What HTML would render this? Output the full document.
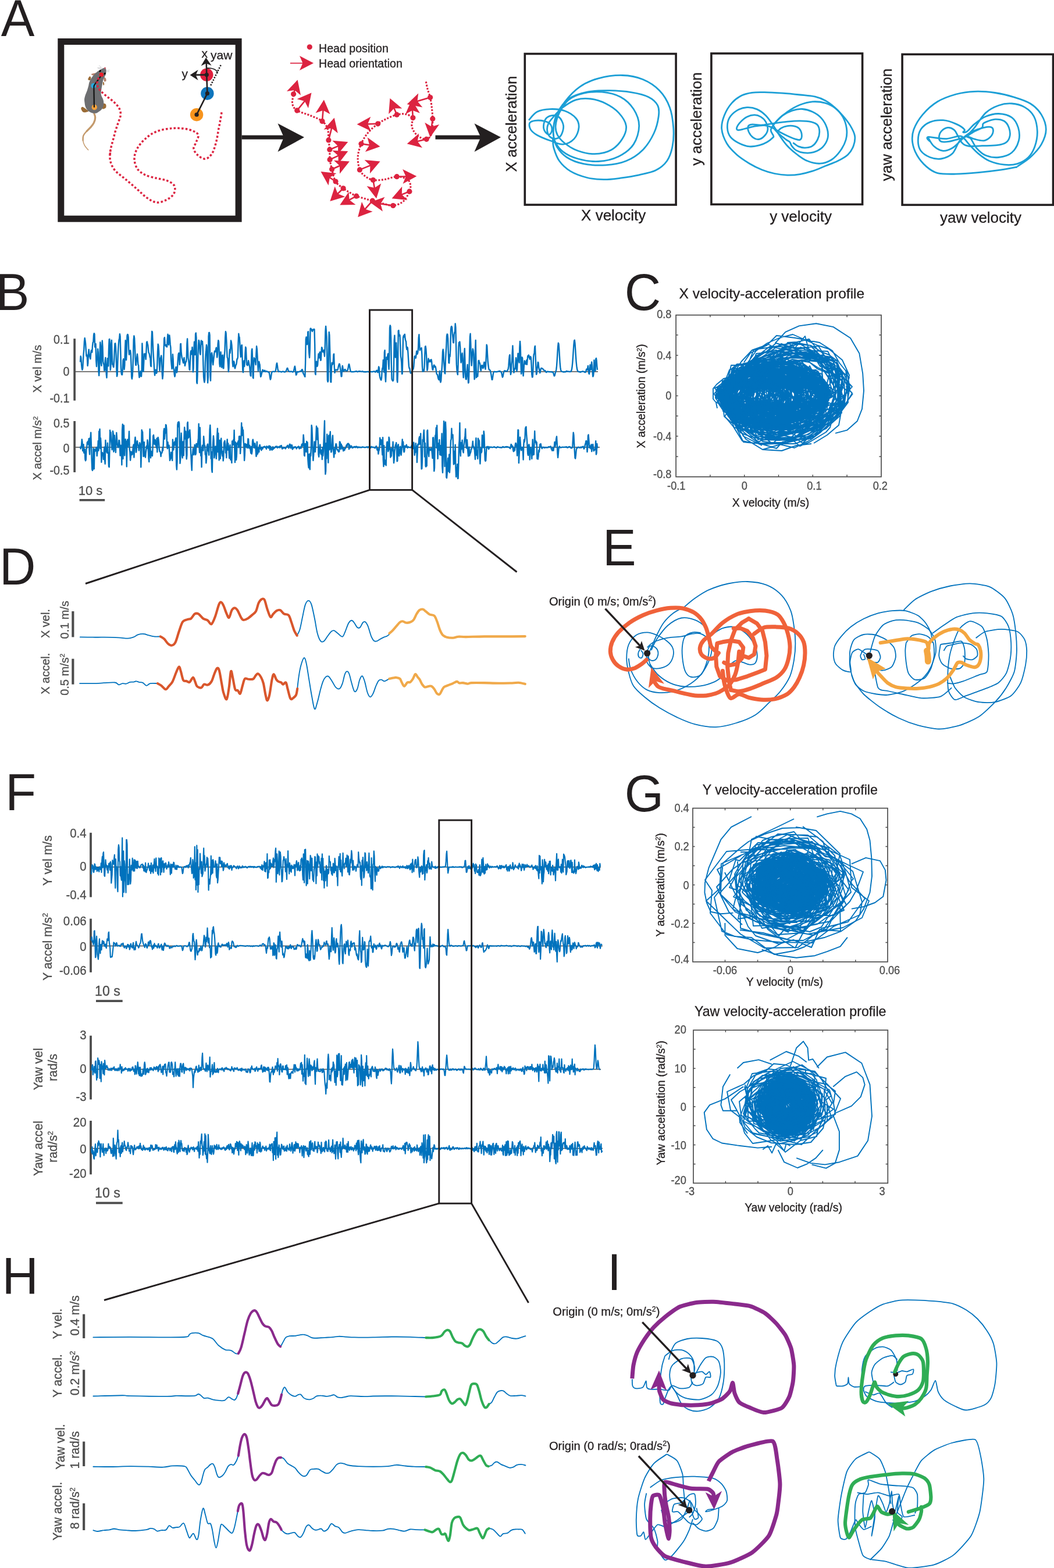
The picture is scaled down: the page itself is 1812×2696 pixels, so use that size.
<!DOCTYPE html>
<html lang="en">
<head>
<meta charset="utf-8">
<title>Head velocity-acceleration profiles</title>
<style>
html,body{margin:0;padding:0;background:#fff;}
body{width:1812px;height:2696px;overflow:hidden;}
svg{display:block;font-family:"Liberation Sans",Arial,Helvetica,sans-serif;}
text{stroke-width:.3px;}
</style>
</head>
<body>
<svg width="1812" height="2696" viewBox="0 0 1812 2696">
<rect width="1812" height="2696" fill="#ffffff"/>
<!-- panel A -->
<g>
<text transform="translate(1.7,61.8) scale(0.965,1)" font-size="89.5" fill="#231f20" stroke="none">A</text>
<rect x="104.8" y="71.5" width="305.3" height="304.7" fill="none" stroke="#231f20" stroke-width="11"/>
<path d="M161.5,194C161.9,195.4 163.7,199.2 163.7,202C163.7,204.8 162.8,208.1 161.5,210.8C160.3,213.5 158.5,215.6 156.4,218.1C154.4,220.5 150.4,224.1 149.2,225.4" fill="none" stroke="#c49a6c" stroke-width="3.2" stroke-linecap="round"/>
<path d="M156.4,218.1C155.2,219.3 151.3,222.8 149.2,225.4C147,227.9 144.4,230.7 143.3,233.4C142.2,236.1 142.7,240.1 142.6,241.4" fill="none" stroke="#c49a6c" stroke-width="2.4" stroke-linecap="round"/>
<path d="M143.3,233.4C143.2,234.7 142.2,238.6 142.6,241.4C143,244.2 144,247.4 145.5,250.1C147,252.9 150.7,256.5 151.7,257.8" fill="none" stroke="#c49a6c" stroke-width="1.5" stroke-linecap="round"/>
<path d="M139.3,186.7C139.2,185.3 140.5,183.7 141.9,183.8C143.3,183.9 146,186.2 147.7,187.5C149.4,188.7 152.1,190.2 152.1,191.1C152.1,192 149.3,192.7 147.7,192.9C146.1,193.2 144,193.6 142.6,192.6C141.2,191.5 139.4,188.2 139.3,186.7Z" fill="#9a6b35"/>
<path d="M177.6,178C178.7,177.3 181.2,178.2 182,179.4C182.7,180.7 182.8,183.9 182,185.3C181.1,186.6 177.9,187.7 176.9,187.5C175.8,187.2 175.3,185.4 175.4,183.8C175.5,182.2 176.5,178.7 177.6,178Z" fill="#9a6b35"/>
<path d="M151.3,136.4C151.2,135.3 153.4,131.8 154.3,131.3C155.1,130.9 156.3,132.4 156.4,133.5C156.6,134.6 155.8,137.4 155,137.9C154.1,138.4 151.5,137.5 151.3,136.4Z" fill="#9a6b35"/>
<path d="M176.9,142.3C177,141.3 177.9,140.3 178.3,140.8C178.7,141.3 179.3,144.2 179.2,145.2C179.1,146.2 178,147.1 177.6,146.6C177.2,146.2 176.7,143.2 176.9,142.3Z" fill="#9a6b35"/>
<path d="M157.2,127.3C158.1,126.7 164,125.2 165.2,125.5C166.4,125.8 165.4,128.5 164.5,129.2C163.5,129.8 160.6,129.8 159.4,129.5C158.1,129.2 156.2,128 157.2,127.3Z" fill="#b5816b"/>
<path d="M178.3,132.8C178.8,132 181.3,133.9 182,135C182.6,136.1 182.8,138.6 182.3,139.4C181.8,140.1 179.7,140.8 179,139.7C178.4,138.6 177.8,133.6 178.3,132.8Z" fill="#b5816b"/>
<path d="M180.9,116.4C181.6,117.1 182.5,119.3 182.7,121.1C182.9,123 182.4,125.9 182,127.7C181.5,129.5 180.5,130.6 179.8,132.1C179,133.5 178.1,134.9 177.6,136.4C177,138 176.9,139.7 176.5,141.5C176.1,143.4 175.8,145.3 175.4,147.4C175,149.4 174.6,151.7 174.3,153.9C174,156.1 173.5,158.6 173.6,160.5C173.6,162.4 174.1,163.9 174.7,165.6C175.3,167.3 176.6,168.9 177.2,170.7C177.8,172.5 178.2,174.6 178.3,176.5C178.4,178.5 178.2,180.4 177.6,182.4C177,184.3 175.9,186.6 174.7,188.2C173.4,189.8 171.7,190.8 170.3,191.8C168.8,192.9 167.5,193.9 165.9,194.4C164.3,194.9 162.5,194.9 160.8,194.8C159.1,194.6 157.4,194.1 155.7,193.3C154,192.4 152.1,191.2 150.6,189.7C149.2,188.1 147.8,186 147,183.8C146.1,181.6 145.8,178.8 145.5,176.5C145.2,174.2 144.9,172.3 145.1,170C145.4,167.7 146.2,165.1 147,162.7C147.8,160.3 149,157.8 149.9,155.4C150.7,153 151.5,150.4 152.1,148.1C152.7,145.8 152.7,143.9 153.5,141.5C154.4,139.2 155.7,136.6 157.2,134.3C158.6,131.9 160.5,129.6 162.3,127.7C164.1,125.8 166.2,124.1 168.1,122.6C170,121.1 172.2,119.9 173.9,119C175.6,118 177.2,117.6 178.3,117.1C179.5,116.7 180.1,115.7 180.9,116.4Z" fill="#6d6e71"/>
<circle cx="180.5" cy="117.1" r="1.6" fill="#c9606e"/>
<ellipse cx="172.1" cy="122.2" rx="1.3" ry="2" fill="#000" transform="rotate(35 172.1 122.2)"/>
<ellipse cx="180.1" cy="126.6" rx="1.3" ry="2" fill="#000" transform="rotate(35 180.1 126.6)"/>
<path d="M167.4,116.4L173.9,116.8 M168.1,118.2L174.3,117.9 M170.3,112.4L174.7,116.4 M184.1,121.9L188.5,120 M184.1,123.3L188.1,123" fill="none" stroke="#9d9fa2" stroke-width="0.5" />
<circle cx="160.8" cy="147.4" r="4.4" fill="#27aae1"/>
<circle cx="162.3" cy="184.5" r="4.7" fill="#f7a13a"/>
<circle cx="174.3" cy="128.4" r="3.7" fill="#ed1c24"/>
<path d="M172.8,131.7C172.2,132.5 167.8,138.5 166.6,140.1C165.5,141.7 162.2,145.6 161.7,147.4C161.2,149.2 161.5,154.7 161.5,158.3C161.6,162 161.9,181.3 161.9,183.8" fill="none" stroke="#111" stroke-width="2.2" stroke-linecap="round"/>
<path d="M174.3,128.4C173.4,129.6 170,133.3 168.8,135.7C167.6,138.1 167.1,140.6 167,143C167,145.4 167.6,147.8 168.5,149.9C169.4,152.1 170.9,153.9 172.5,155.8C174.1,157.6 176.1,159.2 177.9,160.9C179.8,162.5 181.5,164.1 183.4,165.6C185.3,167.1 187.3,168.5 189.2,170C191.2,171.5 193.3,173.1 195.1,174.7C196.9,176.3 198.6,178 200.2,179.8C201.8,181.6 203.4,183.2 204.5,185.3C205.7,187.4 206.7,190.2 207.1,192.6C207.5,194.9 207.5,197.2 207.1,199.5C206.7,201.8 205.7,204.1 204.9,206.4C204.1,208.7 203.2,211.1 202.4,213.3C201.6,215.6 200.9,217.7 200.2,219.9C199.4,222.1 198.7,224.5 198,226.8C197.3,229.1 196.8,231.4 196.2,233.7C195.6,236.1 195,238.4 194.3,240.7C193.7,242.9 193.1,244.9 192.5,247.2C191.9,249.5 191.2,252 190.7,254.5C190.2,257 189.5,259.9 189.2,262.2C188.9,264.5 188.8,269 188.9,268.4C189,267.7 189.9,257.1 190,258.3C190.1,259.5 188.2,269.8 189.4,275.5C190.7,281.2 193.1,287.4 197.4,292.7C201.8,298.1 208.9,302.3 215.2,307.7C221.6,313 229.1,319.5 235.3,324.9C241.5,330.3 246.8,336.2 252.6,340.1C258.3,344 264,347.6 269.8,348.1C275.5,348.6 282.1,345.8 287,343.2C291.9,340.7 296.9,336.9 299,332.9C301.1,328.9 301.6,322.9 299.6,319.1C297.6,315.4 292,312.6 287,310.5C282,308.4 276,308.1 269.8,306.5C263.6,304.9 255.3,303.5 249.7,300.8C244,298 239,294.5 235.9,289.9C232.8,285.2 231,278.4 231,272.6C231,266.9 232.8,261.1 235.9,255.4C239,249.8 244,243.7 249.7,238.8C255.3,233.8 261.6,228.9 269.8,225.9C277.9,222.8 289.4,220.9 298.5,220.4C307.6,219.9 317.3,220.9 324.3,222.7C331.3,224.5 338.2,227.5 340.4,231C342.6,234.6 338.7,239.9 337.5,243.9C336.3,248 332.5,251.6 332.9,255.4C333.3,259.2 336.7,263.9 340.1,266.9C343.4,269.9 348.9,273.7 353,273.2C357.1,272.7 361.4,268.9 364.5,264C367.6,259.2 369.7,251.1 371.7,243.9C373.6,236.8 374.8,227.2 376,221C377.2,214.8 378,211.3 378.8,206.6C379.7,201.9 380.7,195.2 381.1,192.9" fill="none" stroke="#dc2340" stroke-width="3.5" stroke-dasharray="3.5 3.3"/>
<circle cx="355.3" cy="128.6" r="11.2" fill="#e01f3d"/>
<circle cx="356.4" cy="160.7" r="11.2" fill="#0f75bc"/>
<circle cx="338.1" cy="197.2" r="11.2" fill="#f7941d"/>
<path d="M355.3,128.6 356.4,160.7 338.1,197.2" fill="none" stroke="#231f20" stroke-width="2.6" />
<circle cx="355.3" cy="128.6" r="3.6" fill="#231f20"/>
<circle cx="356.4" cy="160.7" r="3.6" fill="#231f20"/>
<circle cx="338.1" cy="197.2" r="3.6" fill="#231f20"/>
<path d="M362.2,146.9 380.3,110.5" fill="none" stroke="#231f20" stroke-width="2.6" stroke-dasharray="2.4 2.2"/>
<path d="M355.3,128.6 354.7,107" fill="none" stroke="#231f20" stroke-width="2.6" />
<path d="M354.1,99 345.6,113.3 354.4,109 363.6,112.7Z" fill="#231f20"/>
<path d="M355.3,128.6 334.6,128.9" fill="none" stroke="#231f20" stroke-width="2.6" />
<path d="M326.6,128.9 340.6,137.9 336.6,128.9 340.6,119.9Z" fill="#231f20"/>
<path d="M355.9,117.1C357.3,117.2 361.8,117 364.5,117.7C367.1,118.3 370,119.8 371.7,121.1C373.3,122.4 374,124.9 374.5,125.7" fill="none" stroke="#231f20" stroke-width="1.6" />
<text x="346.5" y="98.5" font-size="21" fill="#231f20" stroke="#231f20" text-anchor="start" >x</text>
<text x="362" y="102" font-size="21" fill="#231f20" stroke="#231f20" text-anchor="start" >yaw</text>
<text x="312.5" y="134" font-size="21" fill="#231f20" stroke="#231f20" text-anchor="start" >y</text>
<rect x="415.5" y="232.6" width="74.5" height="7" fill="#231f20"/>
<path d="M523,236.1L477.5,212.2L488,236.1L477.5,261Z" fill="#231f20"/>
<rect x="748.5" y="232.6" width="79.5" height="7" fill="#231f20"/>
<path d="M861,236.1L815.5,212.2L826.5,236.1L815.5,261Z" fill="#231f20"/>
<circle cx="532.3" cy="80.8" r="4.6" fill="#dc2340"/>
<text x="548" y="89.6" font-size="19.6" fill="#231f20" stroke="#231f20" text-anchor="start" >Head position</text>
<text x="548" y="116.2" font-size="19.6" fill="#231f20" stroke="#231f20" text-anchor="start" >Head orientation</text>
<path d="M498.9,108.6 531,108.6" fill="none" stroke="#dc2340" stroke-width="1.8" />
<path d="M539,108.6 515,96.1 520.5,108.6 515,121.1Z" fill="#dc2340"/>
<path d="M732.3,140.4C732.8,142.8 734.2,150.3 735.5,154.8C736.7,159.3 738.4,162.2 739.6,167.6C740.8,172.9 741.8,180.6 742.5,186.7C743.2,192.8 743.6,198.4 743.8,204.2C743.9,210.1 743.6,217 743.1,221.8C742.6,226.5 742.2,230 740.6,232.9C738.9,235.8 736.6,238.9 733.2,239.3C729.9,239.7 724.2,237.5 720.5,235.2C716.8,232.8 713,228.5 710.9,224.9C708.8,221.4 707.9,217.5 707.7,213.8C707.6,210.1 711.8,205.6 709.9,202.6C708.1,199.7 701.2,197.2 696.6,196.2C691.9,195.3 687.5,195.9 682.2,197.2C676.9,198.5 670.1,201.6 664.7,204.2C659.2,206.8 655,208.8 649.7,212.8C644.4,216.8 637.6,222.4 632.8,228.1C628,233.9 623.9,240.4 621,247.3C618.1,254.2 615.7,262.2 615.2,269.6C614.8,277 616.3,286.3 618.4,291.9C620.6,297.5 624.2,300.2 628,303.1C631.8,306 635.8,308.5 641.4,309.5C647,310.4 654.7,309.5 661.5,308.5C668.3,307.5 675.8,303.8 682.2,303.7C688.6,303.6 695.9,305.6 699.7,307.9C703.6,310.1 704.8,313.9 705.5,317.4C706.2,321 705.9,324.4 703.9,329.2C701.9,334 698,342.1 693.4,346.1C688.7,350.2 681.7,352.8 675.8,353.5C670,354.1 664.2,351.3 658.3,349.9C652.4,348.6 645.7,346.6 640.4,345.2C635.1,343.7 631,342.7 626.4,341.3C621.8,340 616.9,338.9 612.7,337.2C608.4,335.4 604.7,333 600.9,330.8C597.1,328.6 594,326.9 590.1,323.8C586.1,320.7 580.2,317.5 577,312C573.7,306.5 572.2,297.2 570.6,291C569,284.7 567.7,280 567.1,274.4C566.5,268.7 567.1,262.7 566.8,257.2C566.4,251.6 565.4,246.8 564.9,240.9C564.3,235 565.1,227.2 563.3,221.8C561.5,216.3 558.9,212.2 554,208.4C549.1,204.5 541.2,201.9 533.9,198.8C526.7,195.7 515.9,193.2 510.7,189.9C505.4,186.5 503.7,183.4 502.7,178.7C501.7,174 504.3,164.6 504.6,161.8" fill="none" stroke="#dc2340" stroke-width="3.1" stroke-dasharray="3.0 2.4"/>
<circle cx="504.6" cy="161.8" r="4.6" fill="#dc2340"/>
<path d="M504.6,161.8 509.4,144.9" fill="none" stroke="#dc2340" stroke-width="2.6" />
<path d="M511.6,137.3 493,156.9 506.5,155 517,163.8Z" fill="#dc2340"/>
<circle cx="510.7" cy="189.9" r="4.6" fill="#dc2340"/>
<path d="M510.7,189.9 530.4,165.8" fill="none" stroke="#dc2340" stroke-width="2.6" />
<path d="M535.5,159.6 510.6,170.2 523.8,173.9 530,186.1Z" fill="#dc2340"/>
<circle cx="554" cy="208.4" r="4.6" fill="#dc2340"/>
<path d="M554,208.4 556.3,179.4" fill="none" stroke="#dc2340" stroke-width="2.6" />
<path d="M556.9,171.4 542.6,194.3 555.5,189.8 567.5,196.3Z" fill="#dc2340"/>
<circle cx="564.9" cy="240.9" r="4.6" fill="#dc2340"/>
<path d="M564.9,240.9 572.7,210.4" fill="none" stroke="#dc2340" stroke-width="2.6" />
<path d="M574.7,202.6 556.6,222.7 570.1,220.5 580.8,229Z" fill="#dc2340"/>
<circle cx="566.8" cy="257.2" r="4.6" fill="#dc2340"/>
<path d="M566.8,257.2 591,247.1" fill="none" stroke="#dc2340" stroke-width="2.6" />
<path d="M598.3,244.1 571.4,241.7 581.2,251.2 581,264.8Z" fill="#dc2340"/>
<circle cx="567.1" cy="274.4" r="4.6" fill="#dc2340"/>
<path d="M567.1,274.4 591.1,263.4" fill="none" stroke="#dc2340" stroke-width="2.6" />
<path d="M598.3,260 571.3,258.7 581.5,267.7 581.7,281.4Z" fill="#dc2340"/>
<circle cx="570.6" cy="291" r="4.6" fill="#dc2340"/>
<path d="M570.6,291 593.6,280.8" fill="none" stroke="#dc2340" stroke-width="2.6" />
<path d="M600.9,277.6 573.9,275.8 584,285 584,298.7Z" fill="#dc2340"/>
<circle cx="577" cy="312" r="4.6" fill="#dc2340"/>
<path d="M577,312 558.1,299.5" fill="none" stroke="#dc2340" stroke-width="2.6" />
<path d="M551.5,295.1 564.6,318.8 566.9,305.3 578.4,297.9Z" fill="#dc2340"/>
<circle cx="590.1" cy="323.8" r="4.6" fill="#dc2340"/>
<path d="M590.1,323.8 573.1,340.5" fill="none" stroke="#dc2340" stroke-width="2.6" />
<path d="M567.4,346.1 593.3,338.2 580.6,333.1 575.7,320.4Z" fill="#dc2340"/>
<circle cx="612.7" cy="337.2" r="4.6" fill="#dc2340"/>
<path d="M612.7,337.2 591.4,348.7" fill="none" stroke="#dc2340" stroke-width="2.6" />
<path d="M584.3,352.5 611.4,352.1 600.6,343.7 599.5,330.1Z" fill="#dc2340"/>
<circle cx="640.4" cy="345.2" r="4.6" fill="#dc2340"/>
<path d="M640.4,345.2 620.6,367.3" fill="none" stroke="#dc2340" stroke-width="2.6" />
<path d="M615.2,373.2 640.6,363.7 627.6,359.5 622,347Z" fill="#dc2340"/>
<circle cx="675.8" cy="353.5" r="4.6" fill="#dc2340"/>
<path d="M675.8,353.5 643.9,348.9" fill="none" stroke="#dc2340" stroke-width="2.6" />
<path d="M636,347.7 657.9,363.5 654.3,350.4 661.5,338.8Z" fill="#dc2340"/>
<circle cx="703.9" cy="329.2" r="4.6" fill="#dc2340"/>
<path d="M703.9,329.2 681,338.4" fill="none" stroke="#dc2340" stroke-width="2.6" />
<path d="M673.6,341.3 700.5,344 690.8,334.5 691.2,320.8Z" fill="#dc2340"/>
<circle cx="682.2" cy="303.7" r="4.6" fill="#dc2340"/>
<path d="M682.2,303.7 708.3,303.2" fill="none" stroke="#dc2340" stroke-width="2.6" />
<path d="M716.3,303.1 692.1,291 697.8,303.4 692.6,316Z" fill="#dc2340"/>
<circle cx="641.4" cy="309.5" r="4.6" fill="#dc2340"/>
<path d="M641.4,309.5 645.7,333.5" fill="none" stroke="#dc2340" stroke-width="2.6" />
<path d="M647.1,341.3 655.2,315.5 643.9,323.1 630.6,319.9Z" fill="#dc2340"/>
<circle cx="618.4" cy="291.9" r="4.6" fill="#dc2340"/>
<path d="M618.4,291.9 646.1,280.6" fill="none" stroke="#dc2340" stroke-width="2.6" />
<path d="M653.5,277.6 626.6,275.1 636.4,284.6 636,298.2Z" fill="#dc2340"/>
<circle cx="621" cy="247.3" r="4.6" fill="#dc2340"/>
<path d="M621,247.3 645.6,250.9" fill="none" stroke="#dc2340" stroke-width="2.6" />
<path d="M653.5,252.1 631.6,236.2 635.2,249.4 627.9,260.9Z" fill="#dc2340"/>
<circle cx="649.7" cy="212.8" r="4.6" fill="#dc2340"/>
<path d="M649.7,212.8 621.6,213.6" fill="none" stroke="#dc2340" stroke-width="2.6" />
<path d="M613.6,213.8 638,225.6 632.1,213.3 637.3,200.7Z" fill="#dc2340"/>
<circle cx="682.2" cy="197.2" r="4.6" fill="#dc2340"/>
<path d="M682.2,197.2 673.5,176.5" fill="none" stroke="#dc2340" stroke-width="2.6" />
<path d="M670.4,169.1 668.2,196.1 677.6,186.2 691.2,186.4Z" fill="#dc2340"/>
<circle cx="709.9" cy="202.6" r="4.6" fill="#dc2340"/>
<path d="M709.9,202.6 708.3,179.4" fill="none" stroke="#dc2340" stroke-width="2.6" />
<path d="M707.7,171.4 697,196.2 709,189.8 721.9,194.4Z" fill="#dc2340"/>
<circle cx="739.6" cy="167.6" r="4.6" fill="#dc2340"/>
<path d="M739.6,167.6 707.4,177.1" fill="none" stroke="#dc2340" stroke-width="2.6" />
<path d="M699.7,179.3 726.3,184.5 717.5,174.1 719.2,160.6Z" fill="#dc2340"/>
<circle cx="743.8" cy="204.2" r="4.6" fill="#dc2340"/>
<path d="M743.8,204.2 740.6,228.2" fill="none" stroke="#dc2340" stroke-width="2.6" />
<path d="M739.6,236.1 755.1,213.9 742,217.8 730.3,210.7Z" fill="#dc2340"/>
<circle cx="733.2" cy="239.3" r="4.6" fill="#dc2340"/>
<path d="M733.2,239.3 707.5,245.4" fill="none" stroke="#dc2340" stroke-width="2.6" />
<path d="M699.7,247.3 726,253.9 717.7,243 720.2,229.6Z" fill="#dc2340"/>
<rect x="902.3" y="92.5" width="259.8" height="259.6" fill="none" stroke="#231f20" stroke-width="3.6"/>
<rect x="1222.9" y="91.9" width="259.7" height="259.5" fill="none" stroke="#231f20" stroke-width="3.6"/>
<rect x="1551.1" y="93.4" width="259.4" height="258.9" fill="none" stroke="#231f20" stroke-width="3.6"/>
<text x="887.5" y="213" font-size="26" fill="#231f20" stroke="#231f20" text-anchor="middle" transform="rotate(-90 887.5 213)" >X acceleration</text>
<text x="1206" y="204.5" font-size="26" fill="#231f20" stroke="#231f20" text-anchor="middle" transform="rotate(-90 1206 204.5)" >y acceleration</text>
<text x="1532.8" y="214.5" font-size="26" fill="#231f20" stroke="#231f20" text-anchor="middle" transform="rotate(-90 1532.8 214.5)" >yaw acceleration</text>
<text x="1054.7" y="378.6" font-size="26" fill="#231f20" stroke="#231f20" text-anchor="middle" >X velocity</text>
<text x="1376.6" y="381" font-size="26" fill="#231f20" stroke="#231f20" text-anchor="middle" >y velocity</text>
<text x="1686" y="382.6" font-size="26" fill="#231f20" stroke="#231f20" text-anchor="middle" >yaw velocity</text>
<path d="M909,206.7C911.4,204.3 917.2,195.5 923.3,192.3C929.5,189.1 937.7,187.8 945.7,187.6C953.6,187.3 963.7,188.1 971.2,190.7C978.6,193.4 986.3,198.7 990.3,203.5C994.3,208.3 995.6,213.6 995.1,219.4C994.6,225.3 991.6,233.8 987.1,238.6C982.6,243.4 974.9,247.6 968,248.1C961.1,248.7 953.1,244.4 945.7,241.8C938.2,239.1 928.9,235.4 923.3,232.2C917.8,229 914.3,226.1 912.2,222.6C910.1,219.2 909.3,214 910.6,211.5C911.9,208.9 915.9,207.9 920.2,207.3C924.4,206.8 931.8,207.3 936.1,208.3C940.3,209.2 943.5,210.7 945.7,213.1C947.8,215.5 948.9,219.7 948.9,222.6C948.9,225.6 947.3,229.5 945.7,230.6C944.1,231.7 941.1,230.9 939.3,229C937.4,227.1 934.8,223.4 934.5,219.4C934.2,215.5 935.3,208.5 937.7,205.1C940.1,201.6 944.9,199.2 948.9,198.7C952.8,198.2 958.3,199 961.6,201.9C964.9,204.8 968.1,211.2 968.6,216.2C969.2,221.3 967,228.5 964.8,232.2C962.6,235.9 958.4,238 955.2,238.6C952,239.1 948.1,237.5 945.7,235.4C943.3,233.3 941.4,229.5 940.9,225.8C940.3,222.1 940.6,217.3 942.5,213.1C944.3,208.8 947.8,205.1 952,200.3C956.3,195.5 961.6,189.1 968,184.4C974.4,179.6 982.3,174 990.3,171.6C998.3,169.2 1007.3,168.9 1015.8,170C1024.3,171.1 1033.4,174 1041.3,178C1049.3,182 1057.8,187.6 1063.6,193.9C1069.5,200.3 1075.3,208.8 1076.4,216.2C1077.5,223.7 1074.3,231.7 1070,238.6C1065.8,245.5 1058.9,253.3 1050.9,257.7C1042.9,262.1 1031.8,264.5 1022.2,264.7C1012.6,265 1002,262.3 993.5,259.3C985,256.3 977,251.1 971.2,246.5C965.3,242 961.1,237.2 958.4,232.2C955.8,227.1 954.7,222.6 955.2,216.2C955.8,209.9 957.9,201.4 961.6,193.9C965.3,186.5 970.6,177.2 977.6,171.6C984.5,166 993.5,162.7 1003.1,160.4C1012.6,158.2 1024.3,157.2 1034.9,158.2C1045.6,159.3 1057.8,161.9 1066.8,166.8C1075.9,171.7 1083.8,179.3 1089.2,187.6C1094.5,195.8 1098.7,206.2 1098.7,216.2C1098.7,226.3 1095,239.4 1089.2,248.1C1083.3,256.9 1073.7,264 1063.6,268.9C1053.6,273.8 1040.3,276.8 1028.6,277.5C1016.9,278.2 1003.6,275.8 993.5,273C983.4,270.2 974.6,266.1 968,260.9C961.3,255.7 956.4,248.7 953.6,241.8C950.9,234.9 950.6,227.4 951.4,219.4C952.2,211.5 954.1,202.2 958.4,193.9C962.8,185.7 969,176 977.6,170C986.1,164.1 997.7,160.6 1009.4,158.2C1021.1,155.8 1034.9,155.6 1047.7,155.7C1060.5,155.8 1074.8,157 1086,158.9C1097.1,160.7 1107.2,163.1 1114.7,166.8C1122.1,170.5 1127.7,175.6 1130.6,181.2C1133.5,186.8 1133.3,192.3 1132.2,200.3C1131.1,208.3 1128.8,219.4 1124.2,229C1119.7,238.6 1113.1,249.7 1105.1,257.7C1097.1,265.7 1087,272.5 1076.4,276.8C1065.8,281.2 1053.6,283.1 1041.3,283.9C1029.1,284.6 1014.2,283.9 1003.1,281.6C991.9,279.4 982.1,275.5 974.4,270.5C966.7,265.4 960.7,258.2 956.8,251.3C953,244.4 951.7,237 951.4,229C951.1,221 951.9,212.5 955.2,203.5C958.5,194.5 964.3,183.8 971.2,174.8C978.1,165.8 987.1,155.9 996.7,149.3C1006.2,142.6 1016.3,138.2 1028.6,134.9C1040.8,131.6 1057.3,129.2 1070,129.5C1082.8,129.8 1094.5,132.2 1105.1,136.5C1115.7,140.9 1126.1,147.7 1133.8,155.7C1141.5,163.6 1147.4,173.7 1151.3,184.4C1155.3,195 1156.9,208.3 1157.7,219.4C1158.5,230.6 1158,241.8 1156.1,251.3C1154.3,260.9 1151.3,269.9 1146.6,276.8C1141.8,283.7 1135.4,288.8 1127.4,292.8C1119.5,296.8 1108.8,298.5 1098.7,300.8C1088.6,303 1076.9,304.8 1066.8,306.2C1056.7,307.5 1047.7,308.8 1038.1,308.7C1028.6,308.6 1019,307.9 1009.4,305.5C999.9,303.1 988.7,299.2 980.7,294.4C972.8,289.6 966.4,283.5 961.6,276.8C956.8,270.2 953.9,260.9 952,254.5C950.2,248.1 950.7,241.2 950.4,238.6" fill="none" stroke="#1c9fd6" stroke-width="2.8" stroke-linejoin="round"/>
<path d="M1240.7,221.5C1240,213.6 1242.2,206.2 1245.1,198.8C1247.9,191.4 1253,182.9 1258.1,177.1C1263.1,171.3 1269.6,167 1275.4,164.1C1281.2,161.1 1286.2,160.2 1292.8,159.3C1299.3,158.4 1305.8,158.5 1314.4,158.7C1323.1,158.8 1334.7,159.5 1344.8,160.2C1354.9,160.9 1365.8,162 1375.2,163C1384.5,164 1393.9,164.6 1401.2,166.2C1408.4,167.9 1413.1,169.9 1418.5,172.8C1423.9,175.6 1428.6,179.3 1433.7,183.6C1438.8,187.9 1444.2,193.4 1448.9,198.8C1453.6,204.2 1458.5,210.3 1461.9,216.1C1465.3,221.9 1468.6,227.7 1469.5,233.5C1470.4,239.3 1469.3,245.4 1467.3,250.8C1465.3,256.2 1462.1,261.7 1457.6,266C1453,270.3 1446.7,273.6 1440.2,276.8C1433.7,280.1 1425.7,282.6 1418.5,285.5C1411.3,288.4 1404.1,291.8 1396.8,294.2C1389.6,296.5 1382.4,298.4 1375.2,299.6C1367.9,300.8 1360.7,301.3 1353.5,301.1C1346.2,300.9 1339,300 1331.8,298.5C1324.6,297 1317.3,294.9 1310.1,292C1302.9,289.1 1295.6,285.5 1288.4,281.2C1281.2,276.8 1273.2,271.8 1266.7,266C1260.2,260.2 1253.7,253.9 1249.4,246.5C1245.1,239.1 1241.4,229.5 1240.7,221.5Z" fill="none" stroke="#1c9fd6" stroke-width="2.8" stroke-linejoin="round"/>
<path d="M1250.5,220.5C1250.1,215 1251,208.2 1253.7,203.1C1256.4,198.1 1261.7,193.2 1266.7,190.1C1271.8,187 1278.3,185 1284.1,184.7C1289.9,184.3 1296,185.6 1301.4,187.9C1306.8,190.3 1311.9,194.1 1316.6,198.8C1321.3,203.5 1325.6,210.3 1329.6,216.1C1333.6,221.9 1336.5,227.7 1340.5,233.5C1344.4,239.3 1348.4,245.4 1353.5,250.8C1358.5,256.2 1365,261.7 1370.8,266C1376.6,270.3 1381.7,274.3 1388.2,276.8C1394.7,279.4 1403,281.5 1409.8,281.2C1416.7,280.8 1423.6,278.3 1429.4,274.7C1435.1,271.1 1440.4,265.3 1444.5,259.5C1448.7,253.7 1452.5,246.5 1454.3,240C1456.1,233.5 1456.3,227 1455.4,220.5C1454.5,214 1452.1,206.7 1448.9,200.9C1445.6,195.2 1440.9,189.7 1435.9,185.8C1430.8,181.8 1425,178.9 1418.5,177.1C1412,175.3 1404.1,174.4 1396.8,174.9C1389.6,175.5 1382.4,177.5 1375.2,180.3C1367.9,183.2 1360,187.8 1353.5,192.3C1347,196.8 1340.8,202.4 1336.1,207.4C1331.4,212.5 1326.4,218.3 1325.3,222.6C1324.2,227 1329.1,231.1 1329.6,233.5C1330.2,235.8 1330.3,234.9 1328.5,236.7C1326.7,238.5 1322.6,242.1 1318.8,244.3C1315,246.5 1310.8,248.5 1305.8,249.7C1300.7,251 1294.2,252.4 1288.4,251.9C1282.6,251.4 1276.5,249.2 1271.1,246.5C1265.7,243.8 1259.3,240 1255.9,235.6C1252.5,231.3 1250.8,225.9 1250.5,220.5Z" fill="none" stroke="#1c9fd6" stroke-width="2.8" stroke-linejoin="round"/>
<path d="M1331.8,211.8C1334,209.6 1339.7,202.4 1344.8,198.8C1349.9,195.2 1356.4,192 1362.1,190.1C1367.9,188.2 1373.7,187.1 1379.5,187.5C1385.3,187.9 1391.4,189.7 1396.8,192.3C1402.3,194.9 1407.9,198.4 1412,203.1C1416.2,207.8 1420,214.7 1421.8,220.5C1423.6,226.2 1424.1,232.4 1422.9,237.8C1421.6,243.2 1418.2,249 1414.2,253C1410.2,257 1404.4,260 1399,261.7C1393.6,263.3 1386.7,263.3 1381.7,262.7C1376.6,262.2 1372.1,260.4 1368.6,258.4C1365.2,256.4 1362.9,253.2 1361.1,250.8C1359.3,248.5 1359.4,246.1 1357.8,244.3C1356.2,242.5 1354.2,242.1 1351.3,240C1348.4,237.8 1343.7,234.2 1340.5,231.3C1337.2,228.4 1333.2,224.1 1331.8,222.6" fill="none" stroke="#1c9fd6" stroke-width="2.8" stroke-linejoin="round"/>
<path d="M1363.2,245.4C1364.9,246.5 1369.6,250.5 1373,251.9C1376.4,253.3 1379.9,254.2 1383.8,254.1C1387.8,253.9 1393.2,253.2 1396.8,250.8C1400.5,248.5 1403.5,243.9 1405.5,240C1407.5,236 1408.8,231.1 1408.8,227C1408.8,222.8 1407.9,217.9 1405.5,215C1403.2,212.1 1399.7,210.8 1394.7,209.6C1389.6,208.4 1382,208 1375.2,207.9C1368.3,207.8 1360.7,208.5 1353.5,209.2C1346.2,209.8 1339,210.8 1331.8,211.8C1324.6,212.8 1316.6,214.7 1310.1,215C1303.6,215.4 1296.7,213.6 1292.8,214C1288.8,214.3 1287.2,215 1286.2,217.2C1285.3,219.4 1285.9,223.7 1287.3,227C1288.8,230.2 1292,234.6 1294.9,236.7C1297.8,238.8 1301.4,240.1 1304.7,239.5C1307.9,239 1311.9,236.3 1314.4,233.5C1317,230.7 1319.5,226.6 1319.9,222.6C1320.2,218.7 1318.6,213.2 1316.6,209.6C1314.6,206 1311.2,202.9 1307.9,200.9C1304.7,199 1301.1,197.7 1297.1,197.7C1293.1,197.7 1288.1,199 1284.1,200.9C1280.1,202.9 1276.1,206.5 1273.2,209.6C1270.3,212.7 1267.5,217 1266.7,219.4C1266,221.7 1266.7,223.4 1268.9,223.7C1271.1,224.1 1275,222.6 1279.7,221.5C1284.4,220.5 1291.3,218.2 1297.1,217.2C1302.9,216.2 1309.4,215.3 1314.4,215.7C1319.5,216.1 1323.1,217.5 1327.4,219.4C1331.8,221.3 1336.1,224.6 1340.5,227C1344.8,229.3 1349.1,231.5 1353.5,233.5C1357.8,235.5 1362.9,237.7 1366.5,238.9C1370.1,240 1373.2,241.3 1375.2,240.4C1377.1,239.5 1378.4,236.4 1378.4,233.5C1378.4,230.5 1377.1,225.3 1375.2,222.6C1373.2,219.9 1370.1,218.2 1366.5,217.2C1362.9,216.2 1357.4,216 1353.5,216.6C1349.5,217.1 1345.5,218.7 1342.6,220.5C1339.7,222.2 1337.2,225.9 1336.1,227" fill="none" stroke="#1c9fd6" stroke-width="2.8" stroke-linejoin="round"/>
<path d="M1595.8,237C1597.4,239.4 1601.1,247.6 1605.4,251.3C1609.6,255 1616,258.8 1621.3,259.3C1626.6,259.8 1632.5,257.2 1637.3,254.5C1642,251.9 1646.3,246.8 1650,243.4C1653.7,239.9 1655.9,236.7 1659.6,233.8C1663.3,230.9 1667,228.2 1672.3,225.8C1677.6,223.4 1686.1,220.6 1691.5,219.4C1696.8,218.3 1701.6,217.7 1704.2,218.8C1706.9,219.9 1707.7,223.1 1707.4,225.8C1707.1,228.6 1705.3,232.7 1702.6,235.4C1700,238 1696,241.1 1691.5,241.8C1686.9,242.4 1680.3,240.4 1675.5,239.2C1670.7,238 1667,234.9 1662.8,234.7C1658.5,234.6 1655.3,237.1 1650,238.6C1644.7,240 1636.2,242.6 1630.9,243.4C1625.6,244.2 1620.9,244.4 1618.1,243.4C1615.4,242.3 1614.3,239.9 1614.3,237C1614.3,234.1 1615.6,228.7 1618.1,225.8C1620.6,222.9 1625.6,219.9 1629.3,219.4C1633,219 1637.5,220.9 1640.4,223.3C1643.4,225.7 1644.4,229.9 1646.8,233.8C1649.2,237.7 1651.6,243.6 1654.8,246.5C1658,249.5 1660.4,250.6 1666,251.3C1671.5,252 1680.3,251 1688.3,250.7C1696.2,250.4 1706.9,250.7 1713.8,249.7C1720.7,248.8 1726,247.6 1729.7,244.9C1733.4,242.3 1735.3,238 1736.1,233.8C1736.9,229.5 1736.1,223.7 1734.5,219.4C1732.9,215.2 1730.5,210.7 1726.5,208.3C1722.6,205.9 1715.9,204.8 1710.6,205.1C1705.3,205.4 1698.1,208.5 1694.7,209.9C1691.2,211.2 1690.9,211.5 1689.9,213.1C1688.8,214.7 1690.7,217.3 1688.3,219.4C1685.9,221.6 1679.8,223.4 1675.5,225.8C1671.3,228.2 1667,231.1 1662.8,233.8C1658.5,236.4 1654.3,236.7 1650,241.8C1645.8,246.8 1642.6,258.9 1637.3,264.1C1631.9,269.3 1624.5,271.9 1618.1,273C1611.7,274.1 1604.8,272.7 1599,270.5C1593.1,268.2 1586.5,264.1 1583,259.3C1579.6,254.5 1578.3,247.9 1578.3,241.8C1578.3,235.6 1579.6,227.9 1583,222.6C1586.5,217.3 1592.6,212.5 1599,209.9C1605.4,207.2 1613.9,206.2 1621.3,206.7C1628.8,207.2 1637.5,210.4 1643.6,213.1C1649.7,215.7 1656,220.2 1658,222.6C1660,225 1655,226.9 1655.8,227.4C1656.5,227.9 1659.5,228.2 1662.8,225.8C1666.1,223.4 1670.2,217.3 1675.5,213.1C1680.8,208.8 1687.7,203.2 1694.7,200.3C1701.6,197.4 1709.5,195.3 1717,195.5C1724.4,195.8 1733.7,197.9 1739.3,201.9C1744.9,205.9 1748.4,212.8 1750.5,219.4C1752.5,226.1 1753.3,234.6 1751.4,241.8C1749.6,248.9 1745,257.7 1739.3,262.5C1733.6,267.3 1724.4,269.7 1717,270.5C1709.5,271.3 1701,269.9 1694.7,267.3C1688.3,264.6 1683,259.3 1678.7,254.5C1674.5,249.7 1671.8,242 1669.1,238.6C1666.5,235.1 1661.7,237 1662.8,233.8C1663.8,230.6 1670.2,226.1 1675.5,219.4C1680.8,212.8 1687.7,200.3 1694.7,193.9C1701.6,187.6 1709.5,183.8 1717,181.2C1724.4,178.5 1731.9,177.5 1739.3,178C1746.7,178.5 1755.2,180.6 1761.6,184.4C1768,188.1 1773.9,193.4 1777.6,200.3C1781.2,207.2 1783,217.3 1783.3,225.8C1783.6,234.3 1781.7,243.9 1779.2,251.3C1776.6,258.8 1773,265.4 1768,270.5C1762.9,275.5 1755.8,279.5 1748.9,281.6C1742,283.7 1734.5,284 1726.5,283.2C1718.6,282.4 1708.5,280 1701,276.8C1693.6,273.6 1687.7,268.9 1681.9,264.1C1676.1,259.3 1669.9,252.4 1666,248.1C1662,243.9 1660.6,241 1658,238.6C1655.3,236.2 1655.1,233.8 1650,233.8C1645,233.8 1634.6,238 1627.7,238.6C1620.8,239.1 1613.9,237.5 1608.6,237C1603.2,236.4 1598.2,235.1 1595.8,235.4C1593.4,235.6 1593.7,237.2 1594.2,238.6C1594.7,239.9 1598.2,242.6 1599,243.4" fill="none" stroke="#1c9fd6" stroke-width="2.8" stroke-linejoin="round"/>
<path d="M1748.9,286.4C1752.6,283.7 1764.3,276.8 1771.2,270.5C1778.1,264.1 1785.8,256.1 1790.3,248.1C1794.8,240.2 1798.3,231.1 1798.3,222.6C1798.3,214.1 1794.8,204.6 1790.3,197.1C1785.8,189.7 1779.2,183 1771.2,178C1763.2,172.9 1752.6,169.9 1742.5,166.8C1732.4,163.7 1721.8,161.1 1710.6,159.5C1699.4,157.9 1686.7,156.8 1675.5,157.3C1664.4,157.7 1654.3,159.1 1643.6,162C1633,165 1621.3,168.9 1611.7,174.8C1602.2,180.6 1593,189.1 1586.2,197.1C1579.4,205.1 1573.9,214.7 1570.9,222.6C1568,230.6 1567.7,237.5 1568.7,244.9C1569.7,252.4 1572.7,260.4 1576.7,267.3C1580.7,274.2 1586.8,281.4 1592.6,286.4C1598.5,291.5 1603.2,295.4 1611.7,297.6C1620.2,299.7 1631.9,299.3 1643.6,299.2C1655.3,299 1669.1,297.8 1681.9,296.6C1694.7,295.4 1709,293.7 1720.2,292.1C1731.3,290.5 1744.1,287.9 1748.9,287" fill="none" stroke="#1c9fd6" stroke-width="2.8" stroke-linejoin="round"/>
</g>
<!-- panel B -->
<g>
<text transform="translate(-7.3,532.7) scale(0.965,1)" font-size="89.5" fill="#231f20" stroke="none">B</text>
<rect x="126.3" y="582.3" width="3.7" height="106.4" fill="#4d4d4d"/>
<rect x="126.3" y="724" width="3.7" height="88" fill="#4d4d4d"/>
<rect x="128" y="638.3" width="900" height="1.5" fill="#4d4d4d"/>
<rect x="128" y="768.3" width="903" height="1.5" fill="#4d4d4d"/>
<text transform="translate(119.4,591.2) scale(0.92,1)" font-size="21.4" fill="#4d4d4d" stroke="#4d4d4d" text-anchor="end">0.1</text>
<text transform="translate(119.4,645.6) scale(0.92,1)" font-size="21.4" fill="#4d4d4d" stroke="#4d4d4d" text-anchor="end">0</text>
<text transform="translate(119.4,691.8) scale(0.92,1)" font-size="21.4" fill="#4d4d4d" stroke="#4d4d4d" text-anchor="end">-0.1</text>
<text transform="translate(119.4,734.6) scale(0.92,1)" font-size="21.4" fill="#4d4d4d" stroke="#4d4d4d" text-anchor="end">0.5</text>
<text transform="translate(119.4,777.9) scale(0.92,1)" font-size="21.4" fill="#4d4d4d" stroke="#4d4d4d" text-anchor="end">0</text>
<text transform="translate(119.4,815.8) scale(0.92,1)" font-size="21.4" fill="#4d4d4d" stroke="#4d4d4d" text-anchor="end">-0.5</text>
<text x="70.5" y="634" font-size="20" fill="#4d4d4d" stroke="#4d4d4d" text-anchor="middle" transform="rotate(-90 70.5 634)" >X vel m/s</text>
<text x="71.5" y="770.6" font-size="20" fill="#4d4d4d" stroke="#4d4d4d" text-anchor="middle" transform="rotate(-90 71.5 770.6)" >X accel m/s<tspan font-size="11.7" dy="-6.7">2</tspan></text>
<text x="134.7" y="851.4" font-size="22" fill="#4d4d4d" stroke="#4d4d4d" text-anchor="start" >10 s</text>
<rect x="136.6" y="858" width="43.6" height="3.7" fill="#4d4d4d"/>
<path d="M138 622.5l.7-10.1 .7 2.7 .7 12.1 .7 6.5 .7 2.1 .7-2.3 .7-13 .7-11.7 .7-7.9 .7-14.1 .7-5.5 .7 3.6 .7 5.7 .7 10.8 .7 10.7 .7-2.3 .7 5 .7 14.2 .7-5 .7-16.4 .7-6.7 .7 7.2 .7 4 .7 2.8 .7 2.3 .7-9.8 .7-4.9 .7 2.5 .7 .7 .7-10.7 .7-6.2 .7-.7 .7-12.3 .7-2.7 .7 1.4 .7 22.2 .7-.8 .7-4.8 .7 29.5 .7 9.6 .7-11.4 .7-1.5 .7-17.3 .7 6 .7 32 .7 7.8 .7-10.8 .7-26.5 .7-20 .7 6.8 .7 29.2 .7 4.4 .7-29.1 .7-14.1 .7 11.3 .7 24.4 .7 3.9 .7 1.7 .7 10.1 .7-.7 .7-15.8 .7-5.7 .7 11.6 .7 17.1 .7 5.9 .7-15.9 .7-17.4 .7 9.8 .7 3.4 .7-29.7 .7-16.1 .7-.5 .7 17.7 .7 35.4 .7-6.8 .7-38.4 .7-6 .7 23.5 .7 18.1 .7-.3 .7 4.1 .7 .9 .7-10.1 .7-17.9 .7-12.6 .7-.4 .7 5.8 .7 13.9 .7 24.2 .7 12.9 .7-2.7 .7-22.6 .7-17.5 .7-12 .7-7.8 .7-2.4 .7-7.8 .7 3.9 .7 25.2 .7 29.6 .7 9.3 .7 2.1 .7-.1 .7-8.5 .7-15.9 .7-2.7 .7 8.2 .7 9.9 .7-7.2 .7-26.3 .7-16.5 .7 10.3 .7 23.5 .7-14.9 .7-27.1 .7-2.1 .7 .3 .7 4.3 .7 21.6 .7 8.5 .7-3.6 .7-3.1 .7-.4 .7 5.9 .7 19.2 .7 21 .7 2.8 .7-4.4 .7-11.2 .7-21.4 .7-30.3 .7-6.8 .7 3.5 .7 13.8 .7 19.7 .7 13.2 .7 .2 .7-7.5 .7-6.9 .7-4.6 .7 6.3 .7 11.8 .7 1.2 .7 14.6 .7 6.3 .7-1.9 .7-6.3 .7-2.5 .7 8.4 .7 .6 .7-10.2 .7-46.7 .7 17.1 .7 30 .7 1.2 .7-14.7 .7-15.6 .7 1.6 .7-1.7 .7 2.4 .7 7.2 .7-11.8 .7-17.3 .7-1.4 .7 3.1 .7 2.7 .7 7 .7 6.1 .7 .9 .7 2.6 .7 4.3 .7 1.7 .7 12.9 .7 1.4 .7-43.3 .7-17.2 .7 1.2 .7 16.7 .7 15.6 .7 11.8 .7 10.3 .7 14.1 .7 6.1 .7-5.8 .7-3.8 .7 2.7 .7 3.4 .7-1.2 .7-13.1 .7-23 .7-12.9 .7 2.7 .7 10.2 .7 20.2 .7 12.5 .7-10 .7-11.3 .7-1.9 .7-2.7 .7 6.5 .7 23.8 .7 9.7 .7-5.9 .7-15.6 .7-22.8 .7-24.7 .7-2.2 .7 10.7 .7 3.3 .7-1.4 .7 3 .7 .1 .7 .5 .7-13.5 .7-8.1 .7 4.1 .7 14.1 .7-9.6 .7-7 .7 5.7 .7 10.1 .7 4.9 .7 21.8 .7 8.2 .7 7.1 .7-3.8 .7-21.2 .7 8.2 .7 15.7 .7 2.5 .7 7.9 .7 4.1 .7-2.6 .7-11 .7-3 .7 5.8 .7 3.7 .7-3.8 .7-9.6 .7-10.2 .7-8.1 .7-1.9 .7 7 .7 13.1 .7-9.8 .7-25.8 .7-.5 .7 14.1 .7 7.1 .7 3.6 .7 2.2 .7 3.2 .7 3 .7-2.8 .7-6.4 .7 7.2 .7 6.9 .7-3.1 .7-3.8 .7 0 .7-5.2 .7-25.5 .7-9 .7 16.2 .7 16.5 .7 4.1 .7 6.2 .7 10.1 .7 .4 .7-14.6 .7-15.4 .7-2.8 .7 6.2 .7-4.4 .7-8 .7 9.7 .7 32.9 .7-6.6 .7-29.5 .7-15.7 .7 15.6 .7 6.8 .7-35.9 .7-1.8 .7 8.2 .7 76.6 .7 2.1 .7-15.4 .7-29.2 .7-20.8 .7-9 .7 2.1 .7 9.2 .7 10.7 .7 2.7 .7-12.5 .7-11.6 .7 2.3 .7 4.1 .7-5 .7 10.5 .7 30.2 .7 20.6 .7 6.3 .7 2.9 .7-4.3 .7-29.5 .7-14.6 .7-6.8 .7-9.3 .7 3.6 .7 40.4 .7 21.4 .7-9.7 .7-69.9 .7-6.7 .7-.2 .7 4.5 .7 69 .7 9.3 .7-24.9 .7-21.4 .7-1.7 .7 3.9 .7 11.3 .7 5.6 .7-6.5 .7-6.4 .7-6.6 .7-4.2 .7 1.3 .7-.5 .7-4.3 .7-2.5 .7 8.2 .7 8.6 .7-5.2 .7-18 .7-6.2 .7 2.1 .7 14.5 .7 23.5 .7 5.2 .7-14.2 .7-11 .7 8.6 .7 17.8 .7-1.2 .7-19.4 .7-.4 .7 22.8 .7 0 .7-13.9 .7-7.8 .7-8.1 .7-23.2 .7-10.4 .7 2.9 .7 11.8 .7 17.3 .7 12.6 .7 1.2 .7 11.2 .7 12.2 .7-6.6 .7-19.7 .7-12 .7 6.2 .7-8.5 .7-13.1 .7 2.4 .7 5.2 .7 11.7 .7 18.8 .7 6.7 .7-3.6 .7-5.6 .7 1.6 .7 8.5 .7 2.3 .7-2.5 .7-3.6 .7-.5 .7-3.4 .7-6.3 .7 0 .7-3.2 .7-25.8 .7-14.4 .7 5 .7 1.3 .7 11.1 .7 13.5 .7 9.2 .7-2.5 .7-17.7 .7-.5 .7 23.2 .7 19.7 .7 4.2 .7-13.3 .7-6.7 .7 9.8 .7-6.4 .7-16.4 .7-10.6 .7 2 .7 17.5 .7 11.1 .7 .1 .7 .9 .7-3.6 .7-4.8 .7 3.4 .7 4.3 .7 3.1 .7 8.2 .7 6.8 .7 .8 .7-24.1 .7-19.9 .7-2.7 .7 17 .7 31.9 .7 1.7 .7-24.6 .7-10.5 .7 2.1 .7-.1 .7 4.6 .7 5.3 .7-19.2 .7-12.7 .7 4.8 .7 12.2 .7 14.3 .7 11.2 .7-10 .7-6.2 .7 3.2 .7 2.6 .7 12.1 .7 8.4 .7-1.2 .7-3.1 .7-2.7 .7-2.4 .7-2.7 .7 1 .7 1.6 .7 .4 .7-1.3 .7-.8 .7 1.1 .7 1.3 .7 0 .7-.7 .7-.1 .7 .5 .7 .4 .7 .3 .7 .3 .7 .1 .7 1.1 .7 3.5 .7 5.2 .7 2.9 .7-2 .7-5.1 .7-4.2 .7-1.8 .7-.4 .7-.2 .7-.1 .7 .1 .7 .1 .7-.1 .7 .1 .7-.3 .7-2.1 .7-4.8 .7-5.6 .7-1.9 .7 3.8 .7 5.8 .7 3.9 .7 1.3 .7 0 .7-.3 .7-.1 .7 .2 .7 .2 .7 .3 .7 .2 .7-.2 .7-.4 .7-.3 .7-.1 .7 .2 .7 .5 .7 .2 .7-.1 .7 .1 .7-.4 .7-.8 .7-1.3 .7-1.9 .7-2 .7-.1 .7 2.1 .7 2.2 .7 1 .7 .3 .7 .3 .7 .3 .7-.2 .7-.3 .7 0 .7 .1 .7 .3 .7 .5 .7 0 .7-.4 .7-1 .7-2.6 .7-3.9 .7-2 .7 3.3 .7 7.1 .7 4.6 .7-.6 .7-2.9 .7-1.9 .7-.3 .7 .3 .7 .2 .7-.2 .7-.3 .7-.3 .7-.6 .7 .2 .7 .4 .7-1.4 .7-1.6 .7-.5 .7 1.5 .7 3.8 .7 2 .7 1.1 .7 1.5 .7 1.8 .7 .9 .7-23.9 .7-41 .7-3.4 .7 4.3 .7 8.6 .7-2.3 .7-19.2 .7-.8 .7 27.2 .7 11.1 .7 6.6 .7-14.4 .7-35.2 .7-.8 .7 1.1 .7 .6 .7 2.5 .7 1 .7-3.2 .7 .8 .7-.3 .7-1.3 .7 1 .7 25.6 .7 49.9 .7 1.8 .7-19.4 .7-3.3 .7 5.2 .7 3.4 .7-2.6 .7-10.4 .7-8.5 .7 4.1 .7 2.8 .7-9.7 .7-.5 .7 14.4 .7-.2 .7-13 .7-9.3 .7 1.5 .7 5.3 .7 1.3 .7-1.7 .7-1.6 .7 5.4 .7 5.4 .7-12.9 .7-30 .7-8.9 .7 7.9 .7 10 .7 29.3 .7 45.5 .7 2.9 .7-2 .7-53.7 .7-29.9 .7 5.4 .7 23.3 .7 30.1 .7 27.2 .7 .1 .7-23.7 .7-9.5 .7 3.2 .7-.8 .7-2.1 .7-14.2 .7-1.4 .7 22.7 .7 9.8 .7-4.3 .7-1 .7 .3 .7 .3 .7-.5 .7 .5 .7-.1 .7-2.4 .7-3.6 .7-2.8 .7-1.8 .7 .5 .7 4.4 .7 5.4 .7 3.7 .7 7.8 .7-.1 .7-13.2 .7-5.2 .7 4.1 .7 5.2 .7 0 .7-1 .7-1.5 .7-.6 .7 .8 .7 1.1 .7 .5 .7 .2 .7-.2 .7-.3 .7-1.5 .7-3.7 .7-4.3 .7-1.7 .7 2.1 .7 4.1 .7 3.9 .7 2.2 .7 .7 .7 .3 .7 0 .7-.2 .7 .1 .7 .2 .7 0 .7-.2 .7-.2 .7 0 .7-.1 .7-.4 .7-.1 .7-.1 .7 .1 .7 .6 .7 .3 .7-.3 .7-.5 .7-.1 .7 0 .7-.1 .7 .1 .7 .3 .7 0 .7 .1 .7 .2 .7-.2 .7-.4 .7 .3 .7 .6 .7 0 .7-.1 .7 .1 .7 .2 .7 0 .7-.2 .7 0 .7 .1 .7 0 .7-.2 .7-.3 .7 .1 .7 .3 .7 .2 .7-.3 .7-.4 .7 0 .7 .1 .7 .2 .7 .1 .7 .1 .7 0 .7-.3 .7 0 .7-.1 .7-.4 .7 0 .7 .4 .7 .6 .7 .2 .7-1 .7-1.4 .7-.4 .7 .3 .7 2.6 .7 .7 .7-4.8 .7-5.3 .7 1.9 .7 12.5 .7 4.1 .7 2.2 .7 1.7 .7 .8 .7-3.5 .7-12.2 .7-4.9 .7-1.2 .7-12.8 .7 13.9 .7 7.1 .7-34.4 .7-3.5 .7 43.9 .7 10.4 .7-14.7 .7-27.4 .7 1 .7 2.5 .7-7.7 .7-2 .7 17.2 .7 9.6 .7-25.5 .7-45.9 .7-4.1 .7 1.8 .7 18.8 .7 45.3 .7 26 .7 2.1 .7 1.2 .7 .4 .7-1.5 .7-24.9 .7-43.8 .7-8 .7 22 .7 15.8 .7-12.3 .7-12.9 .7 16.5 .7 47.3 .7 4 .7-18.9 .7-69.4 .7-1 .7 9.7 .7-2.2 .7 .9 .7 16.7 .7 19.7 .7 3.7 .7 7.6 .7 19 .7-.4 .7-33.3 .7-29.2 .7-2.8 .7 2.2 .7-4.3 .7-.4 .7 7.7 .7 3.3 .7 1.3 .7 9.7 .7 4.3 .7-4.2 .7 1.2 .7 9.3 .7 11.9 .7 10.1 .7 3.8 .7-.2 .7 5.1 .7 3.4 .7 0 .7-.3 .7-.1 .7-1.8 .7-2.6 .7-1.8 .7-.6 .7-4.2 .7-9.7 .7-7.7 .7-.5 .7 1.8 .7 1.7 .7-5.6 .7-6.5 .7 4.6 .7 .6 .7-2.9 .7-6.2 .7-19 .7-5.4 .7 14.5 .7 12.5 .7-3.2 .7 .2 .7 .8 .7-2 .7 10.8 .7 21.3 .7 8.7 .7-1.2 .7-1.8 .7 2.2 .7-6 .7-19.9 .7-16 .7-1 .7 4.6 .7 10.2 .7 16.6 .7 10.2 .7-2.3 .7-10.7 .7-7.4 .7 3.7 .7 2.1 .7-2.5 .7-.6 .7 2.9 .7-2.2 .7-1.6 .7 3.3 .7 8.5 .7 5 .7 1.1 .7-4 .7-3.6 .7-.9 .7 2.2 .7 1.6 .7-1.6 .7 2.3 .7 4.9 .7 5.4 .7 1.2 .7 .4 .7 3.1 .7 3.3 .7 1.9 .7 .8 .7-12 .7-3.2 .7 17.2 .7 2.2 .7-2.5 .7-12.3 .7-7.8 .7-12.2 .7-17.8 .7-4.1 .7 5.5 .7 15.8 .7 9.8 .7 9.6 .7 1.2 .7-22.3 .7-12.5 .7-12.1 .7-18.2 .7-3 .7 .7 .7 6.9 .7 24.4 .7 17.5 .7 .4 .7-14.6 .7 3.2 .7-12.9 .7-33.4 .7-4.7 .7-.8 .7 1.8 .7 10.8 .7 6.7 .7 8.7 .7 .2 .7-14.2 .7-3.3 .7-1.5 .7-13.9 .7 6.8 .7 32.4 .7 30.8 .7 10 .7 5.5 .7 2.2 .7-16.1 .7-30.9 .7-8.1 .7 .3 .7-1.8 .7 8 .7 15.9 .7 12.1 .7-3.6 .7-9.2 .7-3.4 .7 9.1 .7 23 .7 9.9 .7-9.6 .7-31.6 .7-8.8 .7 25.6 .7 22.7 .7 4.4 .7 .3 .7-7.6 .7-10.5 .7-7.3 .7 18.7 .7 12.9 .7-1 .7-22.9 .7-30.4 .7-25.4 .7-5 .7 17.8 .7 28.2 .7 8.8 .7-9.1 .7-14.4 .7-5.3 .7 2.5 .7 6.3 .7 24.2 .7 19.4 .7-2.1 .7-47 .7-18.1 .7 37 .7 27.1 .7-1.7 .7-4.5 .7 4.2 .7-10.3 .7-16.6 .7-.5 .7 3.9 .7 .3 .7 3.1 .7 7.8 .7 2.6 .7-4.8 .7-4.5 .7 .1 .7 2 .7 3 .7-.6 .7-6.3 .7-3.7 .7 .6 .7 7.6 .7 4.1 .7-8.6 .7-16.4 .7-17.1 .7 2.2 .7 14.6 .7 11.4 .7 7 .7 5 .7 2.6 .7 .5 .7 .1 .7 1.2 .7 2.5 .7 3.8 .7 5 .7 4.2 .7-.1 .7-4.4 .7-5.1 .7-3 .7-1.1 .7-.2 .7 0 .7 .1 .7 .3 .7 0 .7-.3 .7 .2 .7-.1 .7-.4 .7-.2 .7-.1 .7-.2 .7-.1 .7-.2 .7 .1 .7 .6 .7 .5 .7 .9 .7 2.2 .7 3.7 .7 2.6 .7-1.3 .7-4 .7-3.4 .7-1.8 .7-.7 .7 0 .7 .4 .7 .3 .7 0 .7 .2 .7 .1 .7-1.1 .7-1.6 .7-1.5 .7-5 .7-10.4 .7-7 .7-1.8 .7 22.1 .7 11.9 .7-3.2 .7-13.7 .7-5.4 .7-14.7 .7-12.6 .7 17.7 .7 24.6 .7 4 .7-5.3 .7-1.9 .7 1.1 .7-8.9 .7-10.5 .7 8.1 .7 14.9 .7-3.2 .7-17.2 .7-10.2 .7 .6 .7 11.5 .7 3.9 .7-25.7 .7-11 .7 9.4 .7 25.6 .7 21 .7-8.2 .7-20.4 .7 1.7 .7 23.2 .7 7.1 .7-8.1 .7-11.2 .7-6.7 .7 2.4 .7 3.1 .7 .4 .7-3.6 .7-3.3 .7 7.5 .7-7.9 .7-6.9 .7 1.8 .7-3.3 .7 .9 .7 3.7 .7 2.6 .7-2 .7-2.6 .7 2.1 .7 12.6 .7 16.1 .7 4.6 .7-.4 .7-12 .7-21.9 .7-5.4 .7-.7 .7-10.9 .7-2.3 .7 16.9 .7 17.5 .7 14.5 .7-1.2 .7-8.2 .7-4.6 .7-7.2 .7 1.3 .7 7.7 .7 2.9 .7 3.8 .7 2.9 .7-2.8 .7-3.8 .7-1.6 .7 .2 .7 .1 .7 .4 .7 .5 .7 1.1 .7 1 .7 .4 .7 .2 .7 .2 .7 .5 .7 1.3 .7 1.1 .7 .2 .7-.6 .7-.7 .7-.2 .7 .2 .7 .3 .7 .1 .7 0 .7 0 .7 .1 .7 0 .7 .1 .7 0 .7 0 .7 .1 .7 .2 .7 .5 .7 1.4 .7 2.6 .7 2.1 .7-.5 .7-2.8 .7-2.6 .7-1.9 .7-3.1 .7-6.3 .7-9.8 .7-12 .7-11.3 .7-6.3 .7 1.5 .7 8.6 .7 12.1 .7 11.3 .7 8.1 .7 4.4 .7 2 .7 .7 .7 .3 .7 .4 .7 .2 .7 0 .7 .2 .7 .1 .7-.2 .7-.3 .7 .2 .7 .1 .7-.8 .7-.7 .7 .1 .7 .5 .7 .2 .7-.1 .7 0 .7 .3 .7 .1 .7-.2 .7 .1 .7 .1 .7-.4 .7-1.3 .7-2.4 .7-4.4 .7-7.1 .7-9.5 .7-10.9 .7-10.3 .7-7 .7-1.1 .7 5.7 .7 10.4 .7 11.4 .7 9.8 .7 7.2 .7 4.9 .7 2.8 .7 1.4 .7 .6 .7 .3 .7 .1 .7 0 .7 .4 .7 .3 .7-.3 .7-.5 .7-.1 .7-.1 .7-.3 .7-.2 .7 .1 .7 .4 .7 .2 .7 .3 .7 .5 .7 .2 .7-.3 .7-2.1 .7-2.7 .7-.5 .7 1.6 .7-3.1 .7-4.1 .7 5.5 .7 7.6 .7 1 .7-4.2 .7-11.4 .7 .5 .7 7.7 .7-8.4 .7-4.9 .7 5.7 .7 12.5 .7 6.9 .7-1.6 .7-5.5 .7-21.1 .7 14.3 .7 4.2 .7-.2 .7-20 .7-1.7 .7 3.9 .7 9.8 .7 6.4" fill="none" stroke="#0072bd" stroke-width="2.4" stroke-linejoin="round"/>
<path d="M138 767.6l.7 4 .7-3.2 .7-3.1 .7-9.8 .7 4.7 .7 15 .7-4.1 .7-6.9 .7 14.6 .7-3.5 .7-3.3 .7 17.8 .7 2.4 .7-2.1 .7-18.5 .7-.8 .7-10.3 .7 1.6 .7-3.4 .7 5.4 .7-9.8 .7 17.9 .7 9.2 .7-28.4 .7 .6 .7-9.8 .7 20.8 .7 24.2 .7 18.5 .7 1.6 .7-2.1 .7-35.7 .7 27.4 .7 7.7 .7-34.1 .7 4 .7-.6 .7-1.6 .7-3.8 .7-1.1 .7 15 .7-6.8 .7-4.6 .7-14.6 .7 16.8 .7-33.1 .7-.1 .7-3.9 .7 33.4 .7-17.9 .7 11.9 .7 29.7 .7-14.3 .7-2.4 .7 1.4 .7 1.7 .7 8.8 .7-9.7 .7-11.5 .7 20.8 .7 8.1 .7-40.7 .7 14.4 .7 .3 .7 5.2 .7 1.9 .7-17 .7 15.3 .7 1.7 .7 22.9 .7 1.4 .7-28 .7-35.4 .7 12.1 .7-8.5 .7 15.1 .7 7.5 .7 7.4 .7-7.7 .7-24.3 .7 4.5 .7 30.9 .7-2.3 .7-26 .7 19.8 .7-9.7 .7 19.5 .7-21.4 .7-12.6 .7 10 .7 10.2 .7 3.4 .7 1.8 .7-2.5 .7-10 .7 .7 .7 8.2 .7 17.6 .7-2.9 .7-14.9 .7 8.6 .7 25.2 .7-59.5 .7-10.5 .7 59.5 .7-26.1 .7-31.3 .7 41.3 .7 10.5 .7-20.3 .7-7.8 .7 14.6 .7-11.2 .7 43.6 .7-40.5 .7-6 .7 12.4 .7-9.1 .7-2.3 .7-15.1 .7 30.4 .7 5.6 .7 13.9 .7-6.4 .7-8.7 .7 5.6 .7-.9 .7 .4 .7-7 .7-7.3 .7-2.7 .7 22 .7-12.7 .7-16.3 .7-5.9 .7 6.6 .7 19.5 .7-2.6 .7-12.2 .7-4.7 .7 5.4 .7 1.9 .7 2.5 .7 6.6 .7-7.2 .7-6.3 .7 6.1 .7-3.6 .7 39.7 .7-23.9 .7-40.1 .7 2.6 .7 .9 .7 23.1 .7 19 .7-11.2 .7-13.6 .7 23.8 .7 .5 .7 2 .7-8.4 .7-5.5 .7-5.7 .7 4 .7-14.4 .7 3.8 .7 15 .7 13.2 .7 5.7 .7-29.2 .7-27.2 .7 29.9 .7 19.6 .7-11.4 .7 2.8 .7 4.7 .7 .6 .7-13.4 .7-21.1 .7-1.5 .7 6.6 .7 9.4 .7-1.2 .7-6.4 .7 8.6 .7 .9 .7 3.9 .7-16.1 .7 23.7 .7-19.4 .7-6 .7 3.3 .7 6.9 .7 10 .7 4.2 .7-.3 .7 1.9 .7 7 .7-5.7 .7 0 .7-1.5 .7-8.4 .7 5.4 .7-11.4 .7-22.1 .7-4.2 .7 17.9 .7-9.1 .7-1.1 .7-14.4 .7 .7 .7 7.5 .7 28.5 .7 4.4 .7-11.3 .7 7.8 .7 1.8 .7-4.1 .7 14.3 .7 12 .7-2.2 .7-1.2 .7-10.7 .7 6 .7-.9 .7 9 .7-36.1 .7 7.8 .7 10 .7-6.5 .7-6.1 .7-1.4 .7 5.8 .7-10.1 .7-2.4 .7 47.3 .7 7.3 .7-13.5 .7-63.6 .7-4.2 .7 7.5 .7-8.5 .7 2.4 .7 40.9 .7 28.2 .7-7.2 .7-26.5 .7-18.3 .7 15.6 .7 22.7 .7 4.4 .7-27.9 .7 6.1 .7 17.6 .7-31.1 .7-17.3 .7 9.1 .7 10.8 .7-13 .7 31.4 .7 16.2 .7-6.8 .7-54.8 .7-1.9 .7 27.4 .7-.7 .7-1.9 .7-8.6 .7-2.9 .7 11.5 .7 18.8 .7 13.6 .7 15.9 .7 9.8 .7-25.1 .7-2.7 .7-9.6 .7 1.6 .7 9.1 .7-5.9 .7-11.3 .7 3.2 .7 14 .7-2.3 .7-16.8 .7 .4 .7 2.3 .7 2.2 .7-8.6 .7-5.8 .7-24.6 .7 39.8 .7 9.5 .7-43 .7 29.8 .7 18.9 .7-8.6 .7 27.9 .7-32.5 .7-4.8 .7 1.6 .7 7.4 .7-24.6 .7 8.2 .7 7.7 .7 0 .7 15.6 .7-1.3 .7 15.8 .7-7.3 .7-20.7 .7-3.1 .7-1.5 .7 11.6 .7 1 .7 6.3 .7-21 .7-23.2 .7-7.3 .7 16.8 .7 40.7 .7-11.5 .7 30.4 .7 4.6 .7-35.5 .7-14.7 .7-12.4 .7 7.4 .7 30.4 .7-4.3 .7-12 .7-3.5 .7 .5 .7 20.9 .7-12.3 .7-26.8 .7-12.9 .7 40.3 .7-32.2 .7 29.3 .7 17.2 .7-34.4 .7 29.5 .7 2 .7-28.8 .7-6.1 .7 14.1 .7 12.7 .7 3.7 .7-8.1 .7 16.4 .7-6.7 .7-24.1 .7-2.6 .7-1.2 .7 7.8 .7 13.2 .7-6.4 .7 14.7 .7-24.2 .7-7.5 .7 18.4 .7-11.7 .7 5.3 .7 7.7 .7 12.8 .7-13.9 .7-8.7 .7 25.2 .7-4.6 .7 4 .7 6 .7-37.5 .7 6.5 .7 0 .7-8.7 .7 8.9 .7-25.4 .7 29.5 .7 25.8 .7-34.7 .7 3.6 .7 26.9 .7-6.4 .7-22.8 .7 2.4 .7-2.9 .7-2.9 .7 11.3 .7-19.2 .7-.2 .7 .1 .7 29.7 .7-10.3 .7-14.4 .7-28.1 .7 21.9 .7-14.5 .7 6.9 .7-2 .7 18.4 .7 11.1 .7 23 .7-9.6 .7-19.5 .7 .7 .7 .8 .7 3.7 .7-3.9 .7 6.1 .7-3 .7-12.8 .7 .5 .7 15.6 .7-1.9 .7-2.8 .7 4.3 .7 3.5 .7 5.7 .7-11.4 .7 12.6 .7-3.9 .7-18.1 .7-2.9 .7 4.1 .7 6.1 .7 4.3 .7-5.8 .7-2 .7 4.6 .7 7 .7 10.8 .7-1.4 .7-23.6 .7 21.2 .7-1.2 .7-6.9 .7-2.6 .7 7 .7-10.9 .7-1.5 .7 3.8 .7 3.3 .7 .6 .7 1.8 .7-5.3 .7 1.4 .7 1.3 .7-2.3 .7-1.1 .7 .1 .7-.3 .7-.5 .7 1.7 .7-.5 .7 .4 .7 2.8 .7-4.8 .7 1.9 .7-.7 .7 .3 .7 1.7 .7-3.3 .7-.6 .7 3.2 .7 4.3 .7-6.5 .7 1.6 .7 2.9 .7 .8 .7 1 .7-2.6 .7-3 .7 4.2 .7-2.6 .7 1 .7-.5 .7-.5 .7-1.5 .7-.7 .7 .9 .7-.8 .7-.2 .7 2.6 .7-1.5 .7 .6 .7-.1 .7-1.2 .7 1.4 .7 .4 .7-2.9 .7-.1 .7 .4 .7-1 .7 3.8 .7 1.9 .7-1.3 .7 .5 .7-1.9 .7 1 .7 0 .7-.6 .7 .9 .7 1.1 .7-1.3 .7-1.8 .7-.1 .7-1.1 .7-1.4 .7 .9 .7 2.3 .7 1.6 .7-3.5 .7-3.2 .7-.2 .7 1.7 .7 5.1 .7-3.5 .7-1.9 .7 .3 .7 7.2 .7-.7 .7-2.9 .7 0 .7 1 .7-1.5 .7 .4 .7-.9 .7 1.2 .7 .4 .7 2 .7-2 .7-.1 .7-1 .7 .1 .7-1.2 .7 2.6 .7 1.6 .7-2.6 .7-.7 .7 1.9 .7 .5 .7-3.1 .7-3.6 .7-.7 .7 3.4 .7-2.4 .7-16.6 .7 7.4 .7 27.7 .7 1.1 .7-20.8 .7-.1 .7 11.8 .7 2.4 .7-18.3 .7 8 .7-6.1 .7 28.2 .7 9.8 .7 5.6 .7-23.4 .7 7.1 .7 19.1 .7-27.8 .7 4.5 .7-15 .7-37.6 .7 4.2 .7 18.9 .7 24.2 .7 13.3 .7-8.8 .7-11.4 .7-12.3 .7 17 .7 .5 .7-9.3 .7-15.9 .7-18.9 .7 2.8 .7 20.2 .7-19.7 .7 17.6 .7 27.9 .7 3.9 .7-8.5 .7-6.5 .7-6 .7 12.4 .7 3.7 .7 .9 .7-7.8 .7 16.3 .7-20.8 .7 14.5 .7-7.9 .7-17.6 .7-16 .7-18.8 .7 66 .7 25.9 .7-5.3 .7-48.1 .7 26.7 .7-41.8 .7 15.8 .7-2.4 .7 35.4 .7-46.6 .7-.5 .7 24.8 .7-23.9 .7-7.2 .7 23.4 .7 11.9 .7-1 .7-5.9 .7-14.9 .7-6.9 .7 20.4 .7 7.9 .7 9.2 .7-8.7 .7-6.9 .7 9.3 .7-14 .7-3 .7 1.6 .7 6.4 .7 2.3 .7-.3 .7 2.1 .7 1.5 .7 .4 .7-.7 .7-16.9 .7 .6 .7 3.7 .7 8.6 .7-8.7 .7 4.6 .7-1.5 .7 5.1 .7-2.6 .7 6.1 .7-3.6 .7-.2 .7 2.9 .7-3.7 .7 .4 .7-1.1 .7-3.1 .7-1.8 .7 2.4 .7-4.1 .7-.7 .7 .2 .7-.1 .7 9.6 .7-7.6 .7 2.1 .7 3 .7-.9 .7-2.2 .7 0 .7 1.4 .7 2 .7-.1 .7-1 .7-.6 .7 .8 .7-1.3 .7-.1 .7 .5 .7 1 .7-1.6 .7 0 .7 0 .7 .8 .7 1.3 .7-1.1 .7-.4 .7 .7 .7 .4 .7-.7 .7 0 .7 .5 .7 0 .7 .2 .7-.5 .7-.3 .7-.3 .7 .7 .7-.5 .7 .3 .7 .1 .7 .3 .7-.2 .7 .1 .7-.1 .7-.3 .7-.3 .7-.2 .7 .7 .7 .6 .7-1.3 .7 .5 .7 .4 .7-1.2 .7 .3 .7 .4 .7 1.4 .7-.7 .7-1.6 .7 .5 .7 .5 .7 .4 .7-.2 .7-.1 .7 .1 .7 .4 .7 .8 .7 .1 .7-.5 .7-2.1 .7-.6 .7 2.2 .7 4.2 .7 .8 .7-3.1 .7 9.4 .7-5 .7-1.7 .7-5.6 .7-15.6 .7 11.8 .7-4.7 .7-3.9 .7 4.4 .7 11.1 .7 10.7 .7-29.8 .7 38.7 .7 11.1 .7-36 .7 30.1 .7 2.1 .7-6.9 .7 5.9 .7 3 .7-27.5 .7-11.7 .7-1.5 .7 9.5 .7 7.3 .7-2.1 .7-22.6 .7 2.5 .7 18.6 .7-.9 .7 14.6 .7-15.2 .7 13 .7-9.9 .7-3.5 .7 3.9 .7-15.1 .7 18.3 .7 18 .7-6 .7-14.1 .7-4.6 .7-6.4 .7 .2 .7-4 .7 8.8 .7 23.3 .7-.8 .7-24.8 .7-3.5 .7 8.6 .7 11.3 .7-4.4 .7-4.4 .7-7.4 .7 9.6 .7 5.2 .7-6.2 .7-10.6 .7-10.3 .7 12.6 .7-8.3 .7 13.3 .7 4.3 .7-1.5 .7-9.2 .7 2.8 .7-2.2 .7 1.1 .7-3.8 .7 3 .7 1.8 .7 .8 .7-2.2 .7 .6 .7 .3 .7 .2 .7 .2 .7 .1 .7-.4 .7 .7 .7-1 .7-3.3 .7 2.8 .7 1.1 .7-2.6 .7 4.5 .7-10.4 .7 7.7 .7 14.1 .7-5.3 .7 .5 .7-15.6 .7 8.9 .7-4.2 .7 28.1 .7-16.4 .7-14.8 .7 .2 .7 .6 .7-10.5 .7-3.2 .7 12.7 .7-5 .7-13.2 .7 30.1 .7 30.8 .7-.7 .7-15 .7-34.6 .7 3.3 .7-12.4 .7-7.4 .7 14.8 .7 31.1 .7-23.5 .7 39.5 .7 1.1 .7-4.2 .7 2.7 .7-59.9 .7-1.5 .7 25.7 .7 14.4 .7 5.2 .7-14.4 .7 2.4 .7 1.2 .7 .1 .7-2.9 .7-.4 .7 1 .7 7.4 .7 8.6 .7-35.1 .7-.5 .7 36 .7 21.8 .7-5.5 .7-49.1 .7-7 .7 .7 .7-13.8 .7 34.6 .7-38.5 .7 31 .7 26.2 .7-26.4 .7 3.6 .7 7.9 .7-17.7 .7 25.6 .7-10.4 .7-5.1 .7 16.7 .7-15.8 .7-21.7 .7 56.5 .7 10.8 .7-22.8 .7-43.8 .7-21.9 .7 24.2 .7 53.5 .7-70.4 .7-5.8 .7 14.2 .7 80.8 .7 1.1 .7-7.8 .7-16.9 .7-9.5 .7 22.9 .7-6.1 .7-23 .7 31.1 .7-10.5 .7-28.4 .7-16.5 .7-1.5 .7-18.9 .7 15.9 .7-3.8 .7-1.4 .7 26.2 .7 24.9 .7-22.5 .7 3.3 .7 17.9 .7-32.4 .7 38.5 .7 16.6 .7-15.3 .7 9.2 .7-15.5 .7 24.5 .7-.2 .7-24.7 .7-31 .7-10.5 .7-29.3 .7 48.9 .7 8.1 .7-22.9 .7 11.3 .7-7.6 .7-8.1 .7 13.4 .7 5.7 .7 2.4 .7-11.2 .7-5.5 .7-7.7 .7-4.5 .7-12 .7 22 .7 10.6 .7 .4 .7-14.1 .7 10.7 .7 10.3 .7 7 .7-11.9 .7-3.7 .7 14.9 .7-3 .7-1.6 .7-1.9 .7-5.5 .7 .2 .7-2.8 .7-3.5 .7-6.8 .7 9.6 .7-.9 .7 4.3 .7-1.5 .7 10.4 .7 9.2 .7-26.2 .7-10.5 .7 29.5 .7-7.6 .7 3.6 .7 10.3 .7-35.3 .7 2.6 .7 .3 .7 2.2 .7 27.1 .7 11.7 .7-15.3 .7-11.4 .7 7.5 .7-1.8 .7-28.3 .7 1 .7 20.3 .7-.1 .7-28 .7 6.1 .7 23 .7 20.4 .7 1.9 .7-.8 .7-14.2 .7-9.5 .7 1.8 .7-.8 .7-1.5 .7 .3 .7 4.2 .7-1.4 .7-2.4 .7 .1 .7 .3 .7 .4 .7-.8 .7 .4 .7 .3 .7 .2 .7-.4 .7-.1 .7 0 .7-.6 .7 0 .7 .7 .7 .3 .7 0 .7-.1 .7 .9 .7-.9 .7-.3 .7-.7 .7 .5 .7 .3 .7 0 .7 .2 .7 0 .7 0 .7 .4 .7-.3 .7 .4 .7-.1 .7-.2 .7-.9 .7-.5 .7 .1 .7 1 .7 .1 .7-.2 .7-.2 .7-.5 .7 .2 .7 .2 .7-.7 .7 .2 .7 0 .7 .6 .7-.1 .7 .1 .7 .2 .7 .9 .7-.4 .7 1.8 .7-3.4 .7-3.9 .7 .5 .7 2.8 .7 1.6 .7-1.7 .7 6.3 .7 2.8 .7-.4 .7-5.8 .7 4.3 .7-8.4 .7-4 .7 .1 .7 4.9 .7 .3 .7 16.2 .7-21.2 .7-23 .7 .1 .7 56.7 .7-14.8 .7-10.1 .7-19.5 .7 10 .7 8.9 .7 3.7 .7-5.1 .7 .8 .7-1.1 .7 7.6 .7 14 .7-26.2 .7-8.4 .7 3.9 .7-5 .7-18 .7-2.1 .7-1 .7 14.5 .7 7.7 .7 12.8 .7 11.8 .7 2.3 .7-17.1 .7-1.4 .7 4.4 .7 21.8 .7-14.9 .7-6.2 .7 3.1 .7 3.9 .7 12.5 .7-16.1 .7-17.1 .7 26.5 .7-13.6 .7 13 .7-18.5 .7-21.8 .7 19.3 .7-.1 .7-2 .7 5.3 .7-3.3 .7 28.3 .7-6.4 .7 7.1 .7-4.6 .7-10.6 .7 2.7 .7-6 .7-7 .7 0 .7-.9 .7 4.5 .7 2.3 .7 1.3 .7-1.5 .7-.4 .7-.5 .7 .2 .7 .8 .7 .2 .7-1 .7 .3 .7 .2 .7-.3 .7 .4 .7-.1 .7 .1 .7-.3 .7 0 .7-1.2 .7 .1 .7 .4 .7 0 .7-.6 .7-.6 .7 1.4 .7 3.4 .7-.8 .7 3.5 .7-1.9 .7-3.5 .7 5.3 .7-5.4 .7-1 .7-8.4 .7 7.8 .7-2 .7-4.9 .7-7 .7-3.5 .7 11.4 .7 17.2 .7 7.8 .7-6.8 .7-8.5 .7-2.4 .7-1.5 .7 1.4 .7 .6 .7-.1 .7-.1 .7-.2 .7-.2 .7-.2 .7-.2 .7 .2 .7 .2 .7-.1 .7 0 .7-.2 .7-.1 .7 .3 .7-.4 .7-.3 .7 .5 .7 1 .7-.2 .7 0 .7-1.2 .7 .3 .7-.1 .7-.5 .7 .5 .7 .5 .7 1.4 .7 0 .7 .1 .7-.7 .7-2.1 .7-13.1 .7-10.9 .7 4.5 .7 14.4 .7 12.9 .7 11.8 .7 1.1 .7-6 .7-7.5 .7-4 .7-1.4 .7 .7 .7-.4 .7-1.1 .7 .3 .7 .1 .7 .4 .7 .6 .7-.6 .7-.9 .7 .1 .7 1 .7-.7 .7-.9 .7 .1 .7-.6 .7 1.5 .7 2.7 .7-1.5 .7-2.7 .7-3.4 .7-2.4 .7-3.5 .7-.1 .7 7.7 .7 11.2 .7-7.5 .7-20.3 .7-1.9 .7 8.6 .7 9.6 .7 4.4 .7-3.4 .7 2.4 .7 2.5 .7-7.2 .7 12 .7-6.7 .7-3.6 .7-2 .7 6.6 .7 4.8 .7-3.2 .7 1.7 .7-1.4 .7-2.1 .7-12.2 .7 23.2 .7-2.4 .7-16.1 .7 7.7" fill="none" stroke="#0072bd" stroke-width="2.4" stroke-linejoin="round"/>
<rect x="635.5" y="533" width="73.1" height="309.4" fill="none" stroke="#231f20" stroke-width="2.9"/>
<path d="M635.5,842.4L147,1003.5" fill="none" stroke="#231f20" stroke-width="2.9" />
<path d="M708.6,842.4L888.5,983.5" fill="none" stroke="#231f20" stroke-width="2.9" />
</g>
<!-- panel C -->
<g>
<text transform="translate(1073.7,533.2) scale(0.965,1)" font-size="89.5" fill="#231f20" stroke="none">C</text>
<text x="1167.5" y="513" font-size="24.5" fill="#231f20" stroke="#231f20" text-anchor="start" >X velocity-acceleration profile</text>
<g stroke-linejoin="round">
<path d="M1359 643l24 4 12 12 21 12-2 15-2 9-15 7-17 11-38 5-20-2-15-4-28-9-8-10-4-13-2-13 19-9 20-14 26-2 23 6 M1403 681l-1 12-8 12-6 5-17 5-8 4-14-6-9-5-12-11-9-7 3-16 4-7 7-9 7-10 10 0 14-2 17 0 5 7 11 8 6 9 0 13 M1384 634l11 6 14 8 8 8 1 13 4 11 1 14-8 13-6 11-13 9-20 8-9 7-7-4-28-5-10-2-4-9-16-12-10-6-3-11-5-12 7-12 12-12 0-20 10-4 20-1 17-12 3 5 19 8 13-1 M1284 676l10-3 9-4 7-6 13 2 7 0 11 0 14 2 8 2 5 4 0 4 3 8-3 3-1 3-15 3-12 1-2 0-16 3-10-3-8-5-9-1-5-4-5-4 8-6 M1299 712l-3-14-5-15 3-20 2-15 11-14 12-6 18-3 15-1 23 10 3 8 11 21 0 19-5 11-6 21-1 8-19 13-18 1-5-3-19-1-16-18 M1354 669l-1 6 5 4-2 4-1 6-3 6-5 2-4 5-7 0-3 0-4-1-10-3-3-2-2-7 0-2-5-10 4-3-1-5 5-4 6-3 4-2 6-2 4-1 9 5 4 1 5 3 M1299 686l3-7 2-10 2-2 11-7 19-4 8 3 10 0 10 4 6 7 5 4 0 6-2 5-1 8-7 5-10 3-11 1-12 0-10-2-10-5-4-3-4-8 M1418 662l2 17-1 19 1 13-24 11-35 17-29-1-31-9-19-12-5-18-11-17-3-16 27-21 13-11 31-6 25-3 23 10 31 8 3 16 M1352 625l12 3 13 7 6 16 8 13 4 14-7 14-1 18-9 16-13 3-7 6-10-6-15-8-5-14-4-17-4-11 6-20 5-16 13-6 6-5 M1348 668l7-1 16-1 8 1 11 1 11 2 9 4 4 1-5 4-1 4 5 2-8 5-3 2-12 1-12 2-16-1-9 1-11-1-7-3-4 0-11-3-8-4 8-3-8-3 3-3 4-2 8-3 6-2 16 0 M1363 660l-4 18 0 17-13 27-11 4-18 5-14-6-15-5-16-3-12-22 0-18 2-10 13-15 10-17 19-8 20-1 18 14 12 14 4 16 M1327 697l-7 0-13-3-12-3-4-2-7-5-1-1 8-9 1-4 9-2 9-3 10-1 13-1 9 3 12 0 11 3 3 5 10 5-7 1 0 7-6 2-6 3-7 2-17 3-7 0 M1381 633l7 15 21 15 18 8-6 12-3 14-1 6-24 21-14 3-25 4-18 9-25-6-27-2-20-1-12-15-5-8-8-16-5-16 0-6 26-21-2-7 8-13 38-8 25 4 7-1 18 8 35 10 M1261 676l1-8 29-2 21-5 38 0 34 3 11 4 13 7 6 9-8 3-21 6-20 7-35-1-31 2-22-5-19-7-11-5-4-7 M1232 679l7-3 7-4 11-6 10-2 10-1 8-1 19 0 10 3 14 0 10 6 2 3 7 2-1 4 3 8-8 3-11 3-10 2-8 2-16 2-17-2-10 0-3-4-16-1-8-4-4-5 1-6 M1253 674l9-8 5-13 14-9 12-3 10-6 29-10 17 13 27 0 15 5 16 10 2 17 12 10-5 12-15 14-6 4-14 10-25 8-10 1-19 5-32-13-15-3-12-11-15-9-1-13 3-8 M1318 712l-6-8-5-8-4-7 0-9 0-10-3-10 8-4 6-2 11-4 4-4 11 1 8 3 7-3 7 9 7 6 10 13-6 6-1 4-4 14-6 6-6 4-6 6-10 5-9-3-7-5-5-2 M1354 708l-1-14-2-9 0-12-5-6 8-19 4 2 2-16 11-7 6 5 10 6 5-9 4 8 8 8 3 8 7 15 1 12-1 10-3 7-3 12-6 12-5-2-4 13-11-1-7 2-5-3-7-3-4-3-10-16 M1380 674l8 4 0 4-7 3-10 2-1 5-12 1-4 1-21 0-12 1-13 0-11-2-16-2-6-4-2-3-7-4 6-3 0-2 12-2 9-4 5-2 17 0 15-1 16 0 11 2 18 1-1 3 9 3 M1357 712l-13-2-16 0-21-3-16-1-9-9-6-1-16-8-5-8 10-7 3-8 20-3 1-7 14-2 25-1 13 1 21-1 19 3 10 3 8 4 13 6 5 10-9 5-1 9-6 4-7 8-15 1-16 6 M1367 720l-8-6-2-1-4-10-2-12-3-14 5-7 2-13 4-8 5-4 5-1 5 0 5 7 4 7 4 15 0 13-1 8-4 9-3 5-5 9-7 4 M1397 669l16 1 7 5 4 3 10 3-8 4-9 4-10 0-9 6-14 3-25-1-9 1-20-1-23-2-4-1-11-5-10-1-1-4-15-4 5-5 8-2 7-3 22-4 10-2 19-1 18 0 16 1 9 2 15 2 M1285 711l-18-9-20-7-5-12 2-8-1-7 14-10 29-5 19-2 25 0 18 1 34 2 18 8 3 10 7 7-9 7-5 9-17 12-25 4-7 1-35-3-27-3 M1341 637l12 11 12 8 4 14 1 16-7 18-8 9-10 9-14 7-20 1-15-9-13-12-4-11-4-20 5-10 2-17 11-10 17-11 18 4 13 2 M1421 696l-10 5-32 3-14 4-21 4-26-1-25-1-13-3-24-4-9-12-6-7 0-5-1-9 24-7 16-9 23-2 27-1 26-4 28 6 5-1 20 10 15 9 0 4 4 8-14 11 M1305 713l-17-8-23-3-7-6-7-6-7-10 5-9-7-5 30-11 20-4 7-3 30 1 19 8 15-1 18 7 4 9 7 10-8 9-4 7-20 4-19 4-16 4-18 1 M1315 640l5-4 4 6 12 1 7 5 7 6 1 13 2 9 1 11-2 9-5 11-7 6-7 7-8 3-5-1-9-4-11 0-5-14-5-3-6-11 2-12-1-16 2-6 5-7 12-7 7-4 M1369 683l8 8-14 18-7 10-19 5-4 13-12 0-16-7-11-3-16 4-4-14-14-1-1-20 5-17-13-2 6-16 9-17 12-5 11-8 4-6 19 3 16 5 16-4 7 11 12 2 4 19 3 6 2 14 M1329 659l22 1 13 4 16 3 21 3-5 8-3 4-9 5 6 5-23 5-4 1-24 7-23-1-16-5-17-1-23-4-11-6 7-3-15-3 3-8 20-4 15-4 14-3 20-5 14-1 M1249 692l5-9-1-12 14-15 23-12 21-3 27-8 19 11 36 3 8 6 23 14-10 12 10 15-22 8-17 15-22 5-25 0-31-4-20-5-20-7-9-12 M1421 669l-1 13 0 12-14 11-24 5-34 1-29 2-36-5-27-3-12-14-2-13 1-9 19-12 32-6 11-2 35-1 42 4 21 6 17 13 M1263 637l11-1 40-10 16 4 21 0 13 6 20 11 14 22-3 4 0 21-4 17-15 10-21 8-12 7-29-1-13 1-30-14-7-12-14-6-2-12-3-23 16-14 0-13 M1324 684l-1 6-4 6-5 7-8 5-3 2-6 0-7 2-7-7-6-7 0-6-4-9 4-8-1-9 4-7 7-5 6-2 4-3 11 4 1 1 6 3 5 11 3 6 3 8 M1382 706l-11 6-14 3-5 0-15-2-3-8-12-3-5-4-4-8-5-9 5-7 1-10 3-7 14-4 10-4 15-1 11-1 4 7 7 2 11 6 8 7 1 6-3 8 4 7-10 10-12 7 M1283 680l6-5 6-4 1-3 16-1 4-4 17 0 9 0 13 2 8 3 11 3 0 5 2 4-1 8-10 2-4 4-9 2-17 1-7-1-12-1-17 1-1-5-8-5-8-2 0-4 M1278 687l-4 4-6 4-5 1-4 0-10-3-5-2-3-2-4-9 2-4 3-4 6-3 6-2 6-2 7 1 6 3 4 4 3 4-2 7-1 2 M1386 693l-7 13-7 12-19 5-18 1-25 5-10-10-16-1-23-12-5-8-11-13 12-13 1-14 4 0 13-16 29-8 9 4 27 2 17 1 12 8 15 10 9 6 0 18 5 16 M1304 679l5-8 5-10 3-8 8 1 2-9 8-4 8 4 4 2 9 8 4 4 1 12 6 7-4 12-5 12 2 4-9 6-10 4-2 4-9-4-8-2-5-8-1-6-7-10-3-10 M1268 704l-4-9-10-6 1-14 2-9 10-7 15-7 4 0 24-9 17 0 8 3 32 5 11 1 12 6 6 10 7 11-9 9-2 6-14 9-14 8-13 10-21-1-10 1-23 1-20-8-2-9 M1350 674l-8 21 2 6-13 19-13 2-11 5-15-2-12-16-7-4 0-14-9-18 8-12 6-7 12-10 12-5 10-9 12 10 12 8 8 11 2 19 M1319 723l-15-6-7-4-14-18-2-12 6-14 11-11 4-19 12-6 17-7 14 2 4-4 25-2 17 12 6 6 5 11 2 13 3 29-1 4-8 17-9 6-17 9-17 12-5-5-21 2-10-8 M1342 658l28 4 35 3-1 4 13 6 5 12 3 1-26 6-17 6-22 3-26-1-34 0-28 2-12-8-18-1-9-11-6-7 10-7 21-6 23-2 15-6 30 0 21 1 M1368 706l-14 2-4 1-14 6-10 4-8-1-6-10-3-2-14-6-4-9-2-8 0-9 6-5 5-12 4-3 7-8 11-1 6 3 8-7 16 1 3 4 8 8 6 10 7 1-1 10 3 7-1 9-10 13-8 0 M1304 693l-6-7 2-3 1-8 4-7 5-2 8-3 10-2 13 0 3 5 11 1 3 5 3 10-2 5-3 5-10 6-7-1-10 3-6-2-10-1-9-5 M1358 678l9 9-10 14-7 4-13 4-5 5-22 3-16 0-15-7-4-2-15-11-2-11-4-9 15-6-4-7 7-16 13-3 12 0 22-3 11 4 13 4 20 9-3 7 5 6 M1314 643l6-12 6 6 8-1 4 7 8 11 2 12 2 16-3 10-4 15-2 9-2 9-10 3-7-1-4-5-6-5-6-8-5-19 0-8 2-17 2-10 3-14 6-8 M1316 625l28-4 20 12 30 4 6 2 21 20-4 17-4 12-11 14-6 20-16 9-21 4-25 4-23 1-26-10-11-9-18-13-10-7-5-16 4-10 1-17 18-14 4-10 26-7 25-7 M1273 648l8-12 17 2 15-2 9 16 15 1 3 11 3 11-1 19-14 8-4 10-8 8-15 11-14-12-19 0-6-12-9-15 4-10-3-12 13-16 5-3 M1409 673l21 8-18 6-23 6-5 3-30 6-29-2-23 1-24-4-16-5-16-4-3-6-1-9 7-5 23-4 31-8 25 4 32-2 20 4 27 4 12 6 M1265 705l-9-6-11-12 3-14 11-13 5-6 18-8 10-8 20-3 25-1 33 2 14 8 8 9 9 11 16 13-10 10-7 11-5 12-23 9-16 3-25 5-9 4-25-8-21-6-13-13 M1289 677l2-16 7-5 13-7 15-6 13 5 22 1 10 8 15 11 0 9-5 15-8 11-3 12-21-1-7 7-31-6-8-4-6-14-12-7 3-14 M1372 697l-7 2-19 0-12-1-9-2-10-3-7-4-5-5 2-4 2-8 6-2 7-3 10-3 9-4 19 3 12-1 11 1 13 2 9 4 11 2-4 7 12 3-14 6-3 3-7 5-9 2-8 1 M1315 660l16-1 11 1 10-3 11 3 4 4 13 5-3 3 4 4 4 5-6 8-1 2-15 2 2 5-10 2-16 3-9-2-11 0-9 0-8-3-8-4-4-3-5-6 1-8 3-3 4-3 7-5 7-2 8-2 M1326 724l-14-11-11-12-6-14-2-19 12-13 9-11 24-6 25-3 23 6 22 2 16 19 1 16-5 11-3 16-13 11-24 4-26 6-30-1 M1375 652l12 8 19 4-1 12 7 7-8 4-4 14-13 8-20 3-18-1-18 2-21-3-12-4-12-6-13-11 5-9 8-14 8-4 16-9 7-2 19-2 26-1 12-1 M1411 685l-10 4-5 1-14 5-10 1-7 3-24-1-9-4-14 0-9-3-6-2-8-6 0-3 1-5 10-3 2-5 12 0 14-4 15 1 18-1 5 2 21 2 7 3 5 3 8 6 0 3-8 2 M1257 676l11-18 5-9 31-14 34-11 13 3 27 7 21 11 23 17 7 14-10 25-5 11-24 9-20 9-37 4-28-6-21-7-23-16-4-18-5-15 M1389 689l-7 6-1 14-11 9-1 9-14 7-5-2-9-2-13-9-8-3-9-8 2-9-2-20-6-10 7-9 5-15 6-5 9-7 10-2 14 0 5 7 12 5 2 5 9 6 2 22 1 3 M1236 675l7-13 18-17 19-4 21-7 33 0 22 7 32 7 11 13 1 8 3 19-13 7-13 14-21 9-16 9-27 1-34-5-16-8-20-8-3-23 3-12 M1252 687l-3-4 4-7 5-5 21-5 9-3 16 0 28-2 19 3 8 3 18 1 13 9-1 5-5 5-4 7-27 3-21 3-12 0-27-3-17 0-8-6-17-4 M1284 674l20-5 24-5 12-3 29 3 14 2 27 2 4 8 3 6 2 4-12 7-27 4-26 0-20 1-22-2-14-5-7-4-13-8 9-7 M1252 654l4-2 2-12 9-2 10-4 6-6 7 12 5-3 8 14 1 6 6 13 1 6 0 3-5 16 2 10-7 6-5 10-10 5-7-1-8 3-4-6-3-2-7-9-3-8-5-7 1-18-3-6 1-5 2-18 M1261 676l5-7 5-6 6-3 3-7 11 2 7 0 0 0 11 5 1 8 0 6 5 4-1 9-5 9-5 6-5 7-8-1-6-1-8-2-6-3-5-7-2-5-2-7 3-5 M1302 710l-8-15-3-10-2-20 20-15 11-11 24-5 33 1 18 10 22 8 9 19-5 21-11 16-17 6-24 0-27 12-22-6-24-9 M1338 641l6 14 17 6 0 3 11 7 6 11-2 10-7 9-14 7-11 3-11 8-10-3-15 0-12 0-11-7-14-4-5-8-6-2-7-10 8-15-4-1 9-13 10-1 12-8 12-2 16-6 9 6 20 3 M1276 641l36-4 8-2 27 5 16-3 20 8 9 8 28 20-8 0-8 18 4 12-23 11-21-2-24 15-19-1-20-2-19-7-15-10-14-8 2-16-6-10-1-10 13-13 21-5 M1393 702l-1 12-14 7-14 2-14-3-18 1-11-19-2-9-5-16 1-12 9-15 6-8 14-5 23 1 13-2 8 6 7 21 9 10-4 14-1 19 M1376 690l-10 7-5 10-15 10-12-4-20 2-10 1-16-10-7-7-3-7 2-12-1-12 9-8 6-8 17-4 13-1 14-2 10 0 7 7 16 11 6 6 2 11-8 10 M1337 661l10 8 9 7 8 6-8 7 0 4-17 7-16 4-13 0-16 3-17-4-11-2-16-3-4-8-16-6 9-9 6-5 1-6 22-4 8-4 22-1 12-1 22 2 10 6 M1336 711l-5 16-15 4-6 3-19-5-6-13-4-13-10-11 2-18 5-17 2-18 11-14 12 1 16 1 12 0 6 21 8 9 2 18-4 18-6 19 M1295 659l12 1 16 5 8 5 8 4-2 9-6 7-9 6-10 5-16 3-13-2-12-6-11-4 0-9-6-6 6-5 8-7 12-2 15-4 M1320 641l13-7 15 3 12 13 8 11 2 11-1 16-5 20-9 14-9 3-18 2-11-3-16-6-1-12-13-14-1-12 1-13 10-18 11-9 9-1 M1407 656l2 9 2 12-2 14-3 13-3 5-4 11-8 4-4 2-5-17-6 3-4-13-4-9 3-15 2-8 1-12 6-5 5-5 7-7 4 8 6 4 5 3 M1331 624l22 8 30 7 13 13 7 12-1 17-8 19-2 14-20 8-16 5-37-2-21 3-27-1-10-15-17-15 4-19 10-11 7-19 22-18 16 1 27-1 M1335 668l2 0 4 0 2 5 3 2 2 4 0 2-2 5-2 2-3 4-2 2-3-1-3 3-7 0-3-1-6-3-3-1-3-5 0-2-1-3 0-2 2-6 3-1 2-4 8-1 1-3 3 1 7-1 M1286 646l24-5 23-2 25-1 23 10 11 2 23 10 23 13-18 10 1 16-15 4-15 10-28 5-30 8-8-4-21-5-28-4-9-11-17-14 8-13-1-9 10-11 20-9 M1347 638l14 0 17 3 10 6 15 5 12 6 6 14-3 5-2 12 15 6-23 6-12 9-6 5-27 6-11 3-17-5-13 0-17-7-8-5-11-13-1-9-1-5 4-8 1-8 7-9 21-11 15 0 18-3 M1309 692l-6-4-2-10 0-4 10-7 1-6 11-1 8-5 6 0 6 2 16-3 5 6 4 6 5 5 4 4 3 9-4 6-7 6-2 7-9 2-11 5-12 0-7-3-8-1-6-6-11-7 M1312 703l-20-1-17-3-21-4-14-6-1-6 2-4 0-5 21-4-1-4 20-5 19-3 20 1 17-2 16 3 18 3 24 6 1 4-1 4 5 5-8 8-10 8-15 0-13 4-29 3-15-1 M1382 709l-10 10-18 13-22-1-14-1-18-13-17-4-2-15-7-20 6-14 5-19 20-7 15-3 21-10 15 10 21 10 9 9 0 16 8 24-9 5 M1383 699l-11 1-18-2-9-6 0-3-5-8 3-7 0-3 13-6 13-7 9 2 16 3 9 5 4 3 8 5 1 8-1 5-16 6-7 5-8-1 M1354 717l-13 1-27 3-12 6-21-10-18-5-14-13 3-12 0-12 3-14 18-9 11-3 8-14 24 5 18-1 22 3 10 11 12 9 4 15-7 10-4 12-4 9-22 8 M1293 672l13-4 1-2 17-2 20-2 7-1 28 1-6 2 29 4 9 3-1 2 15 4-1 4-4 7-8 2-10 3-9 4-8 1-13 0-24 2-19-2-15 0-9-3-8-4-3-3-12-6-3-4 7-3 6-7 M1400 693l-6 8-6 9-7 2-18 6-8-9-7-3-12-5 0-11-3-13 3-8 6-12 3-9 11-3 10 1 17-1 5 9 11 8 8 11-6 10-3 12 M1311 637l13 0 16 0 6 14 14 12 6 11 0 13-13 16-3 11-17 8-24 4-11-2-13-7-13-3-6-10-16-14 1-11-1-16 16-7 14-10 11-9 8-2 M1243 666l7-14 15-13 16-3 12-5 8-3 28 12 9 8 13 14 8 9-1 15-4 6-16 13-3 15-14 6-20 3-17-4-9-8-19-5-9-14-8-9-5-13 7-15 M1412 703l-5 15-10 4-11 9-7 6-10-9-15-3-7-7-6-12-1-19 3-1-3-15 3-16 12-12 9-6 7-2 8-14 7 16 17-1 5 12 8 5 6 18-5 16 1 5-6 15 M1321 632l21 3 23 3 17 5 27 10-3 12 8 17-11 9 14 7-33 14-18 7-20 2-26 8-11-2-31-7-11-9-19-10-16-9 12-12-4-15 2-10 32-9 20-12 28-3 M1312 656l35 5 30 0 18 7 12 9-4 7-5 8-8 6-37 3-26 3-21-1-16-7-24-1-18-8 2-9 4-7 22-6 14-8 26 0 M1344 721l-7 9-21-1-7 0-13-7-16-13-4-21-14-13 10-16 3-14 20-4 14-5 8-11 18 10 13 10 10 17 1 17 1 11-2 25-15 3 M1296 682l-2-3 4-7-1-2 10-3 8-2 10-1 10-1 11-1 13 3 3 4 8 3 5 4 1 3-4 5 0 5-6 4-12 4 1 1-15 1-11-1-11-3-10 0-4-3-11-3-1-5 M1337 720l-6 4-6-1-8-2-10 2-8-11-3-10-3-6-4-12 2-10 0-6 4-10 7-10 10-3 4-9 9 6 9 4 5-2 7 9 4 8 7 15-4 5-2 8-4 14-8 10-2 5 M1377 701l-19 5-13 3-34-4-13 1-12-5-14-5-17-7-2-10 3-2 3-10 18-3 25-3 6-6 13-1 25 1 25 0 8 8 23 6 12 3-1 5 2 11-10 4-24 7-6 2 M1270 655l21-8 11-8 12-16 21 9 15-7 27 8 16 12 18 1 0 22 10 6-12 20 0 10-17 16-8 4-18 10-25 1-19-7-20 0-13-15-22-3-6-13-3-21 9-11 3-12 M1362 678l-9 15-4 11-11 13-8 4-14 2-11-4-5-6-8-7-6-17-4-16 8-12 4-12 15-11 7 0 16-1 2 10 16 7 3 12-2 16 M1239 694l-5-17 10-9 12-6 9-8 3-10 38-2 17-3 20 1 20 7 18 0 14 8 4 13 6 9 1 12 4 6-24 11-13 2-13 14-22-4-9 2-29-2-15-7-26 1-21-16-2-3 M1247 685l1-21 8-12 2-18 9-8 11 0 11-2 9 0 12 11 6 6 8 17 4 16-1 11-4 11-6 17-10 10 1 6-13 14-18-4-3-6-9-2-7-11-7-12-2-15-6-12 M1373 632l9 1 6 1 5 6 3 11 5 5 5 15 0 4 3 9-6 13 0 6-4 10-8 10-4 6-7-4-8 3-3-3-2-8-8-12-4-4-6-17 3 0 0-16 2-8 7-8 3-8 6-2 8-10 M1358 728l-15 2-24 1-9-9-26-3-21-11-9-9 8-15-9-12 1-10 15-13 20-5 11-10 34-3 22-1 14 10 14 3 9 6 19 16-7 9 6 17-10 7-5 11-11 6-25 11 M1276 696l-1-15 5-5 1-17 3-9 9-7 12-5 11 0 7 4 12 4 8 9 4 7 9 13-2 6-4 12-3 16-6 7-11 1-12 9-11-6-12 6-8-12-2-12-11-6 M1288 703l-10-3-10-7-3-7 1-8 2-10 9-1 11-7 5-4 15 3 10 0 14 6 9 3 1 6 4 9-3 6-3 9-10 5-18 0-9 0-16-1 M1245 675l10-18 14-10 20-4 31-4 24-3 32 4 20 9 11 7 14 14-1 14 2 11-11 5-34 17-16 5-32 5-21-2-19-10-36-8-9-11-2-11-2-16 M1293 682l0-21 5-5 10-21 11-8 4-2 14 1 14 5 7 5 2 17 7 25 0 9-2 25-9 9-8 8-7 9-16-1-9-7-9-3-7-12-4-17 0-14 M1280 696l-8 0-6-9-9-5 4-7 1-1 10-8 7-2 16-2 9-1 19-2 12 1 8 0 11 3 15 5-1 5 10 5-4 5-3 6-6 4-6 4-17 2-11 4-12 0-14-2-11-2-13-2 M1249 678l4-8 10-14 15-5 20-6 15-2 26 4 23 0 21 10 5 4 14 10 7 10-11 14-7 8-20 12-25 3-6 1-38-4-21-1-14-9-20-6-9-9 11-12 M1356 697l-15 2-11 5-12 1-14-2-11-3-5-6-8-8-8-9 13-9 4-7 14-6 16-1 10 2 14 6 7 4 7 10-6 9 2 10 M1365 709l-19-2-5-4-7-5-1-10-5-9 4-11 3-3 10-8 8-5 9-2 10-1 18 1 6 3 10 5 8 4 8 11 3 5-3 7-6 10-6 5-2 7-11 2-14 2-11 5-10-2 M1348 733l-15-9-12-11 6-9-12-15 13-21-3-9 6-12 8-11 15-13 10 2 19 5 6 3 6 2 13 9 4 19 4 19-2 11 1 10-7 13-10 4-16 10-4 3-20 3-14-2 M1422 665l-4 17-4 13-14 9 1 10-17 4-25 10-26-1-21-3-18-5-19-1-16-13-10-11 2-12 12-17-1-7 10-11 28-11 10-3 23-3 25 2 18 2 16 18 20 3 10 13 M1253 707l-14-18 2-16 3-7 28-24 4-8 48-4 20 0 22 2 30 12 3 18 12 17-4 10-7 20-12 8-38 8-23 4-24-1-31-3-11-20 M1322 719l-15 5-31-6-10-5-10-11 1-19 0-10-3-12 16-12 21-6 16-4 18-2 19 1 14 10 15 4 14 15 7 9-5 15-10 7-1 13-16 11-19 8-18-1 M1377 732l-24 1-8 1-33-8-6-9-12-10-2-15 4-21 6-18 9-11 15-18 16-1 16-1 24 4 22 16-4 2 9 22 7 19-4 11-4 16-17 10-14 19 M1342 677l3-8 3-16 2-2 6-5 3-1 6-2 5 3 6 8 1 3 4 11 1 14-2 8-1 9-5 15-3 0-4 2-4-2-5 3-4-8-6-6-3-6-2-8 2-16 M1286 729l-15-15-27-13-6-10 3-13-9-12 15-11 13-4 27-14 25-6 10-5 22 6 28 2 18 7 7 10 18 8 1 17 2 15-2 7-5 10-26 12-24 6-12 2-20 1-26 0-18-10 M1258 659l11-7 10-6 11-4 13 5 8 4 14 8 1 9 5 13 1 15-3 5-12 6-10 6-10 5-16 1-11-8-6-5-10-11-7-6 1-15 5-6-1-9 M1383 724l-7-12-4-10-4-19 1-15 5-9 2-7 9-12 6-5 10 5 4 0 7 11 3 20-3 11 1 18-4 11-4 13-9 4-6 1-7-5 M1270 669l4-1 18-2 14-3 22 2 17-1 18 6 13 1 1 6-1 6 2 5-20 5-5 4-20 2-22-2-13 1-21-3-11-4-3-6-9-3 5-7 2-5 M1423 666l2 11-8 21-3 17-4 5-12 8-15 6-11-7-16-9-11-1-4-17-2-13 3-23 6-10 9-12 8-4 16-9 12 7 13 2 5 9 9 17 M1356 645l5 7 4 13 1 4 1 21-4 16-3 6-8 7-4 3-6-1-7-8-6-6-4-11-1-16 4-14 4-14 3-9 7-4 7-1 5 6 M1275 704l4-14-7-21 2-9 8-15 12-12 21 6 13-12 22-5 14 3 13 2 13 19 7 12 10 13 2 20-8 5-12 19-7 4-14 15-23-1-12 5-27-7-14-8-11-6-8-13 M1265 643l6-11 7 2 11-8 8-5 1 8 12 9 2 4 6 15 5 15 0 7-3 15-2 11 1 5-13 24-6 0-2 1-16-3-3-1-7-7-7-7-6-15-5-10-1-9 5-16 0-11 9-15 M1257 705l-18-9 3-7-1-15 14-14 7-1 3-5 34-4 18-10 32 0 22 5 24 8 4 10 30 3-3 8-7 10-8 11-5 8-27 7-17 7-25 3-6-5-30-3-32-5-19-3 M1355 712l-13-5-21-1-30 0-21-8 2-9-7-6 2-12 7-6 22-12 21-1 22 0 25-2 14 2 9 8 26 6 21 8-8 8-13 12-13 10-22 6-20 2 M1409 695l-34 3-21 5-20 3-23-1-29-5-18-5-22-8 10-4-5-10 8-8 22-1 26-9 30-1 33 5 16 4 24 5 12 5 6 10-9 4-23 8 M1394 701l-18 15-25 14-13 7-17 0-37-5-21-10-14-17-5-15-4-17 12-22 9-17 37-3 19-10 30 8 21 3 11 14 18 22 4 12-16 25 M1332 674l14-8 11-4 15-3 15 0 21 3 7 3 9 6-4 11 2 7-15 8-14 3-6 6-17-2-18-5-10-4-11-7-5-11 6-6 M1334 681l2-18 2-9 5-4 2-13 8-1 9-1 2 4 8 6 5 17 2 10-2 15 1 12-6 16-8 8-4 2-8 2-4-1-7-10-4-9-1-9-2-17 M1322 723l-27 1-33-10-18-8-3-14 2-12-15-13 38-12 14-5 22-13 19-2 34 1 28 10 7 6 24 8 14 12-7 17 4 8-26 13-14 8-28 2-49 4 M1364 701l-14 10-22-4-8 3-29 0-17-5-5-2-18-6-7-3-9-9 6-7 3-7 9-5 8-5 17-5 5-1 21-7 23 5 16 2 25 1 4 5-5 8 19 7 0 6-7 4-11 10-3 7 M1334 718l-6 10-2-10-8-5-7-6-2-7 1-9-4-12 0-5 3-11 4-9 5-8 5-2 3-1 8-5 6-1 4 5 7 13 2 4 2 10 1 12 0 10-5 7-2 7-3 13-7-1-4 0 M1298 684l4-7 3-6 7-6 11-3 13-4 10-1 15 1 8 4 10 6 8 7 2 4-1 8-7 5-14 7-8 1-12 3-17-1-7-1-8-6-4-5-6-5 M1295 663l5-10 10-2 11-3 16-1 8 4 11 5 5 8 10 7 1 4 1 10 2 11-14 4-8 8-10 2-12 3-12 4-14-8-10-8-9 1-4-14-2-7-1-3 6-12 6-7 M1363 718l-16 8-22 10-26 4-9-9-20 2-18-21-8-5-2-23-5-17 10-12 7-10 22-16 17-10 19 2 24 6 10 9 14 5 6 13 15 21-3 14-7 19-13 10 M1296 713l-8 10-4 3-5 14-9-3-8-2-4-11-3-12-7-13-2-10 5-16-1-14 3-14 4-17 6 0 10 0 1 0 11 5 7 9 7 9 1 12 2 14-3 11 4 17-7 7 M1398 706l-3 0-9 2-2 2-10-5-5-3-4-9-1-5-2-5-3-9 5-6 6-3 3-5 4-5 7 0 7-2 6 2 7 7 5 0 0 8 6 7-3 8-2 8-5 7-6 2 M1265 656l16-9 15-3 41-3 30 1 28 10 4 10 18 7-2 14-4 10-11 12-14 6-32 7-34 4-24 0-13-10-24-8-8-16 2-12 2-5 12-11 M1379 650l5 4 7 7 0 10 3 9-2 10-1 6-3 11-8 3-5 1-7-2-4-3-5-10 0-12 1-12-1-7 3-7 7-3 4-6 6 1 M1357 708l-6 9-9 4-16 6-7-2-14-11-6-15-4-9-1-15 3-13 10-13 14-8 5-8 17 6 7 10 9 6 2 19-1 14 0 17 M1300 685l4-8 4-4 3-5 6-5 8-5 10-1 6 3 7 2 12 3 1 4 4 5 4 7-2 6-8 5-2 5-11 4-5 2-9-2-12-1-4-3-7-3-3-6-5-7 M1332 665l22-3 11 5 18 5 16 4-8 8-13 5-4 5-22 4-27 2-16-2-27 0-17-3-20-7-9-5 7-6-3-6 22-3 14-4 23-2 36 0 M1326 662l9 4 8 9 2 8-4 9-7 6-15 4-16 1-15-3-11-5-13-4-2-8 3-10 11-7 9-6 13-4 16 1 15 2 M1397 647l4 14 7 2 1 12 6 11-8 10-8 12-5 4-14 7-13 4-5 4-20-3-13-8-2-4-10-11-9-10 6-6 0-10 3-10 3-10 7-6 11-7 11-2 16 0 14 7 11-2 1 5 M1247 654l27-10 20-10 34-1 23 4 28 4 31 17 9 7 11 16-17 10-12 17-22 15-25 4-34-3-25 4-30-17-11-10-10-13 4-14 4-16 M1317 652l32 5 19-1 11 4 5 7 19 6 6 9-12 5-15 7-18 7 4 2-26 8-25-5-16 5-13-8-24-5-2-7-16-6 3-6 3-13 12-3 18-7 16-3 15-1 M1309 624l2 13 15 12 6 13-3 8 3 13 6 14-11 13-7 14-5 8-13-1-14 9-10-2-8-7-12-4-13-11-1-9-8-12-1-8 11-19-6-8 9-11 5-13 8-3 9-7 18 1 7 4 17-2 M1394 717l-6 3-4 13-5-1-13-1-8 5-12-3-4-11-6-8-8-9-5-10 7-18-6-8 8-10 10-10 0-15 9 3 8-6 10-11 6 11 7-4 9 17 5 3 5 4-2 17 5 10 5 16-11 13-1 6 M1383 712l-17 5-22 11-10-2-31 1-26-6-21-4-9-8-1-18-15-13 0-8 23-13 8-8 16-10 19-7 32 5 22-6 19 6 21 15 15 5-6 17 16 11-15 13-15 19 M1380 641l4 6 16-2 8 11 14 6-1 8 0 10 1 10 0 14-7 2-9 11-16-3-17 4-6 1-14-4-11-12-3-2-4-12-2-11 6-14 3-11 14-6-1 1 15-6 M1237 679l24-4-4-7-1-3 25-4 20-1 10-1 34 1-1-2 21 4 28 5 9 5 2 1 0 6 2 3-9 5-2 4-13 5-12 3-12 1-24 1-5 1-34-3-3 1-20-2-12-7-10-3-1-6-1-3 M1371 717l-10-7-6-12 1-10-2-12 3-15 7-13 8-7 10 3 8 1 10 7 5 11 0 8 1 18-1 9-11 14-6 4-8 1-10-4" fill="none" stroke="#0072bd" stroke-width="1.9" />
<path d="M1292 656l16-4 16 3 8 3 5 9 7 10-1 9-4 8-2 8-17 4-14 4-9 2-15-5-10-3-11-8-5-8 3-12-1-7 8-12 16-1 11-7 M1332 692l-8 6-11 3-16 2-13-2-11-6-9-7-2-5-3-9 10-5 11-6 9-3 16-1 15 2 11 6 10 6 1 4 4 9-9 8 M1308 659l7 1 8 8 6 2 9 4-7 9 7 6-16 5-9 9-6-1-11 4-17 0-13-4-14 1-12-4-5-8-4-5-1-4 4-8-1-7 11-2 12-6 10-1 18-2 10 2 16-2 M1293 699l-11-3-6-3-6-4-5-3 0-5 3-8 1-2 4-4 12-4 13-2 4 1 12 1 11-1 7 2 10 7 5 3 3 5 0 4-4 6-7 3-5 5-10-1-8 4-18 0-6 0 M1316 668l19 2 10 5 8 2-10 4 1 7-13 3-13 3-18 0-13 1-15 0-18-3-10-3-6-3-9-7 7-3 15-3 4-3 17-2 14 0 16-2 22 1 M1240 670l9-3 11-3 12-5 13 2 11 0 7 3 19 0 6 3 9 7 1 2-1 7-3 5-5 3-14 6-10 2-6 3-17-1-11-1-3-2-16-4-13-2-2-6 0-4 2-6 6-4 M1330 661l9 3-1 15 4 10-7 14-8 4-14 7-15 3-7-6-9-5-8-10-7-9-4-9 6-14 13-8 5-3 11-4 11-2 14 6 7 4 M1318 687l-8 9-1 6-8 5-7 1-14-2-6 1-9-5-9-10-3-7 2-6 1-5 2-11 8-4 11-5 13-2 5 5 7 2 8 3 7 8 1 8 3 7 M1336 668l11 8 4 5-9 6 2 3-8 5-7 3-18 6-4-1-18 2-3-4-13-2-4-3-7-6-8-7 2-3 2-9 7-4 7-2 8-5 11-2 13-2 9 3 11 1 7 6 11 1 M1323 670l10 3-6 4 9 3-5 4 3 3-9 2-7 3-7 1-10 1-6 2-8-1-7-1-13-5 0-1-8-3-2-3 0-3 2-4 9-3-1-2 6-1 8-3 9-2 14 2 8 2 5 0 6 3 M1287 654l11-1 12 0 9 5 12 6 5 8 1 11-3 8-3 8-15 4-7 6-14 0-13-2-8-4-8-11-4-9-2-9 6-9 8-7 12-2 M1233 702l-2-10-5-6 0-18 6-7 12-10 20-4 23 1 13 2 12 10 8 13 8 10-4 8-8 11-14 3-15 8-20 0-16-5-9-8 M1321 698l-3 2-16-1-12-3-7-5 1-8-1-6 0-5 8-5 10-3 7-4 12 1 12 3 8 6 6 3 0 6 1 7-10 6-5 3-12 5 M1341 688l-8 6-8 2-10 4-19 0-16-2-11-2-6-2-10-4 1-7-2-3-1-4 0-8 14-4 10-1 10-2 15-3 18 5 8 2 15 3 5 6 4 5-4 5 1 7" fill="none" stroke="#0072bd" stroke-width="1.9" />
<path d="M1415 622l12 18 15 13-6 14 0 18-6 9-4 16-14 10-14 5-12 18-31-1-15 2-31 0-23-1-10-16-10-3-9-19 7-7-14-13 4-21 16-14 6-7 19-7 26-13 11-8 32-7 14 6 20 3 19 6 M1321 609l41-11 27 0 15 16 27 1 7 28 3 20 2 22 0 16-22 24-11 12-29 13-27 5-35-5-16 6-11-28-18-19-10-9 4-19 16-25 4-19 25-19 18 0 M1454 636l3 34 1 22-21 28-17 17-34 17-27 2-30-2-13-1-21-12-16-30-22-15 23-32 9-25 11-31 39-4 26-13 29 3 17 10 24 29 7 15 M1277 735l-4-15-4-13-6-18 7-22 18-21 15-24 4-5 19-3 19-16 16 4 25-4 10 16 14 7 7 12 23 13 3 23 0 15-10 26-12 13-11 11-31 6-1 10-31 3-22 0-6-6-24 2-14-19 M1428 631l18 5 2 11 9 17-6 24-7 14-7 15-13 6-19 12-23 8-25 2-14 3-21-3-15-22-13-5-5-13-11-11 11-17 2-27 12-13 11-8 18-3 33-13 20 3 20-4 19 5-3 11 M1289 662l8-9 19-23 11-6 22-7 16-5 9 1 20 6 23 3 24 16-5 16 0 21-5 14 0 17-18 14-12 9-14-1-21 9-29 1-10 7-23-16-4-16-17 0-9-18-1-9 26-23 M1348 599l16 3 19 8 17 5 12 8 2 26 0 9 8 19-7 20-5 21-12 10-21 18-12 7-12 4-22-1-12-2-22 8-19-2-15-31 7-20-9-3-6-32 18-16 0-13 14-20 22-15 8-5 17-15 21 6 M1279 623l11-16 28-13 17-17 32 4 42 8 22 14 12 21 13 16 5 26-5 28-19 23-27 27-16 12-28 14-34-8-27 0-18-12-20-17-8-21-13-12 8-41 10-27 M1444 664l9 33-31 26-6 10-26 22-37 2-23-3-21 3-29-23-12-20-8-23-8-19 28-31 16-40 30-4 31-6 19 14 34 6 20 3 19 28-4 26 M1273 719l-4-22-7-23 10-12 12-25 14-16 21-13 24-17 23 8 18-21 9 33 20 4 20 11 11 20-2 25 1 19-7 18-13 19-21 22-35 14-13 0-23 0-23 1-14-13-25-20-9-6 M1413 716l-20 24-39 6-23 5-32 0-27-18-16-11-9-29 13-31 9-20 25-22 30-10 38-12 26 11 22 16 4 9 21 32 3 31-22 18 M1294 618l43 2 16-13 40 1 14 11 22 13 9 25 2 11 1 24-21 14-23 15-16 20-25 5-27 2-23-2-29-9-10-14-17-16-2-19 10-14 4-21 21-24 25-8 M1247 665l18-29 10-15 18-19 28-10 9 5 28-7 15 0 20 4 19 19 2 22 16 20-12 19 1 21-8 16 6 13-24 20-20 11-28 5-10 11-27-8-18-2-14-3-15-24-15-18 10-17-12-25 17-16 M1415 724l-48 20-31 8-36-15-32-5-16-18 0-21-2-22 19-26 10-18 52-11 25-12 38 12 25 4 13 30 12 18 0 27-25 20-19 10 M1296 680l4-29 8-23 11 0 22-21 13-18 16-1 21-5 16 20 18 7 14 10 1 12 2 29 6 3-13 31-2 18-6 22-7 8-28 17-17 7-12-10-10 4-27 0-15-2-4-19-4-23-5-32-9 1 M1391 732l-32 3-36 12-14-14-28-3-11-23-11-25-1-24 21-18 18-12 23-14 38-6 41 1 20 23 26 3 5 28-5 15 2 20-27 27-23 9 M1395 763l-26 3-25 9-33-2-29-18-9-14-6-25-4-30 5-28 10-24 22-31 19-13 21-9 23-6 43 19 19 6 23 19 12 26-6 34-7 24-5 28-20 17-23 14 M1305 721l-12-15-13-26 9-19 14-30 29-10 19-6 30-1 30 3 16 21 20 15-1 28-9 16-15 16-20 19-18 8-33 5-18-10-29-10 M1277 646l18-12 17-16 28-15 21 5 30 3 15 3 23 11-1 16 21 15-6 29-12 12-13 26-8 9-20 15-40 8-6 1-27-9-27-8 0-24-23-1 2-35-7-10 17-12 M1453 684l-14 23-26 20-14 12-24 6-17 14-42-10-23-14-16-10-20-21 1-8 11-28 15-18 16-30 24-3 27-9 45-4 8 8 36 12 9 24 7 14-2 19 M1314 634l20-12 36 0 28-6 9 4 10 11 25 7 0 22 7 6 6 5-3 22-15 7-10 14-13 12-19-4-32 8-19-1-18 10-8-9-26-4-13-8-20-13-3-8-4-12 4-16 1-13 29-10 12-12 25-7 M1259 658l12-22 7-11 48-7 25-10 29-2 33 8 14 16 6 23 7 16 0 18-18 23-21 16-25 11-22 21-25-9-31-6-25-7-12-13-11-25-2-18 11-17 M1433 653l0 15-11 25-5 17-23 8-6 16-35 4-22 8-16-14-19-6-16-10-11-21 6-7 3-20 5-22 20-10 9-13 26-12 22 10 18-2 31 3 17 19-4 18 M1338 738l-25-5-34-9 5-15-15-23 10-22 2-18 20-9 42-11 19-8 30 5 14 9 26 11 9 24-6 10-3 18-6 18-35 19-30 3-21 1 M1421 704l-12 13-19 16-21 3-28 3-18-6-25-4-12-12-13-24-5-9 12-32 17-13 15-8 33-14 21-2 19 2 20 17 20 8 2 18 7 21-7 20 M1466 677l-14 19-15 18-14 16-16 0-34 21-21-9-10 0-26-16-3-21-10-15-4-22 16-14 9-19 29-22 16-8 29 9 17-4 22 14 13 17 9 19 0 13 M1416 738l-20 16-25 1-21 0-32-5-13-12-13-21-8-18 6-38 20-13 20-24 21-17 26-10 17 9 26 15 21 10 4 12 16 28-21 17 3 28-25 22 M1272 728l1-16-12-8-12-23 5-12 17-9 12-20 13-12 27 1 13-21 21 3 25 4 20 2 8 13 36 8 14 11-5 16 10 11-10 17-28 18 3 9-34 6-17 6-20 13-18 0-23-5-20-6-6-10 M1258 698l8-34 14-25 30-33 24-4 26 10 42-7 17 12 16 19 8 30 0 29-25 26-18 30-22 0-45 2-21 0-19-19-19-6-9-43 M1310 766l-32-16-5-10-10-19-6-24-11-15 18-30 22-23 16-17 21-16 18 0 30 3 36-4 17 27 11 10 7 14 1 25-3 24-30 25 8 11-28 19-16 6-32 8-31 9 M1453 680l-11 22-14 15-19 16-7 8-22 21-13-9-23-5-16 15-23-18-10-4-15-21-8 1 2-38 3-10 8-21 0-24 8-8 28-10 18-8 22-7 13-4 22 12 27 1 12 23-7 22 10 6 5 27 M1245 698l1-17 5-23 26-17 8-15 27-4 34-16 19-3 31 13 43 4 0 19 12 10 1 23 0 17-10 19-26 16-10 12-26 2-46 10-10-7-32-7-24-7-14-11-5-21 M1254 694l4-23 2-25 26-19 13-15 21-8 9-7 30 6 31-1 21 10 8 16 6 12 5 15 8 20-12 26-6 21-26 18-9 4-27 10-17 3-26-1-24-5-18-7-16-25-4-7-9-28 M1248 694l-1-19 7-22 11-11 40-15 37-12 38 1 18-1 28 8 7 20 18 7 14 15-20 23 2 22-18 12-32 8-25 5-29 12-24-9-29-12-23-7-2-14-7-16" fill="none" stroke="#0072bd" stroke-width="1.9" />
<path d="M1332.6,590 1350.3,570.8 1373.8,560.4 1403.2,556.2 1432.6,562.1 1462,581.3 1477.3,607.4 1483.2,642.2 1485,671.8 1482,703.1 1473.8,724 1456.1,739.7 1436.1,744.9" fill="none" stroke="#0072bd" stroke-width="1.9" />
</g>
<rect x="1162.1" y="541.7" width="352.9" height="278.1" fill="none" stroke="#4d4d4d" stroke-width="1.7"/>
<path d="M1220.9,819.8v-3.6 M1220.9,541.7v3.6 M1279.7,819.8v-3.6 M1279.7,541.7v3.6 M1338.5,819.8v-3.6 M1338.5,541.7v3.6 M1397.3,819.8v-3.6 M1397.3,541.7v3.6 M1456.1,819.8v-3.6 M1456.1,541.7v3.6 M1162.1,576h3.6 M1515,576h-3.6 M1162.1,610.9h3.6 M1515,610.9h-3.6 M1162.1,645.7h3.6 M1515,645.7h-3.6 M1162.1,680.5h3.6 M1515,680.5h-3.6 M1162.1,715.3h3.6 M1515,715.3h-3.6 M1162.1,750.1h3.6 M1515,750.1h-3.6 M1162.1,785h3.6 M1515,785h-3.6 " fill="none" stroke="#4d4d4d" stroke-width="1.5" />
<text transform="translate(1162.8,841.8) scale(0.92,1)" font-size="19.8" fill="#4d4d4d" stroke="#4d4d4d" text-anchor="middle">-0.1</text>
<text transform="translate(1279.8,841.8) scale(0.92,1)" font-size="19.8" fill="#4d4d4d" stroke="#4d4d4d" text-anchor="middle">0</text>
<text transform="translate(1399.9,841.8) scale(0.92,1)" font-size="19.8" fill="#4d4d4d" stroke="#4d4d4d" text-anchor="middle">0.1</text>
<text transform="translate(1513.3,841.8) scale(0.92,1)" font-size="19.8" fill="#4d4d4d" stroke="#4d4d4d" text-anchor="middle">0.2</text>
<text transform="translate(1154.5,547) scale(0.92,1)" font-size="19.8" fill="#4d4d4d" stroke="#4d4d4d" text-anchor="end">0.8</text>
<text transform="translate(1154.5,618.3) scale(0.92,1)" font-size="19.8" fill="#4d4d4d" stroke="#4d4d4d" text-anchor="end">0.4</text>
<text transform="translate(1154.5,687.2) scale(0.92,1)" font-size="19.8" fill="#4d4d4d" stroke="#4d4d4d" text-anchor="end">0</text>
<text transform="translate(1154.5,756.6) scale(0.92,1)" font-size="19.8" fill="#4d4d4d" stroke="#4d4d4d" text-anchor="end">-0.4</text>
<text transform="translate(1154.5,821.6) scale(0.92,1)" font-size="19.8" fill="#4d4d4d" stroke="#4d4d4d" text-anchor="end">-0.8</text>
<text x="1325" y="871.2" font-size="19.4" fill="#231f20" stroke="#231f20" text-anchor="middle" >X velocity (m/s)</text>
<text x="1109" y="681" font-size="19.4" fill="#231f20" stroke="#231f20" text-anchor="middle" transform="rotate(-90 1109 681)" >X acceleration (m/s<tspan font-size="11.5" dy="-6.5">2</tspan><tspan dy="6.5">)</tspan></text>
</g>
<!-- panel D -->
<g>
<text transform="translate(-1,1004.6) scale(0.965,1)" font-size="89.5" fill="#231f20" stroke="none">D</text>
<text x="84.6" y="1072.1" font-size="20" fill="#4d4d4d" stroke="#4d4d4d" text-anchor="middle" transform="rotate(-90 84.6 1072.1)" >X vel.</text>
<text x="117.7" y="1065.7" font-size="20" fill="#4d4d4d" stroke="#4d4d4d" text-anchor="middle" transform="rotate(-90 117.7 1065.7)" >0.1 m/s</text>
<rect x="123.3" y="1051" width="4.1" height="44.4" fill="#4d4d4d"/>
<text x="84.6" y="1158.2" font-size="20" fill="#4d4d4d" stroke="#4d4d4d" text-anchor="middle" transform="rotate(-90 84.6 1158.2)" >X accel.</text>
<text x="117.7" y="1159.8" font-size="20" fill="#4d4d4d" stroke="#4d4d4d" text-anchor="middle" transform="rotate(-90 117.7 1159.8)" >0.5 m/s<tspan font-size="11.7" dy="-6.7">2</tspan></text>
<rect x="123.3" y="1132.7" width="4.1" height="44" fill="#4d4d4d"/>
<path d="M137.8,1095.4C141.4,1095.4 152.6,1095.6 159.4,1095.7C166.2,1095.8 171.1,1095.6 178.6,1095.7C186,1095.8 197.2,1096 204.1,1096.3C211,1096.7 215.8,1097.8 220,1097.6C224.3,1097.5 226.7,1096.4 229.6,1095.4C232.5,1094.3 234.6,1092.1 237.6,1091.2C240.5,1090.3 244.2,1089.8 247.1,1090C250.1,1090.1 252.2,1091.4 255.1,1092.2C258,1092.9 261.2,1094.1 264.7,1094.4C268.1,1094.8 274,1094.4 275.8,1094.4" fill="none" stroke="#0072bd" stroke-width="1.85" stroke-linecap="round"/>
<path d="M510.6,1092.8C511.4,1091.1 513.8,1088 515.4,1082.6C517,1077.2 518.6,1067.5 520.2,1060.3C521.7,1053.1 523.2,1044.2 524.9,1039.6C526.6,1035 528.6,1032.6 530.4,1032.6C532.1,1032.6 533.7,1034.4 535.5,1039.6C537.2,1044.7 539.2,1055.3 540.9,1063.5C542.6,1071.7 543.9,1082.5 545.7,1089C547.4,1095.5 549.5,1100.2 551.4,1102.4C553.3,1104.6 554.9,1103.8 556.8,1102.4C558.8,1101 561.1,1096.6 563.2,1093.8C565.3,1091 567.7,1087.4 569.6,1085.8C571.4,1084.2 572.5,1083.7 574.4,1084.2C576.2,1084.8 578.3,1087.3 580.7,1089C583.1,1090.8 586.6,1095.3 588.7,1094.7C590.8,1094.2 591.7,1089.7 593.5,1085.8C595.2,1081.9 597.4,1074.7 599.2,1071.5C601.1,1068.3 603,1066.7 604.7,1066.7C606.4,1066.7 607.8,1069.4 609.4,1071.5C611,1073.5 612.6,1077.6 614.2,1078.8C615.8,1080 617.4,1080.2 619,1078.8C620.6,1077.4 622.3,1072.1 623.8,1070.5C625.3,1068.9 626.5,1068.3 627.9,1069.2C629.4,1070.2 630.7,1072.2 632.4,1076.2C634.1,1080.3 636.4,1089.5 638.1,1093.8C639.9,1098 641.3,1100.3 642.9,1101.8C644.5,1103.2 645.8,1102.9 647.7,1102.4C649.6,1101.9 652,1099.7 654.1,1098.6C656.2,1097.4 658.6,1096.2 660.5,1095.4C662.3,1094.6 663.8,1094.6 665.2,1093.8C666.7,1093 668.7,1091.1 669.4,1090.6" fill="none" stroke="#0072bd" stroke-width="1.85" stroke-linecap="round"/>
<path d="M137.1,1175.1C141.9,1175.1 158.9,1175.3 165.8,1175.1C172.7,1174.9 173.3,1174.4 178.6,1174.1C183.9,1173.9 193.5,1173 197.7,1173.5C202,1174 202,1177.1 204.1,1177.3C206.2,1177.6 208.3,1175.4 210.5,1175.1C212.6,1174.8 214.7,1176.1 216.8,1175.7C219,1175.4 221.1,1173.4 223.2,1172.9C225.3,1172.3 227.7,1172.8 229.6,1172.6C231.5,1172.3 232.8,1171.2 234.4,1171.3C236,1171.3 237.3,1172.4 239.2,1172.9C241,1173.3 243.4,1172.8 245.5,1173.8C247.7,1174.8 249.8,1178.7 251.9,1178.9C254,1179.1 255.1,1175.7 258.3,1175.1C261.5,1174.5 268.9,1175.1 271,1175.1" fill="none" stroke="#0072bd" stroke-width="1.85" stroke-linecap="round"/>
<path d="M511.2,1184C511.6,1180.4 512.7,1169.1 513.8,1162.3C514.8,1155.5 516.1,1148.4 517.6,1143.2C519.1,1138 521.2,1131.6 522.7,1131.1C524.2,1130.6 525.1,1133.8 526.5,1140C528,1146.3 529.7,1159.2 531.3,1168.7C532.9,1178.3 534.5,1189 536.1,1197.4C537.7,1205.8 539.3,1217.5 540.9,1219.1C542.5,1220.7 544.1,1212.2 545.7,1207C547.3,1201.8 548.9,1193.7 550.4,1187.9C552,1182 553.6,1175.9 555.2,1171.9C556.8,1167.9 558.4,1165.4 560,1163.9C561.6,1162.5 562.9,1161.7 564.8,1163C566.7,1164.3 569,1168.7 571.2,1171.9C573.3,1175.1 575.4,1180.1 577.6,1182.1C579.7,1184.1 582.1,1185.2 583.9,1184C585.8,1182.9 587.2,1179.2 588.7,1175.1C590.2,1171 591.5,1162.6 592.9,1159.2C594.2,1155.7 595.4,1154.4 596.7,1154.4C598,1154.4 599.2,1155.7 600.5,1159.2C601.8,1162.6 603.2,1170.2 604.7,1175.1C606.1,1180 607.8,1187.2 609.4,1188.8C611,1190.4 612.7,1188 614.2,1184.7C615.7,1181.3 616.9,1172.4 618.4,1168.7C619.8,1165 621.4,1161.8 622.8,1162.3C624.3,1162.9 625.5,1167.1 627,1171.9C628.5,1176.7 630.2,1186.6 631.8,1191C633.4,1195.5 634.9,1198.1 636.5,1198.4C638.1,1198.6 639.7,1195.7 641.3,1192.6C642.9,1189.6 644.5,1183.6 646.1,1179.9C647.7,1176.2 649.3,1172.2 650.9,1170.3C652.5,1168.5 654.1,1168.6 655.7,1168.7C657.3,1168.9 658.9,1171.2 660.5,1171.3C662.1,1171.4 663.8,1170.2 665.2,1169.4C666.7,1168.6 668.7,1167 669.4,1166.5" fill="none" stroke="#0072bd" stroke-width="1.85" stroke-linecap="round"/>
<path d="M275.8,1094.4C276.9,1095.1 280.1,1096.6 282.2,1098.6C284.3,1100.6 286.5,1104.7 288.6,1106.5C290.7,1108.4 292.8,1110 295,1109.7C297.1,1109.5 299.2,1108.9 301.3,1104.9C303.5,1101 305.6,1091.8 307.7,1085.8C309.8,1079.9 311.7,1072.7 314.1,1069.2C316.5,1065.8 319.7,1066 322.1,1065.1C324.5,1064.1 326.3,1065.1 328.4,1063.5C330.6,1061.9 332.7,1056.9 334.8,1055.5C336.9,1054.2 338.8,1054.2 341.2,1055.5C343.6,1056.9 346.5,1061.6 349.2,1063.5C351.8,1065.4 354.8,1065.1 357.1,1066.7C359.5,1068.3 361.4,1074.1 363.5,1073.1C365.6,1072 367.8,1065.9 369.9,1060.3C372,1054.7 374.6,1043.7 376.3,1039.6C378,1035.4 378.8,1035.2 380.1,1035.4C381.4,1035.7 382.7,1037.8 384.2,1041.2C385.8,1044.5 388.1,1052.1 389.7,1055.5C391.3,1059 392.3,1063 393.8,1061.9C395.3,1060.8 397,1051.9 398.6,1049.1C400.2,1046.4 401.8,1045.3 403.4,1045.3C405,1045.3 406.3,1046.4 408.2,1049.1C410,1051.9 412.8,1059.1 414.5,1061.9C416.2,1064.7 416.5,1065.8 418.4,1066C420.2,1066.3 423.2,1065 425.7,1063.5C428.3,1062 431.3,1059.2 433.7,1057.1C436.1,1055 438.2,1054.2 440.1,1050.7C441.9,1047.3 443.1,1039.8 444.8,1036.4C446.5,1032.9 448.6,1030.8 450.3,1030C451.9,1029.2 453.2,1028.7 454.8,1031.6C456.3,1034.5 457.9,1042.7 459.6,1047.6C461.3,1052.4 463.3,1059.6 465,1060.9C466.7,1062.3 468,1057.3 469.8,1055.5C471.5,1053.7 473.5,1051.2 475.5,1050.1C477.5,1049 479.8,1048.2 481.9,1049.1C484,1050 485.9,1054.1 488.3,1055.5C490.7,1057 494.1,1055.4 496.2,1057.8C498.4,1060.1 499.4,1065.5 501,1069.9C502.6,1074.3 504.2,1080.4 505.8,1084.2C507.4,1088 509.8,1091.4 510.6,1092.8" fill="none" stroke="#d9562c" stroke-width="4.1" stroke-linecap="round" stroke-linejoin="round"/>
<path d="M271,1175.1C272.1,1175.7 275.1,1177.2 277.4,1178.9C279.7,1180.6 282.6,1185.1 284.8,1185.3C286.9,1185.5 288.2,1182.1 290.2,1179.9C292.1,1177.7 294.4,1175.9 296.6,1171.9C298.7,1167.9 301.1,1160.2 302.9,1156C304.8,1151.7 306.4,1146.7 307.7,1146.4C309,1146.1 309.7,1150.5 310.9,1154.4C312.1,1158.2 313.5,1166.6 315.1,1169.4C316.6,1172.1 318.7,1170.4 320.5,1171C322.3,1171.5 324,1173.9 325.9,1172.9C327.8,1171.9 330.1,1165.3 331.6,1164.9C333.1,1164.5 333.7,1167.8 334.8,1170.3C336,1172.8 336.8,1177.9 338.6,1179.9C340.5,1181.9 344,1183 346,1182.4C348,1181.9 348.9,1177.5 350.8,1176.7C352.6,1175.9 355,1178.5 357.1,1177.7C359.3,1176.9 361.7,1175 363.5,1171.9C365.4,1168.8 366.7,1163 368.3,1159.2C369.9,1155.3 371.7,1150 373.1,1149C374.5,1147.9 375.6,1148.4 376.9,1152.8C378.2,1157.1 379.8,1168.7 381.1,1175.1C382.3,1181.5 382.8,1186.5 384.2,1191C385.7,1195.6 388.1,1203.8 389.7,1202.2C391.3,1200.6 392.6,1189.5 393.8,1181.5C395,1173.5 395.9,1157 397,1154.4C398.1,1151.7 399,1160.4 400.2,1165.5C401.4,1170.7 402.9,1181.7 404.3,1185.3C405.8,1188.9 407.4,1186 408.8,1187.2C410.2,1188.4 411.6,1194.1 412.9,1192.6C414.3,1191.2 415.8,1182.5 417.1,1178.3C418.4,1174 419.2,1168.9 420.9,1167.1C422.6,1165.4 424.9,1167.7 427.3,1167.8C429.7,1167.8 433.1,1168.6 435.3,1167.4C437.4,1166.3 438.6,1162.2 440.1,1160.8C441.5,1159.3 442.4,1157.8 443.9,1158.5C445.4,1159.2 447.5,1162.1 449,1164.9C450.5,1167.7 451.6,1170.2 452.9,1175.1C454.1,1180 455.3,1189.3 456.4,1194.2C457.5,1199.1 458.4,1204.4 459.6,1204.4C460.7,1204.4 462.1,1200.2 463.4,1194.2C464.7,1188.3 466.3,1174.6 467.5,1168.7C468.8,1162.9 469.5,1159.3 470.7,1159.2C471.9,1159.1 473.5,1166 474.9,1168.1C476.2,1170.2 477.3,1171 478.7,1171.9C480.1,1172.8 482.2,1172.7 483.5,1173.5C484.8,1174.3 485.3,1176.7 486.7,1176.7C488,1176.7 490.1,1172.2 491.5,1173.5C492.8,1174.8 493.3,1180 494.6,1184.7C496,1189.3 497.8,1198.7 499.4,1201.2C501,1203.8 502.6,1201 504.2,1200C505.8,1198.9 507.8,1197.5 509,1194.9C510.2,1192.2 510.9,1185.8 511.2,1184" fill="none" stroke="#d9562c" stroke-width="4.1" stroke-linecap="round" stroke-linejoin="round"/>
<path d="M669.4,1089C670.3,1088.2 672.8,1086.2 674.8,1084.2C676.8,1082.2 679.1,1079.3 681.2,1076.9C683.3,1074.5 685.7,1071.3 687.6,1069.9C689.4,1068.4 690.5,1068.1 692.3,1068.3C694.2,1068.4 696.3,1070.7 698.7,1070.8C701.1,1071 704.6,1070.2 706.7,1069.2C708.8,1068.3 709.9,1067.4 711.5,1065.1C713.1,1062.8 714.7,1058.2 716.3,1055.5C717.9,1052.9 719.3,1050.5 721,1049.1C722.8,1047.8 724.9,1047.2 726.8,1047.6C728.6,1047.9 730.2,1049.9 732.2,1051.4C734.2,1052.9 736.2,1055.3 738.6,1056.5C741,1057.7 744.4,1056.7 746.6,1058.7C748.7,1060.7 749.7,1064.3 751.3,1068.3C752.9,1072.3 754.5,1078.7 756.1,1082.6C757.7,1086.5 759,1089.4 760.9,1091.6C762.8,1093.7 764.4,1094.5 767.3,1095.4C770.2,1096.2 775,1096.8 778.4,1096.7C781.9,1096.6 784.3,1095 788,1094.7C791.7,1094.5 793.3,1095.1 800.8,1095.1C808.2,1095 822,1094.5 832.7,1094.4C843.3,1094.3 852.8,1094.5 864.5,1094.4C876.2,1094.4 896.4,1094.2 902.8,1094.1" fill="none" stroke="#f0a94a" stroke-width="4.1" stroke-linecap="round" stroke-linejoin="round"/>
<path d="M669.4,1167.1C670.6,1166.9 674.4,1165.9 676.4,1165.5C678.4,1165.2 679.3,1164.6 681.2,1164.9C683,1165.2 686,1165.7 687.6,1167.1C689.2,1168.6 689.5,1171.4 690.8,1173.5C692,1175.6 693.3,1179.9 694.9,1179.9C696.5,1179.9 698.6,1174.7 700.3,1173.5C702,1172.3 703.5,1173.9 705.1,1172.9C706.7,1171.8 708.4,1169.4 709.9,1167.1C711.4,1164.8 712.7,1159.7 714,1159.2C715.4,1158.6 716.6,1162.3 717.9,1163.9C719.1,1165.5 720.4,1166.6 721.7,1168.7C723,1170.9 724.3,1174.6 725.8,1176.7C727.3,1178.8 728.8,1180.9 730.6,1181.5C732.5,1182 735.1,1180.2 737,1179.9C738.8,1179.6 740.2,1179.1 741.8,1179.9C743.4,1180.7 745,1182.5 746.6,1184.7C748.2,1186.8 749.7,1191.2 751.3,1192.6C752.9,1194.1 754.5,1194.6 756.1,1193.3C757.7,1191.9 759.6,1186.7 760.9,1184.7C762.2,1182.6 762.2,1182 764.1,1180.8C766,1179.7 769.7,1178.6 772.1,1177.7C774.5,1176.7 776.2,1176.1 778.4,1175.1C780.7,1174.1 783.6,1172 785.5,1171.9C787.3,1171.8 787.9,1174.1 789.6,1174.5C791.4,1174.8 793.6,1173.9 796,1174.1C798.4,1174.4 801.6,1175.7 804,1175.7C806.3,1175.7 805.5,1174.4 810.3,1174.1C815.1,1173.9 824.7,1174 832.7,1174.1C840.6,1174.3 850.2,1174.7 858.2,1174.8C866.1,1174.8 874.9,1174.6 880.5,1174.5C886.1,1174.3 887.9,1173.6 891.6,1173.8C895.4,1174.1 900.9,1175.7 902.8,1176.1" fill="none" stroke="#f0a94a" stroke-width="4.1" stroke-linecap="round" stroke-linejoin="round"/>
</g>
<!-- panel E -->
<g>
<text transform="translate(1036,972.2) scale(0.965,1)" font-size="89.5" fill="#231f20" stroke="none">E</text>
<path d="M1176.3,1043.7C1179.4,1041.1 1188.1,1033.2 1195.2,1028.3C1202.3,1023.4 1209.3,1018.3 1218.8,1014.2C1228.2,1010 1240.8,1005.9 1251.8,1003.5C1262.8,1001.2 1273.8,999.6 1284.8,1000C1295.9,1000.4 1308.1,1002 1317.9,1005.9C1327.7,1009.8 1337,1016.3 1343.8,1023.6C1350.7,1030.9 1355.6,1040.5 1359.2,1049.6C1362.7,1058.6 1363.7,1068.4 1365.1,1077.9C1366.5,1087.3 1367.4,1096.7 1367.4,1106.2C1367.4,1115.6 1366.6,1125.1 1365.1,1134.5C1363.5,1143.9 1361.9,1153.8 1358,1162.8C1354.1,1171.9 1347.4,1181.3 1341.5,1188.8C1335.6,1196.2 1329.7,1201 1322.6,1207.7C1315.5,1214.3 1308.4,1223 1299,1228.9C1289.6,1234.8 1277.4,1239.5 1266,1243C1254.6,1246.6 1242.4,1249.7 1230.6,1250.1C1218.8,1250.5 1206.2,1248.2 1195.2,1245.4C1184.2,1242.7 1174.7,1238.3 1164.5,1233.6C1154.3,1228.9 1143.3,1223 1133.8,1217.1C1124.4,1211.2 1115.3,1204.5 1107.9,1198.2C1100.4,1191.9 1093.5,1186.4 1089,1179.3C1084.5,1172.3 1082.7,1163.6 1080.7,1155.7C1078.8,1147.9 1077.2,1140 1077.2,1132.1C1077.2,1124.3 1078,1115.2 1080.7,1108.5C1083.5,1101.9 1088.4,1095.6 1093.7,1092C1099,1088.5 1106.7,1087.3 1112.6,1087.3C1118.5,1087.3 1123.6,1089.7 1129.1,1092C1134.6,1094.4 1141.1,1097.9 1145.6,1101.5C1150.1,1105 1154.3,1108.9 1156.2,1113.3C1158.2,1117.6 1158.4,1122.7 1157.4,1127.4C1156.4,1132.1 1153.9,1138 1150.3,1141.6C1146.8,1145.1 1140.9,1147.5 1136.2,1148.7C1131.5,1149.8 1126,1150.2 1122,1148.7C1118.1,1147.1 1114.4,1142.8 1112.6,1139.2C1110.8,1135.7 1111.6,1129.4 1111.4,1127.4" fill="none" stroke="#0072bd" stroke-width="1.8" stroke-linejoin="round"/>
<path d="M1119.7,1118C1121.2,1114.8 1124.4,1106.2 1129.1,1099.1C1133.8,1092 1140.9,1081.6 1148,1075.5C1155.1,1069.4 1163.7,1064.1 1171.6,1062.5C1179.4,1061 1188.5,1063.5 1195.2,1066.1C1201.9,1068.6 1207.8,1073.2 1211.7,1077.9C1215.6,1082.6 1216.8,1087.7 1218.8,1094.4C1220.7,1101.1 1223.9,1110.1 1223.5,1118C1223.1,1125.9 1220,1134.1 1216.4,1141.6C1212.9,1149.1 1208.2,1156.5 1202.3,1162.8C1196.4,1169.1 1188.5,1175 1181,1179.3C1173.5,1183.7 1165.3,1186.8 1157.4,1188.8C1149.6,1190.7 1141.3,1191.5 1133.8,1191.1C1126.4,1190.7 1118.9,1189.6 1112.6,1186.4C1106.3,1183.3 1100.8,1178.2 1096.1,1172.3C1091.4,1166.4 1086.8,1157.7 1084.3,1151C1081.7,1144.3 1081.3,1135.3 1080.7,1132.1" fill="none" stroke="#0072bd" stroke-width="1.8" stroke-linejoin="round"/>
<path d="M1112.6,1113.3C1114.6,1111.7 1118.5,1106.6 1124.4,1103.8C1130.3,1101.1 1140.1,1098.3 1148,1096.7C1155.9,1095.2 1164.5,1095.6 1171.6,1094.4C1178.7,1093.2 1185,1090.5 1190.5,1089.7C1196,1088.9 1200.3,1088.1 1204.6,1089.7C1208.9,1091.2 1214.1,1094.4 1216.4,1099.1C1218.8,1103.8 1219.2,1110.9 1218.8,1118C1218.4,1125.1 1216.4,1134.5 1214.1,1141.6C1211.7,1148.7 1208.9,1156.7 1204.6,1160.5C1200.3,1164.2 1192.4,1164.8 1188.1,1164C1183.8,1163.2 1181,1160.3 1178.7,1155.7C1176.3,1151.2 1174.9,1143.9 1173.9,1136.9C1173,1129.8 1172.2,1120.3 1172.8,1113.3C1173.4,1106.2 1174.5,1098.7 1177.5,1094.4C1180.4,1090.1 1185.9,1088.4 1190.5,1087.3C1195,1086.2 1202.3,1087.7 1204.6,1087.8" fill="none" stroke="#0072bd" stroke-width="1.8" stroke-linejoin="round"/>
<path d="M1111.4,1122.7C1112.4,1120.7 1114.8,1112.5 1117.3,1110.9C1119.9,1109.3 1124.4,1111.3 1126.7,1113.3C1129.1,1115.2 1131.3,1119.4 1131.5,1122.7C1131.7,1126 1129.9,1131.2 1127.9,1133.3C1126,1135.5 1122.2,1136.3 1119.7,1135.7C1117.1,1135.1 1113.8,1130.8 1112.6,1129.8" fill="none" stroke="#0072bd" stroke-width="1.8" stroke-linejoin="round"/>
<path d="M1100.8,1115.6C1100.2,1116.8 1097.6,1120.3 1097.3,1122.7C1096.9,1125.1 1097.4,1128.4 1098.4,1129.8C1099.4,1131.2 1102,1131.9 1103.2,1131C1104.3,1130 1105.7,1126 1105.5,1123.9C1105.3,1121.7 1102.6,1119 1102,1118" fill="none" stroke="#0072bd" stroke-width="1.8" stroke-linejoin="round"/>
<path d="M1117.3,1141.6C1119.7,1144.7 1125.6,1155 1131.5,1160.5C1137.4,1166 1145.2,1171.3 1152.7,1174.6C1160.2,1178 1167.6,1179.7 1176.3,1180.5C1185,1181.3 1196,1180.7 1204.6,1179.3C1213.3,1178 1221.9,1175 1228.2,1172.3C1234.5,1169.5 1240,1164.4 1242.4,1162.8" fill="none" stroke="#0072bd" stroke-width="1.8" stroke-linejoin="round"/>
<path d="M1176.3,1043.7C1173.2,1045.4 1163.3,1049.8 1157.4,1054.3C1151.5,1058.8 1145.6,1064.5 1140.9,1070.8C1136.2,1077.1 1132.5,1085.3 1129.1,1092C1125.8,1098.7 1123.2,1105 1120.8,1110.9C1118.5,1116.8 1115.1,1121.1 1114.9,1127.4C1114.8,1133.7 1117.3,1142.4 1119.7,1148.7C1122,1155 1127.5,1162.4 1129.1,1165.2" fill="none" stroke="#0072bd" stroke-width="1.8" stroke-linejoin="round"/>
<path d="M1225.9,1089.7C1228.6,1088.1 1236.5,1082.2 1242.4,1080.2C1248.3,1078.3 1255,1076.7 1261.2,1077.9C1267.5,1079 1274.6,1083 1280.1,1087.3C1285.6,1091.6 1290.7,1097.9 1294.3,1103.8C1297.8,1109.7 1300.6,1116.8 1301.4,1122.7C1302.2,1128.6 1301,1135.9 1299,1139.2C1297,1142.6 1293.1,1142.8 1289.6,1142.8C1286,1142.8 1281.7,1140.4 1277.8,1139.2C1273.8,1138 1269.5,1135.3 1266,1135.7C1262.4,1136.1 1258.1,1140.6 1256.5,1141.6" fill="none" stroke="#0072bd" stroke-width="1.8" stroke-linejoin="round"/>
<path d="M1111.4,1134.5C1110.2,1135.6 1106.2,1139.5 1103.2,1141.6C1100.1,1143.7 1095.2,1147.2 1091.4,1148.7C1087.5,1150.1 1081.4,1151.6 1077.2,1151C1072.9,1150.5 1066.6,1147.6 1063,1145.1C1059.5,1142.6 1055.6,1138.2 1053.6,1134.5C1051.5,1130.8 1049.5,1124.9 1049.3,1120.3C1049.2,1115.7 1050.4,1108.8 1052.4,1103.8C1054.5,1098.9 1058.6,1092.3 1063,1087.3C1067.5,1082.4 1075.5,1075.2 1081.9,1070.8C1088.3,1066.4 1098.4,1061 1105.5,1057.8C1112.6,1054.6 1122,1051.4 1129.1,1049.6C1136.2,1047.7 1146,1045.8 1152.7,1045.3C1159.4,1044.8 1167.9,1044.8 1173.9,1046C1180,1047.2 1188,1050.3 1192.8,1053.1C1197.6,1055.9 1202.6,1060.8 1205.8,1064.9C1209,1069 1212.1,1075.5 1214.1,1080.2C1216,1085 1217.5,1092.1 1218.8,1096.7C1220,1101.3 1220.9,1107.7 1222.3,1110.9C1223.7,1114.1 1227.3,1116.9 1228.2,1118" fill="none" stroke="#f0623a" stroke-width="7" stroke-linejoin="round" stroke-linecap="round"/>
<path d="M1235.3,1122.7C1234.2,1123.9 1231,1129.5 1228.2,1131C1225.4,1132.4 1219.8,1133 1216.4,1132.1C1213.1,1131.3 1207.7,1127.9 1205.8,1125.1C1203.9,1122.2 1202.9,1116.8 1203.4,1113.3C1204,1109.7 1206.3,1105 1209.3,1101.5C1212.3,1097.9 1218.5,1094.3 1223.5,1089.7C1228.5,1085.1 1236,1075.7 1242.4,1070.8C1248.7,1065.8 1258.9,1059.6 1266,1056.6C1273,1053.6 1282.1,1051.7 1289.6,1050.7C1297,1049.7 1308.4,1049.1 1315.5,1050C1322.6,1050.9 1332,1053.5 1336.8,1056.6C1341.5,1059.7 1344.7,1065.8 1347.4,1070.8C1350,1075.7 1352.9,1083.7 1354.5,1089.7C1356.1,1095.7 1357.8,1104.5 1358,1110.9C1358.2,1117.3 1357.1,1126.1 1355.6,1132.1C1354.2,1138.2 1351.7,1146.1 1348.6,1151C1345.4,1156 1339.7,1161.6 1334.4,1165.2C1329.1,1168.7 1319.9,1171.8 1313.2,1174.6C1306.4,1177.4 1295.9,1181.9 1289.6,1184.1C1283.2,1186.2 1275.6,1188.4 1270.7,1188.8C1265.7,1189.1 1258.7,1186.8 1256.5,1186.4" fill="none" stroke="#f0623a" stroke-width="7" stroke-linejoin="round" stroke-linecap="round"/>
<path d="M1296.6,1089.7C1299.1,1088.1 1307.5,1080.8 1313.2,1079C1318.8,1077.3 1328,1077.7 1334.4,1077.9C1340.8,1078 1350,1078.5 1355.6,1080.2C1361.3,1082 1368.3,1086.1 1372.2,1089.7C1376,1093.2 1379.8,1098.9 1381.6,1103.8C1383.4,1108.8 1384,1116.7 1384,1122.7C1384,1128.7 1383,1137.6 1381.6,1143.9C1380.2,1150.3 1377,1159.5 1374.5,1165.2C1372,1170.8 1368.3,1177.4 1365.1,1181.7C1361.9,1185.9 1358.2,1190.5 1353.3,1193.5C1348.3,1196.5 1338.8,1200.3 1332,1201.8C1325.3,1203.2 1315.2,1203.3 1308.4,1202.9C1301.7,1202.6 1292.9,1200.8 1287.2,1199.4C1281.5,1198 1275.3,1193.3 1270.7,1193.5C1266.1,1193.7 1259.7,1201.3 1256.5,1200.6C1253.3,1199.9 1251.2,1193 1249.5,1188.8C1247.7,1184.5 1245.8,1177.6 1244.7,1172.3C1243.7,1166.9 1242.7,1156.2 1242.4,1153.4" fill="none" stroke="#f0623a" stroke-width="7" stroke-linejoin="round" stroke-linecap="round"/>
<path d="M1287.2,1063.7 1301.4,1072 1310.8,1084.9 1315.5,1103.8 1317.9,1127.4 1315.5,1151 1303.7,1155.7 1284.8,1162.8 1266,1168.7 1249.5,1169.9 1237.7,1162.8 1231.8,1146.3 1230.6,1127.4 1232.9,1106.2 1242.4,1103.8 1256.5,1101.5 1270.7,1103.8 1277.8,1113.3 1275.4,1132.1 1266,1141.6 1254.2,1143.9 1244.7,1139.2" fill="none" stroke="#f0623a" stroke-width="7" stroke-linejoin="round" stroke-linecap="round"/>
<path d="M1287.2,1063.7 1275.4,1070.8 1263.6,1082.6 1256.5,1101.5 1251.8,1122.7 1250.6,1146.3 1253,1169.9 1256.5,1186.4" fill="none" stroke="#f0623a" stroke-width="7" stroke-linejoin="round" stroke-linecap="round"/>
<path d="M1261.2,1080.2 1273,1080.2 1284.8,1084.9 1294.3,1096.7 1299,1110.9 1296.6,1125.1 1287.2,1131 1280.1,1128.6" fill="none" stroke="#f0623a" stroke-width="7" stroke-linejoin="round" stroke-linecap="round"/>
<path d="M1270.7,1120.3C1270.3,1123.5 1269.4,1135.6 1268.3,1141.6C1267.3,1147.6 1265.7,1155.1 1263.6,1160.5C1261.5,1165.8 1257.4,1173.1 1254.2,1177C1251,1180.9 1245.9,1184.1 1242.4,1186.4C1238.8,1188.7 1234.8,1190.9 1230.6,1192.3C1226.3,1193.7 1219.4,1195.3 1214.1,1195.9C1208.7,1196.4 1200.8,1196.4 1195.2,1195.9C1189.5,1195.3 1182,1193.6 1176.3,1192.3C1170.6,1191.1 1162.7,1188.8 1157.4,1187.6C1152.1,1186.4 1144.8,1185.1 1140.9,1184.1C1137,1183 1133.8,1182.1 1131.5,1180.5C1129.2,1178.9 1126.5,1174.5 1125.6,1173.4" fill="none" stroke="#f0623a" stroke-width="7" stroke-linejoin="round" stroke-linecap="round"/>
<path d="M1119.7,1147.5 1114.9,1182.9 1126.7,1171.1 1142.1,1175.8Z" fill="#f0623a"/>
<text x="943.9" y="1040.5" font-size="20.2" fill="#231f20" stroke="#231f20" text-anchor="start" >Origin (0 m/s; 0m/s<tspan font-size="12.4" dy="-7.4">2</tspan><tspan dy="7.4">)</tspan></text>
<path d="M1040.5,1046.7 1102.3,1112.3" fill="none" stroke="#231f20" stroke-width="3.4" />
<path d="M1108.5,1118.8 1103,1102 1100.2,1110.1 1092,1112.4Z" fill="#231f20"/>
<circle cx="1112.6" cy="1123.2" r="5.6" fill="#231f20"/>
</g>
<!-- panel E -->
<g>
<path d="M1553.6,1048.8C1555.8,1046.7 1567.4,1034.6 1572.9,1030.9C1578.3,1027.2 1593.3,1019.9 1600.4,1017.1C1607.5,1014.4 1625.6,1009.1 1633.5,1007.5C1641.3,1005.9 1660,1003.2 1667.9,1003.4C1675.8,1003.5 1694.1,1006 1701,1008.9C1707.9,1011.8 1722.5,1022.7 1727.1,1028.2C1731.8,1033.6 1738.7,1048.6 1740.9,1055.7C1743.2,1062.8 1745.6,1081.1 1746.4,1088.8C1747.2,1096.5 1748.1,1114.1 1747.8,1121.8C1747.5,1129.6 1745.8,1147.8 1743.7,1154.9C1741.6,1162 1733.8,1176.3 1729.9,1182.4C1726,1188.6 1716.1,1201.5 1710.6,1207.2C1705.1,1213 1690.1,1227.4 1683.1,1232C1676,1236.7 1658,1244.7 1650,1247.2C1642,1249.7 1622.5,1253.5 1614.2,1253.5C1605.8,1253.5 1586.4,1249.4 1578.4,1247.2C1570.3,1245 1553,1238.5 1545.3,1234.8C1537.6,1231.1 1519.3,1220.3 1512.2,1215.5C1505.2,1210.7 1489.8,1198.6 1484.7,1193.5C1479.6,1188.3 1470.9,1176.9 1468.2,1171.4C1465.4,1166 1462.1,1152.7 1461.3,1146.6C1460.5,1140.5 1460.5,1124.5 1461.3,1119.1C1462.1,1113.6 1465.4,1103.1 1468.2,1099.8C1470.9,1096.5 1480.5,1091.9 1484.7,1091C1488.9,1090 1499.5,1090.5 1504,1091.5C1508.5,1092.6 1519.4,1097.2 1523.3,1099.8C1527.1,1102.4 1535.1,1110 1537,1113.6C1539,1117.1 1540.3,1126.2 1539.8,1130.1C1539.3,1134 1535.5,1144 1532.9,1146.6C1530.3,1149.3 1521.1,1152.4 1517.8,1152.7C1514.4,1153 1506.6,1151.1 1504,1149.4C1501.4,1147.7 1497,1140.6 1495.7,1138.4C1494.4,1136.1 1493.3,1131.1 1493,1130.1" fill="none" stroke="#0072bd" stroke-width="1.8" stroke-linejoin="round"/>
<path d="M1493,1127.3C1491,1126.1 1479.6,1117 1476.4,1116.3C1473.2,1115.7 1467.2,1119.3 1465.4,1121.8C1463.6,1124.4 1461.6,1134.5 1461.3,1138.4C1461,1142.2 1464.1,1153.3 1462.7,1154.9C1461.2,1156.5 1451.9,1153.8 1448.9,1152.1C1445.8,1150.5 1438.3,1144 1436.5,1141.1C1434.6,1138.2 1433.1,1130.9 1432.9,1127.3C1432.7,1123.8 1433.6,1114.7 1435.1,1110.8C1436.6,1107 1442.9,1098.1 1446.1,1094.3C1449.3,1090.4 1458.2,1081.3 1462.7,1077.8C1467.2,1074.2 1479.2,1066.7 1484.7,1064C1490.2,1061.2 1503.7,1055.9 1509.5,1054.3C1515.3,1052.7 1528.8,1050.7 1534.3,1050.2C1539.8,1049.7 1551.2,1049.2 1556.3,1050.2C1561.5,1051.2 1574.2,1055.9 1578.4,1058.5C1582.5,1061 1589.6,1068.7 1592.1,1072.2C1594.7,1075.8 1599.1,1084.9 1600.4,1088.8C1601.7,1092.6 1602.8,1103.4 1603.2,1105.3" fill="none" stroke="#0072bd" stroke-width="1.8" stroke-linejoin="round"/>
<path d="M1495.7,1121.8C1496.7,1118.6 1501.4,1099.8 1504,1094.3C1506.6,1088.8 1514.2,1078.2 1517.8,1075C1521.3,1071.8 1530.1,1068.3 1534.3,1067.3C1538.5,1066.3 1548.4,1065.8 1553.6,1066.2C1558.7,1066.6 1573.2,1068.9 1578.4,1070.9C1583.5,1072.9 1594.3,1079.9 1597.7,1083.3C1601,1086.6 1606,1095.3 1607.3,1099.8C1608.6,1104.3 1609.5,1116.4 1608.7,1121.8C1607.9,1127.3 1602.7,1141.8 1600.4,1146.6C1598.2,1151.5 1592.6,1159.6 1589.4,1163.2C1586.2,1166.7 1577.4,1173.9 1572.9,1176.9C1568.4,1180 1556.3,1187.2 1550.8,1189.3C1545.4,1191.4 1531.2,1194.4 1526,1194.8C1520.9,1195.3 1511.6,1194.3 1506.7,1193.5C1501.9,1192.7 1488.9,1189.9 1484.7,1188C1480.5,1186 1473.3,1180.2 1470.9,1176.9C1468.5,1173.7 1464.8,1162.3 1464,1160.4" fill="none" stroke="#0072bd" stroke-width="1.8" stroke-linejoin="round"/>
<path d="M1603.2,1088.8C1605.4,1087.2 1617.6,1078.2 1622.4,1075C1627.3,1071.8 1638.7,1063.6 1644.5,1061.2C1650.3,1058.8 1665.9,1055.1 1672,1054.3C1678.1,1053.5 1691.1,1053.7 1696.8,1054.3C1702.6,1055 1717.3,1057.1 1721.6,1059.8C1726,1062.6 1732.1,1072.5 1734,1077.8C1736,1083.1 1737.8,1098.9 1738.2,1105.3C1738.5,1111.7 1737.8,1126.8 1736.8,1132.9C1735.8,1139 1732.3,1152.8 1729.9,1157.7C1727.5,1162.5 1720.6,1171 1716.1,1174.2C1711.6,1177.4 1697.8,1182.6 1691.3,1185.2C1684.9,1187.8 1666.8,1194.1 1661,1196.2C1655.2,1198.3 1645.3,1204.1 1641.7,1203.1C1638.2,1202.1 1632.2,1192.9 1630.7,1188C1629.3,1183 1629.2,1167.2 1629.3,1160.4C1629.5,1153.7 1631,1136.5 1632.1,1130.1C1633.2,1123.7 1636.9,1111.1 1639,1105.3C1641.1,1099.5 1646.6,1084.8 1650,1080.5C1653.4,1076.2 1663.4,1068.4 1667.9,1068.1C1672.4,1067.8 1685.2,1074.1 1688.6,1077.8C1691.9,1081.5 1695.6,1094 1696.8,1099.8C1698.1,1105.6 1699.6,1120.9 1699.6,1127.3C1699.6,1133.8 1698.8,1151 1696.8,1154.9C1694.9,1158.8 1687.9,1158.5 1683.1,1160.4C1678.2,1162.3 1660.7,1169.7 1655.5,1171.4C1650.4,1173.2 1642.2,1175.2 1639,1175.6C1635.8,1175.9 1629.2,1174.3 1628,1174.2" fill="none" stroke="#0072bd" stroke-width="1.8" stroke-linejoin="round"/>
<path d="M1677.6,1097C1679.5,1095.8 1688.9,1087.8 1694.1,1086C1699.2,1084.3 1715.2,1081.9 1721.6,1081.9C1728.1,1081.9 1744.5,1083.9 1749.2,1086C1753.8,1088.1 1759.7,1095.9 1761.6,1099.8C1763.4,1103.7 1765,1113.9 1765.2,1119.1C1765.3,1124.2 1764.2,1137.4 1763,1143.9C1761.7,1150.3 1757.6,1168.1 1754.7,1174.2C1751.8,1180.3 1743.3,1192.4 1738.2,1196.2C1733,1200.1 1717,1206 1710.6,1207.2C1704.2,1208.5 1689.2,1208.2 1683.1,1207.2C1677,1206.3 1663.1,1201.9 1658.3,1199C1653.4,1196.1 1644.8,1186.9 1641.7,1182.4C1638.7,1177.9 1633.2,1163 1632.1,1160.4" fill="none" stroke="#0072bd" stroke-width="1.8" stroke-linejoin="round"/>
<path d="M1557.7,1105.3C1558.8,1103.9 1564.6,1094.7 1567.3,1092.9C1570.1,1091.1 1577.9,1090 1581.1,1090.2C1584.3,1090.3 1592.2,1092.5 1594.9,1094.3C1597.6,1096.1 1603.3,1101.4 1604.5,1105.3C1605.8,1109.2 1606.4,1122.2 1605.9,1127.3C1605.4,1132.5 1602.3,1144.9 1600.4,1149.4C1598.5,1153.9 1592.6,1163.7 1589.4,1165.9C1586.2,1168.2 1576.1,1169.6 1572.9,1168.7C1569.6,1167.7 1563.6,1161.2 1561.8,1157.7C1560.1,1154.1 1558.3,1142.9 1557.7,1138.4C1557.1,1133.9 1556.3,1122.9 1556.3,1119.1C1556.3,1115.2 1557.5,1106.9 1557.7,1105.3" fill="none" stroke="#0072bd" stroke-width="1.8" stroke-linejoin="round"/>
<path d="M1501.2,1138.4C1502.2,1143.5 1506.6,1176.7 1509.5,1182.4C1512.4,1188.2 1521.2,1186.7 1526,1188C1530.8,1189.2 1544.1,1192 1550.8,1193.5C1557.6,1194.9 1576.2,1199.9 1583.9,1200.4C1591.6,1200.8 1610.8,1199.7 1616.9,1197.6C1623,1195.5 1634,1184.2 1636.2,1182.4" fill="none" stroke="#0072bd" stroke-width="1.8" stroke-linejoin="round"/>
<path d="M1616.9,1108.1C1619.2,1107.7 1632,1105.9 1636.2,1105.3C1640.4,1104.7 1650.2,1101.3 1652.8,1102.6C1655.3,1103.8 1657.6,1112.1 1658.3,1116.3C1658.9,1120.5 1659.2,1134.5 1658.3,1138.4C1657.3,1142.2 1652.9,1148.1 1650,1149.4C1647.1,1150.7 1637,1150.4 1633.5,1149.4C1629.9,1148.4 1621.9,1143.7 1619.7,1141.1C1617.4,1138.6 1614.5,1131.2 1614.2,1127.3C1613.9,1123.5 1616.6,1110.3 1616.9,1108.1" fill="none" stroke="#0072bd" stroke-width="1.8" stroke-linejoin="round"/>
<path d="M1622.4,1119.1C1623.1,1118.1 1626,1112.1 1628,1110.8C1629.9,1109.5 1636.1,1108.7 1639,1108.1C1641.9,1107.4 1649.2,1105.3 1652.8,1105.3C1656.3,1105.3 1666.2,1106.8 1669.3,1108.1C1672.3,1109.3 1677.6,1114.1 1678.9,1116.3C1680.2,1118.6 1681.1,1125.3 1680.3,1127.3C1679.5,1129.4 1674.3,1133.6 1672,1134.2C1669.8,1134.9 1662.9,1133.7 1661,1132.9C1659.1,1132.1 1656.2,1128 1655.5,1127.3" fill="none" stroke="#0072bd" stroke-width="1.8" stroke-linejoin="round"/>
<path d="M1480.6,1121.8C1481.4,1121.2 1485.4,1117 1487.4,1116.3C1489.5,1115.7 1495.9,1116 1498.5,1116.3C1501,1116.6 1507.7,1117.5 1509.5,1119.1C1511.3,1120.7 1513.6,1127.9 1513.6,1130.1C1513.6,1132.4 1510.9,1137.4 1509.5,1138.4C1508,1139.3 1503.5,1139 1501.2,1138.4C1499,1137.7 1491.5,1133.5 1490.2,1132.9" fill="none" stroke="#0072bd" stroke-width="1.8" stroke-linejoin="round"/>
<path d="M1483.3,1119.1C1482.8,1120 1479.3,1125.6 1479.2,1127.3C1479,1129.1 1481,1133.6 1481.9,1134.2C1482.9,1134.9 1487.1,1134 1487.4,1132.9C1487.8,1131.7 1485,1125.6 1484.7,1124.6" fill="none" stroke="#0072bd" stroke-width="1.8" stroke-linejoin="round"/>
<path d="M1513.6,1105.3C1516.4,1104.9 1528.6,1102.9 1534.3,1102C1540,1101.1 1551.2,1098.8 1556.3,1098.4C1561.5,1098.1 1568.1,1098.5 1572.9,1099.2C1577.6,1100 1589,1101.7 1592.1,1103.9C1595.3,1106.2 1595.5,1116.1 1596.3,1116.3C1597,1116.5 1596,1108.2 1597.7,1105.3C1599.3,1102.4 1605.4,1096.9 1608.7,1094.3C1612,1091.7 1618.8,1087.7 1622.4,1086C1626.1,1084.4 1632.7,1082.3 1636.2,1081.9C1639.7,1081.4 1645.7,1081.8 1648.6,1082.7C1651.6,1083.6 1655.9,1086.5 1658.3,1088.8C1660.7,1091.1 1664.1,1097.4 1666.5,1099.8C1668.9,1102.2 1674.2,1105.5 1676.2,1106.7C1678.2,1107.9 1680.4,1107 1681.7,1108.6C1683,1110.3 1685.3,1115.8 1685.8,1119.1C1686.4,1122.3 1686.4,1129.6 1685.8,1132.9C1685.3,1136.2 1683.2,1142 1681.7,1143.9C1680.2,1145.8 1677.6,1147.3 1674.8,1147.2C1672,1147.1 1664,1144.4 1661,1143.3C1658.1,1142.2 1654.8,1139.4 1652.8,1138.9C1650.7,1138.4 1647.7,1138 1645.9,1139.7C1644,1141.5 1641.4,1148.7 1639,1152.1C1636.6,1155.6 1631.3,1162.8 1628,1165.9C1624.7,1169 1618.2,1173.5 1614.2,1175.6C1610.1,1177.6 1602.4,1180 1597.7,1181.1C1592.9,1182.2 1583.5,1183.5 1578.4,1183.8C1573.2,1184.2 1564.2,1183.9 1559.1,1183.6C1553.9,1183.2 1544.2,1182.3 1539.8,1181.1C1535.4,1179.8 1529.3,1176.6 1526,1174.2C1522.7,1171.8 1517.8,1166.1 1515,1163.2C1512.2,1160.2 1506.6,1153.6 1505.4,1152.1" fill="none" stroke="#f4a640" stroke-width="6" stroke-linejoin="round" stroke-linecap="round"/>
<path d="M1593.5,1119.1C1593.8,1120.5 1594.6,1124.4 1594.9,1127.3C1595.2,1130.3 1595.4,1135.4 1595.4,1137" fill="none" stroke="#f4a640" stroke-width="11" stroke-linecap="round"/>
<path d="M1490.2,1130.1 1522.7,1149.4 1507.3,1154.9 1500.7,1168.1Z" fill="#f4a640"/>
<circle cx="1494.3" cy="1127.3" r="5.6" fill="#231f20"/>
</g>
<!-- panel F -->
<g>
<text transform="translate(9.3,1392.7) scale(0.965,1)" font-size="89.5" fill="#231f20" stroke="none">F</text>
<rect x="154.1" y="1431.8" width="3.8" height="110.7" fill="#4d4d4d"/>
<rect x="154.1" y="1579.6" width="3.8" height="92.2" fill="#4d4d4d"/>
<rect x="154.1" y="1780.7" width="3.8" height="109.7" fill="#4d4d4d"/>
<rect x="154.1" y="1927" width="3.8" height="92.3" fill="#4d4d4d"/>
<rect x="156" y="1490" width="877" height="1.5" fill="#4d4d4d"/>
<rect x="156" y="1625.7" width="880" height="1.5" fill="#4d4d4d"/>
<rect x="156" y="1837.8" width="877" height="1.5" fill="#4d4d4d"/>
<rect x="156" y="1973.8" width="880" height="1.5" fill="#4d4d4d"/>
<text transform="translate(148.6,1439.6) scale(0.92,1)" font-size="22.2" fill="#4d4d4d" stroke="#4d4d4d" text-anchor="end">0.4</text>
<text transform="translate(148.6,1496.8) scale(0.92,1)" font-size="22.2" fill="#4d4d4d" stroke="#4d4d4d" text-anchor="end">0</text>
<text transform="translate(148.6,1546) scale(0.92,1)" font-size="22.2" fill="#4d4d4d" stroke="#4d4d4d" text-anchor="end">-0.4</text>
<text transform="translate(148.6,1591.4) scale(0.92,1)" font-size="22.2" fill="#4d4d4d" stroke="#4d4d4d" text-anchor="end">0.06</text>
<text transform="translate(148.6,1635) scale(0.92,1)" font-size="22.2" fill="#4d4d4d" stroke="#4d4d4d" text-anchor="end">0</text>
<text transform="translate(148.6,1676) scale(0.92,1)" font-size="22.2" fill="#4d4d4d" stroke="#4d4d4d" text-anchor="end">-0.06</text>
<text transform="translate(148.6,1787.1) scale(0.92,1)" font-size="22.2" fill="#4d4d4d" stroke="#4d4d4d" text-anchor="end">3</text>
<text transform="translate(148.6,1845) scale(0.92,1)" font-size="22.2" fill="#4d4d4d" stroke="#4d4d4d" text-anchor="end">0</text>
<text transform="translate(148.6,1893.2) scale(0.92,1)" font-size="22.2" fill="#4d4d4d" stroke="#4d4d4d" text-anchor="end">-3</text>
<text transform="translate(148.6,1936.8) scale(0.92,1)" font-size="22.2" fill="#4d4d4d" stroke="#4d4d4d" text-anchor="end">20</text>
<text transform="translate(148.6,1983.2) scale(0.92,1)" font-size="22.2" fill="#4d4d4d" stroke="#4d4d4d" text-anchor="end">0</text>
<text transform="translate(148.6,2025.4) scale(0.92,1)" font-size="22.2" fill="#4d4d4d" stroke="#4d4d4d" text-anchor="end">-20</text>
<text x="89.3" y="1479.6" font-size="21.2" fill="#4d4d4d" stroke="#4d4d4d" text-anchor="middle" transform="rotate(-90 89.3 1479.6)" >Y vel m/s</text>
<text x="89.3" y="1627.9" font-size="21.2" fill="#4d4d4d" stroke="#4d4d4d" text-anchor="middle" transform="rotate(-90 89.3 1627.9)" >Y accel m/s<tspan font-size="12.4" dy="-7">2</tspan></text>
<text x="73.2" y="1838.2" font-size="21.2" fill="#4d4d4d" stroke="#4d4d4d" text-anchor="middle" transform="rotate(-90 73.2 1838.2)" >Yaw vel</text>
<text x="98.2" y="1835.4" font-size="21.2" fill="#4d4d4d" stroke="#4d4d4d" text-anchor="middle" transform="rotate(-90 98.2 1835.4)" >rad/s</text>
<text x="73.2" y="1974.6" font-size="21.2" fill="#4d4d4d" stroke="#4d4d4d" text-anchor="middle" transform="rotate(-90 73.2 1974.6)" >Yaw accel</text>
<text x="98.2" y="1971.8" font-size="21.2" fill="#4d4d4d" stroke="#4d4d4d" text-anchor="middle" transform="rotate(-90 98.2 1971.8)" >rad/s<tspan font-size="12.4" dy="-7">2</tspan></text>
<text x="163" y="1712" font-size="23.2" fill="#4d4d4d" stroke="#4d4d4d" text-anchor="start" >10 s</text>
<rect x="165" y="1719.2" width="45.7" height="3.8" fill="#4d4d4d"/>
<text x="163" y="2059.3" font-size="23.2" fill="#4d4d4d" stroke="#4d4d4d" text-anchor="start" >10 s</text>
<rect x="165" y="2066.5" width="45.7" height="3.8" fill="#4d4d4d"/>
<path d="M157 1503.5l.7-11 .7-5.6 .7 6 .7-4.3 .7 10.2 .7 1 .7-4.3 .7-10.2 .7 1 .7 8.5 .7-4.7 .7 4.6 .7-3.4 .7 6.9 .7-6.3 .7 4.4 .7-4.5 .7 5.1 .7 1.9 .7-8.5 .7 4 .7-3.3 .7 4.2 .7-11.2 .7 16 .7-19.8 .7-7.3 .7 18.7 .7-24 .7-2.6 .7 20.2 .7 20.3 .7 1.1 .7-14.6 .7-13.6 .7 8.2 .7 .9 .7 4.5 .7 3.7 .7-7 .7 12.3 .7-7.8 .7-8.3 .7 4.5 .7-5.5 .7 12.2 .7-14.5 .7 3.7 .7 33.1 .7-7.1 .7-7.2 .7-25 .7 4.6 .7 .8 .7 1.4 .7-10.3 .7-5.9 .7 34.8 .7 22.4 .7-49.9 .7 17.9 .7-4.8 .7 7.5 .7 27.9 .7 7.6 .7-71.9 .7-8.7 .7 4.3 .7 23.6 .7 .9 .7 24.5 .7-15.6 .7 17.9 .7 5.3 .7-34.4 .7-38.3 .7 101.1 .7-73.6 .7-4.8 .7 70.9 .7-54.1 .7 6.5 .7 25.1 .7 4.9 .7 18.1 .7-90.9 .7-.1 .7 8.2 .7 69.1 .7-.7 .7-16.9 .7 17.1 .7-21.3 .7-22 .7 26.1 .7 16.4 .7-5.1 .7-26.8 .7 8.5 .7-2.3 .7-18.6 .7 13.8 .7 8.3 .7-7.1 .7-12.2 .7 19.4 .7-19.2 .7 1 .7 11.9 .7 1.2 .7-11.5 .7 7.6 .7 4.5 .7-12.5 .7 8.3 .7 0 .7 1.5 .7 1.4 .7-1.5 .7 1.4 .7-2.9 .7-1.8 .7-.1 .7-.5 .7-.9 .7 2.4 .7 4.5 .7-5 .7 10 .7-3.2 .7-4.2 .7 8.6 .7-15.1 .7 13 .7 3.5 .7-3.8 .7-.5 .7-4.5 .7 0 .7-7 .7 7 .7-1.2 .7 6.5 .7-8.3 .7 7.7 .7 5.8 .7-17.9 .7 13.3 .7 1.2 .7-1.8 .7-9.3 .7 13.8 .7-6.9 .7-8.9 .7-8.5 .7 15.4 .7-1.3 .7 7.3 .7-22.9 .7 15.6 .7 .6 .7-1.9 .7 12.5 .7-9.3 .7 11.9 .7-29.3 .7 16.2 .7 .6 .7-15.4 .7 27.5 .7-29 .7-.3 .7 24.4 .7-17.3 .7 8.5 .7-10.4 .7 10 .7 9.6 .7-14.6 .7 7 .7-3.3 .7-5.1 .7 0 .7 4.5 .7 5.9 .7-4.3 .7 1.2 .7-4.2 .7 4 .7-8.9 .7 4.3 .7 4 .7-1.3 .7 14.8 .7-18.1 .7 4.1 .7 11.7 .7-15 .7-.2 .7 .1 .7 4.8 .7-8.5 .7 .4 .7 6.3 .7 2 .7 3 .7 .1 .7-6.8 .7 5.9 .7 1.3 .7-5 .7-1.8 .7 2.9 .7-1.7 .7 .8 .7 1.4 .7-1 .7 .2 .7-.1 .7 .6 .7-.4 .7 1.4 .7 5.1 .7 4.7 .7-1.4 .7-6.1 .7-3.5 .7-1 .7 .5 .7-.4 .7 .2 .7 1.1 .7-2.9 .7 .7 .7 1 .7-2 .7 .9 .7 3 .7-5.1 .7 2.8 .7-3 .7-3.1 .7-1.9 .7-7 .7 12.2 .7 6 .7 8.8 .7-1 .7-23 .7 3.6 .7 28.3 .7-2.6 .7-7.3 .7-44 .7 56.9 .7-29 .7 46.2 .7-32.9 .7-43.3 .7 68 .7-60.6 .7 72.9 .7-40.4 .7 27.3 .7-28.3 .7 2.2 .7-27.2 .7 13.2 .7 5 .7 15.9 .7-20.2 .7 25.6 .7-2.7 .7-3 .7-22.4 .7-20.7 .7 29.3 .7-16.2 .7 26.4 .7-3.7 .7-5.7 .7-2.2 .7-3.3 .7-8.8 .7 16.4 .7-14.8 .7 12.4 .7 42.5 .7-19.1 .7 .8 .7 7.6 .7-9.2 .7-8.1 .7-31.1 .7 31.9 .7-13 .7-11.2 .7 22.1 .7-23.2 .7 4 .7 8.9 .7-.5 .7 .3 .7-1 .7-9.7 .7 5.2 .7 20.7 .7 3.2 .7-23.6 .7 32.4 .7-5.4 .7-12.3 .7-10.6 .7-15.6 .7 9.7 .7-9.5 .7 10.6 .7-3 .7-1.3 .7 9.5 .7-9.4 .7 2.6 .7 4.6 .7 8.9 .7-2.4 .7-11 .7 6.6 .7-2.9 .7 .1 .7 1.3 .7 1.6 .7-2.9 .7-1 .7-1.4 .7 3.8 .7 3.8 .7 .1 .7-3.2 .7 5 .7-2.4 .7-3.5 .7 2.9 .7 .6 .7-3.5 .7 7.7 .7-4.9 .7 .4 .7-.1 .7-2.4 .7-.8 .7 .8 .7 .8 .7 .3 .7 .8 .7-.2 .7 2.7 .7-1.8 .7-2.1 .7 1.1 .7-1.5 .7 4.4 .7-1.6 .7 .4 .7-3.4 .7 2 .7 .2 .7 1.2 .7-.9 .7 .4 .7-.7 .7-2.4 .7 2.8 .7-.6 .7 .3 .7-1.4 .7 1.4 .7 0 .7-.9 .7-.8 .7 .8 .7 .8 .7 .9 .7 0 .7-1.2 .7-.3 .7-.8 .7 .5 .7 .5 .7-1.1 .7-.2 .7 1.5 .7-1 .7-.2 .7 1.3 .7-.8 .7 .3 .7-.7 .7 .1 .7 1.8 .7-.9 .7-1 .7 .5 .7 .9 .7-.3 .7 .3 .7-.7 .7 .7 .7-1.2 .7 .1 .7-.4 .7 .2 .7-.1 .7-.1 .7 .4 .7 2.6 .7-2.7 .7 2.2 .7 2.8 .7-8.1 .7 3.6 .7 5.7 .7-6.8 .7-1.5 .7 .5 .7-7.4 .7 16.8 .7-14.3 .7 15.3 .7-13.3 .7-2.5 .7 10.4 .7-25.4 .7 41.8 .7-.7 .7-11.5 .7 2.4 .7-21.2 .7 15.8 .7-16.3 .7 14.6 .7-8.7 .7 .8 .7 4.3 .7-1.6 .7 1.1 .7-8.8 .7-4.7 .7 16.2 .7-6.2 .7-7.9 .7 3.6 .7-17.5 .7-5.2 .7 58.3 .7-17.1 .7-31.4 .7 11.8 .7 22.2 .7-7.3 .7-9.1 .7-22.5 .7 41.1 .7-18.8 .7-20.5 .7 6.7 .7 19.5 .7 4.8 .7 20.1 .7-1.1 .7-12.5 .7-23.1 .7-1.3 .7-5.2 .7 4.6 .7 2.6 .7 8 .7 10.5 .7-22.2 .7 18.8 .7 16.6 .7-25.8 .7 .7 .7-23.7 .7 28.2 .7-4 .7 15.2 .7-18.8 .7 4.2 .7 9.8 .7-8.1 .7 10 .7-12 .7 5.1 .7-3.2 .7 3.9 .7-.3 .7-1.8 .7-4.7 .7 3.9 .7 15 .7-18.5 .7 3.8 .7-6 .7-4.7 .7 3.1 .7 13.6 .7-2.8 .7-8 .7-3.1 .7 13.5 .7-.4 .7 1.4 .7-9.4 .7 8.3 .7-18.6 .7 .3 .7-2.6 .7 3.7 .7 25.4 .7 8.4 .7-44.7 .7 15.3 .7 34.2 .7-56.6 .7 5.1 .7-5.9 .7 36.5 .7 25.9 .7-15 .7-28 .7 39.8 .7-21.8 .7-17.2 .7 4.4 .7 5.8 .7 20.5 .7-16.6 .7-23.7 .7 2.8 .7 23.4 .7-15.9 .7-5.5 .7 25.8 .7 11.6 .7 .4 .7 2.3 .7-21.4 .7-3.8 .7-17.8 .7 .8 .7 23.1 .7 22.6 .7-37.1 .7 23.5 .7-37.3 .7 22.7 .7-19.8 .7 7.4 .7-5.6 .7 11.9 .7-3.1 .7 16.2 .7 2.7 .7-.9 .7-24 .7 37 .7-44.6 .7 25.8 .7-18 .7 37.9 .7-20.7 .7 33.4 .7-17.1 .7-11.7 .7 16.4 .7-17.4 .7-8.6 .7 2.1 .7 33.2 .7-25.8 .7-3 .7 7.6 .7-1.7 .7-29 .7 9.8 .7 .1 .7 .2 .7 15 .7-3.2 .7 9.1 .7-11.6 .7 13.8 .7-8 .7-12.4 .7 1.4 .7 14.8 .7-.6 .7-24.2 .7 8.6 .7 12.4 .7-7.9 .7 .8 .7 17.7 .7-4.8 .7 20.1 .7-33.8 .7-1 .7-15.2 .7 .9 .7 21.4 .7-27.3 .7 31.2 .7-20.3 .7 18.7 .7 2.6 .7 6.1 .7-15.4 .7-24 .7 20.5 .7-1.1 .7 7.3 .7-7.8 .7-1.7 .7 .6 .7-8.8 .7 13.9 .7-5.1 .7-14.1 .7 11.1 .7 18 .7-27.5 .7 8.3 .7 23.1 .7 .8 .7-7.4 .7-19.1 .7 6 .7-9.8 .7-11.3 .7 6.3 .7 19.6 .7 7.6 .7-16.5 .7 15.8 .7 .1 .7-4.2 .7-1.8 .7 2 .7-1.1 .7 7.4 .7-5.9 .7-1.5 .7-3.7 .7 1.2 .7 3 .7-25.9 .7 10.3 .7 4.7 .7 4 .7-1.5 .7 24.6 .7 5.1 .7-23.3 .7 33.4 .7-43 .7 18.1 .7-23.4 .7 13.7 .7 21.7 .7-2.5 .7-9.2 .7-31.4 .7 1.2 .7 24.2 .7-2 .7 7.1 .7-15 .7 7.7 .7 4.9 .7 6.5 .7-16.2 .7-18 .7 21.4 .7 18.2 .7 1.8 .7-2.3 .7 22.3 .7-53.1 .7 29.4 .7 22.6 .7 3.2 .7-43.1 .7-3.2 .7-20.6 .7 8.2 .7 26.9 .7 17 .7-25.5 .7 7.5 .7-6.1 .7 13.3 .7-10.8 .7-1.1 .7 4.7 .7 .6 .7-.8 .7-6.5 .7-1.8 .7 1.9 .7 2.6 .7-2.3 .7 1.3 .7-1.9 .7-1.2 .7 1.2 .7 1.6 .7-1.8 .7 .2 .7-.3 .7 .3 .7 0 .7 .7 .7-.9 .7 .8 .7 .3 .7-.9 .7-.2 .7-.3 .7 .1 .7 .4 .7 0 .7-.3 .7 .2 .7 .1 .7 1.3 .7-.9 .7 0 .7-.4 .7 .6 .7-.9 .7 .2 .7 .7 .7-.4 .7-.2 .7 .7 .7 .4 .7-.8 .7-.2 .7 .1 .7-.5 .7 .2 .7-1 .7 1.6 .7-2 .7 1.9 .7-.6 .7 2.8 .7-1.4 .7-2.3 .7 1.1 .7 .3 .7 .9 .7-1.7 .7 1.7 .7-2.8 .7 .9 .7 1.7 .7 .4 .7-.4 .7-1.3 .7 .3 .7 2.6 .7-2.7 .7 1.8 .7-4.1 .7 5.4 .7-4.2 .7 3.7 .7-3.1 .7-1.9 .7 1.6 .7 4.4 .7 1.5 .7-9.8 .7 7.9 .7-7 .7-2.5 .7 16 .7-22.5 .7 13.2 .7 2.1 .7 5.8 .7-9.6 .7-3.2 .7-6.3 .7-1.5 .7-.2 .7 13.4 .7 .6 .7-3 .7-2 .7-13.6 .7 5.1 .7 14.1 .7 9.1 .7 6.8 .7-15.1 .7-1.9 .7 7.7 .7-6 .7-4 .7 .5 .7 13.4 .7-4.6 .7 3.5 .7-31.5 .7-7.3 .7-1.1 .7 50.9 .7-13.5 .7-3.8 .7-5 .7-3.7 .7 14 .7-2.6 .7-18.3 .7 1.2 .7-6.4 .7 10.4 .7 8.7 .7-9.5 .7 9.2 .7-2.2 .7 .4 .7 2.7 .7-12.9 .7 6 .7 2.5 .7-.1 .7 1.5 .7-.5 .7-.4 .7-.1 .7 2.3 .7-3.2 .7 3.3 .7-.9 .7 .1 .7-1.3 .7 1.2 .7-2 .7 .2 .7-.1 .7 .1 .7 .6 .7-.2 .7 .6 .7-.3 .7-.3 .7 .6 .7-.3 .7 0 .7-.5 .7 .1 .7 .3 .7-.3 .7-.2 .7 .2 .7-.1 .7-2.1 .7-7.4 .7-12.5 .7-4.8 .7 12.1 .7 18 .7 7.4 .7-4 .7-4.6 .7-1.5 .7-.2 .7 .2 .7-.1 .7 .4 .7-.5 .7-.2 .7 .3 .7 .3 .7-1.3 .7 1 .7-.3 .7 .8 .7-.4 .7-.3 .7 0 .7 0 .7 0 .7 .1 .7 .1 .7-.1 .7 .1 .7 0 .7-.3 .7 0 .7 .3 .7-.7 .7 .5 .7 .1 .7-.5 .7 .3 .7 1 .7-1 .7 1.1 .7-.7 .7-.5 .7-.3 .7 .2 .7-4 .7-6.7 .7-.2 .7 10 .7 10.3 .7-.1 .7-3.7 .7-4 .7-2.4 .7-.1 .7 3.9 .7-4.8 .7 4.1 .7-1.2 .7 2.5 .7-2.1 .7-3.9 .7 6.8 .7-1.6 .7-2.3 .7-2.5 .7-3.9 .7 5.2 .7-2.8 .7 10.7 .7-2.9 .7 7.3 .7-16.5 .7 8.3 .7-6.2 .7 11.1 .7 1.5 .7-.2 .7-2.2 .7-2.6 .7 9.5 .7-13.6 .7-4.1 .7 18.6 .7-.6 .7-2.5 .7-3.5 .7-21.5 .7 7.1 .7 15 .7-24.7 .7 9.4 .7 16.4 .7 2 .7-12.7 .7 11.3 .7-10.9 .7-4.2 .7 9.5 .7-.2 .7-.6 .7-9.6 .7 2.6 .7 .9 .7-.6 .7 2.7 .7 1.4 .7-2.1 .7-.9 .7 1.6 .7 .2 .7 .4 .7-1.8 .7 .4 .7 .5 .7 0 .7-.1 .7 .1 .7-.4 .7 .4 .7-.3 .7 .4 .7 .3 .7-1.3 .7-.4 .7-.5 .7 2.5 .7 .8 .7 1.9 .7-3 .7 1.4 .7-4.3 .7 5.2 .7-4.6 .7 4.9 .7-2.6 .7-3 .7 3.4 .7-1.4 .7-.1 .7 1.8 .7-2.4 .7 2.8 .7-.8 .7-1 .7-.8 .7-1.9 .7-.6 .7 8.1 .7-2.9 .7 5.5 .7-7.4 .7 3.2 .7-3.7 .7 7.9 .7-1.5 .7-7.8 .7-1.2 .7 5 .7 .9 .7 .4 .7 0 .7-.9 .7-9.4 .7 4.8 .7 7.5 .7-3.1 .7 .8 .7-3 .7-3 .7 1.9 .7 1.4 .7-.1 .7 .5 .7 1.5 .7-.6 .7-3.2 .7 5.6 .7-7 .7-2.8 .7 5.4 .7-2.7 .7 2.8 .7 2.1 .7 5 .7-3.8 .7-7.3 .7 4.2 .7 1.2 .7-5.3 .7 5 .7 5.1 .7-3.9 .7-5.5 .7 .9 .7 3.5 .7-2.2 .7 1.6 .7-4.1 .7 2.6 .7-.3 .7 .9 .7-1.1 .7 .6 .7 1.2 .7 1.2 .7-.2 .7-.6 .7-1.9 .7 0 .7-1.3 .7 3.1 .7-.2 .7 4.6 .7-2.2 .7-.1 .7-2.2 .7-.6 .7 2.9 .7-4.7 .7 5.5 .7-2.6 .7 5.3 .7-7.5 .7 8.7 .7-3.1 .7 9.2 .7 7.1 .7-39.8 .7 30.1 .7-28.9 .7 23.4 .7-4.2 .7-1.2 .7 18.9 .7 10.6 .7-41.3 .7 9.6 .7 28.4 .7-12.7 .7-4.6 .7-21.3 .7 6.8 .7 5.4 .7-7.7 .7 5.9 .7 6.3 .7 .9 .7-7.3 .7 10 .7-12.7 .7 16.8 .7-6.3 .7-14.7 .7 .9 .7-1.3 .7 23.6 .7-9.4 .7-2.9 .7 3.9 .7 1.9 .7-10 .7 3.6 .7 12.8 .7-4.2 .7-4.5 .7-3.4 .7 4.6 .7 17.6 .7-23.6 .7-9.2 .7-13.7 .7 28.2 .7-16.6 .7 16.6 .7-18.7 .7 13.8 .7-1 .7 1.6 .7-1.5 .7 0 .7 9.2 .7-13.2 .7 15 .7-8.3 .7-15.2 .7 15.8 .7 5.9 .7-30.8 .7 1.5 .7 1.3 .7 3.2 .7 7.1 .7 6.5 .7 15.8 .7-2.8 .7-2.7 .7-17 .7-1.6 .7 2 .7 9 .7-11.1 .7 10.4 .7 2.7 .7-2.4 .7-10.7 .7-.7 .7 7.9 .7 13.1 .7-17.4 .7 16 .7 1.7 .7-2.5 .7 3.4 .7-3.8 .7-18.9 .7 20.4 .7-6 .7 9.1 .7-3.3 .7-4.6 .7-4.2 .7-.1 .7 1.6 .7 3.3 .7-12.4 .7 3.9 .7 7.1 .7-1.2 .7 .5 .7-1.6 .7 1.7 .7-4.5 .7-.4 .7 2.9 .7-.8 .7 1.6 .7-2.9 .7 2.4 .7-1 .7 .3 .7 1.1 .7 .4 .7-.8 .7 0 .7-.2 .7-.2 .7 0 .7 .1 .7-.4 .7 .6 .7-.6 .7 0 .7 .6 .7-1.6 .7 .1 .7 .7 .7-.2 .7 .5 .7-.9 .7 1.9 .7-3.7 .7-.1 .7 4.2 .7 3.5 .7-8.7 .7 3.1 .7 4.2 .7-9.3 .7 5 .7 7.3 .7-9.9 .7 8.9 .7 2.3 .7-4.1 .7-2.1 .7 4 .7-11.2 .7 4.7" fill="none" stroke="#0072bd" stroke-width="2.15" stroke-linejoin="round"/>
<path d="M157 1617.4l.7-6.4 .7 5.7 .7 3.4 .7-2.3 .7 6.6 .7-3.9 .7-19.5 .7-.7 .7 17 .7 29 .7-.8 .7-28.6 .7-7.2 .7 12.9 .7 18.4 .7 3.9 .7 4.5 .7-7.7 .7-19.7 .7-7.6 .7 19.5 .7 5.4 .7-15.2 .7 .1 .7 8.9 .7-10.2 .7-5.5 .7 6 .7-.8 .7-4.2 .7 1.4 .7 5.5 .7 1.8 .7-3 .7-.8 .7 5.3 .7 1.6 .7-8.8 .7-7.1 .7 1.2 .7 1.6 .7-12.8 .7-1.7 .7 17.3 .7 4.6 .7 5.7 .7 15.4 .7 .5 .7-1.1 .7-.3 .7 .4 .7-5.3 .7-6.6 .7-6.3 .7-6.5 .7 1.6 .7-.4 .7 1.3 .7 3.6 .7-.8 .7-3.7 .7-1 .7 2.2 .7 3.3 .7 0 .7-.2 .7-.4 .7-.6 .7 .5 .7 1.2 .7 .2 .7-1.6 .7-1.5 .7-1.3 .7 .3 .7 1 .7-1.4 .7-1.1 .7 3.4 .7 3 .7 1.7 .7-1.4 .7-1.6 .7-.1 .7 1.4 .7 3 .7-1.1 .7-2.8 .7-3 .7-.2 .7 4.3 .7-3.2 .7 1.3 .7 6.4 .7-1.8 .7-6.1 .7-2.3 .7 4.1 .7 1.8 .7 .4 .7 1 .7-5.6 .7-3.4 .7 7.6 .7 4.8 .7-4 .7 1.5 .7 2.1 .7-9.7 .7-4.2 .7 3.4 .7 2.4 .7 1 .7 .5 .7 1.3 .7 2.3 .7-1.2 .7-2.3 .7-3 .7-1.3 .7-1.7 .7-6.3 .7-7.9 .7-.6 .7 6.1 .7 6.7 .7 2.5 .7 2.8 .7 1 .7 1.7 .7 2.7 .7-3 .7-3.3 .7 .7 .7 1 .7 4.2 .7 1.4 .7-2.4 .7-2.1 .7-5.8 .7-.1 .7 5.4 .7-2.7 .7-4.6 .7-.6 .7 1.3 .7 6.7 .7 3.1 .7-.2 .7 4.4 .7-4.6 .7-2.8 .7 5.4 .7-2.8 .7-5.5 .7 4.4 .7 .8 .7-1.8 .7 .4 .7 1.5 .7 .6 .7 2 .7-2.3 .7-4 .7-1.1 .7 5.1 .7 2.1 .7-.2 .7-1.8 .7-1.3 .7-1.5 .7-1.5 .7 7.3 .7 2.7 .7-6.6 .7 0 .7 7.1 .7-5 .7-5.2 .7-2.3 .7 .8 .7 2.5 .7-.3 .7 1 .7 1.3 .7 .5 .7-.3 .7-1.6 .7 1.2 .7 .4 .7 .2 .7 3 .7 .4 .7-1.2 .7-1.5 .7 .5 .7 1.1 .7 0 .7-1.3 .7-1.4 .7 0 .7 .8 .7-.5 .7-.7 .7 .5 .7 .6 .7-.2 .7-.7 .7-.7 .7-.2 .7 .6 .7 .7 .7-.1 .7-.2 .7 0 .7-.1 .7 0 .7-.2 .7 0 .7-.1 .7 .2 .7 1.1 .7 3.1 .7 3.5 .7-1.2 .7-3.8 .7-2.3 .7-.6 .7-.1 .7 0 .7 .1 .7 .2 .7 0 .7 .7 .7 .6 .7-.8 .7-.8 .7 .3 .7-2.6 .7-3.3 .7-.3 .7 4.8 .7 7.4 .7 2.7 .7 .5 .7-2.3 .7-1.8 .7-6.6 .7-16.7 .7-3.3 .7 7.9 .7 6.1 .7 0 .7 15.7 .7 15.5 .7-9.6 .7-16.4 .7-8.3 .7 6.5 .7 15.9 .7 3.7 .7-5.2 .7-1.5 .7 1.3 .7-5.9 .7 .8 .7 2.8 .7-3.2 .7-4.4 .7 3.8 .7 4.1 .7-.7 .7-5.6 .7-2.8 .7-.5 .7-9 .7-7.7 .7 1.9 .7 8.1 .7 10 .7-3.6 .7-13.2 .7 7.6 .7-7.8 .7-15.7 .7 12.5 .7 13 .7-3.5 .7-4.4 .7 16.1 .7-3.1 .7 .2 .7 20.5 .7-4.3 .7 2.9 .7-25.5 .7-20.5 .7 6 .7-10.8 .7-1.2 .7 8.4 .7 2.6 .7 8.4 .7 12.4 .7 14.9 .7 2.3 .7-12.2 .7-2.9 .7 11.6 .7-2.8 .7-12.4 .7-2.4 .7 4.3 .7 1.9 .7-1.7 .7 1 .7 1.3 .7 .3 .7-1.8 .7-1 .7-2.1 .7-.1 .7 1.4 .7-.3 .7 1.2 .7 .1 .7-1.1 .7-.4 .7 .1 .7 1.5 .7 .3 .7-3.3 .7-1 .7 1 .7 5.4 .7-5 .7-3.4 .7 3 .7 9.8 .7-2.5 .7-.8 .7-.3 .7 1.4 .7 .1 .7-10.6 .7-1.9 .7 .5 .7 .9 .7 2.2 .7 3.8 .7 2.2 .7-.3 .7-.1 .7 1.3 .7 .4 .7-.4 .7-1.2 .7-1.6 .7-.2 .7 1.1 .7 .3 .7-.4 .7-.5 .7-.3 .7 .1 .7-.1 .7-.1 .7 .1 .7 .1 .7 0 .7 .2 .7-.2 .7 .2 .7 .2 .7 .1 .7 .1 .7 .1 .7 .2 .7 0 .7-.1 .7-.4 .7-.2 .7 0 .7-.2 .7 .5 .7 .2 .7-.2 .7-.3 .7 0 .7 .6 .7 .4 .7-.3 .7-.4 .7 .1 .7 .5 .7 .3 .7-.7 .7-.5 .7 .6 .7 0 .7-.2 .7-.1 .7-.3 .7 0 .7 .1 .7-.1 .7 0 .7 .2 .7 .4 .7-.1 .7 .2 .7-.2 .7-.9 .7-.6 .7-.1 .7 .7 .7 .8 .7-.2 .7-1.5 .7-1.7 .7-.5 .7-.2 .7 .4 .7 1.7 .7 1.3 .7-1.6 .7 1.5 .7 2 .7 6.2 .7 4.8 .7-6.2 .7-4.4 .7 2.2 .7-9.9 .7-7.2 .7 .6 .7-2.7 .7 3.3 .7 11.6 .7 5.7 .7-1.9 .7-1 .7 2.7 .7-4.7 .7 .8 .7 15.1 .7-2 .7-19.6 .7 1 .7 20.4 .7-3.2 .7-14.9 .7 5.9 .7 17.3 .7 1 .7-15.6 .7-2.6 .7-8.1 .7-12.8 .7 9.3 .7 17.7 .7-26.5 .7-7.5 .7 11.1 .7 4.9 .7 9.9 .7-4.7 .7-5.5 .7 9.2 .7 14.3 .7-2.6 .7 2.4 .7 4.8 .7-1.5 .7-6.6 .7-3.6 .7-6.9 .7-1.1 .7 .6 .7 2.2 .7 1.5 .7-2.6 .7 2.9 .7 .2 .7-3.7 .7 .6 .7 1.6 .7-4.2 .7-1.4 .7 3 .7 3.5 .7-1.4 .7-2.7 .7 .1 .7 1.4 .7-.5 .7 1 .7 3.5 .7-.2 .7-.4 .7-.8 .7-1.8 .7 3.1 .7-1.7 .7-4.5 .7-2 .7 .2 .7 1.2 .7 1 .7-.1 .7-.9 .7 .2 .7 1.2 .7 1.1 .7 .1 .7-2.1 .7-4.5 .7-4.3 .7-3.2 .7 3.1 .7 2.8 .7-2.3 .7 7.8 .7-6.8 .7 10.2 .7 17.3 .7 .8 .7-6.4 .7 2.2 .7 5.1 .7-23.5 .7 5.6 .7 18.9 .7 1.8 .7 1.3 .7-17.2 .7 10 .7 6.4 .7-12 .7-12.5 .7-19.6 .7-6.9 .7 10 .7 15.1 .7 21.1 .7 2.9 .7-5.5 .7 5.5 .7-4.3 .7-14 .7-10.8 .7-4.4 .7 9.5 .7 10.5 .7-.7 .7-11.7 .7-7.8 .7 2.3 .7 6.8 .7-.6 .7 1.3 .7 3.8 .7 3.8 .7-1.2 .7-1.9 .7-1 .7 .1 .7-2.2 .7-.7 .7 1.3 .7-3.3 .7-3.7 .7 2.8 .7 .1 .7 1.6 .7-1.1 .7-4.7 .7-1.1 .7 5.7 .7 .5 .7-1.1 .7 5.7 .7 11.8 .7 8.7 .7-5.4 .7-16.4 .7 1.2 .7 7.6 .7 .2 .7-26.3 .7-15 .7 13.7 .7 18.7 .7 6.4 .7-10.9 .7-10.4 .7 6.6 .7 16.1 .7 3.2 .7-2.6 .7-16.7 .7-5.1 .7 13.6 .7 0 .7-5.8 .7 4.6 .7 4.7 .7 20.1 .7 6.7 .7-15.5 .7-20 .7-19.2 .7-11 .7-2.5 .7 7.5 .7 37.8 .7 20.4 .7 1.4 .7-18.4 .7-8.7 .7-5.9 .7-.8 .7 13.3 .7 3.7 .7-10.2 .7-11.3 .7 2.1 .7 7.4 .7-3.6 .7-7.8 .7 8 .7 15.9 .7 2.3 .7-10.2 .7-.3 .7 2.2 .7-13.7 .7-2.5 .7 5.5 .7 4.4 .7-3.6 .7-2.8 .7 .8 .7-.2 .7-1.6 .7 1.2 .7 11.3 .7-4.4 .7 1.4 .7 5.3 .7 5.9 .7 2 .7-3.1 .7 6.9 .7 1.9 .7 1.2 .7-9.6 .7-30.1 .7-10.3 .7 22.2 .7 11.5 .7 4 .7 16.5 .7-1.6 .7-24.7 .7-16.4 .7 12.7 .7 8.7 .7-.6 .7-3.6 .7-10 .7 1.2 .7 30.3 .7 9.2 .7 2.8 .7 .6 .7-8 .7-23.2 .7 18.2 .7 10.7 .7-13.8 .7-27.7 .7-1.7 .7 .7 .7-3.7 .7-5.1 .7 8.3 .7 11.9 .7-1.7 .7-.6 .7 9.9 .7-.3 .7-8.9 .7-5.3 .7 4.1 .7 1.5 .7-2.6 .7-.7 .7 5.1 .7 1.8 .7-2 .7-4.3 .7-.9 .7 1.1 .7 .7 .7 1.1 .7-4.8 .7-1.4 .7 5.4 .7 .3 .7-2.3 .7 5.1 .7 1.3 .7-2.9 .7-3 .7 .2 .7 1 .7-.1 .7-.7 .7-.4 .7-.2 .7 0 .7 .3 .7 .4 .7 .1 .7 .9 .7 .3 .7 .2 .7 .1 .7-.1 .7-1.2 .7-1.3 .7-2.5 .7-3.4 .7 2.7 .7 11.2 .7 9.9 .7-3.3 .7-7.8 .7-3.8 .7-.7 .7-.5 .7-.4 .7 1.9 .7 0 .7-.9 .7 .7 .7-1.4 .7-4 .7-.8 .7 1.4 .7 2.8 .7 5.9 .7-2 .7-1 .7 6.7 .7 1.1 .7-7.1 .7-6.2 .7-1.7 .7-2 .7-.5 .7 3.3 .7 7.3 .7 7.2 .7-1 .7-6.5 .7 0 .7 10.3 .7 7.4 .7 0 .7-3.7 .7-4.9 .7-4.9 .7-5.8 .7 8.4 .7 8.7 .7-8.5 .7-10.6 .7-3.8 .7-4.3 .7-1.5 .7 4.5 .7 4.4 .7-2.1 .7 3.1 .7 .7 .7-.1 .7-7.9 .7-7.5 .7 .1 .7 2.7 .7 15.7 .7 4.7 .7-12.5 .7 3 .7-10.2 .7-14.8 .7-2.6 .7 2.2 .7 20.9 .7-13.9 .7-10.1 .7-.4 .7 27.1 .7 40.2 .7 1.6 .7-19.5 .7-32.7 .7-17.4 .7-8 .7 3.8 .7 23.8 .7-3.4 .7 10.7 .7 7.6 .7-31.2 .7-2.1 .7 45.1 .7 20.2 .7 1.8 .7-2.2 .7-5 .7-10.8 .7-15.3 .7 18 .7 8.7 .7-1.7 .7-2.3 .7-3.1 .7-25.7 .7-13.7 .7 10.6 .7 6.6 .7-3 .7 1.5 .7 1.1 .7 .1 .7-4.5 .7 1.2 .7 2.7 .7-3 .7 .5 .7 1.3 .7 .2 .7-.1 .7 .1 .7-.2 .7 .3 .7 .4 .7 0 .7 .2 .7 .2 .7 .5 .7 .1 .7 0 .7-.1 .7-.3 .7-.7 .7-.1 .7-.1 .7-.9 .7 .3 .7 .6 .7 1.2 .7 .1 .7 0 .7-.5 .7 .6 .7 1 .7 3.6 .7 8.7 .7 1.3 .7-14.9 .7-21.1 .7-8.3 .7 9.1 .7 12 .7 5.7 .7 1.2 .7 .9 .7-.4 .7-1.2 .7 0 .7 .5 .7 .2 .7 .2 .7 .8 .7 .1 .7-.4 .7-.1 .7 .1 .7-.2 .7-.3 .7 0 .7 .1 .7 .1 .7 .3 .7 .4 .7-.4 .7-.6 .7-.1 .7 .4 .7-.1 .7-.1 .7 .2 .7 .3 .7 0 .7-.2 .7-.3 .7-.1 .7 .1 .7-.4 .7-2.3 .7-4.4 .7-1.4 .7 3.9 .7 3.5 .7 1.8 .7 3.3 .7 4.3 .7-.3 .7-4.3 .7-2.9 .7-.8 .7 0 .7 .1 .7 .1 .7-.1 .7-.1 .7-.1 .7-.2 .7 0 .7 .2 .7 .2 .7 .3 .7-.4 .7-.5 .7 .5 .7 .4 .7 .4 .7 .7 .7 .2 .7 1.2 .7-.8 .7-.9 .7 .5 .7-2 .7 1.2 .7 2.8 .7-1.1 .7-1.6 .7-1.7 .7-.5 .7 .9 .7 1.7 .7 1.3 .7-.1 .7-2.5 .7-4.7 .7-.5 .7 6 .7 6.5 .7 3.5 .7-2.3 .7 .4 .7-.2 .7-.9 .7-1.4 .7-1.3 .7-1.7 .7-3.9 .7-1.2 .7 1.9 .7 2.1 .7 2.4 .7-1.7 .7-3.2 .7 .1 .7 .5 .7-.5 .7-.1 .7 .7 .7 .2 .7-.5 .7-.2 .7 .2 .7 .1 .7 .1 .7-.2 .7 0 .7 0 .7 0 .7 .1 .7 .3 .7-.3 .7-.2 .7 0 .7-.4 .7 .1 .7 .2 .7 .2 .7 .3 .7 .1 .7-.4 .7-.8 .7 0 .7 .4 .7 0 .7 0 .7 .1 .7 .1 .7 .1 .7 0 .7 0 .7-.2 .7 .1 .7-.2 .7-.5 .7 .2 .7 .3 .7 .2 .7 0 .7 .3 .7 .2 .7 .1 .7-.3 .7-.5 .7 .1 .7 .6 .7 .5 .7-.2 .7-.4 .7-.2 .7 0 .7 0 .7-.6 .7-.3 .7 .6 .7 .1 .7-.2 .7 .1 .7 .1 .7 .1 .7 .5 .7 .2 .7-.5 .7-.4 .7 .4 .7-.1 .7 0 .7 .6 .7 .1 .7-.1 .7-.2 .7-.5 .7-.2 .7 .2 .7 .1 .7 .1 .7 .2 .7-.1 .7 0 .7 0 .7 .3 .7 .4 .7 0 .7-.5 .7-.2 .7 .1 .7 1.5 .7 .6 .7-.8 .7-.5 .7 2.5 .7 1.8 .7-1.7 .7-2.8 .7-6.3 .7-6.7 .7-2.1 .7 3.3 .7 11 .7-2.8 .7-4.1 .7 .4 .7 10.1 .7 6.7 .7-1.8 .7-11.2 .7-1.4 .7 17.1 .7 .2 .7-13.8 .7-25.1 .7-7.4 .7-.5 .7 31.1 .7 13.1 .7-10.8 .7-7 .7 .8 .7 28.9 .7-14.8 .7-32.9 .7 1 .7 11.7 .7 6.2 .7 6.7 .7-21.2 .7-7.7 .7 4.5 .7 12.1 .7 8.2 .7-1.4 .7 6.5 .7 1.2 .7-5.6 .7-5 .7 6.9 .7 0 .7-15.3 .7-6.9 .7 5.9 .7 22.4 .7 6.7 .7-15.2 .7-4.9 .7 11.8 .7 2.7 .7-24.7 .7-8.8 .7 12.1 .7 17.1 .7-4.2 .7 9 .7-16.4 .7-12.1 .7 13.3 .7 15.8 .7 2.1 .7-17 .7 22.3 .7 12.7 .7-23.3 .7-14.5 .7 3.7 .7 8.2 .7 6 .7 2.3 .7-2.1 .7-10.3 .7-6.6 .7 1.2 .7-5.7 .7-4.3 .7-2.9 .7 11.6 .7 6.2 .7 2.6 .7 18.4 .7-3.4 .7-28.5 .7-3.7 .7 17.8 .7 2.1 .7 10.8 .7-2.3 .7-18.3 .7-9.9 .7 6.9 .7 7.2 .7-3.8 .7-7.5 .7 3.6 .7 14.8 .7 6.9 .7-7.1 .7-4.5 .7 7.7 .7-.7 .7-6.8 .7-4.3 .7 2.2 .7 7.4 .7-5.7 .7-5.1 .7 2.6 .7 3 .7 .6 .7 4.9 .7-2.2 .7-1.4 .7 .1 .7-1 .7-6 .7 .7 .7 3.2 .7 .7 .7 1.2 .7 1.8 .7 0 .7-1.4 .7 0 .7 1.5 .7-.1 .7-.7 .7-1.3 .7-.5 .7 .3 .7 .2 .7-.4 .7-.4 .7 .2 .7 .8 .7 .2 .7-.8 .7-.1 .7-.4 .7 .4 .7 .9 .7-.7 .7-.4 .7 .2 .7 .7 .7 .4 .7-.3 .7-.4 .7-.5 .7-.1 .7 .5 .7-.1 .7-.2 .7-.6 .7-.7 .7 1.2 .7 3.7 .7-1.1 .7-2.8 .7-3.8 .7-1.3 .7 7.4 .7 1.9 .7-9.4 .7 .1 .7 4 .7-.5 .7-2.7 .7 6.3 .7 3.2 .7-3.5 .7-3.8 .7 .2 .7 1.4" fill="none" stroke="#0072bd" stroke-width="2.15" stroke-linejoin="round"/>
<path d="M157 1840.5l.7-2.5 .7-5.9 .7-1.3 .7 17.1 .7-4.7 .7-2.5 .7-7 .7 8.2 .7 3.1 .7-19.6 .7-1 .7 13.9 .7 18.7 .7-10.7 .7 6.6 .7-33.7 .7 7.3 .7 3.5 .7-6.7 .7 4.5 .7 26.4 .7-23.8 .7 6.8 .7 22.6 .7-34.4 .7 4.7 .7 7.9 .7-4.8 .7 12.7 .7-17.3 .7 14.1 .7 5.4 .7-25 .7 7.3 .7 6.7 .7-.6 .7-1.6 .7-2.8 .7 2.8 .7 0 .7 4.9 .7 .2 .7-1.8 .7-.7 .7 1.3 .7 1.7 .7-1.3 .7-2.5 .7 .4 .7 3.4 .7-3.6 .7 .1 .7 .1 .7-1.2 .7 1 .7-2.5 .7 5 .7 1.1 .7-2.4 .7-.3 .7 2.7 .7-2.8 .7 .4 .7 2.8 .7-1.8 .7-2.7 .7 .1 .7 4.2 .7-4.1 .7 .3 .7-6.7 .7 7.5 .7-1 .7 8.2 .7-10.8 .7 4.2 .7 3 .7-.3 .7-1.4 .7 .5 .7-2.7 .7 2 .7-.9 .7-2.6 .7 2.4 .7-.3 .7 0 .7 .6 .7 .1 .7 3 .7-4.7 .7 .6 .7 .9 .7 2.8 .7-4.2 .7 4.4 .7-2.2 .7 .6 .7 .1 .7-3.8 .7-1.4 .7-.2 .7 3.8 .7 3.5 .7-3.5 .7 2 .7 6.9 .7-15 .7 .5 .7 10.3 .7 3.5 .7-6.5 .7-5.5 .7-8.4 .7 7.3 .7 13 .7-11.3 .7 14.2 .7-.4 .7-14 .7 7.4 .7 8.3 .7-2.2 .7-2 .7 3.3 .7-4.3 .7-7.2 .7 4.4 .7 4.3 .7-16.8 .7-3.9 .7 3.8 .7 17.5 .7-1.5 .7-7.6 .7-.3 .7 5.3 .7-6.7 .7 2.1 .7 4.8 .7 .4 .7-4.8 .7 .1 .7-3.4 .7 3.6 .7-.6 .7-3.3 .7 3.6 .7-1.8 .7 .7 .7 1.1 .7 1.4 .7-2.6 .7-3.6 .7 1.1 .7 2.2 .7-2 .7 3.5 .7-1.9 .7-3.6 .7 3.3 .7-2.3 .7 3.3 .7 4.3 .7-8.8 .7 6.6 .7-8.4 .7-.4 .7-1.2 .7 3.2 .7 6.1 .7 4.7 .7-1.4 .7-1.5 .7-7.7 .7 13.8 .7-14.1 .7 5.7 .7-4.8 .7-4.2 .7 .9 .7-1.5 .7 14.8 .7 1.2 .7 4.7 .7-7.3 .7-3.3 .7-6.2 .7-3.6 .7-3.2 .7 .1 .7 16.8 .7-1.2 .7 1.6 .7-3.1 .7-13.8 .7-.8 .7 2.1 .7 4.1 .7 15.1 .7-2 .7-1.7 .7 7.6 .7-13.6 .7-.7 .7-10.7 .7 13.2 .7 11 .7-10.9 .7-.3 .7-1.9 .7 10.6 .7-6.2 .7 8.5 .7-12.9 .7 4.9 .7 8.3 .7-17 .7-5 .7 0 .7 3.8 .7 10.5 .7 .7 .7-8.8 .7-4.7 .7-1.6 .7 7.6 .7 9.6 .7-5.4 .7-4.9 .7 .3 .7 0 .7 4.8 .7-1 .7-2.3 .7 .4 .7 .4 .7 1.5 .7-.2 .7-1.8 .7-.6 .7 4.4 .7-3.1 .7-1.8 .7 .6 .7 .1 .7 2.3 .7 5.4 .7 5.2 .7 20 .7-15.4 .7-6.3 .7-5.3 .7-2.5 .7 3.2 .7-5.3 .7-4.3 .7-.8 .7 6.4 .7-1.8 .7 3.1 .7 2.6 .7-3.1 .7-8.9 .7 10.4 .7-.3 .7-1.9 .7-4.8 .7 3 .7 2.4 .7-4.4 .7-17.3 .7-7.8 .7 18.1 .7 7.2 .7 1.7 .7-.1 .7 1.5 .7-1.4 .7 3.9 .7-4.6 .7-9.3 .7 7.8 .7 6.8 .7-7.3 .7-3.9 .7 1.5 .7 7.4 .7-2.5 .7-5.4 .7-14.8 .7 34.3 .7-7.2 .7-2.7 .7-.1 .7-4.9 .7-6.5 .7 17.2 .7-5.2 .7 3 .7-11.9 .7-6.5 .7 16.3 .7-2.8 .7 1 .7 2.4 .7-2.6 .7-1.5 .7 3.3 .7-6 .7 4.8 .7 2.3 .7-5.2 .7-.2 .7-1 .7 .7 .7-.2 .7 0 .7 1.4 .7-3.2 .7-.1 .7-.2 .7 3.7 .7-1.3 .7-.1 .7 3.7 .7-5 .7-.5 .7 .1 .7 .5 .7-2 .7 1.5 .7 .5 .7-.5 .7 2.1 .7 .2 .7-1.5 .7 .9 .7 0 .7 1.6 .7-1.3 .7 2.5 .7-1.2 .7-1.6 .7-4.4 .7 4.1 .7-1 .7 2.5 .7 .3 .7 2.2 .7-5.8 .7 .2 .7-.2 .7 1.1 .7 1 .7-1.2 .7 .9 .7-2.6 .7 1.7 .7 2 .7 1 .7-1.1 .7 .4 .7-1.3 .7 .6 .7 1.8 .7-3.4 .7 2.5 .7 1.9 .7-5 .7 2.3 .7 .7 .7-.2 .7-.9 .7 .2 .7 1.2 .7-1.2 .7-.3 .7-.3 .7 4.7 .7-1.9 .7 2.8 .7-1.5 .7 1.2 .7-5.7 .7 1.3 .7 .2 .7-.8 .7 4.4 .7 1.7 .7-1.5 .7-7.2 .7 2.3 .7-5.3 .7 3.6 .7 1.7 .7-.4 .7 1.4 .7-.7 .7-.1 .7-1.2 .7 4.7 .7-.7 .7-3.8 .7-1.6 .7-1.3 .7 3.7 .7 .5 .7 3.1 .7-4.3 .7-.6 .7 2 .7-1.3 .7 0 .7-.7 .7 .5 .7-4.8 .7-1.3 .7 6.9 .7 1.6 .7 3.7 .7-4.8 .7-4.4 .7 7.6 .7-.9 .7-6.5 .7 7.9 .7-6.2 .7 .5 .7 1.8 .7 1.6 .7-2.6 .7-2.1 .7 5.2 .7-5.5 .7 2.3 .7 9.1 .7 13.3 .7 .7 .7-10.5 .7-5.7 .7-1.3 .7 .1 .7-4.9 .7-3.5 .7 8.6 .7 4.4 .7-7.5 .7 3.9 .7-2.3 .7-4.8 .7-4.1 .7 2.2 .7-.5 .7 2.5 .7-9.9 .7 14.4 .7-21.4 .7 12.7 .7-1.2 .7 4.1 .7 12.1 .7-10.5 .7-7.8 .7-.2 .7 4.2 .7 6.4 .7 3.1 .7 0 .7-10.3 .7 .3 .7 5.8 .7-.9 .7 .9 .7-.1 .7 .2 .7-6.7 .7 4.3 .7 3.2 .7-8.8 .7 16.5 .7-12.1 .7 1.3 .7 12.3 .7 5.6 .7-.5 .7-7.7 .7 2.6 .7 5.3 .7-9.3 .7 .2 .7-2.5 .7 .2 .7 .7 .7 1.7 .7-7.4 .7 1.5 .7-8.8 .7 7.3 .7 5.4 .7-12.6 .7 4.7 .7-.2 .7 3.7 .7 2.5 .7-3.8 .7 .4 .7 3.3 .7-1.3 .7-1.8 .7 1.2 .7 .2 .7-4.1 .7-7.1 .7 5.7 .7-7.3 .7 20 .7-16.2 .7 10.2 .7 17.9 .7-13.1 .7 5.3 .7-5.8 .7-31.2 .7 48.8 .7-15.5 .7 17.5 .7-27.5 .7 1.2 .7-18.7 .7 8.9 .7 8.8 .7 13.4 .7-7.8 .7-22.3 .7 6.8 .7 21.9 .7-8.7 .7-9.4 .7 1.6 .7 .1 .7 7.6 .7-5.4 .7 4.1 .7-5.4 .7 2.8 .7-9.2 .7-3.9 .7 25.5 .7 15.1 .7-28.6 .7 2.5 .7 4.1 .7-13.1 .7-8.5 .7 13.8 .7 7.5 .7-1.6 .7-.1 .7 1.8 .7 .5 .7-.1 .7-.6 .7-3.7 .7 1.6 .7-.8 .7 5.2 .7-2.1 .7-4.5 .7 5.7 .7-3.3 .7 2.9 .7 12.5 .7 9 .7 4.4 .7 12.3 .7-12 .7-6.8 .7 8.8 .7-30.3 .7-20 .7-8.2 .7 8.1 .7 35.8 .7-7.2 .7 0 .7 4.4 .7 4.8 .7-18.7 .7-2.4 .7 5.9 .7-7.8 .7 5.2 .7-14.6 .7 2.8 .7 2.2 .7 14.8 .7 15.5 .7-15 .7-5.2 .7 24.9 .7-18.5 .7-33.2 .7 36.9 .7-4.2 .7-29.9 .7-5.1 .7 28.2 .7-28.6 .7 23.1 .7 7.5 .7 15.7 .7-20.6 .7-22.3 .7 50 .7-8.7 .7 9.3 .7-11.3 .7-15.7 .7-2.3 .7 10.9 .7-13.4 .7 6.5 .7-10.6 .7 28 .7-3.3 .7-27.3 .7 21.9 .7 7.6 .7-7.5 .7-9.7 .7-4.4 .7-8.3 .7-.7 .7 11.2 .7-7.1 .7 5.2 .7-.1 .7-9 .7-3.3 .7 13.6 .7-15.2 .7 6 .7 7.7 .7 9.7 .7-16.8 .7-9.5 .7 7.7 .7 9.4 .7-16.1 .7 9.9 .7 21.7 .7-27.8 .7 43.5 .7-1.6 .7-.1 .7-34.1 .7 1.3 .7 1.9 .7 7.6 .7 23.8 .7-10.1 .7-41.6 .7 10 .7 32 .7 12.1 .7-34.5 .7 23.4 .7 1.3 .7-12.1 .7-7.3 .7 28.3 .7-30 .7-9.7 .7 21.3 .7-33.6 .7 30 .7 5.7 .7-17.6 .7 14.4 .7 7.3 .7-6.5 .7 1.4 .7-3.2 .7-6.6 .7-1.5 .7 13 .7-15.1 .7-.9 .7-1.9 .7 2.5 .7 5.2 .7 .8 .7-.9 .7-.6 .7 2 .7-7.9 .7 3.5 .7 0 .7 13.7 .7 2.4 .7-14.6 .7 0 .7 9.3 .7-4.9 .7-1.7 .7-3.4 .7 .2 .7-.9 .7 3.5 .7-1.7 .7-.4 .7-1.5 .7-.2 .7 1.5 .7 1.7 .7-1.6 .7 1 .7-.7 .7-.6 .7-.4 .7-2.1 .7 .1 .7 0 .7 .8 .7 2.1 .7-1.8 .7 1.2 .7-.2 .7 1.4 .7-1.1 .7-1.5 .7 2.7 .7-1.4 .7 4.8 .7 11.9 .7 7.7 .7-14.3 .7-29.8 .7-15.6 .7 8.5 .7 15.5 .7 8.8 .7 .6 .7 .5 .7 2.8 .7-.4 .7-1.2 .7-.7 .7-1.7 .7 5.4 .7 1.4 .7-3.9 .7 .3 .7-4.8 .7-3 .7 10.6 .7 2.6 .7-.6 .7-12 .7 1.5 .7 4.9 .7-.9 .7 5.3 .7-6.2 .7 2.3 .7 .4 .7-1.1 .7-.6 .7 1.5 .7 7.7 .7-10.3 .7 7.1 .7-1.3 .7-4.2 .7 4.5 .7 1.6 .7-6.3 .7-3.3 .7 10.5 .7-2.4 .7 6.2 .7-10.6 .7-11.8 .7 4.4 .7 10.4 .7-2.6 .7-1 .7 0 .7-1.9 .7-2.1 .7 2.5 .7 1.8 .7-.8 .7 2.1 .7 .8 .7 .4 .7-3.1 .7-2.2 .7-9.2 .7-18.5 .7-16.7 .7 8.9 .7 21.5 .7 11.2 .7 4.9 .7-.5 .7 2.5 .7-2.7 .7 5.7 .7-.7 .7-3.6 .7-4 .7 4 .7 4.8 .7-4.6 .7 11.3 .7-9.7 .7-2 .7 .7 .7-2.5 .7 .1 .7 2.2 .7 4.4 .7-1.5 .7-3.9 .7 10.3 .7-.6 .7-7.2 .7-.6 .7-6.1 .7-.9 .7 7.3 .7 2.6 .7-7.4 .7 11.1 .7-12.1 .7-3 .7 8.1 .7-3.6 .7 1.3 .7 3.5 .7-.4 .7-2.9 .7 1.6 .7 1.1 .7 .4 .7-1.4 .7-.2 .7-.1 .7 .2 .7 .7 .7 .2 .7-.3 .7-.6 .7 .4 .7-.7 .7-.4 .7 .2 .7-.3 .7 .3 .7 .6 .7 .1 .7-.9 .7 .5 .7 .8 .7 3.6 .7 6 .7 .3 .7-7.8 .7-9.6 .7-11.3 .7-6.3 .7 7.1 .7 11.8 .7 4.6 .7 .5 .7 1.5 .7 .4 .7-1.6 .7 .4 .7 1 .7-1.9 .7 1.5 .7 .4 .7-1.2 .7-.3 .7-1.1 .7 .9 .7 1.3 .7 0 .7-.3 .7-.8 .7 .5 .7-.7 .7 .9 .7 1.1 .7 .2 .7-.5 .7-.6 .7-.3 .7-1.1 .7 .2 .7 1.4 .7-.8 .7 1.3 .7-2 .7 .8 .7 .8 .7-1.5 .7 .4 .7 .9 .7 4.1 .7 1.7 .7-6.3 .7-5.4 .7 .9 .7 3.3 .7-.4 .7 1.1 .7 0 .7-.3 .7 .4 .7 0 .7 0 .7-.3 .7 .2 .7 0 .7 .1 .7 .3 .7-.5 .7 1.1 .7 .6 .7-1.7 .7-1.4 .7 0 .7 1.3 .7 1.5 .7-.9 .7-.9 .7-1.3 .7 1.2 .7-1.3 .7 1.1 .7 .3 .7 .8 .7 .1 .7 .5 .7-.6 .7-.2 .7-1.1 .7 2.3 .7-1 .7 .1 .7 .8 .7-2.8 .7 .3 .7 .9 .7 1.4 .7 .2 .7 .2 .7 .4 .7-3.5 .7 .4 .7 .1 .7 2.7 .7-.1 .7-6.8 .7-6.7 .7-9.9 .7 12.2 .7 8.2 .7 3.1 .7 .7 .7 3.9 .7-7.3 .7 3.2 .7 8.1 .7-1 .7-7.5 .7 2.5 .7 .2 .7 2.2 .7-6.7 .7-.4 .7 1.1 .7 .4 .7-.4 .7-1.7 .7 0 .7-.1 .7 1.6 .7 0 .7 .5 .7-3.6 .7 .7 .7 9.6 .7-10.4 .7-5.4 .7 4.9 .7 3 .7-.5 .7 .9 .7-4.6 .7 .3 .7 6.6 .7-.5 .7-6 .7 8.6 .7-3.5 .7-3.2 .7 3.2 .7-1.7 .7-4 .7 2.7 .7-1.4 .7 4.6 .7-.3 .7 6.9 .7-8.4 .7 2.9 .7-1.4 .7-3.7 .7 11 .7-8 .7-4.7 .7 1.2 .7 11 .7-9.3 .7-3.1 .7 7.7 .7-4.1 .7-.2 .7 2.1 .7-.4 .7-2.6 .7 1.6 .7 1.2 .7 .6 .7-2 .7-1 .7 .8 .7 3.4 .7-.8 .7-1.4 .7 0 .7 .4 .7 1.1 .7-.7 .7-.9 .7 1.2 .7 .9 .7-1.2 .7-1.2 .7-.3 .7 3.3 .7 1 .7-2.7 .7-2.2 .7-1.9 .7 6.8 .7 .1 .7 4.9 .7-1.4 .7-12.8 .7 3.8 .7-1.5 .7 2.8 .7 2.8 .7-6.2 .7-.6 .7 2.2 .7-2.1 .7 3.3 .7 1.3 .7-.6 .7-4.1 .7 4.9 .7-4.9 .7 .2 .7 3.7 .7-7.9 .7 8.1 .7 2.6 .7-4.9 .7 2.8 .7-1.6 .7 2.2 .7 3.7 .7-6 .7 3.2 .7-4.4 .7 4.1 .7 3.4 .7-5.2 .7-8.1 .7 2.8 .7 10.8 .7 15.9 .7-25.7 .7 1.6 .7-5.4 .7 11.1 .7-.8 .7 1.1 .7-4.5 .7 2.6 .7 .3 .7-9.4 .7 9.6 .7-3.2 .7 .1 .7 7.9 .7-20.2 .7 14.4 .7 5.9 .7-14.1 .7 5.6 .7 8 .7 1.3 .7 6.6 .7 10.4 .7-47.2 .7 .5 .7 27.9 .7 14.7 .7-29.1 .7-13.6 .7 .8 .7 8.1 .7 14.3 .7-5.3 .7-1.1 .7 2.8 .7-8.6 .7-3.4 .7-4.3 .7 3.9 .7 15.6 .7-.1 .7 4.3 .7-6.7 .7 6.8 .7-14.9 .7 16.9 .7-8.3 .7-1.8 .7-2.9 .7-11.2 .7 17.9 .7 2.5 .7-4.8 .7 7.3 .7-9.4 .7-13.5 .7 14.6 .7 1.1 .7-.8 .7 3.6 .7 4.9 .7 .7 .7-14 .7 7.5 .7-.4 .7 4 .7-1.4 .7-2.9 .7 1.4 .7-3.1 .7 0 .7 4.9 .7-8.5 .7 5.2 .7-3.4 .7 13.1 .7-7.3 .7-8.5 .7 6.4 .7 1.3 .7-2.5 .7-15.7 .7 17.2 .7-4.3 .7 9.4 .7-1.3 .7-9.1 .7-3.1 .7 18.3 .7-11.5 .7 .6 .7 1.3 .7 .8 .7 2.1 .7-4.5 .7 2.9 .7-.1 .7 .6 .7 1.7 .7-1.4 .7 2 .7-1.3 .7-3.1 .7 1.1 .7-.1 .7 .1 .7-1.2 .7-.1 .7 .5 .7-.2 .7 1.8 .7-1.6 .7 .1 .7 .4 .7-1 .7 .2 .7 .6 .7 0 .7-.2 .7 .2 .7 .2 .7 .2 .7-.6 .7 .3 .7-.1 .7-.2 .7 .1 .7-.2 .7 .2 .7 .3 .7-.4 .7 0 .7 0 .7-.6 .7-3 .7-10.1 .7-16.8 .7-11.3 .7 6.8 .7 17.3 .7 12.1 .7 4.9 .7-1.4 .7-6.2 .7-6.8 .7 2.8 .7 7.6 .7 4.2 .7 .2 .7 .8 .7-.2" fill="none" stroke="#0072bd" stroke-width="2.15" stroke-linejoin="round"/>
<path d="M157 1975.6l.7 6.3 .7-9.9 .7 12.1 .7-5.9 .7 3.1 .7 10 .7 1.5 .7-10.3 .7-7.9 .7-7.5 .7 20.1 .7-6.2 .7-5.7 .7 2.8 .7 3.2 .7-15.9 .7 4.2 .7-7.9 .7 3.3 .7 .5 .7 6.3 .7 17.3 .7-20 .7-2.5 .7 6.8 .7 2.2 .7 5.5 .7-.9 .7-13.5 .7 13.1 .7 6.8 .7-10.3 .7 1.4 .7-.1 .7-3.6 .7 9.2 .7-8.7 .7 2.3 .7 2 .7-.4 .7-3 .7-8.9 .7 7.3 .7 .4 .7-2.9 .7 1.9 .7-.1 .7 8 .7 2.2 .7-6.8 .7 4.2 .7-2.3 .7 9.9 .7-31.3 .7 13.1 .7 17.4 .7-6.9 .7-11.8 .7 5.5 .7 11.5 .7 6.8 .7-22.9 .7-5.2 .7-2.3 .7-18.9 .7 20 .7-3.7 .7 22 .7-7.5 .7 4.8 .7 9.8 .7-16.9 .7-1.9 .7 13.1 .7-13.6 .7-4.9 .7 15.8 .7-6.1 .7-3.2 .7-.4 .7-8.5 .7 7.3 .7-.2 .7 4.8 .7 3 .7 1 .7-5.4 .7 .8 .7-3.4 .7-5.6 .7 4.8 .7 1.5 .7 8.6 .7-1.1 .7-.6 .7 5.8 .7-13.5 .7 4.3 .7-3.8 .7 3.4 .7-2.1 .7 9.2 .7 4.2 .7-5.9 .7-3.2 .7-6.9 .7 6.2 .7 1.4 .7 0 .7-2.2 .7-.5 .7-2.1 .7 2.1 .7-.3 .7-2.4 .7 3.5 .7 .4 .7-5.4 .7 3 .7-6.9 .7 6.9 .7-2.3 .7 6.2 .7-1.5 .7 .4 .7 2.3 .7-4.1 .7-4.4 .7 6.4 .7 .2 .7-3.5 .7 5 .7-1 .7-1.5 .7 .7 .7-1.3 .7-.2 .7 2.8 .7-2.2 .7 1.4 .7-.2 .7-3 .7 6.4 .7 .1 .7-2.6 .7-8.1 .7 4.6 .7-2.3 .7-1.9 .7 2.4 .7 5.9 .7-1.6 .7 1.5 .7-1.6 .7-.4 .7 1 .7-1 .7-7.3 .7 5.4 .7 1.4 .7-6.1 .7 4.9 .7-.9 .7 2.5 .7 3.7 .7-6.4 .7 2.8 .7 .4 .7-1.3 .7-.1 .7 2 .7-1.5 .7 .8 .7-2.6 .7 1.8 .7-2.2 .7 2.6 .7 2.3 .7-2.9 .7-1.6 .7 3 .7 .5 .7-3.4 .7-1.3 .7 5.1 .7-.2 .7 1.6 .7 .1 .7-4.3 .7-.4 .7 1.6 .7-1 .7 4 .7-3 .7 .2 .7-1.9 .7 6.3 .7-5.5 .7-2.7 .7 .1 .7-.5 .7 8.4 .7 1.4 .7-10.3 .7-3 .7 8.2 .7-12.7 .7 8.2 .7 1.7 .7 7 .7 3.6 .7-3.3 .7-15.8 .7 16.3 .7-20.4 .7 3.7 .7 13.6 .7 2.1 .7-11.1 .7-8 .7 5.4 .7-.3 .7 9.7 .7 2.5 .7 .4 .7-2.7 .7 .1 .7 3.5 .7-6.5 .7 2.3 .7 .8 .7-2.3 .7 7.2 .7-5.1 .7 9.1 .7-1.4 .7-9.8 .7-4.5 .7 6.2 .7 3 .7 2.3 .7-3.8 .7-.5 .7-2.2 .7-1.9 .7 2.1 .7-.3 .7-1.1 .7 3.8 .7-1.6 .7-3.3 .7 2.5 .7 5.2 .7-5.5 .7 .5 .7 .3 .7-1.7 .7 1.2 .7 1.7 .7-5 .7 2.9 .7 5.3 .7-16.2 .7 11 .7 16.6 .7-11.4 .7 5.2 .7-22.6 .7 3.6 .7-8.1 .7-7.8 .7 18.9 .7 3 .7 14.4 .7-3.8 .7-9.9 .7-9.5 .7 16.1 .7-29.4 .7 35.1 .7-32.2 .7 29.8 .7 9.8 .7-7.3 .7 14 .7-17.2 .7-30.9 .7 12.9 .7 13.8 .7 2.1 .7 3.9 .7-9 .7-4.6 .7 13.3 .7 1.9 .7-6.4 .7-8.6 .7 7.2 .7 3.4 .7 3.9 .7-3.8 .7-11.6 .7 5.4 .7-.6 .7-3.3 .7 3 .7 2.8 .7-8.6 .7 4.3 .7 2.5 .7 1.8 .7-1.4 .7-6.5 .7 5.9 .7-1.4 .7 2.4 .7-1 .7 .4 .7 1.7 .7-.6 .7-2.6 .7 2.1 .7-1.7 .7-.3 .7-1.3 .7 2.3 .7-.8 .7 3.5 .7 .7 .7-2.2 .7-2.4 .7 3 .7-5.6 .7-.6 .7 2.3 .7 2 .7-6.5 .7 7.2 .7 2 .7-3 .7-7 .7 .1 .7 2.2 .7 6.1 .7-3.2 .7 9.9 .7-.8 .7-8.1 .7 4.8 .7 6.3 .7-5.2 .7-5.5 .7 2.1 .7-9.6 .7 2.3 .7 3.7 .7-9.3 .7 4.3 .7 10.8 .7-13.8 .7 10.1 .7 11.7 .7-19.6 .7-4.1 .7 3.6 .7 6.9 .7 5.7 .7-11.7 .7 6.6 .7-2.3 .7-2.4 .7 4.5 .7-2.8 .7 2.7 .7 1 .7 2.5 .7-5.5 .7 2.2 .7 11.9 .7-5.2 .7-11.9 .7 6.6 .7 8 .7-9.1 .7-10.9 .7 6.7 .7 11.9 .7 4.6 .7-9 .7 6.1 .7-8.7 .7 9.2 .7 3.5 .7-9.8 .7-12 .7 21.5 .7 .7 .7-.9 .7-16.3 .7-2.2 .7 9.5 .7-14.1 .7 1 .7 7.4 .7 1.1 .7-2.8 .7 12.5 .7-17.4 .7 9.2 .7 1 .7-7.8 .7 12.2 .7-.6 .7-15.3 .7 2.7 .7 14.2 .7-3.7 .7 2.3 .7-5 .7-2 .7-1.7 .7 3.2 .7-.8 .7 2 .7-1.8 .7 4.6 .7-3.8 .7-.5 .7-2.8 .7 8.2 .7-2.1 .7-2.5 .7 1.1 .7 .1 .7 .2 .7-2.9 .7 2.9 .7-8.2 .7 9.6 .7 1.2 .7-9.3 .7-1.1 .7-1 .7-.4 .7 15.3 .7-8.5 .7 21.9 .7-32.3 .7 17.5 .7 4.7 .7-28.8 .7 .8 .7 35.8 .7-37.1 .7 1.9 .7-11.2 .7 39.6 .7-13.9 .7 18 .7-6.5 .7-15 .7 6.1 .7 .6 .7 10.5 .7-.4 .7-7.4 .7-10.6 .7 1.5 .7 4.3 .7 1.7 .7 1.2 .7-5.2 .7-.4 .7 8.5 .7-3.4 .7-.6 .7 3.4 .7-6.5 .7 2.1 .7 5.2 .7-10 .7 5.1 .7 .2 .7 1.8 .7-1.9 .7 3.3 .7-10.6 .7 5 .7 1 .7 6 .7-2.2 .7-9.5 .7-3 .7 6.4 .7 11.7 .7-7.5 .7 3.3 .7-9.4 .7-1.2 .7 11.3 .7-4.1 .7-11.6 .7 9.5 .7 1 .7-8.1 .7 7.4 .7-2.7 .7-4 .7 5.5 .7 1.6 .7 .8 .7 7.2 .7-8.9 .7 .9 .7 1 .7-4.5 .7 6.9 .7 10.5 .7-14.6 .7 2.4 .7-5.5 .7 20.3 .7-12.4 .7-6.3 .7-.5 .7 .2 .7 7.8 .7-2.6 .7-1.3 .7-1.6 .7 11.6 .7-7.5 .7 9.8 .7 1.2 .7-15.8 .7-9.7 .7 21.6 .7-12.3 .7-11 .7 15.7 .7-9.5 .7 4 .7-6.5 .7 12.7 .7 .8 .7-3.5 .7 4.5 .7-12.7 .7-3.9 .7 12.6 .7-4.6 .7 .7 .7 2.8 .7-2.9 .7 10.3 .7-4.1 .7-14 .7 5.2 .7-.7 .7 3.6 .7-1.9 .7 7.5 .7-1.2 .7 7 .7-19.2 .7 14.1 .7 2.2 .7-4.3 .7-2.1 .7-1 .7 5.9 .7-3.9 .7 5.6 .7-16.3 .7 10.5 .7-12.6 .7 1.2 .7 11.9 .7 3.6 .7-3.1 .7 4.1 .7-5.6 .7-14.1 .7 15.5 .7-2.6 .7 4 .7 3 .7-2.6 .7-4.5 .7-2.1 .7 11.2 .7-9.5 .7-12.8 .7 20.3 .7-2.2 .7 5.5 .7-2.2 .7-12.6 .7 10.3 .7 14 .7-21 .7-8.4 .7 5.5 .7-5.8 .7 20.2 .7 9.2 .7-19.8 .7-.2 .7-4.8 .7 5.4 .7 8.4 .7-18 .7 19.9 .7 6.6 .7-13 .7-5.8 .7 4.3 .7-18.5 .7 10.6 .7 5.5 .7-1.6 .7 3.7 .7-6.4 .7 3.6 .7 3.7 .7-4.5 .7 9.3 .7-14.3 .7 9.9 .7 4.4 .7-18 .7 12.9 .7-2.9 .7 4.9 .7-5.4 .7 2.1 .7 1.1 .7-4 .7 5.6 .7-.9 .7-2.4 .7-.9 .7 2.8 .7 3 .7-3.2 .7 .4 .7-6.7 .7 .9 .7 0 .7 8.3 .7-12.8 .7 9.9 .7-10.6 .7-3.9 .7 18.3 .7 5.9 .7-24.8 .7 5.9 .7 9.8 .7 8.9 .7 9.9 .7 4.3 .7-37.5 .7 14.5 .7 5.7 .7-11.2 .7-7.1 .7-4.3 .7 18.1 .7-2.1 .7-3.4 .7 12.5 .7-.6 .7-5.4 .7-11.3 .7 1.6 .7 13 .7 2.6 .7-12.6 .7 8.1 .7-6.7 .7 .3 .7 5.9 .7-4.9 .7-3.5 .7-2.4 .7 4.3 .7 2.9 .7-4 .7 3 .7 4.7 .7-5.5 .7 1.7 .7-1.9 .7-2.7 .7 2.7 .7-2.4 .7 6.3 .7-2.2 .7-4.8 .7 .4 .7 7 .7-1.3 .7 1 .7-6.1 .7 1.1 .7 4.8 .7-7.5 .7 4.9 .7 4.6 .7-.1 .7-3.9 .7-1.1 .7-1.4 .7 1.4 .7-6.1 .7 10.9 .7 .3 .7 .2 .7 .7 .7-5.4 .7-.1 .7-1.1 .7 1.2 .7 3.6 .7 1.1 .7-2.1 .7-3.5 .7 1.7 .7-1.1 .7 .1 .7 3.2 .7 2.6 .7-1.2 .7-.7 .7-4 .7-3.8 .7 3.8 .7 .2 .7-2.9 .7-1.9 .7 5.1 .7 0 .7-1 .7-1.7 .7-1.5 .7-.4 .7 6.1 .7-2.6 .7-1.4 .7 0 .7 2.6 .7-.3 .7-.5 .7 1.6 .7-2 .7 1.3 .7-1.2 .7 .2 .7-.3 .7 .7 .7 1.3 .7-.7 .7-2.8 .7 .7 .7-3.9 .7 6.7 .7 2 .7-3.9 .7-8.4 .7 17.7 .7-11.4 .7-7.9 .7-.1 .7-.2 .7 3.8 .7 1.7 .7 8.5 .7-2.4 .7-4 .7-5 .7 4.3 .7-1.9 .7 6.6 .7 6.6 .7-8.8 .7 2.8 .7 4.2 .7-2.8 .7-2.5 .7-1.5 .7 2.4 .7 3.2 .7-7.4 .7 5.9 .7-2.2 .7 1.8 .7-.6 .7 2.3 .7-10.3 .7 5.1 .7 2.7 .7 3.3 .7-3.2 .7-.8 .7-2.3 .7 12.6 .7-9.3 .7-5.7 .7 4.9 .7 10.6 .7-21.5 .7 7.2 .7-.3 .7 19.1 .7-39.5 .7 47.7 .7-8.1 .7-3.5 .7-36.5 .7 28 .7 1.4 .7 18.8 .7-2.1 .7-37.2 .7 33.4 .7-36.1 .7-6.2 .7 34.5 .7-30.3 .7-1.7 .7 41.4 .7-18.9 .7 10.7 .7 1.8 .7 3.6 .7-6 .7-6.2 .7-7.1 .7 7 .7-7.7 .7-3.9 .7 1.6 .7 5.7 .7-.5 .7 .2 .7-.8 .7 1.2 .7-.6 .7 .4 .7-.7 .7-.4 .7 0 .7 .1 .7 0 .7-.2 .7 1.9 .7-1 .7-.7 .7-1.3 .7 1.4 .7-.7 .7-.2 .7-.1 .7 1.1 .7-1.8 .7 1.5 .7 1.2 .7-1.1 .7-1.4 .7 .9 .7-.4 .7-1.1 .7 2.8 .7 .9 .7-.7 .7-.9 .7-2.9 .7-2 .7 6.4 .7 1.5 .7-3.5 .7 2.5 .7-.6 .7 .2 .7-.2 .7-3.8 .7 1 .7-1.5 .7 1.9 .7 2.6 .7-.6 .7-1 .7-.8 .7-.1 .7-.3 .7 1.9 .7-1.3 .7-.9 .7 .5 .7 1.2 .7 .9 .7 .4 .7-2.5 .7 1.3 .7 .1 .7-.7 .7 1 .7-.2 .7-.6 .7-.4 .7 1 .7 0 .7-.2 .7-.5 .7-.4 .7 .5 .7-.2 .7-.4 .7 1.2 .7-.9 .7-1.1 .7 .8 .7 1.1 .7-.7 .7 0 .7-.5 .7 .9 .7-.3 .7 .2 .7 .6 .7-.5 .7-.3 .7 .5 .7-2.3 .7 2.3 .7 2.6 .7-2.5 .7 .4 .7 4.7 .7-1.8 .7-6.5 .7 4.1 .7 2.2 .7-7 .7 5.7 .7-11 .7 13.4 .7-.5 .7 1.9 .7-.5 .7-9.3 .7-.8 .7-1.4 .7-6.2 .7 11.1 .7-2.6 .7 12.3 .7-14.7 .7 2.9 .7-4.9 .7-4.1 .7 12.5 .7 10.7 .7-15 .7 6.4 .7-5.5 .7-.4 .7 8.4 .7-5.9 .7 .3 .7 8.2 .7-6 .7 2.2 .7-10.1 .7 6.8 .7 9.7 .7-16.7 .7 10.3 .7-7.9 .7 15.1 .7-15.8 .7 16 .7-6.2 .7-5.1 .7-7.5 .7-1.2 .7 7.9 .7 11.3 .7-11 .7 7.3 .7-11.9 .7 13.5 .7-16.3 .7-.6 .7 5.9 .7 7 .7-5.8 .7-3.2 .7 3.9 .7 2.3 .7 2.4 .7-3 .7 .6 .7-1.8 .7 3.2 .7 1.1 .7 .3 .7-2.6 .7-7.3 .7 14.9 .7 2.2 .7-14.7 .7 3.2 .7 3 .7-9.2 .7 18.6 .7-13.1 .7-10.7 .7 23.4 .7-1.6 .7-23.2 .7 20.4 .7-20.2 .7 13.7 .7 10.7 .7-1 .7-.2 .7-8.8 .7 7.4 .7-3.2 .7 2.3 .7-10.1 .7-9.8 .7 1.6 .7 9.5 .7 1.8 .7 6.3 .7-2.9 .7-9.6 .7 16.4 .7-7.2 .7-4 .7-.2 .7-2.3 .7 14.6 .7-17.2 .7 13 .7-17.9 .7 7.5 .7-7.3 .7-2.1 .7-1 .7 6 .7 19 .7-9.8 .7-6.8 .7-3 .7 11.7 .7-6.4 .7 12.7 .7-14.3 .7 8.9 .7-.4 .7-5.8 .7-1.3 .7-2.2 .7 5.3 .7 1.2 .7-3.2 .7 .8 .7-2.3 .7 2.4 .7-2.3 .7 2.7 .7-1 .7 .5 .7 1.8 .7-1.2 .7 1.2 .7 0 .7 .9 .7 3.5 .7-4.8 .7-2.4 .7-.7 .7-3 .7 2.5 .7-7.6 .7 8.5 .7 8.4 .7-5 .7-3.2 .7 4.9 .7-1.5 .7-7.6 .7 3.3 .7 1.3 .7-2.8 .7 2.6 .7-2.2 .7-7.5 .7 6 .7-14.8 .7 23.9 .7-5.6 .7 14 .7-10.7 .7 .4 .7 5.8 .7-12.5 .7-.5 .7 6.4 .7-4.3 .7-.2 .7 2.2 .7-10.4 .7 12.5 .7-8.1 .7-6.4 .7 9.4 .7 7.6 .7-10.9 .7 9.5 .7-4.7 .7 24.8 .7-10.2 .7-1.7 .7-19.9 .7-.7 .7 10.1 .7-7.8 .7-16.1 .7 5.6 .7 8.6 .7-11.4 .7 38.6 .7 .3 .7-27.1 .7 31.8 .7 3.6 .7-50 .7-5.3 .7 31.3 .7 21.3 .7-36 .7 14.7 .7-30.8 .7 .2 .7 24.2 .7-9 .7 22.8 .7-33.5 .7-4.1 .7 31.6 .7-2.6 .7 .7 .7-10 .7-1.5 .7 1.3 .7-2.2 .7 1.5 .7 7.1 .7-14.4 .7 16.8 .7-5.7 .7 3.5 .7-2.4 .7 5.9 .7-1.4 .7-1 .7 2 .7-.4 .7 .8 .7-6.5 .7 11.9 .7-6.6 .7-3.8 .7-3.3 .7 7.6 .7-7 .7-2.5 .7 20 .7-4.1 .7 4.6 .7-11 .7-3.7 .7-8 .7 9.3 .7 13.1 .7-7 .7 2.5 .7 4.4 .7-22.7 .7-.1 .7 7.6 .7-3.7 .7 .5 .7 1.5 .7 12.1 .7-5.6 .7 3.4 .7-2 .7-2.4 .7 6.8 .7-7.9 .7 2.8 .7-4.9 .7 3.7 .7-2.2 .7-2.9 .7 3.1 .7 .3 .7 1.2 .7 1.6 .7 .3 .7 1.5 .7-6.8 .7 1.8 .7 2.2 .7-1.2 .7 1.9 .7-2.4 .7 1.3 .7-.6 .7 2.5 .7-1.1 .7-2.6 .7 4.2 .7-2.8 .7 2.3 .7-.7 .7 1.5 .7-7.2 .7-5.6 .7 6.9 .7-1.8 .7-.2 .7 10.1 .7 6.4 .7-.3 .7-12.2 .7-8.2 .7-3.5 .7 6.4 .7 13.8 .7-18.6 .7 6.8 .7 5.2 .7 .5 .7-1.3 .7-8.1 .7 14.3 .7-1.1 .7-1.7" fill="none" stroke="#0072bd" stroke-width="2.15" stroke-linejoin="round"/>
<rect x="754.8" y="1410.2" width="55.8" height="659" fill="none" stroke="#231f20" stroke-width="2.9"/>
<path d="M754.8,2069.2L179,2235.5" fill="none" stroke="#231f20" stroke-width="2.9" />
<path d="M810.6,2069.2L908.6,2240" fill="none" stroke="#231f20" stroke-width="2.9" />
</g>
<!-- panel G -->
<g>
<text transform="translate(1073.8,1395) scale(0.965,1)" font-size="89.5" fill="#231f20" stroke="none">G</text>
<text x="1358.3" y="1366" font-size="23.2" fill="#231f20" stroke="#231f20" text-anchor="middle" >Y velocity-acceleration profile</text>
<g stroke-linejoin="round">
<path d="M1410 1541l10-9-4-13 8-9-15-18-1-2-16-14-15-3-10 5-24-13-21 14-5 4 1 14-3 16-3 15 1 9-2 15 5 7 19 15 15 7 21-6 15-4 8-8 4-2 7-12 M1364 1516l-1-2-6-2-5 1-4 0-6-1-6 3 1 4 1 1 3 4 1 2 5 0 3 0 5 1 7-3 1-1 3-4-4-2 M1312 1491l-3 13 4 7-1 9 11 12 4 4 20 7 6-4 14-1 21-3 0-1 13-9-6-14-1-10-2-10-13-2-6-5-23-2-12 4-11-2-11 11 M1310 1495l-4 17-9 11-6 6 20 15 12 10 12 4 21-3 14 4 10-13 14-11-1-15-8-11-16-16-12 1-21-5-13 11 M1392 1523l-4 0-1-7-7-2-3-2-7-1-8-3-4 1-5-1-9 4-6 0-3 5-7 3 0 6 6 4 2 2 4 3 7 3 7 1 2 2 10-3 4-2 12-1 5-4 4-3 0-2 M1345 1501l-12 8-13 2-2 12-1 8 6 11 8 6 15 2 6 6 14 2 11-8 2-6 5-10 1-15-3-7-8-6-13-7-9 3-13-3 M1370 1549l-3-5 11 3 14-9 8-4-1-12 0-4-3-12-5-11-12-2-2-2-13-8-16 4-13 5 0 3-11 4-1 13 1 5-2 6 1 14 4 0 13 5 14 5 6 2 M1371 1561l10-5 9 3 4-9 16-18 3-2-4-11-4-10-8-11-5-9-4-2-16-1-12-3-13 5-5 4-14 6-3 9-2 13 2-2-8 18 11 7 8 8 5 7 6 6 17-5 10 6 M1308 1519l-6 4 16 11 10 10 1 12 24 2 4-2 14 1 14-11 15-9 0-8 6-14 2-3 3-15-19-12 7-3-24-9-10 4-12-1-15-1-11-3-16 16-12 7 3 15-4 8 M1343 1516l-5 5-4 4 3 7-2 2 6 6 9 2 3 0 5 0 6-4 2-5 2-6-5-6 1-4-7-3-10-1-4 3 M1411 1503l-16-25-12-6-16-11-15 4-23 3-18 18-10 20 1 11 2 26 13 16 11 10 20 8 27 2 7-9 14-7 7-24 7-15 2-25 M1344 1512l-5 1-3 1-3 3-3 1-1 3 1 2-1 0 4 3 2 3 3-1 3 2 3 2 5-2 4 0 3-3 0-2 1-2 0-2 0-2-3-2-3-3-1-3-3 2-3 0 M1383 1517l-4-7-3-5-11-7-9-4-6 3-14 1-7 4-1 9-8 2-2 8 0 8 5 4 8 8 6 3 10 4 6-1 10 0 4-8 9-1 8-10-7-10 M1339 1486l-14 5-24 6-5 1-11 13 12 14 1 11 8 12 27 14 6 1 24-7 7-4 22-4 8-17 6-13 2-5-20-21-14-1-11-2-22-1 M1367 1504l-7-11-17 1-17 12-11 6-4 8 3 13 5 6 7 11 9 4 14 5 20-6 4-5 11-9 5-8 3-11-14-10-8-10 M1340 1556l12 0 22-2-9 2 15-10 4-5 19-7-6-9 8-11-11-8-14-1-6-14-4 2-15 1-14-5-14 8-3-2-14 4-7 14 1 8 0 5 8 15 8 4 8 4 9 5 M1378 1512l-6-5-9 0-8-4-15 8-7 4-2 8-2 7 6 10 10 7 8 7 8-5 15-9 4-2 3-6 1-12-10-6 M1356 1559l13-6 11-3 2-2 11-10-2-9 3-9-5-8-9-4-12-5-5-6-23 8-5 5-12 9-2 4 4 7 8 14-6 4 13 7 18 4 M1436 1517l5-14-15-15-16-12-21-3-14-6-22 9-22-1-8 9-16 2-16 20 2 2-8 21 24 16 13 12 14 3 7 3 9 8 27-11 27 5 17-11 5-9 4-16 5-16 M1297 1520l9 14 7 9 8 4 24 1 16-1 13 1 10-9 19-7-10-17 1-7-16-7-12-14-21 0-11 10-23 6-6 10-7 4 M1307 1560l10 7 25 5 13 11 19-17 20-3 14-13 7-13-7-12-3-18-7-14-20-10-8-6-27 1-12-3-16 13-6 10-8 20-5 8 12 23 8 7 M1374 1546l11-8 13-6 3-10-3-6 6-7-12-8-7-5-26-2-6-2-20 5-3 1-14 5-5 13-4 5 14 10 4 5 12 9 6-4 19-1 16 4 M1351 1522l-4 3 1 2 1 3 0 2 5 2 5 1 4-1 6-1 3-2 2-2-1-3-4-3-5-1-4-1-3 1-5 1 M1317 1535l3 12 10 8 18 5 20 4 12 0 21-4 22-10 5-7 0-5 0-14 13-11 3-13-15-11-2-10-33-8-11 8-20-11-8 8-11-1-25 12-12 10-15 10 1 9 17 11-6 9 M1422 1527l-7-16-3-9-18-3-7-6-17 0-12 2-16 0-8 9-5 3-7 14 12 10-10 7 13 9 5 2 27 4 16 3 16-8 8-10 8-2 7-10 M1341 1523l0 7 8 7 6-1 6 3 10-1 3-4 10-5 3-4-4-8 1-6-4-3-1-4-10-5-11 2-5 1-10 3-1 8-3 1 5 8 M1343 1520l-2 5 1 3 0 3 3 3 5 2 3 3 8-3 3-2 2-3 1-5-1-3-5-5-2-1-5-2-7 4-2 1 M1303 1522l-6 14 9 14 17 2 23 12 15-3 26-1 8-9 16-14-4-10 9-11-10-12-16-12-10-5-30 3-10-1-19 14-11 5-4 11 M1388 1516l2-8-3-5-1-2-9-6-9-3-5-5-6-5-12 8-4 4-2 9-10 4 4 9 0 3 6 10 2 2 12 7 9-1 8-3 6-4 3-5 6-7 M1416 1530l2-11-2-16-16-13-9-6-18-1-25 4-20 1-6 11-6 11 1 26 20 8 10 4 22 5 16-6 16-8 11-13 M1334 1549l17 4 21-1 5-3 22-13 4-14-9-15-11-14 4-17-22 6-23-6-4 4-20 17-2 7-9 26 8 6 21 9 M1369 1522l-2-2 0 0-4-1-5-2-4 0-3 2-4 2-1 2-3 3 2 3 1 3-1 2 5 6 0-1 4 2 5 1 2 0 5-3 2-2 3-2 1-1 0-3-2-4 1-3 M1320 1498l-2 7-6 9 4 3-4 9 5 5 17 5 15 4-1 2 18-1 8-4 17-4-2 2 8-9 1-10 2-6-7-6-3-2-11-7-9-5-24 0-5 3-10 4-7 3 M1296 1544l15 13 16 6 15 2 16 3 19-11 10-7 17-6 15-10-4-14-2-16-5-10-13-9-20-4-12-5-16-3-22 6-12 9-15 19-11 13 0 9 20 11 M1364 1499l-10-2-7 3-12 2 3 3-9 6-4 6-1 9 2 4 4 7 6 5-1 3 11 3 8-1 10 3 4-1 13-4 5-4 1-9 4 0-2-13-1-7-4-2-7-7-9-4-11 2 M1354 1513l-3-6-3-2-9 0-9 1-5 1-4 5-4 3 1 6 2 4 1 5 0 3 7 2 2-1 9 3 7 0 7-6 5-1 5-3-3-7 0-4-4-3 M1353 1563l20 4 9-7 12-9 7-14 2-11-1-17-6-14-9-10-11-2-22 1-13 3-18 8-13 14-3 20 15 11 4 3 10 18 14 4 M1381 1479l-13-11-28 16-11 11-14 11 1 12 0 20 6 28 19-3 14 17 19-8 15-1 19-17 2-6-4-32-1-18-8-13-17-15 M1325 1510l-1 8-2 2 6 7 5 2 6 5 7 0 6 3 7-5 10-3 4-6 0-3 1-6 1-6-1-3-7-3-9-4-6-4-5 3-5 1-11 2-3 5-6 6 M1395 1556l11-20 0-4 14-22-10-12-19-7-18-17-28 3-18 5-24 12-11 7-3 23 6 16 17 19 19-1 16 7 24-1 29-7 M1387 1488l-11-1-11-11-14 8-13 3-17 11-7 7 4 18 1 12 8 6 6 20 12 5 12 3 12 7 18-15 7-5 9-6 16-18-9-9-1-13-3-15-17-5 M1338 1504l-8 5-4-1-6 11 3 3 0 3 8 4 6 6 10-1 6 2 13-2 4-3 5-3 4-6 3-7-5-1 0-7-13-3-4-5-9 1-13 1-8 2 M1398 1489l2-5-22-8-10-15-15 1-15 17-16 0-12 5-1-3-4 30-6 4 6 3 4 23 3 12 19-2 16 14 7 4 10-10 21-3 11 5 12-20 7-2 4-20 1-19-6-9-8-3 M1308 1525l0 15 8 1 5 10 17 8 18 3 16-3 11-8 7-9 9-15-6-7 6-12-15-8-8-7-12-4-16-8-11 10-13 4-18 11 2 3 0 15 M1339 1516l-2 9 5 2 1 5 1 4 6 4 4 5 3-2 9 2 7 1 7-3 5-6 5-1 2-7 2-4-1-5-2-4-5-4-5-3-4-4-8 1-5-4-10 4-4 2-1 4-7 7 M1365 1485l-17 2-12 3-6 12-13 12 0 8 3 6 5 13 3 16 19 1 4 10 22 0 3 2 15-11 8-10 12-6 5-10-1-17-4-5-9-11-12-8-6-5-20 2 M1378 1529l1-4-1-6-7-6-9-3-7-2-8 1-4 1-8 5-4 2 2 8-8 8 9 6 7 6 7 1 9 0 3 0 9-5 7-1 2-11 M1395 1522l1-12-12-13-7-15-20-3-10 0-17 10-13 4-9 15-1 3 3 26 1 7 17 13 11 1 22 3 13-7 12-9 13-16 0-15 M1405 1542l1-12 7-11-13-26-12-4-14-7-22 0-21 2-2 8-26 14 2 15 0 15-1 14 21 8 21 3 17 10 17-8 14-13 9-11 M1363 1549l15-3 10-10 7-13-8-15-3-12-19-8-10 0-13 0-19 6-6 4 3 22-4 14 3 12 12 8 15 0 19-4 M1358 1521l-3 1-2 1-3 4 1 3 2 4 1 1 4 1 4 1 4 0 3-1 3-2 1-2 1-4 0-2-3-2-3-3-2-1-4 0-5 1 M1369 1531l4-4 2-6 1-3-1-5-4-7-7-2-1-4-9 0-14 2-3 1-8 6-2 2-1 5 0 6 5 6 8 0 4 5 7 3 8-4 9-2 M1371 1584l10-4 30-9 6-14 9-7 11-22-14-19-21-8-11-5-20-20-15 0-22 8-24 7-6 10-11 19 6 12-8 16 9 22 19 12 27 3 25 1 M1301 1512l0 9 9 19 15 10 16 4 21 4 25-11 11-6 8-18-5-14-1-11-10-18-17-5-25-8-12 7-15 7-13 16-1 14 M1351 1516l4 4 0 3 4 2 5 4 4 1 3-2 6-1 3-2 5-5-2-6-1-1-2-3-8-1 0-3-8 0-4 3-5 3-1 3 M1348 1525l0 1 1 4 1 1 1 2 3 3 4 1 1-1 1 0 4 0 2-4 3-1 1-1-1-2 1-4 0-2-2-2-2 0-3-3-1 1-4-1-4-1-1 2-2 3-4 2-1 3 M1345 1497l-9-1-10 1-13 3-11 4 1 3-5 5 6 10 3 3 0 4 1 5 14 2 13 2 2 3 14-3 5-1 11-6 8-2 3-9-1-3-5-5-3-3 1-7-14-1-12-3 M1388 1519l-7-3-10-6-12-1-5-1-6 3-4 2-7 5-3 4-4 5-1 6 9 5-1 6 5 5 1 3 11 3 7-2 2-1 9 0 7-6 7-2 6-7 0-4-1-6-5-3-5-2 M1372 1503l-4-1-4 2-4-1-6 4-2 1-2 7 1 4 0 4 3 4 0 5 6 4 1-3 4 1 4 0 5-1 1-1 5-2 1-7 0-3 1-4-2-4-3-3-4-4-1-1 M1381 1516l-6-4-6-6-4-2-5-1-7-2-8 4-6 3-7 2 0 4-4 4 4 4 5 7 2 5 11 0 4 0 8 0 6-1 4-3 6-7 4-1-6-8 M1331 1496l-4 0-17 10 6 6-12 10 7 11 9 7 10 4 8 4 18 8 6-1 15-3 8-6 17-1 0-8 14-8-2-9-1-10-5-8-14-9-2-3-10-6-12-1-12-1-21 7-5 1 M1359 1488l-2 5-11 0-3-1-12 5-1 10-3 8 3 8 0 5 4 10 9 2 13 4-1 2 12-5 10-1 5-6 5 1 3-12 5-11-1-8-7 1-4-13-10-5-9 1 M1405 1537l11-8-10-8-1-12 2-9-12-7-16-13-22 6-4 3-28 1-21 6 1 11 4-4-14 20 5 9 9 11 15 7 12 0 2 12 22-8 22 2 5-13 14-7 M1306 1485l-26 22 5 17 24 32 19 7 15 18 20-9 46-3 14-9 2-21 13-18-16-38-24-10-19-1-33 5-16-8-31 27 M1361 1547l10 1 16-1 16 3 9-11 11-8 1-17-14-10-5-12-18 2-18-3-17 7-12 3-6 10-7 12-2 10 16 12 15 1 M1320 1512l-11 15 4 13 4 5 8 18 4 4 24 1 6 1 17-8 8-3 8-8-1-15 7-13-10-7-13-11-5-5-14-2-17 2-7 13-16-4 M1344 1569l22 0 15-1 8-17 19 1 3-15-1-27-7-16-16-12-17-15-12 11-18 3-23 1 1 10-18 15-4 16 15 16 6 21 7 9 17 1 M1338 1485l-9 13-17 3 14 18-7 11 6 10 3 5 17 3 8 5 22-3 3-3 12-5 3-9 9-12-7-9-8-12-4-13-8-1-12-2-18-2-8 4 M1341 1535l3 1 10 1 9 2 12 0 3-6 11 0 4-4 0-9-2-7-2-3-10-4-4-1-15-2 1-3-11 8-8-1-11 5 4 2-1 8 6 7 5 3 M1363 1536l5 0 1-1 3-2 3-3 5-3-2 0-1-5-2 0-2-4-3-1-5 0-3-2-2 2-7 1-3 1-1 2 2 5-1 1 1 2-2 4 3 0 5 2 0 1 7 0 M1377 1497l-16-5-11 2-17 2-13 4-2 7-13 7-9 10 10 12 4 7 15 10 18 10 7 3 21-2 11-4 20 1 10-13 3-11-6-6 9-14-8-9-17-7-7-8 M1332 1515l1 1-2 7 3 4 0 3 6 4 3 4 2 1 6-1 3-2 7 0 4-5 0-2 1-6-2-3 2-3-1-4-5-4 0-1-6-3-6-1-1 2-5 1-4-1-6 5-2 3 M1363 1526l3-1 5-2 2-2-1-6 3-2-3-5-2-1-9-3-1 0-4 1-2 3-5 2 0 3-2 4 1 4 5 3 1 2 4 1 4 0 M1374 1488l-17-1-15 5-20 0-7 6-10 13 7 5-5 16 8 7 8 8 16 7 14 7 5 2 24-3 16-9 5-5 8-11-1-11-3-14-14-6 0-11-20-2 M1426 1526l-15-12 7-13-23-13-14-8-20-6-6 4-25 6-6 10-23 14-3 17 1 7 11 10 23 10 20 9 13-5 10-1 27-9 9-6 6-20 M1376 1558l11-9 8-5 15-16 15-3-4-18-23-9-9-12-14-7-21-4-23 9-10-6-26 9 0 6-16 11-9 10 8 10 13 22 6 7 24 5 11 2 23 2 20-11 M1377 1506l-7-5-4-2-6 0-10 3-2-1-9 3-2 5-7 9 4 10 3 4 1 7 7 4 7 2 12-1 5-1 4-3 9-6 1-7-1-7-1-5-5-9 M1332 1563l10 4 21-1 22-4 10-10 5-19 6-10-14-12-15-12-16-6-18-1-21 7-9 7-7 14 6 15-4 12 18 12 M1363 1538l6-2 3-3 2-9 2-2-6-5-2-6-3-3-6-1-6 1-5 2-4 3-3 6-2 5-2 5 5 5 5 1 5 7 6-3 9 0 M1300 1539l14 3 20 11 11 2 29-10 7 1 13-6 16-11-1-10 2-7-11-14-18 2-21-10-14 0-20 1-14 5-12 10-4 9 0 9 4 12 M1333 1488l-13 9-1 15-1 11-5 7 3 15 17 6 9 9 17 4 14 2 13-9 18-6 4-4 10-16 1-11 1-17-13-7-11-4-13-12-17-3-12 11-13 0 M1387 1511l1-5-5-3 0-9-9-8-6-1-11-9-13 10-19 8-4-3-13 10 4 11-1 4-5 10 4 9 5 3 12 11 1 3 17-5 11 13 5-4 16-8 4-2 4-9 8-14-2-11 M1348 1475l-25 12 1 6-16 12 5 11-4 12 6 12 9 12 13 3 9 0 13 13 23-4 11-4 14-4 5-19 5-9-1-5 12-17-10-7-5-12-20-6-5-2-24-9-17 0-4 4 M1360 1528l-1 3 2 1 2 1 3 2 4 1 4 0 1-1 4-1 1-3 1-2 0-1 1-2-1-2-5-2 0-1-6 0-2 1-3 0-4 2 0 1-1 3 M1322 1508l-1 18 1 12 14 19 8 11 11 3 22 0 7-2 19-8 7-14-2-22 0-19-12-3-9-9-23-2-14 1-23-2 4 21 M1373 1512l-3-2-3-3-4 1-1-2-3-1-2 3-3 3-2 1 2 5-2 5 1 1 2 4 4-1 2 2 3 1 3-2 2 1 2-3 1-5 2-2 0-3-2-4 M1333 1531l6 1 6 1 7 0 4-2 8-3 6-1 1-5-2-5 3-4-5-2 2-4-10-6-3 2-5-2-10 3-4 1-4 1-5 4-1 3-2 5 3 5 4 6 4 1 M1313 1514l-7 21 4 4 16 12 11 8 22 2 24 2 8-13 18-10 2-23-1-8-9-12-22-12-13-6-21 3-12 6-18 10-11 16 M1356 1542l7-2 0 1 7-2 6-8-1-1 2-4-5-7-2-3-4-4-6 0-5 0-8-1-4 2-3 4-6 5 2 5 1 1 1 5 4 5 8 2 5 1 M1374 1510l-5-3-1 1-12-2-3 0-5 3-6-1-2 6-7 4 2 2 0 5 5 5 4 1 3 3 5 4 6 0 9 1 2-3 8-1 2-2 2-7 1-3-2-3 2-2-7-7 M1343 1560l15 4 31 4 3-5 15-2 5-28 12-8 7-7-1-14 1-19-16-6-23-13-10 3-21-7-10 4-19 5-16 6-10 18 7 18-15 9 11 9 1 14 13 9 12 7 M1381 1543l16-2 8-6 2-11 7-5-7-8-4-7-4-5-10-6-14-4-10-2-25 1-7 2-8 6-10 4-9 12-5 8 7 4 3 7 17 8 20-2 4 3 17 6 14-2 M1435 1542l-4-8-5-14-1-21-16-2-24 1-7-16-25 3-14-6-19 9-6 16-15 8 4 14-9 12 10 9 0 12 17 14 7 7 21-1 8 9 20-14 13-1 23-8 8-8-2-11 M1343 1512l0 4-1 1-3 4 2 2 0 4 5 1 0 2 4 1 4 2 5-2 2-4 3 1 2-3-1-2 3-2-3-4 2-4-5 0-1-2-4-3-2 1-5-1-2 2-4 2 M1363 1493l-18 2-16 5-7 9-9 6-4 12-4 8 9 14 2 4 12 4 16 5 12-5 18 6 12-3 4-20 8-9-2-5 1-12-10-10-13-4-25-1 M1306 1507l-8 9-4 10 6 8 0 11 9 7 16 2 19 3 11 1 22-6 10 1 9-10 3-10 2-8 2-11 0-6-24-2-9-2-16-2-20-4-20 4-8 8 M1331 1542l10 4 11 3 11-3 13-5 10-6 3-10-4-12-8-2-13-9-6 2-15-3-10 2-6 10-11 5-3 10 4 10 11 5 M1366 1506l-4-4-4-1-3 1-4-1-3 4-5 2-2 2 0 6 0 2 3 3 1 4 2 3 8 0 5 0 2-2 6 0 1-5 4-4-3-3 1-4-6-3 M1308 1504l-3 6 5 15 6 3 4 7 6 5 14 5 6-2 15 0 7-8 13-4 0-7 10-5-4-8-4-11-6-2-5-11-14 4 1-9-22 3-10 2-10 1-4 12-9 4 M1374 1550l10-2 7-2 8-5 1-4 5-5-6-6-7-6-4-5-12-2-8-1-10-1-7 7-11 5-3 3 0 7 4 4 7 2 6 9 2 1 10 1 11 3 M1335 1523l2 4 10 5 6 5 12-3 9-1 2-5 8-3 0-6-1-6-6-2-13-3-7 2-11-1-8 3-2 4 0 7 M1352 1481l-24 3-13 5-21 18 6 4-5 21 16 16 16 8 12 4 40-4 21-10 5-16-2-10 11-12-21-20-18-8-12-4 M1372 1512l-9-5-9-6-7 1-11 4-8 6-4 9 1 8 4 10 6 4 9 1 14 1 4-2 13-8 1-7 2-12-7-8 M1408 1542l0-19 2-17-2-10-15-6-15-20-20 2-23-3-11 9-17 11-12 11 3 25 7 5 10 20 7 5 21 3 16 4 26-4 14-4 9-14 M1323 1535l20 16 15-2 14 2 11-8 5 2 17-11 6-9-2-5-7-15-4-8-3 2-4-15-15 0-20-5-11 5-5 5-14 5-2 8-10 12 4 2-4 11 8 9 11 6 M1389 1524l1-3-4-5-3-1-6-8-6 1-7 1-7-1-2 0-11 10-2 2 2 2-5 4 5 5 0 5 9 2 1 7 5 2 5-1 5-1 8 3 4-5 6-2 2-7 5-3 1-4 M1333 1483l-8 8-7 0-25 7 4 8-4 8 1 14 9 7 5 6 0 9 36 6 10-1 12 2 14-2 13-6 13-7 12-5 5-11 10-6-18-19-1-6-13-1-9-3-17-16-18 6-22 0 M1361 1513l-5 2-4 0-1 3 0 1-1 6 1 2 4 3 3 1 4 0 2-1 2-1 3-6-1-4-3-2-2-2-2-1 M1348 1501l-6 2-6 0-13 11-3 3 1 12 2 10-1 7 7 1 4 11 6 3 12-1 11 3 4-9 6 0 0-8 9-8 0-3-3-8 0-9-5-9-9-4-7-3-9-4 M1346 1486l-8 2-17-4-1 11-13 0 4 13-13 9 6 8 0 9 2 12 4 9 13 3 19 5 2 3 10-7 9-1 10 0 2-11 4-11 8-11-6-5-1-17-5-7-6 0-13-4-11-7 M1388 1496l-4-8-9 3-9-5-13 3-10 2-6 6-7 5-9 0-1 20-2 7 9 9-2 7 13 0 14 6-1 1 18 3 5-3 9-1 7-8 4-6 9-10 2-2-6-12-3-4 2-16 M1326 1498l-5-2-11 24 8 13-3 14 13 7 4 16 20 2 13-7 15 5 5-9 10-13 10-2 6-18-4-12-6-21-11-7-12-4-21-10-2 6-18 1-11 9 M1397 1483l1-8-33 4-6-8-21 7-11 3-18 17-3 20 8 8-1 18-1 12 16 3 26 10 15 8 8 0 19-13 24-13-2-4 9-19-4-15 0-8-6-12-18-13 M1319 1509l-8 7-1 14 2 4-1 10 3 1 16 8 6 0 12 3 12-1 12 0 10-4 0-3 8-10 7-3-1-9-7-10 0-7-5-4-18-4-5-3-5 0-23-3-6 6-9 6-7 5 M1309 1528l11 13 6 6 14 8 18 8 19-11 11 2 13-16 3-10 9-18-11-16-10-3 1-14-27-9-11 7-15 4-13 6-26 19 5 10 4 13 M1292 1511l9 14 2 20 20 4 10 13 7-2 21 3 10-11 19 0 9-16 5-12-5-23-8-10-15-6-5-10-17-5-23 7 0-1-18 11-10 10 0 21 M1326 1501l-2 13 4 11-5 3 8 12 7 6 14 4 5 5 9-5 21-4 3-10 9-10 3-1-5-8-5-12-2-7-12-13-10 1-12 3-4 0-18 10-6 3 M1324 1518l7 7 3 3 14 1 8-1 12-1 3-1 5-10 4-3-6-7-4-5-8-4-8-3-11 1-8 0-7 8-6 3-6 8 7 4 M1321 1502l-7-1-8 12-4 11 2 11 15 9 11 12 12 4 14 6 12-13 16 2 2-4 15-13 4-4 7-14-11-12-3-7-20-7-12-5-13 3-15-3-24 13 M1346 1513l-6 0-3 0-6 4 0 0-2 3-2 5 0 4 3 2 2 4 4 1 2 1 7 3 2-1 5-2 3-1 4-3 1-1 4-6 1-1-6-7 3 0-5-3-3-2-4-3-4 0 M1291 1531l3 5 3 12 6 10 16 6 11 7 23-2 16-2 22-3 16-2 15-10-2-10 1-11 5-10-13-11 7-5-20-12-23-7-18 1-13-8-11 7-17 7-15-2-2 10-18 16 6 9 M1364 1513l-5-2-3-1-4 0-5 2-3 3-3 3-2 3-1 2 3 5 0 3 6 2 4 3 4 1 4 1 2-4 5-1 1-3 4-7 3 0-5-3-2-4-2-3 M1304 1528l14 10 4 10 13 4 7-3 26-3 13 2 7-11 7-7 1-16 3-6-15-14-1-7-12-2-24-3-13 1-17 4 1 9-11 12-5 12-8 1 M1369 1532l5-4 0-5 1-2-1-5-8-2-5 0-6-1-6 1-10 0 2 4-3 4-2 4 1 4 3 4 4 1 9 3 5-1 3-1 8-2 4-3 M1359 1493l-11-9-16 7 0 3-12 4-11 1-3 8 2 5-6 5 5 9-3 5 7 10 16 5 9 4 8 2 11-8 5 6 13-9 10-5-2 0 10-12 1-10-12-4-2-3-12-12-4-6 M1348 1506l1 7-3 2 5 5 3 2 3 7 7-3 2 1 7 1 6-2 6-5 1 0 3-3-1-11 0-3 1-3-9-4-1-3-8-3-1 0-6 3-7 0-6 3-1 4-1 3 M1318 1523l-3 3 6 14 3 6 4 6 17 6 10-2 11-3 15-2 1-7 10-3 5-5-6-11 1-5-12-11-4 1-9-9-11-3-10 5-8 3-15 5-2 7-11 11 M1344 1507l-2 3-6 3-1 3-2 3 0 3 0 2 5 5 1 4 3 2 5-2 1 4 5-1 6-1 2-2 4-6 1-1 2-5 1-3-4-1 0-3-4-5-3-2-3 0-6 1-5 1 M1342 1544l13 0 4-1 5-5 2-4-1-7-1-4-5-8-5-2-9-2-7 2-6 2-5 6-1 7 3 7 4 4 6 2 7 4 M1360 1549l10-1 11-7-2-4 6-8 4-5-8-12-3-2-15-3-7-4-9 6-4 2-10 6 2 10-4 8 6 8 4 2 11 6 10 0" fill="none" stroke="#0072bd" stroke-width="1.9" />
<path d="M1345 1502l-3-4-9-3-4 2-6 3 0 6-1 6 3 3 9 5 5-1 5-4 4-5 0-4-3-4 M1380 1525l-1-4-3-1-6-4-5 2-5 3 0 2 1 4 2 4 4 0 7-1 3-1 4-4 M1401 1485l-17 2-10 11-7 16 8 7 15 7 18 2 17-7 9-8 6-9-9-13-16-4-12-3 M1356 1517l1 5-2 6 9 6 10 4 7-1 12-1 4-6 4-3-5-7-3-6-8-4-12 0-10 3-5 4 M1379 1504l-8 2-7 4-6 10 4 4 4 7 4 2 9 4 9-3 4-5 3-8 1-5-5-6-8-4-8 0 M1327 1522l-8 13 10 8 13 5 19-1 11-6 5-9 1-9-17-10-12 2-14 0-9 12 M1379 1537l-7 1-6 2-3 9 2 4 4 6 7 1 12 1 6-5-1-5 0-7-1-6-12-3 M1384 1523l-6-5-7-2-8 2-5 5-2 6 6 4 7 4 7 0 8-5 0-4-1-6 M1366 1519l-3 12 1 10 8 9 11 6 7-4 11-6 3-12 3-7-5-15-6-2-10-5-13 1-7 11 M1383 1533l9-10 11-5-1-11-3-12-12-4-9-7-14-3-9 5-17 4 1 10-6 13 6 5 7 11 7 5 17 4 5 0 17-7 M1338 1523l-5-1-5-1-6 1-1 2-4 1 1 4 0 1 4 3 5 1 5 0 2-1 4-4 2-1-1-2-3-2 M1354 1497l2 4-1 7 6 3 4 2 6-1 7-5 0-2 0-6-1-4-5-2-6 0-4 2-6 4 M1364 1514l-1-2-1-3-1-1-2-2-3 0-1 2-3 0 0 2-1 2 0 3 2 1 1 2 4 1 2-1 1 0 2-2 0-2 M1343 1520l-5 0-3 3-4 1-2 5-1 4 5 5 2 2 5 2 5-2 3-1 3-6 1-5 0-4-6-1-3-2 M1344 1501l-5 0-3-1-5 3-2 3-2 3 0 3 4 5 5 0 2 3 6-2 4-2 2-3 0-2-2-5-1-3-3-2 M1344 1528l3 3 8 4 6 0 3-5 7-3 1-8-4-7-4-3-7-4-5 0-5 1-5 5-4 8-2 4 7 5 M1322 1503l-14 5-18 7-7 16 6 4 8 17 23 1 21 1 14-12 10-14-12-17-12-7-16-2 M1321 1508l-1 2 3 1 5 1 4 1 3-2 3-2 1-3-1-2 1-4-4-1-4-2-2-1-3 0-3 2-2 1-3 3 0 4 2 1 M1372 1510l-6 2-3-1-10 1-3 5-1 3 2 3 4 4 5 2 6 0 7-1 5-2 5-1 1-7-1-3-3-1-7-3 M1386 1512l-10-6-8-1-11 4-7 2-4 6-6 7 4 6 11 9 4 5 10 1 6 2 8-6 5-9 3-5 1-9-9-9 M1345 1518l0 4 1 2 2 2 2 2 5 1 3-2 4-1-1-3 2-4-2-2-3-3-4 0-4 0-2 2-4 1 M1362 1536l2-3 1-4 1-3-5-3-3 0-4 0-3-1-3 3-2 3 1 3 1 4 3 2 4 1 4-2 4-1 M1356 1529l-6-2-6-3-9 1-6 4-3 5 5 4 4 4 5 5 9-1 6-4 2-5-1-6 M1328 1526l1 8 6 10 12 3 10 3 12-6 6-7-1-13-3-6-11-5-16 0-9 5-3 7 M1370 1533l1 3 2 3 5 1 5 1 5-2 4-2-1-3 2-4-4-3-5-1-4-1-4 1-5 3-1 3 M1339 1498l-7 4-5 5-2 6 2 6 5 7 7 3 11 0 6-1 10-4 4-6 0-7-3-7 0-5-11-3-9 0-11 0 M1339 1541l14 14 16-11 12 0 3-15 5-13-5-8-17-11-16-2-13 5-7 10-10 15 5 13 12 6 M1330 1529l8 2 5-4 1-1 5-4-1-3-2-5-5-6-3-1-6-1-4 3-6 4-1 3 4 5 1 5 3 4 M1351 1558l-2-2-1-10-1-8-13-3-5 3-12 2-8 3-2 10 5 7 3 4 4 7 12 2 9-2 6-4 4-4 M1366 1554l8 0 14-4 4-7 6-7-2-9-13-10-8-2-14 0-10 3-7 7-8 5 2 10 3 6 10 9 9 1" fill="none" stroke="#0072bd" stroke-width="1.9" />
<path d="M1290 1523l-5 1 9 32 14 8 0 2 20 6 13 7 17 0 21-8-1-13 18-1 10-19-6-16 4-8-8-16-16 3-15-21-22 4-7 3-14 0-3 6-16 13-1 7 M1389 1606l60-11 33-17 12-29-30-23-3-48-40-18-57-2-33 3-46 0-36 3-37 49 12 18-3 39 28 37 46 9 46 4 57 1 M1274 1471l-41 24 7 14-1 29 25 30 34 16 26 10 31 7 47-12 26-5 33-34 11-19 12-32-13-6-37-17-23-21-22-19-52-2-39 31-25 0 M1331 1500l-5 19-1 20 5 10 20 17 13 6 31 4 17-17 17-14-8-10 0-17-5-17-16 1-24-13-25 2-12 18 M1352 1559l6 3 23 5 13-11 1-15 11-6-10-14-2-12-5-7-20-4-12-4-12 1-12 13-16 8-6 8 4 11 8 11 0 14 14 3 8 0 M1355 1595l21-4 14-9 15-13 18-34-7-31-2-21-11-12-24-13-16-11-17-1-23 6-15 22-20 23 5 16 2 36 4 18 22 19 19 2 16-1 M1443 1483l-50-25-45-4-52 7-56 24-3 43-23 21 33 32 26 25 41 24 58-1 41-33 45-11 29-40-27-30-15-28 M1376 1423l-31 1-30 10-28 13-13 10-31 27-5 46-10 13 13 58 22 9 29 2 39 29 33-6 19-7 26-17 24-18 45-20 4-22-16-53-46-33-5-18-35-26 M1356 1488l-14 5-9 8-2 15-5 10 5 10 9 16 9-1 11 14 14-5 8-4 13-4 10-8 8-6-6-10 2-21 5-4-8-12-16-1-11-7-16 0-12 5 M1268 1522l15 13 23 40 36 8 27 1 34-1 31-22-12-33 20-34-18-29-32-14-36-9-37 21-27 14-4 31 M1382 1448l-42 1-25 1-32 21-7 17-13 19-26 29 36 34 31 8 16 10 30 5 37 3 15-11 45-35 7-9-8-27-14-32-15-21-44-9 M1419 1473l-20-18-31-5-42 3-14 5-27 28-19 21 1 34 8 9 17 26 43 10 10 4 35-13 31-11 15-5 8-30-12-37-7-12 M1367 1446l-19 2-34 19 3 12-23 13-11 23 10 21-1 19 25 18 6 14 34 6 21 1 27-5 15-11 31-13-9-20 7-19 1-28-15-24-16-1-23-26-39 4 M1394 1574l-1-18 15-13-4-12 1-21-6-10-14-15-11 0-19-9-19 6-11 8-9 6-2 32 3 7-1 11 24 17 1 11 20 1 12-2 17-11 M1362 1488l-22-2-8 6-11-7-20 7-12 17-7 1 4 15 6 9 4 18 16 11 16 6 9 6 12-7 23-3 14-4 19-9-2-13 13-14-1-7-14-13-10-8-9-9-21-1 M1351 1600l35-18 6-21 25-13 6-19-8-37-15-22-32-2-17-8-24 0-26 21-9 21 3 23 4 28 14 22 16 17 27 11 M1303 1475l-24 17-2 30 14 31 4 39 29-1 13 16 41-3 21 4 24-12 12-26 10-17 18-19-9-33-10-30-25-19-14-13-38-4-16 8-52 10-3 18 M1369 1579l17-2 16-8 19-4-6-35 2-26 2-19-27-4-18-15-28 4-20-7-14 17-23 14-9 22 6 16 11 15 3 10 13 17 29 11 20 1 M1330 1588l20 8 25-8 11-11 12 1 12-25 6-10 5-37-14-20-16 5-8-11-24-11-12 9-14 8-16 5-8 12-7 23 0 22 9 11 8 14 14 11 M1272 1599l40 5 41 11 30-16 29-24 26-30-4-11-16-37-36-7-20-24-50 5-38 13-15 11-27 30 21 43 23 22 M1305 1456l-15 5-19 28-8 14 4 40 5 17 14 33 13 16 23 8 17 6 25-7 31 13 14-31 36 3-1-45 15-26-14-19-10-40-10-10-14-7-32-9-25-10-19 10-36-7 M1268 1481l1 18-15 27 12 4 14 19 24 18 29 2 6 7 26-2 19-9 25-19-13-15 25-13 5-22-10-17-32-2 8-22-27-11-26 6-23 5-26 6-8 14-6 8 M1342 1580l26-1 25-4 13-19 13-19-5-9-2-21-28-15-19-7-31 7-23 15-25 5-10 22 17 17 14 14 18 6 27 16 M1271 1531l1 20 4 5 19 14 15 26 35-6 30 13 2-14 36-13 19-19 9-15-8-21 17-14-38-30-8-18-23-4-26 2-33 8-29 7-11 10-3 16-13 28 M1391 1472l-26-11-38 16-29 3-11 7-15 17-6 35-6 24 39 21 15 6 43 5 35 7 20-8 25-38 3-7 3-26 6-23-24-18-22-15 M1400 1502l-13-12 1-3-29 0-19 4-5 12-14 6-8 16 11 12 0 19 7 3 21 11 7 7 15-2 24-3 8-9 3-17 9-9 4-10-4-15-20-13 M1365 1408l-33 16-40 19-11 58-9 33 1 62 31 9 57 12 20 0 35-19 34-47-15-38 9-45-41-40-35-6 M1458 1487l-34-17 1-12-49-15-11-13-39 9-15 6-14 20-19 15-3 28-2 19-12 15 29 15 16 26 11 10 40 6 20 5 27-30 30 0 21-18-12-23 9-28-6-13 M1246 1500l18 37 11 10-6 33 24-4 46 33 14-16 30 9 20-24 17-5 11-9 19-13 14-37 3-3-28-34-28-12-12 6-10-30-35 1-24 6-27 1-32 31-6-2-12 37 M1424 1500l-13-29-25-25-16 4-24-7-25 1-28 26-5 4-12 44-5 14 12 33 28 18 9 15 24 18 23 14 16-31 24-35 21-7 15-33-22-22" fill="none" stroke="#0072bd" stroke-width="1.9" />
<path d="M1404.3,1404.7 1421.8,1399.4 1444.6,1394.9 1463.9,1399.4 1478.6,1407.5 1490.2,1425.8 1495.5,1445 1498.3,1474.9 1499,1506.4 1495.5,1534.5 1484.9,1562.6 1470.9,1583.6 1446.4,1601.1 1418.3,1611.7 1386.7,1618.7" fill="none" stroke="#0072bd" stroke-width="1.9" />
<path d="M1463.9,1485.4 1488.5,1474.9 1513,1480.1 1521.8,1495.9 1523.5,1513.4 1518.3,1541.5 1504.2,1552 1484.9,1559 1463.9,1562.6" fill="none" stroke="#0072bd" stroke-width="1.9" />
<path d="M1292,1404 1257,1422.2 1239.4,1443.3 1228.9,1467.8 1218.4,1492.4 1212.1,1517 1211.4,1534.5 1214.9,1552 1221.9,1567.8 1239.4,1571.3 1260.5,1569.6" fill="none" stroke="#0072bd" stroke-width="1.9" />
<path d="M1246.4,1587.1 1246.4,1608.2 1267.5,1631 1302.6,1638 1330.6,1629.2 1348.2,1618.7" fill="none" stroke="#0072bd" stroke-width="1.9" />
<path d="M1309.6,1632.7 1337.6,1642.5 1369.2,1646.7 1400.8,1643.2 1421.8,1636.2 1444.6,1627.4 1456.9,1611.7" fill="none" stroke="#0072bd" stroke-width="1.9" />
</g>
<rect x="1191" y="1389.6" width="335" height="264.2" fill="none" stroke="#4d4d4d" stroke-width="1.7"/>
<path d="M1246.5,1653.8v-3.6 M1246.5,1389.6v3.6 M1302.6,1653.8v-3.6 M1302.6,1389.6v3.6 M1358.7,1653.8v-3.6 M1358.7,1389.6v3.6 M1414.8,1653.8v-3.6 M1414.8,1389.6v3.6 M1470.9,1653.8v-3.6 M1470.9,1389.6v3.6 M1191,1422.4h3.6 M1526,1422.4h-3.6 M1191,1455.5h3.6 M1526,1455.5h-3.6 M1191,1488.5h3.6 M1526,1488.5h-3.6 M1191,1521.5h3.6 M1526,1521.5h-3.6 M1191,1554.5h3.6 M1526,1554.5h-3.6 M1191,1587.5h3.6 M1526,1587.5h-3.6 M1191,1620.6h3.6 M1526,1620.6h-3.6 " fill="none" stroke="#4d4d4d" stroke-width="1.5" />
<text transform="translate(1246.4,1674.8) scale(0.92,1)" font-size="19.8" fill="#4d4d4d" stroke="#4d4d4d" text-anchor="middle">-0.06</text>
<text transform="translate(1358.7,1674.8) scale(0.92,1)" font-size="19.8" fill="#4d4d4d" stroke="#4d4d4d" text-anchor="middle">0</text>
<text transform="translate(1529.5,1674.8) scale(0.92,1)" font-size="19.8" fill="#4d4d4d" stroke="#4d4d4d" text-anchor="middle">0.06</text>
<text transform="translate(1184.7,1395.6) scale(0.92,1)" font-size="19.8" fill="#4d4d4d" stroke="#4d4d4d" text-anchor="end">0.4</text>
<text transform="translate(1184.7,1462.2) scale(0.92,1)" font-size="19.8" fill="#4d4d4d" stroke="#4d4d4d" text-anchor="end">0.2</text>
<text transform="translate(1184.7,1528.5) scale(0.92,1)" font-size="19.8" fill="#4d4d4d" stroke="#4d4d4d" text-anchor="end">0</text>
<text transform="translate(1184.7,1594.5) scale(0.92,1)" font-size="19.8" fill="#4d4d4d" stroke="#4d4d4d" text-anchor="end">-0.2</text>
<text transform="translate(1184.7,1655.5) scale(0.92,1)" font-size="19.8" fill="#4d4d4d" stroke="#4d4d4d" text-anchor="end">-0.4</text>
<text x="1348.9" y="1695" font-size="19.4" fill="#231f20" stroke="#231f20" text-anchor="middle" >Y velocity (m/s)</text>
<text x="1141.5" y="1521.5" font-size="19.4" fill="#231f20" stroke="#231f20" text-anchor="middle" transform="rotate(-90 1141.5 1521.5)" >Y acceleration (m/s<tspan font-size="11.5" dy="-6.5">2</tspan><tspan dy="6.5">)</tspan></text>
<text x="1358.7" y="1747.4" font-size="23.2" fill="#231f20" stroke="#231f20" text-anchor="middle" >Yaw velocity-acceleration profile</text>
<g stroke-linejoin="round">
<path d="M1310 1901l4 18 9 19 14 4 21 4 11 1 13-17 15-9-3-23 6-30-14 4-12-10-13-17-23 3-14 3-10 10-2 23-6 12 M1327 1922l16 15 7 4 11-4 16-7 3-7 6-14 3-12-7-10-4-9-11-10-9 1-13 1-11 8-10 3-3 14-1 2 3 21 6 11 M1329 1877l-2 12-5 10-1 6 5 5 6 8 8 9 7 2 18-6 2-1 12-8 5-7-3-9-2-9 0-6-6-13-14 2-9 0-9 4-11 1 M1340 1903l0 5 2 2 5 2 3 2 3-3 3 0 1-5 2-3-3-5-1-3-3-2-3 0-4 3-2 1-2 4-1 3 M1377 1903l-1-8-4-7-5-11-9-5-7 2-6 3-7 1-6 8-2 15-2 4 2 9 10 4 10 4 5 4 12-6 6-1 3-8 2-9 M1368 1892l-2-9-6-3-8 5-6-1-3 4-3 6-3 10 2 6 5 3 0 5 7 4 6 1 8 0 5-6 2-8 1-8 0-3-8-7 M1333 1849l-5 6-14 8-10 17 2 14 7 27 4 8 2 14 18 13 13 2 5-8 22 9 9-16 14-8-1-18 11-4 3-18-9-16-10-21-11-8-12-7-16 9-2-3-12-6 M1354 1926l7-4 8-2 1-6 4-8 3-8-5-7-5-4-8-5-4 0-8 1-4-4-7 6-6 5-1 8-1 6 6 7 0 5 4 6 14 6 4-1 M1345 1874l-3 8-7 1-5 9 3 13 0 6 3 16 4 2 11 2 3-3 9-8 1-2 7-11-3-10-3-7-3-10-7 0-7-5 M1327 1867l-2 14-8 14 2 9 4 9 5 7 12 11 1 2 14 0 18-3 2-8 7-10 6-4 3-16-5-3-7-10-15-4-6-4-14 2-9 5 M1341 1898l2 6 0 4 3 3 8 3 3 2 9-5 1-3 4-4 1-5-1-6-4-1-6-5 0-2-10 1-6 3-3 4-4 7 M1344 1865l-4 9-5 5-12 13-5 11 9 3 2 17 2 11 6-4 9 5 12 7 11 0 4-9 9-4 4-15 3-3 4-12-9-9-9-16 0-6-8-2-15 0 1 2 M1372 1914l2-3 3-5-3-7-1-4-1-5-6-7-5 0-3 0-9 1-4 4-5 7 2 4-2 6 2 6 5 8 1-2 6 7 7-2 6-4 4-4 M1322 1908l4 9 4 10 10 1 8 6 8 6 11-4 7-3 14-13-2-7 12-5-5-13-4-15-5-1-2-17-7-2-14-5-2-1-3-2-18 5-4 5-4 2-5 14 0 8-4 18 1 6 M1360 1873l-7-2-7 6-9 1-3 5-1 2-4 2 2 9 1 11 2 6 6 5 1 2 5 1 11 1 2 3 6-7 4-2 8-5-2-8 0-3-2-7 1-8-6-6-9-5-1-1 M1356 1885l-6 0-4 1-2-1-5 4 0 9-4 3 2 7 0 5 3 8 2 1 3 3 5 1 6 1 3 1 5 3 2-10 8-4 0-2 2-6 0-6-3-7-5-5-3-1-4-7-2 1 M1370 1851l-17 1-2 5-16 3-8 15-8 8-2 11-1 8 4 17 13 12 9 10 3 5 15-1 11 2 9-10 14-7-2-9 0-22 1-14 2-6-12-13-6-7-6-7 M1329 1895l3 2 2 8-2 10 9 8 1-1 9 5 4 0 10-3 6-9 2-3-1-9 1-5-3-13-7-1-2-7-8-2-5 1-5 2-9 10-3 3 M1342 1895l2 7-2 4 1 2 7 11 5 0 5-1 4-3 4-5 2-5-1-7-2-8-2-2-8-4-6 2-2 3-6 5 M1347 1899l1 3 1 4 3 0 0 3 3-1 1-1 2-2 1-4-1-2 1-3 0-2-3-2-1-2-1 0-3-1-2 3-1 3 0 4 M1371 1943l12-7 4-12 11-9-6-14 7-7-3-15-7-5-14-18-15 2-16-1-10 4-17 2-1 1-9 18-6 17 3 12 17 10-2 15 19 5 15-3 15 5 M1342 1923l8 4 10 5 8-6 7-3 4-13 6-9-4-10 1-7-7-5-4-9-11 1-7-1-10 8-7 5-3 5-1 10 0 11 4 9 6 9 M1387 1911l0-17 3-7-2-11-12-9-9-6-10-1-13 1-9 8-3 3-5 14-4 5 3 13 0 9 4 13 12 10 5 2 13-2 7 1 8-13 12-13-1 0 M1340 1851l-12 14-1 15-8 12 0 9 3 15 6 16 7 4 8 3 13 7 8 0 14-19 1 3 6-17 2-16-2-15-7-15-3-8-13-6-4 4-11-9-7 16 M1354 1946l12-10 5-4 9-7 1-14 0-20 5-12-12-4-1-16-14-6-11 3-15 5-7 5 2 14-7 20 1 7 2 20 9 15 10 3 6-4 M1398 1922l3-28 0-8-10-14-7-13-19-3-17 2-24 1-8 7-12 18-3 15 10 11 6 22 11 10 14-3 11 7 14-10 16-8 15-11 M1345 1863l-3 10-15 6-10 5-4 16 4 16 9 14 11 7 16 0 8 1 9-3 11-7 11-22-4-7 3-11-9-14-5-6-16-13-20 11 M1354 1870l-11 1-2 4-6 8 1 7-4 5-1 10 4 6 5 9 7 2 12 4 7 1 7-6 3-8 13-5-1-6-1-10 0-6-7-13-5-1-12 3-8-3 M1386 1864l-8-8-22-9-16 9-9 6-12 12-1 19-1 16 7 17 6 17 17-4 16-1 9-3 26-10-1-17 9-10-7-25-6-9 M1367 1892l-6-1-7 0-3 2-4 4-2 6 0 5 4 5 2 3 6 2 4-1 5 0 3-4 1-8 2-3-1-5-7-5 M1380 1878l-4-9-5-8-7-2-12-4-4 2-9 3-4 6-7 14-3 3 4 18-1 16 3 6 12 11 6 3 4 5 13-11 5 1 9-9 2-15 5-6-3-15 0-7 M1361 1877l-9-3-4 2-4 5-7 6-1 4-2 6 0 6-1 0 9 11 1 3 1 3 11 5 6-7 6-2 3-3 2-7 0-5 4-5-5-8-3-10-4-3-5 2 M1329 1874l-9 10-1 10-2 9 3 8 3 8 7 3 3 9 6 5 8-4 14-2 5 0 9-9 8-1 4-10-2-8 0-9-3-7-4-8-8-5-12-4 0 0-11-2-3 2-17-1-3 11 M1378 1934l13-14 9-10-8-12 7-7-6-9-6-7-21-10-9 7-17 1-8 10-8 13 0 7-2 15 6 10 15 4 13 5 10 0 15-4 M1338 1891l0 9-1 12 5 3 4 7 6 3 7-1 7-6 6-5 3-7-2-11 0-3-5-9-7-5-10-3-4 7-4 3-7 7 M1340 1898l-1 7 4 7 5 3 5 6 6 4 3-2 4-5 5-7 4-7-2-4-1-5 0-6-4-3-6-5-4 1-7 0-1 1-9 6-2 6 0 5 M1321 1916l9 5 2 15 16 0 6 1 8 0 15-7 6-1 3-12 4-11 2-11-3-6-10-9-8-8-5-3-16 0-9 4-8 2-13 10-2 10-2 11 7 13 M1351 1882l-7 3-1 5-3 5 0 2 3 6 2 5 5 1 5 2 5-2 4 0 5-5 2-4 0-3-1-6-1-4-6-4-4-2-3 0-6 2 M1337 1885l-7 7-5 7 5 5 3 6 4 6 4 5 11 2 5-2 8 0 5-4 9-8-4-9-3-2-2-6-4-7-8-5-7 1-10 4-5-1 M1341 1922l4 4 6 5 7 2 6-4 7 1 7-5 5-11 3-4-1-11 0-9-9-3 0-8-8-6-4-2-11 3-6 0-6 7-5 8-1 7-2 12 4 5 1 11 M1347 1901l1 4 0 2 2 2 3 3 4 0 0-1 3-2 1-2 3 0-1-5 2-3-2-4 0-1-3-3-2-4-2-1-2 3-2 0-2 0-2 3 0 4-1 3-1 1 M1326 1931l13 17 7 7 11-9 21 5 5-2 10-32 0-9 3-14-12-19-13-20 0 5-16-4-12 5-12 7-12 11-3 18 4 24 6 5 M1325 1879l-1 6 1 15-4 10 3 9 14 4 5 7 13 0 17-4-1-1 13-6 5-12 3-11-7-5 2-16-4-2-10-8-3-5-13-2-9 1-14 5 0 1-13 14 M1373 1899l-3-8-6-6-6-4-5 1-5-1-9 8-2 3-1 11-2 5 7 3 3 7 7 4 6 1 6 0 4-8 6-1 0-7 1-10 M1326 1922l4 7 4 11 14 5 8 3 5 1 17-13-1 6 8-14 5-10 3-13 1-9-6-5-1-12-9-3-13-16 1 0-7 0-14 4-11 0-5 9-6 9 2 15-3 13-7 3 9 17 M1376 1873l-16-3-13-6-9 3-10 9-17 5-1 12-1 17 7 9 6 12 6 9 15-1 8 2 26-7 3-3 7-16 7-13 6-5-14-12-16-13 M1397 1897l-1-3-2-11-7-5-5-6-8-1-7-2-7 4-7 4-6-4-10 6-4 8-4 6 4 7 4 6 0 8 8 1 5 7 9 2 7-1 6 0 3-2 9-5 4-7 4-5 5-3 M1332 1907l3-1 1 7 5 4 5 0 3 0 8 1 3-4 4-3 1-5 1-8 2-3-3-10-7-2-1-4-8 2-4-3-5 3-2 6-6 3 1 6-2 10 M1343 1879l-11 6-3 2-7 13 2-1-1 9 4 5 3 9 7 1 8 4 5 2 13-5 4 1 4-9 1-6 4-6-2-8-6-6-8-4-3-6-7 1-5 2 M1316 1886l-5 9 5 19 7 7 8 1 11 11 12 1 7 5 12-5 14-3 2-11 7-16 2-9 1-11-14-12-3-15-24-9-9 7-8 0-6 12-11 8-9 10 M1324 1909l0 14 8 9 10 2 11 6 10-4 7-2 13-6 1-10 5-10-4-13-3-7-7-18-11-8-11 1-12 0-4 3-12 7-4 19-1 10 1 8 M1325 1919l3 10 17 1 13 9 4-6 18-2-1-14 13-7-5-15-12-15-2-3-14-10-4 3-15 2-7 1-14 11 2 15-1 12 3 11 M1348 1870l-13 2-10 12 3 18 2 7 5 15 12 4 5 7 15-5 3-7 12-9 5-12-3-13-7-12-10-2-12-7-10 9 M1376 1890l-4-8-3-7-7 1-5-4-8 0-7 1-9 4-3 6-1 10-2 11 1 5 7 7 2 7 5 5 6 3 10-4 5-2 7-6 4-9 2-7 5-5-6-5 M1368 1905l2-11-4-4-4-4-8-9-7 2-13 3-4 6-5 7 0 10 5 4 1 10 9 7 6-1 7-1 9-4 3-8 5-8 M1346 1886l-1 4-6 4 0 4 0 2 2 6 1 2 6 5 0-4 6 1 7 0 2-1 3-4 2-2-1-3-2-6 1-2-3-5-7 3-3-4-4 0-3 0 M1395 1880l-8-11-15-11-12 1-16 0-11 6-12 8-6 14-2 14 2 21 6 6 8 9 18 2 21 1 16-9 8-10 5-7 0-15 5-17 M1364 1898l-1-1-2-4-3-2-3-4-3 1-3 1-2 4-1 6 0 3 0 2 2 6 2 2 3 0 3 4 3-3 2-1 2-4 1-7 1-1 M1328 1914l3 5 12 4 5 1 9 0 8-7 1-4 8-7-3-8-1-3-5-7-7-4-12 3-5-1-5 4-8 5-1 8-2 8 6 4 M1306 1892l-2 25 9 19 13 3 15 10 16-1 16-7 13-10 0-27-4-12-3-28-13-5-10-10-22 2-10 11-9 11-14 27 M1354 1938l14-2 9-7 5-9 11-5-8-16 3-17-6-13-7-2-9-6-10-2-11 2-11 8-5 10-3 7-10 9 3 11 0 13 12 5 7 14 13-4 3 9 M1330 1864l-12 5-6 23 0 16 4 17 8 10 16 7 15 6 16-1 8-12 8-20 8-11-8-18-13-23-16-6-13 9-13-2 M1382 1924l7-14-3-17-2-15-4-11-12-4-12-3-15 3-13 3-7 16-13 10 6 16 5 10 18 13 10 5 13-3 11 3 12-12 M1355 1887l-4 2-2 2-4 3-1 6-1 5 2 2 4 5 6 4 4-2 4-4 4-3 0-5-2-5 0-5-4-3-5-1 M1338 1860l-12 10-11 16-5 13 0 13 4 14 10 5 10 16 12-2 11 3 19-7 15-5 2-14 7-7-4-32-11 2-2-17-19-1-8-7-19 2 M1370 1874l-7 3-9-10-12 4-10 5-6 14-1 10 0 17 10 9 8 5 9 3 9-5 11-6 7-10-1-14-3-13-8-11 M1390 1892l-9-11-5-6-9-11-12 3-8-3-19 8-10 6-9 8-5 14 8 13 2 12 6 12 8 9 13-1 14-4 9 6 17-10 4-13 12-7 5-9-6-11 M1356 1944l13-7 12-3-1-18 8-9-1-22-11-16-11-9-8-13-13-1-10 10-5 13-15 23 3 13 6 16 8 15 10 6 20 7 M1359 1945l12 2 0-10 8-6 4-10 5-11 2-14-4-18-6-6-7-15-6-6-6 1-13-6-10 13-2 10-10 5-3 20-1 1 1 14 1 17 8 7 3 10 12-5 10 10 M1389 1888l-4-6-9-11-6-7-6-11-11 5-7-3-9 5 1 7-5 18-14 2 7 15-1 3 0 13 5 15 6 9 10-1 5 9 9-4 3-5 13-8 1-8 5-13 7-6-2-12 0-11 M1383 1937l15-23-3-3-6-19 1-15-9-11-20-7-16 0-15 2-18 4-8 19-2 16-4 9-4 18 17 6 18 15 17 0 9 5 22-8 9-6 M1348 1932l8 6 12-3 10-2-2-7 11-6 7-11-9-18 2-4-12-9-4-4-2-8-9-1-14 0-8 5-13 7 2 16-9 3 3 16 5 2 10 9-2 15 6-3 M1373 1898l0-5-5-9-4-2-8-4-4 3-10-3-7 7-1 5-5 5-2 7 4 11 1 6 4 5 8 1 4 3 9-8 7 5 0-7 10-5 0-5 0-8 M1361 1915l-2-5 2-7 0-1-1-4-5-4-1 0-3-1-5-1-2 2-1 1-2 4-2 6 0 3 1 6 1 0 4 3 3 4 1 2 3-2 4 0 1-3 2-5 M1379 1873l-6-5-11-8-15 0-11 10-14 9 0 5-5 27 6 10 8 11 15 13 12-5 8-4 7-10 10-15-1-19-6-11 M1346 1931l13 5 12-3 10-11 10-9-4-17-3-13 0-19-25-1-10-5-10 8-15 7-12 8 4 9-2 23 11 14 12 7 M1372 1942l15-8 5-20 7-7 1-32-18-8-11-10-21-4-10 3-11 5-14 16-11 15-2 20 6 17 13 12 15 9 18 0 16-4 M1381 1872l-7-10-10-1-2-2-8-5-10 4-7 5-4 9-3 8 0 15-4 7 7 5-3 15 12 5 9 7 12-1 0-3 12-3 1-5 6-12 7-4-5-14-3-9-1-11 M1360 1906l0 0 0-3 2-1 2-1-2-2-1-2-1-1-1-2-2 0-2-1-2 2-3 0-2 1 0 1-1 1-1 1 0 3 1 1 1 1 0 2 3 1 2 0 0-1 2 1 4 0 M1355 1920l9-1 6-5 3-5 6-6-3-9-7-6-6-4-9-3-9 3 0 8-8 5-1 4 2 7 4 7 8 3 5 6 M1335 1934l7 15 13-2 14-3 11-12 0-5 11-14-5-15 1-15-6-8-12-7-8-1-18-4-8-2-6 15-7 17-4 10-1 15 5 13 16 6 M1322 1928l17 8 3 1 17 8 9-9 12-5 6 0 11-13 9-12-2-10-4-15-8-8-11-13-14-3-8-6-10-1-17 9-8 6-3 4-12 14 4 11-9 10 11 13 8 14 M1320 1880l-2 8-4 6-4 6 3 7 1 16 10 3 13 10 0 2 14-2 10-3 10 4 6-3 2-16 5-13 3-5-4-10 3-3-15-11-11-4-2 1-13-1-9 10-10 0 M1324 1930l9 5 16 9 8 4 13-2 11-8 7-12 2-4 0-16 0-25-12-4-7-10-7-12-4 2-22 5-7-1-10 17-2 9 1 10 2 19 5 11 M1351 1900l-1 5 2 4 1 5 5 3 3 1 4-1 6-1 0-6 3-5 0-6-3-3-3-2-4-1-4-1-4 3-3 0 0 4 M1374 1896l-2-11 0-12-13-4-5-4-7 0-8 6-7 7-1 14-1 10 6 8 2 10 9 0 9-1 6-6 10-4 2-5 0-14 M1366 1878l-7-4-9 3-12-1-3 6-5 11-2 8 0 9 3 7 7 5 14 3 8-3 8-2 6-6 1-9 4-12-8-4-4-15 M1369 1876l-11-4-9-4-16 6-2 14-8 12-4 2 5 16 4 10 13 2 11 10 8-3 12-5 8-7 8-13-5-6 3-13-11-13-3-8 M1348 1905l5 1 2 1 6-3 4 1 0-5 2-4 1-2-3-4-3-3-6 0-4 0-4-1-5 4-1 4-2 2 3 5 1 1 5 2 M1375 1921l8-15 0-5 0-13 0-8-14-4-11-6-11 6-6 2-9 11-6 6 8 11 2 11 9 1 12 5 8-2 10-7 M1313 1898l0 10 4 21 8 16 22 5 9-3 18-9 13-9 3-16-3-17 1-8-6-19-9-9-22-3-9-3-17 11-6 15-8 18 M1329 1939l9 8 13 3 21-12 12 3 11-20 7-16-8-18-13-14-13-12-15 0-20 7-9 8-6 13 0 14 0 19 13 17 M1322 1937l19 16 14-2 18-4 10-7 7-16 5-14-2-22-12-16-8-9-17-7-12 0-10 10-14 13-10 9-4 23 14 17 6 8 M1365 1905l1-6-1-3-3-6-2-3-2 0-4-2-3-1-2 1-3 2-1 7-1 7-1 2 3 4 1 7 2 3 3 2 4 1 5-1 2-3 2-4 1-1-1-7 M1359 1895l-3 0-3 2-2-1-2 2 0 3-1 3 1 5 1 2 2 4 1 0 4-1 4 3 0-3 2 0 2-5 0-2 1-4-2-4-1 0-2-2-3-3 M1360 1835l-16 11-13-4-15 21-1 3-2 38 2 12 17 15 1 4 12 18 10-2 15-9 16-8 6-17 1-13 0-18-2-25-5-10-22-17-4 5 M1370 1878l-8-10-9 4-7-2-9 3-2 7-6 9 0 11 3 5 4 10 6 5 9 0 8 0 7-1 8-8 4-6-4-11 0-8-6-15 M1362 1916l2-5 4-6-3-10 0-6-4 0-8-4-3-2-4 6-5 6-3 6 3 6 2 6 3 8 6 1 5-3 5-3 M1372 1894l-5-6-1-6-12-3-4 1-11-1-1 4-10 6 0 5-2 6 4 9 5 5 5 1 3 1 10 2 4 1 9-5 6-6 0-11 0-6 M1339 1879l-4 2-6 2-8 6-3 8-1 5 7 11 5 2 2 5 5 7 8-2 11 3 7-1 7-7 7-2-2-10 5-5 0-5 3-7-7-6-3-5-8 0-10-3-8 2-7-1 M1344 1914l5 6 3 4 6 2 7-3 4-3 5-4 0-7 0-8-1-4-5-9-4-4-5 3-5-4-5 2-3 6-4 6-1 8 1 5 2 6 M1381 1904l0-10-3-13-11 1-7-13-12 1-11 2-5 9-14 10-3 1 4 8 7 16-1 7 19 5 8-1 8-5 13-1 3-8 6-11 M1363 1903l2-1-2-6-2-2-1-3-3-3-3 2-2 1-2 0-3 3-1 5-1 0 0 6 4 3 0 3 2 1 3 2 2 0 2 0 4-3 2-2 0-2 0-5 M1393 1899l-3-9 0-12 2 0-17-12-6-3-13 3-6-1-5 1-15 12 1 10 0 9-6 9 8 16 2 2 11 10 8 1 10 3 9-4 7-5 4-6 6-13 5-5 M1373 1924l5-4 6-18-3-12-7-15-16-8-7-1-8-4-16 13-7 14 0 12-7 14 13 11 11 4 15 5 6-2 14-7 M1336 1920l6 16 12 7 10-2 15-8 9-1-2-23 8-17-4-12-12-12-14 1-9-13-17 12-8 8-3 10-8 14 0 16 15 12 M1382 1897l2-6-3-14-8-6-7-6-10 1-11-1-5 7-6 8 0 13-1 12-3 7 9 8 8 11 7-6 5 3 12 2 7-15 6-9 1-8 M1359 1926l2-10 8-1 3-8 3-3 2-7-5-9 0-2-6-10-5-2-12 6-6 0-5 7-3 7-2 6 1 10 4 3 7 6 1 3 12 3 M1351 1916l1 0 5 2 2 1 2-1 4-3 0-2 1-3 0-4 0-4-2-3-1-2-2 0-3-2-2 1-3 0-3 1 0 3-4 1 1 3 0 4 0 3 2 2 3 3 M1344 1919l7 2 9 0 10-8 4-3 6-6-5-8-4-7-7-6-7-2-13 4-6 2-7 6-4 8 4 10 1 3 11 6 M1344 1850l-20 6-3 4 1 22 0 7-4 22 4 21 9 11 16 7 8 7 11 5 6-9 16-12 10-9 2-17-6-13 2-27 8-7-17-15-10-2-12-2-17 2-12-2 M1338 1897l2 10 4 4 2 3 4 5 6-3 2-3 7-4 1-6 0-5 3-5 0-5-3-3-4-7-4 1-7-3-3 1-4 3-4 4-3 5 1 8 0 5 M1340 1868l-10 0-8 15-6 8-5 17 7 6 5 13 6 11 10-1 18-1 6 1 12-11 12-5 5-16-7-8-8-15 2-2-12-5-15-2-6-5 M1312 1891l1 8-1 4 5 14 6 0 6 10 9 3 15-2 9 10 16-8 6-8 8-5 5-10 0-7-1-14-5-7-3 1-19-9-6-2-4-2-14 6-14 0-2 2-16 3 2 9 M1359 1895l-1-3-3-1-1-1-1-1-3 1-4 1-1 1-1 2-3 3 1 2 2 3 1 1 1 3 2 0 2 1 4 0 2-1 2-2 1-2 1-2 0-3 1-2 M1355 1937l14-2 4-4 7-9 0-10 6-18-6-6-9-9-9-8-6-3-9 3-17 6-2 1-8 12 1 14-2 8 5 10 12 10 10 4 9-1 M1384 1892l-2-8-13-5-12-7-4-5-10 8-13 1-7 9-3 7-9 12 2 3 15 8 7 16 8 1 14 2 4-7 7 0 13-9 1-3 4-12 4-9 M1420 1914l-9-17-4-20-3-20-9-11-26-1-5-2-26 2-5 14-15 5-5 23-1 22 4 14 10 12 15 12 15 2 18-7 23-3 0-16 13-8 M1351 1884l-3 3-6 4-4 5 0 6 0 7 1 6 8 2 6 1 10 2 1-8 5 1 0-8-1-8 1-7-7-4-5-1-5-2 M1377 1892l0-11-5-6-10 1-3-1-4-1-8 5-6 5-2 6 1 8 1 7 5 6 6 4 7 1 5 2 8-4 5-8 2-7 1-9 M1367 1929l8-7 10-5 7-6-1-13 4-6-2-8-3 0-7-14-12-1-12-3-9 6-9-8-8 6-3 8-5 7-7 6 7 13 5 7-2 9 7 13 17 1 6 1 11-4 M1362 1911l2-3 0-6 1-3-3-4-1-2-4-3-5 3-5-1-3 4 0 3-1 3 1 5 3 5 3 3 5-1 1 0 5-1 M1382 1912l2-11-5-19-8-12-9-1-15 0-8-4-11 15-3 12-1 18 5 6 1 20 14 4 12 2 10-7 9-9 8-12 M1374 1885l-9-5-8-6-6-2-10 3-6 4-4 3-1 14-7 9 1 11 8 3 6 8 6 2 6 5 10-3 5 1 9-6 3-8 0-7-1-10-3-8-1-11 M1328 1895l0 4 3 16 0 3 4 9 5 2 12 2 1 5 8-6 4-6 8-5 7-3 1-9-2-7 2-9-6-6-8-8-3-2-7-2-5 1-7 1-9 6-5 6-4 8 M1366 1908l2-5-3-6-5-4-1-7 1 2-9-4-2 0-8 3-3 2-4 5 1 3 0 5-1 5 1 5 5 2 3 4 2 1 7-3 4-1 5 1 1-6 4-3 M1362 1935l6-4 16-6 3-6 7-4-3-17 2-6-7-8-4-3-17-7-9 4-14-2-9 3-6 10-2 5-5 8 4 14 8 9 8 1 10 8 6-2 M1369 1879l-3-10-8-6-17 6-12 6-5 8-4 4 1 16-1 9 5 6 10 13 10 1 13 4 9-10 11-1 2-13 6-7 4-19-12-4-10-10 M1329 1910l2 4 7 4 3 5 9-1 5 2 4-2 5-2 9-4 3-3-1-7 3-7 0-5-3-7-5-3-6-6-4-3-8 3-8-2-3 3-4 5-6-1-3 7-3 8 4 6-1 10 M1358 1952l7-3 20-6 6-5 22-11-3-16 3-13-1-17-6-18-9-8-12-8 0-8-21-4-10 1-12 1-13 11-11-2 0 30-11 3 3 21 4 17 7 14 7 8 9 10 14 3 14-3" fill="none" stroke="#0072bd" stroke-width="1.9" />
<path d="M1382 1925l5-4 3-7 0-7-6-2-3-5-11-6-4 5-7 7-4 6 2 3 2 9 4 2 10 4 6-1 4-1 M1381 1911l3-10-2-7-1-8-1-10-8-2-8 0-4 1-5 7-3 6-3 8 0 10 6 4 1 12 10-2 4 0 4-6 6-6 M1348 1906l-7-3-9 0-6 4-6 5 2 9 7 8 7 1 9-1 8-7 1-8-5-8 M1368 1890l1-2-1-2 0 0-1-1-2-1-1 0-1 1-1 1-1 1 0 2 1 1 1 1 1 1 2 0 1 0 1-1 1-1 M1360 1882l-8 0-7 5-3 9 2 6 6 6 10 1 5-3 6-5 2-10-5-8-9-3 M1346 1917l-1-3 0-5-2-1-1-4-4 0-3 1-2 0-3 3 0 2-1 2 1 4 2 2 1 2 3 1 4-1 2-1 2-2 M1387 1914l6-6 2-6 2-7-3-11-7-6-10 0-5 1-9 7-3 9 1 5 3 8 7 4 4 2 14 1 M1361 1890l5-4 1-4 3-11-2-9-1-6-10-4-3 3-7 4 0 9-4 8 1 9 5 2 8 7 2-4 M1359 1884l2 0 1-1 2-1 0-2-1-2-2-1-1-1-2 1-1 2 0 1 0 2 1 2 2 0 M1385 1919l0-9-7-3-9-3-11 0-9 7-1 2 4 10 2 5 3 2 13 5 8-2 9-9 1-7 M1339 1885l-4 7-1 6 1 5 2 9 5 4 7-1 7-1 5 1 0-10 1-10-1-5-5-3-5-5-8 0-4 3 M1348 1904l1 2 4 3 3 0 5 1 1-1 4-2 1-3-1-4-1-2-3-1-4-1-2 0-3 1-2 2-3 3 1 2 M1365 1896l-4-1-7 3-3 1-3 5-1 4 3 4 4 4 7 1 3 1 6-4 3-3 1-4-3-5-1-4-5-1 M1387 1897l-4-9-7-2-8 1-3 7-1 9 3 6 5 6 7 0 4-4 6-5-3-13 M1332 1895l4 9 3 7 8 9 8 1 9-6 7-6 3-7-2-10-8-9-6-3-11 2-10 5-2 7 M1347 1920l8 4 5 1 7 5 7-3 5 0 6-6 2-10 0-11-3-4-5-4-6-4-11 3-5-4-7 7-1 8-2 8 3 11 M1315 1909l1 11 6 8 10 6 13-2 7-12 3-6-4-12-7-10-13 1-9 5-4 9 M1347 1887l7-5 0-6-1-7-4-5-6-2-6-3-6 6-2 4-3 4 1 7 3 5 6 2 7 4 6-3 M1367 1927l3-6 1-4 0-3-1-2-3-4-6-2-4 2-2 3-2 3 0 4 2 4 3 3 4 0 5 0 M1336 1901l-7 10 2 5 5 8 9 3 9 6 6-7 8-6 5-1 0-11-5-6-5-6-14-1-9 2-4 2 M1322 1899l5 7 3 5 8 5 6 3 6-2 7-3 5-5 3-8-1-6-5-12-5-3-6-2-8-4-8 6-6 5-4 5 1 14 M1360 1903l0 1 1 1 2 1 2 0 1-1 1-1 1-2 0-1-1-1-2-1-1 1-2 0-2 0 0 1-1 2 M1355 1931l1-2-1-5-1-1-3-1-3-1-2 3-3 3 2 3 0 2 3 1 3 1 2 1 3-2 M1360 1914l-1-3-2-4-3 0-3-2-3 0-2 1-3 1-1 5 0 5 3 1 1 1 4 2 2 0 4-1 2-2 1-4 M1360 1872l-6-2-10 3-6-2-4 10-2 7 3 9 5 2 5 5 9 2 5-7 6-4 2-6-3-10-5-6 M1355 1903l-2-3-1-4-5-4-5 1-3 2-6 2-2 6 1 6-1 4 5 4 2 5 3 1 4 2 7-6 2-4 1-3 1-6 M1352 1912l2-2 1-3-1-4-1-3-2-2-3-1-2 3-2 0-1 2-1 4 0 2 1 3 2 3 3 1 3-2 2-1 M1348 1893l-9-3-6-3-10 3-5 11-1 9 3 8 7 8 8 4 9 0 7-6 0-10 4-13-7-10 M1374 1880l3-5-3-6-3-11-5-2-8 0-3 3-7 2-5 4-3 5 2 7 3 6 4 3 6 6 7 1 3-1 6-4 4-10 M1354 1874l-3 4 1 6 4 2 3 2 4 3 6-2 2-1 1-6 2-3-1-5-3-3-4-3-5 2-5 2-3 1" fill="none" stroke="#0072bd" stroke-width="1.9" />
<path d="M1293 1891l2 21 3 10 5 13 19 17 19 1 15 4 25-8 4-24 1-8 13-19-13-15-8-19-20-14-20 11-20 7-9 5-13 15 M1301 1929l20 12 17-3 21-11 21-10 10-18-11-14-14-21-21-6-15 1-16 2-19 17-12 19-2 20 18 11 M1411 1923l22-16-20-12 1-14-19-14-13-7-35-1-17 3-16 19-32 13 11 17 12 11 0 11 39 5 34 4 17-2 24-15 M1325 1862l-8 8-15 23-2 17-2 12 14 16 20 5 16 10 12-8 18 3 13-14 5-14 1-27-15-10 2-5-20-11-24-3-16 7 M1280 1868l5 21 1 31 12 7 24 13 23 11 37-22 15-15 11-28-23-17-27-23-21 3-26 0-22 17 M1278 1929l17 20 44 9 39 10 28-27 27-22 12-30-22-24-21-20-39-20-45 21-23 14-6 33-12 30 M1400 1924l8-16-7-11 2-11-11-6-5-8-16-4-25 7-3 0-13 7-9 14 6 8 0 13 13 6 13 9 19-7 18 1 12-5 M1398 1943l9-30-15-29-11-22-21-8-35-2-19 2-20 23-5 28 17 19 11 18 27 11 41 4 26-23 M1389 1909l8-13-9-20-20-8-24-3-24-2-18 22-6 6 3 26 8 12 24 9 15 1 21 3 19-17 11-22 M1359 1854l-28 0-13 7-29 11-6 20-10 26 8 21 20 16 25 10 41 3 27-4 21-24 4-17-1-32 6-15-35-16-24-10 M1306 1874l-18 14 1 17 6 8 11 24 9-2 29 9 21 2 19-8 6-16 5-7 3-17-6-20-8-9-30-5-12 0-18 3-22 10 M1360 1912l2-9-2-8-5-8-5-6-8-1-12-2-10 5-6 0-5 9-4 6 5 7-4 3 8 13 5 1 11 1 5 4 10-7 7-1 7-9 M1340 1846l-24 5-22 15-10 13-3 18 5 9 0 22 23-2 24 16 24-7 25 7 13-4 10-13 31-9-3-19 3-21-16-12-21-4-4-3-49-15-15 15 M1358 1856l-32-1-16 10-7 11-6 13-6 16 12 18 20 5 13 13 24-10 18-6 17-14 3-10-3-18-9-8-18-19-13 2 M1373 1871l-13-7-14 4-7-1-24 8-3 7-10 10 4 13 1 12 2 12 12 15 18-6 12 4 15-10 13-4 9-7 5-17 2-15-6-10-10-5 M1373 1925l16-16-1-22-15-6-14-20-17 5-19 9-15 3-11 23 6 13 10 15 23 15 28-11 11-4 M1318 1935l34 6 23-7 23-6 1-28-8-20-30-12-23 0-27 3-23 19 3 17 7 21 26 18 M1402 1864l-29-15-17-13-16 7-30 12-17 14-4 23 13 35 11 17 13 17 12 6 29-7 23-9 12-19 10-28-7-24-8-24 M1431 1898l-13-22 2-22-41-11-28-12-21-2-14 13-21 8-16 14-29 13 6 32 16 12 8 27 14 18 40-6 16 21 26-20 28-7 2-12 16-15 0-27 M1281 1865l3 18-13 11 3 23 13 12 26 17 18 4 22-4 32-4 11-10 19-21 2-13 0-25-17-10 1-15-22-17-36 12-18-1-32 4-10 24 M1301 1930l19 2 8 4 20-8 9-9 16-14-3-10-20-6-15-6-22-5-7 10-17 10-8 9 15 10 7 12 M1302 1884l-4 11 5 22 17 7 16 7 28-2 17-6 13-18-6-16-1-16-27-9-13-3-26 9-13 10 M1331 1956l31-4 30-4 23-13 14-15-9-29 9-7-16-27-12-15-22-3-32 2-26-3-20 7-16 27-1 23-6 20 20 26 7 7 40 7 M1351 1851l-38 2-26 22-2 32-7 21 28 12 35 22 47-7 16-8 13-27 15-26-6-20-42-23-36-5 M1290 1947l34 8 13 7 24-11 22-3 13-14 7-19 10-19-13-24-21-9-14-6-29-15-19 11-20 10-25 14-15 14 14 26 1 13 13 19 M1361 1952l31-17 21-18 5-29-22-22-33-8-37 0-28 7-17 22 11 24 4 21 40 8 22 6" fill="none" stroke="#0072bd" stroke-width="1.9" />
<path d="M1404.3,1835 1421.8,1817.5 1453.4,1809.4 1481.4,1828 1495.5,1864.9 1499,1919.2 1492,1961.3 1474.4,1987.6 1442.9,1998.2 1418.3,2002.4 1393.8,1999.9 1369.2,1991.1" fill="none" stroke="#0072bd" stroke-width="1.9" />
<path d="M1432.3,1868.4 1453.4,1850.8 1472.7,1843.1 1483.2,1852.6 1486.7,1864.9 1479.7,1885.9 1463.9,1901.7 1435.8,1914" fill="none" stroke="#0072bd" stroke-width="1.9" />
<path d="M1278,1868.4 1246.4,1889.4 1220.1,1899.9 1210.7,1912.9 1214.9,1942 1225.4,1957.8 1241.2,1965.5 1267.5,1969.4 1302.6,1973.6 1327.1,1971.8" fill="none" stroke="#0072bd" stroke-width="1.9" />
<path d="M1358.7,1833.3 1369.2,1801.7 1381.1,1790.5 1388.5,1801.7 1390.2,1822.8 1397.3,1821 1407.8,1836.8" fill="none" stroke="#0072bd" stroke-width="1.9" />
<path d="M1337.6,1977.1 1348.2,1998.2 1371,2008 1386.7,2001.7 1402.5,1991.1 1414.8,1977.1" fill="none" stroke="#0072bd" stroke-width="1.9" />
<path d="M1323.6,1822.8 1351.7,1808 1372.7,1815.8 1386.7,1826.3" fill="none" stroke="#0072bd" stroke-width="1.9" />
<path d="M1267.5,1836.8 1278,1827 1304.3,1822.1 1327.1,1829.8" fill="none" stroke="#0072bd" stroke-width="1.9" />
<path d="M1432.3,1917.5 1442.9,1945.5 1442.9,1977.1 1435.8,1999.9 1420.1,2008.7 1395.5,2002.4" fill="none" stroke="#0072bd" stroke-width="1.9" />
<path d="M1311.3,1976.4 1320.1,1970.1 1327.1,1982.4 1334.1,1966.6 1348.2,1978.9 1351.7,1966.6 1358.7,1970.1" fill="none" stroke="#0072bd" stroke-width="1.9" />
<path d="M1255.2,1847.3 1242.9,1868.4 1239.4,1899.9 1242.9,1909.8 1267.5,1909.8" fill="none" stroke="#0072bd" stroke-width="1.9" />
</g>
<rect x="1192" y="1771.2" width="334.3" height="263.1" fill="none" stroke="#4d4d4d" stroke-width="1.7"/>
<path d="M1247.4,2034.3v-3.6 M1247.4,1771.2v3.6 M1303,2034.3v-3.6 M1303,1771.2v3.6 M1358.7,2034.3v-3.6 M1358.7,1771.2v3.6 M1414.4,2034.3v-3.6 M1414.4,1771.2v3.6 M1470,2034.3v-3.6 M1470,1771.2v3.6 M1192,1804h3.6 M1526.3,1804h-3.6 M1192,1836.9h3.6 M1526.3,1836.9h-3.6 M1192,1869.8h3.6 M1526.3,1869.8h-3.6 M1192,1902.7h3.6 M1526.3,1902.7h-3.6 M1192,1935.6h3.6 M1526.3,1935.6h-3.6 M1192,1968.5h3.6 M1526.3,1968.5h-3.6 M1192,2001.4h3.6 M1526.3,2001.4h-3.6 " fill="none" stroke="#4d4d4d" stroke-width="1.5" />
<text transform="translate(1186.1,2055) scale(0.92,1)" font-size="19.8" fill="#4d4d4d" stroke="#4d4d4d" text-anchor="middle">-3</text>
<text transform="translate(1358.7,2055) scale(0.92,1)" font-size="19.8" fill="#4d4d4d" stroke="#4d4d4d" text-anchor="middle">0</text>
<text transform="translate(1516.5,2055) scale(0.92,1)" font-size="19.8" fill="#4d4d4d" stroke="#4d4d4d" text-anchor="middle">3</text>
<text transform="translate(1179.8,1777.2) scale(0.92,1)" font-size="19.8" fill="#4d4d4d" stroke="#4d4d4d" text-anchor="end">20</text>
<text transform="translate(1179.8,1843.8) scale(0.92,1)" font-size="19.8" fill="#4d4d4d" stroke="#4d4d4d" text-anchor="end">10</text>
<text transform="translate(1179.8,1909.8) scale(0.92,1)" font-size="19.8" fill="#4d4d4d" stroke="#4d4d4d" text-anchor="end">0</text>
<text transform="translate(1179.8,1975.7) scale(0.92,1)" font-size="19.8" fill="#4d4d4d" stroke="#4d4d4d" text-anchor="end">-10</text>
<text transform="translate(1179.8,2036) scale(0.92,1)" font-size="19.8" fill="#4d4d4d" stroke="#4d4d4d" text-anchor="end">-20</text>
<text x="1364" y="2083" font-size="19.4" fill="#231f20" stroke="#231f20" text-anchor="middle" >Yaw velocity (rad/s)</text>
<text x="1143.5" y="1896.4" font-size="19.4" fill="#231f20" stroke="#231f20" text-anchor="middle" transform="rotate(-90 1143.5 1896.4)" >Yaw acceleration (rad/s<tspan font-size="11.5" dy="-6.5">2</tspan><tspan dy="6.5">)</tspan></text>
</g>
<!-- panel H -->
<g>
<text transform="translate(3.5,2224.2) scale(0.965,1)" font-size="89.5" fill="#231f20" stroke="none">H</text>
<text x="106" y="2276.2" font-size="21.2" fill="#4d4d4d" stroke="#4d4d4d" text-anchor="middle" transform="rotate(-90 106 2276.2)" >Y vel.</text>
<text x="135.7" y="2261.8" font-size="21.2" fill="#4d4d4d" stroke="#4d4d4d" text-anchor="middle" transform="rotate(-90 135.7 2261.8)" >0.4 m/s</text>
<text x="106" y="2365.6" font-size="21.2" fill="#4d4d4d" stroke="#4d4d4d" text-anchor="middle" transform="rotate(-90 106 2365.6)" >Y accel.</text>
<text x="135.7" y="2361" font-size="21.2" fill="#4d4d4d" stroke="#4d4d4d" text-anchor="middle" transform="rotate(-90 135.7 2361)" >0.2 m/s<tspan font-size="12.4" dy="-7">2</tspan></text>
<text x="110.8" y="2487.6" font-size="21.2" fill="#4d4d4d" stroke="#4d4d4d" text-anchor="middle" transform="rotate(-90 110.8 2487.6)" >Yaw vel.</text>
<text x="135.7" y="2493" font-size="21.2" fill="#4d4d4d" stroke="#4d4d4d" text-anchor="middle" transform="rotate(-90 135.7 2493)" >1 rad/s</text>
<text x="106" y="2598.2" font-size="21.2" fill="#4d4d4d" stroke="#4d4d4d" text-anchor="middle" transform="rotate(-90 106 2598.2)" >Yaw accel.</text>
<text x="135.7" y="2593.4" font-size="21.2" fill="#4d4d4d" stroke="#4d4d4d" text-anchor="middle" transform="rotate(-90 135.7 2593.4)" >8 rad/s<tspan font-size="12.4" dy="-7">2</tspan></text>
<rect x="142.1" y="2259.6" width="4.1" height="41.4" fill="#4d4d4d"/>
<rect x="142.1" y="2355.2" width="4.1" height="46.3" fill="#4d4d4d"/>
<rect x="142.1" y="2478.6" width="4.1" height="42.4" fill="#4d4d4d"/>
<rect x="142.1" y="2584.8" width="4.1" height="46.2" fill="#4d4d4d"/>
<path d="M160.4,2299.4C170.9,2299.3 202.1,2298.8 223.2,2298.8C244.3,2298.8 270.8,2299.5 287,2299.4C303.2,2299.4 314.1,2299.3 320.5,2298.5C326.8,2297.7 323.7,2295.7 325.3,2294.7C326.8,2293.6 327.4,2292.5 330,2292.1C332.7,2291.7 338,2291.4 341.2,2292.1C344.4,2292.8 346,2295 349.2,2296.2C352.4,2297.5 357.4,2298.4 360.3,2299.4C363.3,2300.5 364.1,2300.2 366.7,2302.6C369.4,2305 372.8,2310.8 376.3,2313.8C379.7,2316.8 384,2319.5 387.4,2320.8C390.9,2322.1 394.1,2320.7 397,2321.8C399.9,2322.8 402.8,2326.3 405,2327.2C407.1,2328.1 409,2327.2 409.8,2327.2" fill="none" stroke="#0072bd" stroke-width="1.85" stroke-linecap="round"/>
<path d="M482.5,2315.4C483.2,2314.1 485.2,2310.1 486.7,2307.4C488.2,2304.8 489.6,2301.1 491.5,2299.4C493.3,2297.7 495.2,2297.6 497.8,2297.2C500.5,2296.8 504.5,2297.2 507.4,2296.9C510.3,2296.6 513,2295.7 515.4,2295.3C517.8,2294.9 519.6,2294.5 521.7,2294.7C523.9,2294.8 526,2295.5 528.1,2296.2C530.3,2297 532.4,2298.7 534.5,2299.4C536.6,2300.2 536.9,2300.7 540.9,2300.7C544.9,2300.8 553.4,2300 558.4,2299.8C563.5,2299.5 567.2,2299.4 571.2,2299.1C575.2,2298.8 578.6,2298 582.3,2297.8C586.1,2297.7 589,2298.2 593.5,2298.5C598,2298.7 601.5,2299.3 609.4,2299.4C617.4,2299.6 630.7,2299.6 641.3,2299.4C652,2299.3 662.6,2298.6 673.2,2298.5C683.8,2298.4 695.3,2298.5 705.1,2298.8C714.9,2299.1 727.7,2299.9 732.2,2300.1" fill="none" stroke="#0072bd" stroke-width="1.85" stroke-linecap="round"/>
<path d="M840.6,2304.2C841.7,2305.1 845,2308.7 847,2309.6C849,2310.6 850.6,2310.7 852.4,2310C854.3,2309.2 856.1,2306.9 858.2,2305.2C860.2,2303.4 862.4,2300.6 864.5,2299.4C866.7,2298.3 868.3,2298.2 870.9,2298.5C873.6,2298.7 877.6,2300.5 880.5,2301C883.4,2301.6 885.8,2301.9 888.5,2301.7C891.1,2301.4 893.9,2300.2 896.4,2299.4C898.9,2298.7 902.3,2297.6 903.4,2297.2" fill="none" stroke="#0072bd" stroke-width="1.85" stroke-linecap="round"/>
<path d="M409.8,2327.2C410.6,2325.5 412.8,2322.7 414.5,2317C416.3,2311.3 418.4,2300.8 420.3,2293.1C422.1,2285.4 423.9,2276.6 425.7,2270.7C427.5,2264.9 429.3,2260.9 431.1,2258C433,2255.1 435.1,2253.5 436.9,2253.2C438.6,2252.9 440.1,2254.3 441.6,2256.4C443.2,2258.5 444.8,2262.8 446.4,2266C448,2269.1 449.6,2273.1 451.2,2275.5C452.8,2277.9 454.1,2279.2 456,2280.3C457.9,2281.4 460.5,2280.6 462.4,2281.9C464.2,2283.2 465.6,2285.4 467.2,2288.3C468.8,2291.2 470.2,2295.7 471.9,2299.4C473.6,2303.2 475.7,2307.9 477.4,2310.6C479.1,2313.3 481.3,2314.6 482.1,2315.4" fill="none" stroke="#8a2a8c" stroke-width="4.1" stroke-linecap="round" stroke-linejoin="round"/>
<path d="M732.2,2300.1C734.1,2300.1 739.9,2300.3 743.4,2300.1C746.8,2299.9 750.3,2299.4 752.9,2298.8C755.6,2298.2 757.5,2297.7 759.3,2296.2C761.2,2294.8 762.5,2291.5 764.1,2289.9C765.7,2288.3 767.3,2286.8 768.9,2286.7C770.5,2286.6 772.1,2287.1 773.7,2289.2C775.3,2291.4 776.8,2296.6 778.4,2299.4C780,2302.3 781.6,2305 783.2,2306.5C784.8,2307.9 786.2,2307.8 788,2308.4C789.9,2308.9 792.5,2308.7 794.4,2309.6C796.2,2310.5 797.6,2312.8 799.2,2313.8C800.8,2314.7 802.5,2315.6 804,2315.4C805.4,2315.1 806.5,2314.3 807.8,2312.2C809.1,2310.1 810.4,2305.8 811.9,2302.6C813.4,2299.4 815.1,2295.7 816.7,2293.1C818.3,2290.4 819.9,2287.9 821.5,2286.7C823.1,2285.5 824.7,2285.3 826.3,2285.7C827.9,2286.2 829.5,2287.2 831.1,2289.2C832.7,2291.3 834.2,2295.3 835.8,2297.8C837.4,2300.3 839.8,2303.2 840.6,2304.2" fill="none" stroke="#2fad55" stroke-width="4.1" stroke-linecap="round" stroke-linejoin="round"/>
<path d="M160.4,2400.5C168.7,2400.3 200,2399.3 210.5,2399.2C220.9,2399.2 210.5,2399.9 223.2,2400.2C236,2400.5 273.7,2400.9 287,2400.8C300.3,2400.8 297.6,2400 302.9,2399.9C308.2,2399.8 313.6,2400.2 318.9,2400.2C324.2,2400.2 331.1,2400.4 334.8,2399.9C338.5,2399.4 339.3,2397 341.2,2397C343.1,2397 344.4,2398.7 346,2399.9C347.6,2401.1 348.9,2403.4 350.8,2404C352.6,2404.7 354.5,2403.3 357.1,2403.7C359.8,2404.1 363.5,2405.9 366.7,2406.6C369.9,2407.3 373.1,2407.6 376.3,2407.9C379.5,2408.1 383.1,2408.8 385.8,2407.9C388.6,2406.9 390.7,2402.5 392.9,2402.1C395,2401.7 396.8,2404.5 398.6,2405.3C400.4,2406.2 402.1,2407.6 403.4,2407.2C404.7,2406.8 405.6,2404.9 406.6,2403.1C407.5,2401.2 408.7,2397.2 409.1,2396.1" fill="none" stroke="#0072bd" stroke-width="1.85" stroke-linecap="round"/>
<path d="M484.1,2397.7C484.5,2396.2 485.7,2390.7 486.7,2388.7C487.6,2386.7 488.5,2384.7 489.9,2385.5C491.2,2386.3 492.8,2391.3 494.6,2393.5C496.5,2395.7 498.9,2397.7 501,2398.9C503.1,2400.2 505.5,2400.9 507.4,2400.8C509.3,2400.7 510.6,2398.8 512.2,2398.3C513.8,2397.8 515.4,2396.9 517,2397.7C518.6,2398.5 520.2,2401.7 521.7,2403.1C523.3,2404.4 524.7,2405.1 526.5,2405.6C528.4,2406.2 530.8,2406.5 532.9,2406.3C535,2406 537.4,2405 539.3,2404C541.1,2403.1 541.9,2401.3 544.1,2400.5C546.2,2399.8 549.1,2399.5 552,2399.6C555,2399.6 558.9,2400.8 561.6,2400.8C564.3,2400.9 565.9,2400.3 568,2399.9C570.1,2399.5 572.2,2397.9 574.4,2398.3C576.5,2398.7 578.6,2401.6 580.7,2402.4C582.9,2403.2 584.7,2403.2 587.1,2403.1C589.5,2402.9 592.4,2402 595.1,2401.5C597.7,2401 597.5,2400.3 603.1,2400.2C608.6,2400.2 622.2,2401.1 628.6,2401.2C634.9,2401.2 633.9,2400.7 641.3,2400.5C648.8,2400.4 662.6,2400.2 673.2,2400.2C683.8,2400.3 695.3,2400.6 705.1,2400.8C714.9,2401.1 727.7,2401.4 732.2,2401.5" fill="none" stroke="#0072bd" stroke-width="1.85" stroke-linecap="round"/>
<path d="M840.6,2414.2C841.4,2413.7 843.8,2413.2 845.4,2411C847,2408.9 848.6,2404.4 850.2,2401.5C851.8,2398.6 853.1,2395.3 855,2393.5C856.8,2391.8 859.5,2391.2 861.4,2391C863.2,2390.7 864.5,2391.1 866.1,2391.9C867.7,2392.8 869.1,2394.7 870.9,2396.1C872.8,2397.4 874.6,2399.2 877.3,2399.9C880,2400.5 883.7,2400 886.9,2399.9C890.1,2399.8 893.7,2399.1 896.4,2399.2C899.2,2399.4 902.3,2400.3 903.4,2400.5" fill="none" stroke="#0072bd" stroke-width="1.85" stroke-linecap="round"/>
<path d="M409.1,2396.1C409.8,2393.8 411.6,2387.3 412.9,2382.3C414.3,2377.4 415.8,2370.1 417.1,2366.4C418.4,2362.7 419.5,2360.9 420.9,2360C422.4,2359.1 424.1,2358.9 425.7,2361C427.3,2363.1 428.9,2367.6 430.5,2372.8C432.1,2377.9 433.8,2385.8 435.3,2391.9C436.8,2398 438.1,2404.9 439.4,2409.5C440.7,2414 442.1,2417.2 443.2,2419C444.4,2420.9 445.1,2421.1 446.4,2420.6C447.8,2420.1 449.6,2418.1 451.2,2415.8C452.8,2413.6 454.7,2409.2 456,2407.2C457.3,2405.3 458,2403.7 459.2,2404C460.4,2404.4 461.7,2407.5 463,2409.5C464.3,2411.4 465.4,2414.6 467.2,2415.8C468.9,2417.1 471.7,2416.9 473.5,2416.8C475.4,2416.6 477,2416.4 478.3,2414.9C479.6,2413.4 480.5,2410.7 481.5,2407.9C482.5,2405 483.6,2399.4 484.1,2397.7" fill="none" stroke="#8a2a8c" stroke-width="4.1" stroke-linecap="round" stroke-linejoin="round"/>
<path d="M732.2,2401.5C734.1,2401.3 739.4,2401.1 743.4,2400.5C747.4,2400 753.5,2399.7 756.1,2398.3C758.8,2396.9 758,2393.4 759.3,2391.9C760.6,2390.4 762.8,2388.8 764.1,2389.4C765.4,2389.9 766,2392 767.3,2395.1C768.6,2398.2 770.5,2404.8 772.1,2407.9C773.7,2410.9 775.3,2412.7 776.8,2413.3C778.4,2413.8 780,2412.2 781.6,2411C783.2,2409.9 784.8,2407.2 786.4,2406.3C788,2405.3 789.6,2404.5 791.2,2405.3C792.8,2406.1 794.5,2409.3 796,2411C797.5,2412.8 798.9,2416.4 800.1,2415.8C801.3,2415.3 802.1,2411.8 803.3,2407.9C804.5,2403.9 806,2396.4 807.1,2391.9C808.3,2387.4 809,2382.9 810.3,2380.8C811.7,2378.6 813.5,2379.2 815.1,2379.2C816.7,2379.2 818.5,2378.6 819.9,2380.8C821.3,2382.9 822.4,2387.4 823.7,2391.9C825.1,2396.4 826.4,2403.3 827.9,2407.9C829.4,2412.4 831.2,2417.1 832.7,2419C834.1,2421 835.2,2420.5 836.5,2419.7C837.8,2418.9 839.9,2415.1 840.6,2414.2" fill="none" stroke="#2fad55" stroke-width="4.1" stroke-linecap="round" stroke-linejoin="round"/>
<path d="M160.4,2521.7C165.6,2521.7 180.9,2522.1 191.3,2522C201.8,2521.9 212.6,2521.1 223.2,2521.1C233.8,2521 245.5,2521.4 255.1,2521.7C264.7,2522 273.7,2522.9 280.6,2522.7C287.5,2522.4 290.4,2520.7 296.6,2520.4C302.7,2520.2 313,2520.2 317.3,2521.1C321.5,2522 320.2,2523.2 322.1,2525.8C323.9,2528.5 326.3,2533.8 328.4,2537C330.6,2540.2 333,2542.6 334.8,2545C336.7,2547.4 338.3,2550 339.6,2551.4C340.9,2552.7 341.7,2553.5 342.8,2552.9C343.9,2552.4 344.9,2551.1 346,2548.2C347,2545.2 348.1,2539 349.2,2535.4C350.2,2531.8 351,2528.6 352.4,2526.5C353.7,2524.4 355.5,2524.1 357.1,2522.7C358.7,2521.2 360.4,2518.8 361.9,2517.9C363.4,2516.9 364.8,2516.1 366.1,2516.9C367.3,2517.7 368.1,2519.6 369.3,2522.7C370.4,2525.7 371.9,2532.5 373.1,2535.4C374.3,2538.3 374.7,2539.9 376.3,2540.2C377.9,2540.5 380.8,2538.6 382.7,2537C384.5,2535.4 385.8,2533.3 387.4,2530.6C389,2528 390.6,2523.2 392.2,2521.1C393.8,2518.9 395.4,2518.2 397,2517.9C398.6,2517.5 400.2,2519.9 401.8,2518.8C403.4,2517.8 405.2,2514.1 406.6,2511.5C407.9,2508.8 409.2,2504.3 409.8,2502.9" fill="none" stroke="#0072bd" stroke-width="1.85" stroke-linecap="round"/>
<path d="M483.5,2505.8C484.3,2506.2 486.4,2506.5 488.3,2508.3C490.1,2510.1 492.5,2514.3 494.6,2516.3C496.8,2518.2 498.9,2518.8 501,2520.1C503.1,2521.4 505.3,2522.2 507.4,2524.2C509.5,2526.3 511.6,2530 513.8,2532.2C515.9,2534.5 518,2536.8 520.2,2537.6C522.3,2538.4 524.4,2538.7 526.5,2537C528.7,2535.3 530.8,2529.3 532.9,2527.4C535,2525.6 536.9,2526.1 539.3,2525.8C541.7,2525.6 544.9,2525.2 547.3,2525.8C549.6,2526.5 551.5,2528.5 553.6,2529.7C555.8,2530.8 557.9,2532.4 560,2532.9C562.1,2533.3 564.3,2533.4 566.4,2532.2C568.5,2531.1 570.6,2528.2 572.8,2525.8C574.9,2523.5 577,2519.6 579.1,2517.9C581.3,2516.2 583.4,2515.8 585.5,2515.6C587.6,2515.5 589.5,2516.3 591.9,2516.9C594.3,2517.6 595.9,2518.8 599.9,2519.5C603.9,2520.2 608.9,2520.7 615.8,2521.1C622.7,2521.4 632.8,2521.7 641.3,2521.7C649.8,2521.7 660.2,2521.5 666.8,2521.1C673.5,2520.6 676.4,2518.9 681.2,2518.8C686,2518.7 690.5,2519.9 695.5,2520.4C700.6,2520.9 705.4,2521.4 711.5,2521.7C717.6,2522 728.8,2522 732.2,2522" fill="none" stroke="#0072bd" stroke-width="1.85" stroke-linecap="round"/>
<path d="M839.7,2521.1C840.6,2520.8 843.7,2520.5 845.4,2519.5C847.2,2518.4 848.6,2515.6 850.2,2514.7C851.8,2513.7 853.1,2513.2 855,2513.7C856.8,2514.3 859.2,2516.8 861.4,2517.9C863.5,2519 865.3,2519.5 867.7,2520.4C870.1,2521.4 873.3,2523.2 875.7,2523.6C878.1,2524 880,2523.5 882.1,2522.7C884.2,2521.9 886.1,2519.6 888.5,2518.8C890.8,2518 893.9,2517.8 896.4,2517.9C898.9,2518 902.3,2519.2 903.4,2519.5" fill="none" stroke="#0072bd" stroke-width="1.85" stroke-linecap="round"/>
<path d="M409.8,2502.9C410.3,2499.8 411.9,2489.6 412.9,2484.4C414,2479.2 414.9,2474.7 416.1,2471.6C417.4,2468.6 419,2465.9 420.3,2465.9C421.6,2465.9 422.9,2467.5 424.1,2471.6C425.3,2475.8 426.2,2483.3 427.3,2490.8C428.4,2498.2 429.4,2508.6 430.5,2516.3C431.5,2524 432.5,2532.2 433.7,2537C434.8,2541.8 436.2,2543.9 437.5,2545C438.8,2546 440.2,2544.7 441.6,2543.4C443.1,2542.1 444.8,2538.8 446.4,2537C448,2535.2 449.6,2533.4 451.2,2532.9C452.8,2532.3 454.1,2533.3 456,2533.8C457.9,2534.3 460.5,2536.3 462.4,2536C464.2,2535.8 465.8,2534.5 467.2,2532.2C468.5,2530 469.1,2526.1 470.3,2522.7C471.6,2519.2 473.2,2514.1 474.5,2511.5C475.8,2508.8 476.9,2507.6 478.3,2506.7C479.8,2505.8 482.3,2506.2 483.1,2506.1" fill="none" stroke="#8a2a8c" stroke-width="4.1" stroke-linecap="round" stroke-linejoin="round"/>
<path d="M732.2,2522C733.5,2522.3 737.5,2522.6 740.2,2523.6C742.8,2524.6 745.5,2527.1 748.2,2528.1C750.8,2529.1 753.7,2528.4 756.1,2529.7C758.5,2530.9 760.4,2533.1 762.5,2535.4C764.6,2537.7 767,2541.3 768.9,2543.4C770.7,2545.5 772.3,2547.8 773.7,2548.2C775,2548.5 775.5,2548.8 776.8,2545.6C778.2,2542.4 780,2534.7 781.6,2529C783.2,2523.3 784.8,2516.3 786.4,2511.5C788,2506.7 789.6,2502.6 791.2,2500.3C792.8,2498.1 794.4,2497.8 796,2498.1C797.6,2498.4 799.2,2500.1 800.8,2501.9C802.4,2503.8 804,2507.7 805.5,2509.3C807.1,2510.9 808.5,2511.7 810.3,2511.5C812.2,2511.3 814.6,2509.6 816.7,2508.3C818.8,2507 821.4,2504.3 823.1,2503.5C824.8,2502.7 825.6,2502.2 826.9,2503.5C828.2,2504.8 829.6,2508.8 831.1,2511.5C832.5,2514.1 834.4,2517.9 835.8,2519.5C837.3,2521.1 839,2520.8 839.7,2521.1" fill="none" stroke="#2fad55" stroke-width="4.1" stroke-linecap="round" stroke-linejoin="round"/>
<path d="M160.4,2631.1C161.6,2631.4 164.4,2633 167.4,2633C170.4,2633 175.1,2631.5 178.6,2631.1C182,2630.6 185.2,2630.9 188.1,2630.4C191.1,2630 193.5,2628.6 196.1,2628.5C198.8,2628.5 200.6,2629.7 204.1,2630.1C207.5,2630.5 212.1,2630.8 216.8,2631.1C221.6,2631.4 226.9,2632.2 232.8,2632C238.6,2631.9 247.7,2630.8 251.9,2630.1C256.2,2629.4 256.2,2628.1 258.3,2627.9C260.4,2627.7 262.6,2628 264.7,2628.8C266.7,2629.6 268.3,2632.3 270.4,2632.7C272.5,2633 274.9,2631.4 277.4,2631.1C279.9,2630.7 283.2,2631.8 285.4,2630.4C287.6,2629.1 289,2623.7 290.8,2623.1C292.7,2622.5 294.5,2626.4 296.6,2626.9C298.6,2627.4 300.9,2626.2 302.9,2626C305,2625.7 306.5,2626.5 308.7,2625.3C310.8,2624.2 313.7,2618 315.7,2619C317.7,2619.9 318.9,2626.9 320.5,2631.1C322.1,2635.2 323.9,2642.1 325.3,2643.8C326.6,2645.5 327.2,2642.4 328.4,2641.3C329.7,2640.1 331,2635.9 332.6,2636.8C334.2,2637.8 336.6,2646.4 338,2647C339.4,2647.7 340.1,2646 341.2,2640.6C342.3,2635.3 343.1,2623 344.4,2615.1C345.7,2607.3 347.7,2595 349.2,2593.4C350.7,2591.8 352,2601.3 353.3,2605.6C354.6,2609.8 355.7,2616.6 357.1,2619C358.6,2621.3 360.6,2617.9 361.9,2619.9C363.3,2621.9 364.1,2626 365.1,2631.1C366.2,2636.1 367.2,2645.2 368.3,2650.2C369.4,2655.3 370.4,2661.4 371.5,2661.4C372.6,2661.4 373.6,2655.3 374.7,2650.2C375.7,2645.2 376.9,2636 377.9,2631.1C378.8,2626.2 379.1,2621.9 380.4,2620.9C381.7,2619.8 383.6,2622.7 385.8,2624.7C388.1,2626.7 391.6,2630.8 393.8,2632.7C396,2634.5 397.6,2637.2 399.2,2635.9C400.8,2634.5 401.8,2631 403.4,2624.7C405,2618.4 407.9,2602.6 408.8,2598.2" fill="none" stroke="#0072bd" stroke-width="1.85" stroke-linecap="round"/>
<path d="M483.5,2630.4C484.5,2631.3 488,2634.7 489.9,2635.9C491.7,2637 492.8,2637.4 494.6,2637.4C496.5,2637.4 499,2636.2 501,2635.9C503,2635.5 504.9,2634.3 506.8,2635.2C508.6,2636.1 510.5,2640 512.2,2641.3C513.9,2642.6 515.4,2643.8 517,2642.9C518.6,2642 520.2,2638.9 521.7,2635.9C523.3,2632.8 524.9,2627 526.5,2624.7C528.1,2622.4 529.7,2621.7 531.3,2622.1C532.9,2622.6 534.5,2625.9 536.1,2627.2C537.7,2628.6 539.3,2629.9 540.9,2630.4C542.5,2631 543.8,2630.8 545.7,2630.4C547.5,2630.1 550.2,2628.1 552,2628.5C553.9,2628.9 555,2632.5 556.8,2632.7C558.7,2632.8 561.1,2631.6 563.2,2629.5C565.3,2627.4 567.5,2620.8 569.6,2619.9C571.7,2619 573.8,2623 576,2624.1C578.1,2625.1 580.2,2624.6 582.3,2626.3C584.5,2628 586.9,2632.7 588.7,2634.3C590.6,2635.9 591.1,2636.1 593.5,2635.9C595.9,2635.6 599.3,2633.6 603.1,2632.7C606.8,2631.7 611.6,2630.4 615.8,2630.1C620.1,2629.8 624.3,2630.8 628.6,2631.1C632.8,2631.4 636.5,2631.9 641.3,2632C646.1,2632.1 653,2632.2 657.3,2631.7C661.5,2631.2 663.6,2629.3 666.8,2628.8C670,2628.4 673.2,2628.5 676.4,2628.8C679.6,2629.2 682.8,2630.4 686,2631.1C689.2,2631.7 692.3,2632.9 695.5,2632.7C698.7,2632.4 701.9,2629.9 705.1,2629.5C708.3,2629.1 710.4,2630 714.7,2630.1C718.9,2630.3 728,2630.4 730.6,2630.4" fill="none" stroke="#0072bd" stroke-width="1.85" stroke-linecap="round"/>
<path d="M840.6,2627.9C841.7,2628.1 845,2628.4 847,2629.5C849,2630.5 850.3,2632.2 852.4,2634.3C854.5,2636.3 857.7,2641.1 859.8,2641.6C861.8,2642.1 862.4,2638.4 864.5,2637.4C866.7,2636.5 870.1,2636.9 872.5,2635.9C874.9,2634.8 876.8,2632.1 878.9,2631.1C881,2630 883.1,2629.7 885.3,2629.5C887.4,2629.2 889.5,2629.4 891.6,2629.5C893.8,2629.6 896.2,2628.9 898,2630.1C899.9,2631.3 902,2635.7 902.8,2636.8" fill="none" stroke="#0072bd" stroke-width="1.85" stroke-linecap="round"/>
<path d="M408.8,2598.2C409.2,2596.5 410.1,2590.1 411.4,2588C412.6,2585.9 415,2583.6 416.1,2585.5C417.3,2587.3 417.6,2591.6 418.4,2599.2C419.2,2606.8 420,2621.5 420.9,2631.1C421.9,2640.6 422.8,2650.7 424.1,2656.6C425.4,2662.4 427.4,2666.1 428.9,2666.1C430.4,2666.1 431.7,2661.4 433,2656.6C434.4,2651.8 435.6,2643 436.9,2637.4C438.1,2631.9 439.4,2625.8 440.7,2623.1C442,2620.4 443.3,2619.9 444.8,2621.5C446.3,2623.1 448.3,2628.9 449.6,2632.7C450.9,2636.4 451.7,2641.3 452.8,2643.8C453.9,2646.3 454.9,2648.7 456,2647.7C457.1,2646.6 458.1,2642.3 459.2,2637.4C460.2,2632.6 461.3,2622.6 462.4,2618.3C463.4,2614.1 464.2,2612.3 465.6,2611.9C466.9,2611.6 468.8,2615.2 470.3,2616.1C471.9,2617 473.5,2616.2 475.1,2617.4C476.7,2618.5 478.5,2621 479.9,2623.1C481.3,2625.2 483.1,2628.9 483.7,2630.1" fill="none" stroke="#8a2a8c" stroke-width="4.1" stroke-linecap="round" stroke-linejoin="round"/>
<path d="M730.6,2630.4C731.7,2630.8 734.9,2632 737,2632.7C739.1,2633.3 741.2,2634.7 743.4,2634.3C745.5,2633.8 747.9,2631 749.7,2630.1C751.6,2629.2 753,2627.6 754.5,2628.8C756,2630.1 757.3,2635.9 758.7,2637.4C760,2639 761.3,2638.1 762.5,2638.1C763.7,2638.1 764.4,2635.6 765.7,2637.4C767,2639.3 769.1,2648.7 770.5,2649.2C771.8,2649.8 772.6,2645.8 773.7,2640.6C774.7,2635.5 775.6,2623.4 776.8,2618.3C778.1,2613.3 779.4,2612 781,2610.3C782.6,2608.6 784.7,2608.3 786.4,2608.1C788.1,2608 789.6,2607.2 791.2,2609.4C792.8,2611.6 794.4,2618.5 796,2621.5C797.6,2624.5 799,2625.7 800.8,2627.2C802.5,2628.8 804.4,2630.7 806.5,2631.1C808.6,2631.4 811.1,2630 813.5,2629.5C815.9,2628.9 819,2626.8 820.9,2627.9C822.7,2628.9 823.2,2633.1 824.7,2635.9C826.1,2638.6 828.1,2643.7 829.5,2644.5C830.8,2645.3 831.5,2642.9 832.7,2640.6C833.8,2638.4 835.2,2633.2 836.5,2631.1C837.8,2628.9 839.9,2628.4 840.6,2627.9" fill="none" stroke="#2fad55" stroke-width="4.1" stroke-linecap="round" stroke-linejoin="round"/>
</g>
<!-- panel I -->
<g>
<text transform="translate(1044,2218.2) scale(0.965,1)" font-size="89.5" fill="#231f20" stroke="none">I</text>
<path d="M1086.8,2371.2C1086.9,2372.7 1086.7,2380.2 1087.4,2382.3C1088.1,2384.5 1089.9,2386.7 1092.2,2387.1C1094.5,2387.6 1102.5,2387.2 1104.9,2385.5C1107.4,2383.8 1109.8,2374.4 1110.7,2374.4C1111.6,2374.4 1111,2383.6 1112,2385.5C1112.9,2387.4 1114.8,2388.3 1117.7,2388.7C1120.6,2389.1 1129.4,2388.5 1133.6,2388.7C1137.9,2388.9 1146.8,2391 1149.6,2390.3C1152.4,2389.7 1152.7,2383.3 1154.4,2383.9C1156.1,2384.6 1160,2391.1 1162.3,2395.1C1164.7,2399.1 1168.9,2410.4 1171.9,2414.2C1174.9,2418.1 1180.8,2422.2 1184.7,2423.8C1188.5,2425.4 1195.9,2426.8 1200.6,2426.4C1205.3,2425.9 1215.1,2423.5 1219.7,2420.6C1224.4,2417.7 1232.5,2410.6 1235.7,2404.7C1238.9,2398.7 1242.4,2384 1243.7,2376C1244.9,2367.9 1245.5,2351.7 1245.3,2344.1C1245,2336.4 1243.8,2323.7 1242.1,2318.6C1240.4,2313.5 1237.2,2308.2 1232.5,2305.8C1227.8,2303.5 1213.8,2301.5 1207,2301C1200.2,2300.5 1187.4,2300.9 1181.5,2302C1175.5,2303.1 1166,2306.4 1162.3,2309C1158.7,2311.6 1156.1,2317.9 1154.4,2321.8C1152.7,2325.6 1150.2,2335.6 1149.6,2337.7" fill="none" stroke="#0072bd" stroke-width="1.8" stroke-linejoin="round"/>
<path d="M1143.2,2331.3C1144.9,2330.1 1152.1,2323.8 1156,2322.4C1159.8,2321 1168.1,2320.4 1171.9,2321.1C1175.7,2321.9 1181.9,2325.5 1184.7,2328.1C1187.4,2330.8 1191.4,2336.2 1192.6,2340.9C1193.9,2345.6 1192.7,2362.4 1194.2,2363.2C1195.7,2364.1 1201.3,2351.1 1203.8,2347.3C1206.4,2343.4 1210.4,2336.4 1213.4,2334.5C1216.3,2332.6 1223.1,2332.1 1226.1,2332.9C1229.1,2333.8 1234,2337.3 1235.7,2340.9C1237.4,2344.5 1239.1,2354.5 1238.9,2360C1238.7,2365.6 1236.2,2377.2 1234.1,2382.3C1232,2387.4 1227,2395.1 1222.9,2398.3C1218.9,2401.5 1209.3,2405.4 1203.8,2406.3C1198.3,2407.1 1186.6,2405.9 1181.5,2404.7C1176.4,2403.4 1169.1,2399.7 1165.5,2396.7C1161.9,2393.7 1156.3,2386.8 1154.4,2382.3C1152.5,2377.9 1151,2367.9 1151.2,2363.2C1151.4,2358.5 1153.2,2350.9 1156,2347.3C1158.7,2343.7 1167.7,2337.6 1171.9,2336.1C1176.2,2334.6 1184.9,2334.2 1187.9,2336.1C1190.8,2338 1193.6,2346.8 1194.2,2350.5C1194.9,2354.1 1192.9,2361.5 1192.6,2363.2" fill="none" stroke="#0072bd" stroke-width="1.8" stroke-linejoin="round"/>
<path d="M1187.9,2363.2C1189.1,2362.8 1194.9,2360.7 1197.4,2360C1200,2359.4 1204.9,2358 1207,2358.4C1209.1,2358.9 1211.7,2363.2 1213.4,2363.2C1215.1,2363.2 1218.7,2357.8 1219.7,2358.4C1220.8,2359.1 1222.2,2366.7 1221.3,2368C1220.5,2369.3 1215.1,2366.5 1213.4,2368C1211.7,2369.5 1210.7,2377.2 1208.6,2379.2C1206.5,2381.1 1200,2382.6 1197.4,2382.3C1194.9,2382.1 1190.7,2379.7 1189.5,2377.6C1188.2,2375.4 1188.1,2367.9 1187.9,2366.4" fill="none" stroke="#0072bd" stroke-width="1.8" stroke-linejoin="round"/>
<path d="M1143.2,2331.3C1142.6,2333.5 1139.5,2342.2 1138.4,2347.3C1137.4,2352.4 1135.8,2363.2 1135.2,2369.6C1134.7,2376 1134.3,2389.4 1134.3,2395.1C1134.3,2400.8 1134.5,2410.1 1135.2,2412.6C1136,2415.2 1139,2415.3 1140,2414.2C1141.1,2413.2 1141.9,2408.1 1143.2,2404.7C1144.5,2401.3 1147.9,2391.7 1149.6,2388.7C1151.3,2385.7 1153.4,2382.6 1156,2382.3C1158.5,2382.1 1164.9,2386.7 1168.7,2387.1C1172.6,2387.6 1181.7,2387 1184.7,2385.5C1187.6,2384 1190.2,2377.2 1191,2376" fill="none" stroke="#0072bd" stroke-width="1.8" stroke-linejoin="round"/>
<path d="M1086.8,2370.2C1087,2367.9 1088.1,2351.8 1089,2347.3C1089.9,2342.7 1093.5,2329.4 1095.4,2324.9C1097.3,2320.5 1105.3,2306.9 1108.1,2302.6C1111,2298.3 1120.6,2285.7 1124.1,2281.9C1127.6,2278.1 1138.8,2267.9 1143.2,2264.4C1147.7,2260.9 1163.3,2249.3 1168.7,2246.8C1174.1,2244.3 1191.7,2240.4 1197.4,2239.5C1203.2,2238.6 1220.1,2238 1226.1,2238.2C1232.2,2238.4 1251.6,2240.6 1258,2241.4C1264.4,2242.2 1284.2,2244.2 1289.9,2245.9C1295.6,2247.5 1310.9,2255 1315.4,2258C1319.9,2261 1331,2271.7 1334.5,2275.5C1338,2279.3 1347.9,2291.9 1350.5,2296.2C1353,2300.6 1358.6,2313.5 1360.1,2318.6C1361.5,2323.7 1364.5,2341.5 1364.8,2347.3C1365.2,2353 1364,2370.5 1363.2,2376C1362.4,2381.4 1358.8,2397 1356.9,2401.5C1354.9,2405.9 1348.4,2417.9 1344.1,2420.6C1339.8,2423.3 1319.2,2428.6 1313.8,2428.6C1308.4,2428.6 1294.2,2422.4 1289.9,2420.6C1285.6,2418.9 1273.5,2413.6 1270.8,2411C1268.1,2408.5 1263.9,2398.5 1262.8,2395.1C1261.7,2391.8 1260.4,2377.9 1259.6,2377.6C1258.8,2377.2 1256.6,2389.2 1254.8,2391.9C1253.1,2394.6 1245.3,2402.6 1242.1,2404.7C1238.9,2406.7 1227.1,2411.5 1222.9,2412.6C1218.8,2413.8 1205.4,2415.5 1200.6,2415.8C1195.8,2416.1 1179.9,2416.1 1175.1,2415.8C1170.3,2415.5 1156.3,2413.6 1152.8,2412.6C1149.3,2411.7 1141.9,2408.3 1140,2406.3C1138.1,2404.2 1134.3,2394.6 1133.6,2391.9C1132.9,2389.2 1133.1,2380.4 1133,2379.2" fill="none" stroke="#8a2a8c" stroke-width="7" stroke-linejoin="round"/>
<path d="M1133,2356.2 1118.3,2389.4 1133,2381.7 1146.4,2391Z" fill="#8a2a8c"/>
<text x="950.3" y="2262" font-size="20.2" fill="#231f20" stroke="#231f20" text-anchor="start" >Origin (0 m/s; 0m/s<tspan font-size="12.4" dy="-7.4">2</tspan><tspan dy="7.4">)</tspan></text>
<path d="M1104.3,2273.3 1182.1,2355.4" fill="none" stroke="#231f20" stroke-width="3.4" />
<path d="M1188.3,2361.9 1182.8,2345.1 1180,2353.2 1171.8,2355.5Z" fill="#231f20"/>
<circle cx="1191" cy="2364.8" r="5.6" fill="#231f20"/>
<path d="M1146.4,2500.3C1143.8,2502.2 1128.5,2511.4 1124.1,2516.3C1119.6,2521.1 1111.3,2534.7 1108.1,2541.8C1105,2548.9 1098.7,2568.7 1097,2576.9C1095.3,2585 1094,2604.7 1093.8,2611.9C1093.6,2619.2 1094.5,2635.7 1095.4,2639C1096.3,2642.4 1100.5,2641.2 1101.8,2640.6C1103.1,2640.1 1105.6,2633.5 1106.5,2634.3C1107.5,2635 1108.4,2646.6 1109.7,2647C1111,2647.4 1115.3,2640.4 1117.7,2637.4C1120.1,2634.5 1127.5,2623 1130.5,2621.5C1133.4,2620 1139.5,2625.4 1143.2,2624.7C1146.9,2623.9 1158.6,2617.4 1162.3,2615.1C1166.1,2612.9 1172.5,2607.4 1175.1,2605.6C1177.7,2603.7 1183.6,2599.9 1184.7,2599.2" fill="none" stroke="#0072bd" stroke-width="1.8" stroke-linejoin="round"/>
<path d="M1146.4,2500.3C1148.4,2501.6 1160.8,2507.4 1163.9,2511.5C1167.1,2515.6 1172.2,2529.6 1173.5,2535.4C1174.8,2541.2 1174.5,2555 1175.1,2560.9C1175.7,2566.9 1177.2,2582.3 1178.3,2586.4C1179.4,2590.5 1183.9,2594.9 1184.7,2596" fill="none" stroke="#0072bd" stroke-width="1.8" stroke-linejoin="round"/>
<path d="M1117.7,2557.7C1119.9,2556.2 1131.6,2547 1136.8,2545C1142,2542.9 1155.7,2540.9 1162.3,2540.2C1169,2539.4 1186.8,2538.4 1194.2,2538.6C1201.7,2538.8 1220.7,2540.3 1226.1,2541.8C1231.5,2543.3 1237.9,2548.7 1240.5,2551.4C1243.1,2554 1247.3,2560.8 1248.4,2564.1C1249.6,2567.5 1250.8,2577.1 1250,2580.1C1249.3,2583 1244.9,2587.8 1242.1,2589.6C1239.3,2591.5 1229.5,2594.9 1226.1,2596C1222.8,2597.1 1214.5,2599.2 1213.4,2599.2C1212.3,2599.2 1214.9,2596.6 1216.6,2596C1218.2,2595.4 1226.4,2594.6 1227.7,2594.4" fill="none" stroke="#0072bd" stroke-width="1.8" stroke-linejoin="round"/>
<path d="M1111.3,2567.3C1111,2569.5 1108.1,2581.2 1108.1,2586.4C1108.1,2591.6 1109.5,2607.1 1111.3,2611.9C1113.2,2616.8 1121.8,2623.4 1124.1,2627.9C1126.3,2632.3 1129.7,2646.1 1130.5,2650.2C1131.2,2654.3 1129,2659.2 1130.5,2663C1131.9,2666.7 1140.2,2680.8 1143.2,2682.1C1146.2,2683.4 1152.2,2677.8 1156,2674.1C1159.7,2670.4 1171.8,2655.2 1175.1,2650.2C1178.5,2645.2 1182.8,2635.5 1184.7,2631.1C1186.5,2626.6 1190.3,2614.2 1191,2611.9" fill="none" stroke="#0072bd" stroke-width="1.8" stroke-linejoin="round"/>
<path d="M1191,2618.3C1192.2,2619.4 1198,2626.2 1200.6,2627.9C1203.2,2629.6 1210.4,2632.7 1213.4,2632.7C1216.3,2632.7 1223.7,2630.3 1226.1,2627.9C1228.5,2625.5 1233,2616 1234.1,2611.9C1235.2,2607.8 1235.5,2595 1235.7,2592.8" fill="none" stroke="#0072bd" stroke-width="1.8" stroke-linejoin="round"/>
<path d="M1140,2586.4C1141.9,2585.3 1151.9,2578.2 1156,2576.9C1160.1,2575.6 1171.4,2574.5 1175.1,2575.3C1178.8,2576 1185.6,2580.8 1187.9,2583.2C1190.1,2585.7 1192.7,2593.8 1194.2,2596C1195.7,2598.2 1199.1,2600.5 1200.6,2602.4C1202.1,2604.2 1207.4,2609.7 1207,2611.9C1206.6,2614.2 1200,2620.8 1197.4,2621.5C1194.8,2622.2 1187.3,2619.8 1184.7,2618.3C1182.1,2616.8 1177.3,2611 1175.1,2608.8C1172.9,2606.5 1167.8,2600.3 1165.5,2599.2C1163.3,2598.1 1156.7,2600.7 1156,2599.2C1155.2,2597.7 1157.3,2588.3 1159.2,2586.4C1161,2584.6 1168.9,2585.1 1171.9,2583.2C1174.9,2581.4 1182.1,2572.2 1184.7,2570.5C1187.3,2568.8 1192.9,2567 1194.2,2568.9C1195.5,2570.8 1196.2,2582.5 1195.8,2586.4C1195.5,2590.3 1192.3,2599.8 1191,2602.4C1189.7,2605 1185.4,2608 1184.7,2608.8" fill="none" stroke="#0072bd" stroke-width="1.8" stroke-linejoin="round"/>
<path d="M1136.8,2596C1137.6,2597.9 1141,2609.3 1143.2,2611.9C1145.4,2614.5 1152.6,2618.3 1156,2618.3C1159.3,2618.3 1168.9,2614.9 1171.9,2611.9C1174.9,2609 1179.8,2596.5 1181.5,2592.8C1183.2,2589.1 1185.3,2579.3 1186.3,2580.1C1187.2,2580.8 1188.5,2595.5 1189.5,2599.2C1190.4,2602.9 1192.9,2610.8 1194.2,2611.9C1195.5,2613.1 1200.2,2611 1200.6,2608.8C1201,2606.5 1197.8,2594.7 1197.4,2592.8" fill="none" stroke="#0072bd" stroke-width="1.8" stroke-linejoin="round"/>
<path d="M1218.2,2546.6C1218.9,2545 1224.4,2534 1226.1,2530.6C1227.9,2527.3 1232.5,2516.4 1235.7,2513.1C1238.9,2509.7 1252.9,2499.9 1258,2497.1C1263.1,2494.4 1279.7,2487.9 1286.7,2486C1293.7,2484.1 1323.2,2475.6 1328.2,2478C1333.1,2480.4 1334.9,2502.6 1336.1,2509.9C1337.4,2517.2 1340.8,2543.7 1340.9,2551.4C1341.1,2559 1338.4,2581 1337.7,2586.4C1337.1,2591.8 1336.1,2600.1 1334.5,2605.6C1332.9,2611 1325.9,2634.3 1321.8,2640.6C1317.6,2647 1299.8,2664.7 1293.1,2669.3C1286.4,2674 1262.8,2684.5 1254.8,2686.9C1246.8,2689.3 1221.3,2693.4 1213.4,2693.3C1205.4,2693.1 1182.1,2687 1175.1,2685.3C1168.1,2683.5 1148,2678.3 1143.2,2675.7C1138.4,2673.2 1129.7,2663 1127.3,2659.8C1124.9,2656.6 1120.3,2648.6 1119.3,2643.8C1118.3,2639 1117.7,2617.7 1117.7,2611.9C1117.7,2606.2 1118.8,2590.4 1119.3,2586.4C1119.8,2582.4 1121.1,2573.6 1122.5,2572.1C1123.9,2570.5 1131.9,2569 1133.6,2571.1C1135.4,2573.2 1139.1,2588.1 1140,2592.8C1141,2597.5 1142.6,2614.2 1143.2,2618.3C1143.9,2622.5 1145.8,2631.5 1146.4,2634.3C1147,2637 1149.1,2645.7 1149.6,2645.4C1150.1,2645.1 1151.2,2634.7 1151.2,2631.1C1151.2,2627.4 1150.2,2613.2 1149.6,2608.8C1149,2604.3 1145.5,2590.9 1144.8,2586.4C1144.1,2582 1142.4,2567.9 1142.3,2564.1C1142.1,2560.3 1141.2,2549.3 1143.2,2548.2C1145.2,2547 1157.9,2551.8 1162.3,2552.9C1166.8,2554.1 1182.4,2558.6 1187.9,2559.3C1193.3,2560.1 1212.7,2559.5 1216.6,2560.3C1220.4,2561.1 1225.1,2565.6 1226.1,2567.3C1227.2,2569 1227,2575.9 1227.1,2576.9" fill="none" stroke="#8a2a8c" stroke-width="7" stroke-linejoin="round"/>
<path d="M1227.7,2595.4 1212.7,2565.7 1226.8,2573 1241.1,2563.5Z" fill="#8a2a8c"/>
<text x="943.9" y="2493.2" font-size="20.2" fill="#231f20" stroke="#231f20" text-anchor="start" >Origin (0 rad/s; 0rad/s<tspan font-size="12.4" dy="-7.4">2</tspan><tspan dy="7.4">)</tspan></text>
<path d="M1097.9,2503.5 1175.8,2587.1" fill="none" stroke="#231f20" stroke-width="3.4" />
<path d="M1181.9,2593.7 1176.6,2576.8 1173.8,2584.9 1165.5,2587.2Z" fill="#231f20"/>
<circle cx="1184.7" cy="2596.6" r="5.6" fill="#231f20"/>
<path d="M1437.9,2383.2C1437.5,2381.1 1435.1,2370 1435.1,2365.3C1435.1,2360.6 1436.2,2350 1437.9,2343.3C1439.5,2336.5 1445,2315.5 1448.9,2307.4C1452.7,2299.4 1465.5,2280.5 1470.9,2274.4C1476.4,2268.3 1490.2,2258.8 1495.7,2255.1C1501.2,2251.4 1512,2245 1517.8,2242.7C1523.5,2240.5 1538.9,2236.7 1545.3,2235.8C1551.7,2234.9 1565.8,2235.1 1572.9,2235.3C1579.9,2235.4 1598.4,2236.5 1605.9,2237.2C1613.5,2237.9 1631.2,2239.6 1637.6,2241.3C1644,2243.1 1656,2249.3 1661,2252.3C1666,2255.4 1676.1,2263.3 1680.3,2267.5C1684.5,2271.7 1693.6,2283.2 1696.8,2288.2C1700.1,2293.1 1705.9,2303.8 1707.9,2310.2C1709.8,2316.6 1713,2335.2 1713.4,2343.3C1713.7,2351.3 1711.7,2372 1710.6,2379.1C1709.5,2386.2 1706,2399.5 1703.7,2403.9C1701.5,2408.2 1696.3,2413.9 1691.3,2416.3C1686.3,2418.7 1666.8,2424.4 1661,2424.5C1655.2,2424.7 1646.2,2419.7 1641.7,2417.7C1637.2,2415.6 1625.8,2409.5 1622.4,2406.6C1619.1,2403.7 1614.5,2396.7 1612.8,2392.9C1611.1,2389 1609.6,2373.9 1608.1,2373.6C1606.7,2373.2 1602.6,2386.9 1600.4,2390.1C1598.2,2393.3 1592.6,2398.9 1589.4,2401.1C1586.2,2403.4 1577.4,2408.1 1572.9,2409.4C1568.4,2410.7 1556,2411.8 1550.8,2412.1C1545.7,2412.5 1533.9,2412.5 1528.8,2412.1C1523.6,2411.8 1511.2,2410.7 1506.7,2409.4C1502.2,2408.1 1492.8,2403.4 1490.2,2401.1C1487.6,2398.9 1485,2392.2 1484.7,2390.1C1484.4,2388 1484.9,2384.2 1487.4,2383.2C1490,2382.2 1502.2,2381.8 1506.7,2381.8C1511.2,2381.8 1522.5,2383.9 1526,2383.2C1529.6,2382.6 1535.8,2377.1 1537,2376.3" fill="none" stroke="#0072bd" stroke-width="1.8" stroke-linejoin="round"/>
<path d="M1437.9,2383.2C1439.1,2383.2 1446.6,2383.7 1448.9,2383.2C1451.1,2382.7 1456,2380.8 1457.1,2379.1C1458.3,2377.3 1458.2,2368.1 1458.5,2368.1C1458.8,2368.1 1458.8,2377.2 1459.9,2379.1C1461,2381 1465.6,2384 1468.2,2384.6C1470.7,2385.2 1480.3,2384.1 1481.9,2384" fill="none" stroke="#0072bd" stroke-width="1.8" stroke-linejoin="round"/>
<path d="M1481.9,2384.6C1481.9,2381.1 1481.3,2360.4 1481.9,2354.3C1482.6,2348.2 1484.9,2336.4 1487.4,2332.2C1490,2328.1 1500.4,2320.4 1504,2318.5C1507.5,2316.5 1514.5,2315.4 1517.8,2315.7C1521,2316 1528.8,2318.7 1531.5,2321.2C1534.3,2323.8 1539.9,2333.6 1541.2,2337.8C1542.5,2341.9 1542.4,2354.8 1542.6,2357" fill="none" stroke="#0072bd" stroke-width="1.8" stroke-linejoin="round"/>
<path d="M1501.2,2376.3C1500.9,2374.4 1498.1,2363.3 1498.5,2359.8C1498.8,2356.3 1501.7,2348.9 1504,2346C1506.2,2343.1 1514.2,2336.8 1517.8,2335C1521.3,2333.2 1531.4,2330.5 1534.3,2330.9C1537.2,2331.2 1541.6,2337 1542.6,2337.8" fill="none" stroke="#0072bd" stroke-width="1.8" stroke-linejoin="round"/>
<path d="M1531,2359.2C1532.3,2359.3 1540.2,2360.1 1542.6,2359.8C1544.9,2359.5 1548.9,2357.2 1550.8,2357C1552.7,2356.9 1556.8,2358.7 1559.1,2358.4C1561.3,2358.1 1569,2353.8 1570.1,2354.3C1571.2,2354.8 1570,2361.3 1568.7,2362.6C1567.4,2363.8 1560.5,2363.7 1559.1,2365.3C1557.6,2366.9 1557.6,2374.6 1556.3,2376.3C1555,2378.1 1550,2380.5 1548.1,2380.5C1546.1,2380.5 1541.1,2378.1 1539.8,2376.3C1538.5,2374.6 1537.4,2366.6 1537,2365.3" fill="none" stroke="#0072bd" stroke-width="1.8" stroke-linejoin="round"/>
<path d="M1487.4,2392.9C1489.1,2393.5 1498.3,2398 1501.2,2398.4C1504.1,2398.7 1509.7,2394 1512.2,2395.6C1514.8,2397.2 1520.7,2409.2 1523.3,2412.1C1525.8,2415 1533,2419.4 1534.3,2420.4" fill="none" stroke="#0072bd" stroke-width="1.8" stroke-linejoin="round"/>
<circle cx="1539.8" cy="2362.6" r="4.5" fill="#231f20"/>
<path d="M1538.4,2358.4C1539.3,2356.4 1543.3,2346.8 1545.3,2343.3C1547.3,2339.8 1550.6,2334.4 1553.6,2332.2C1556.5,2330.1 1564,2327.7 1567.3,2327.3C1570.7,2326.9 1575.8,2327.7 1578.4,2329.5C1580.9,2331.3 1585.3,2336.5 1586.6,2340.5C1587.9,2344.6 1588,2355 1588,2359.8C1588,2364.6 1587.9,2372.3 1586.6,2376.3C1585.3,2380.4 1581.7,2387.2 1578.4,2390.1C1575.1,2393 1566.2,2396.9 1561.8,2398.4C1557.4,2399.8 1549.7,2401.1 1545.3,2401.1C1540.9,2401.1 1532.8,2399.5 1528.8,2398.4C1524.7,2397.3 1517.9,2394.7 1515,2392.9C1512.1,2391 1508.2,2386.8 1506.7,2384.6C1505.3,2382.4 1504.7,2376.7 1504,2376.3C1503.2,2376 1502.3,2378.9 1501.2,2381.8C1500.1,2384.8 1497.4,2394.5 1495.7,2398.4C1494.1,2402.2 1490.5,2409.3 1488.8,2410.8C1487.2,2412.2 1484.4,2411.8 1483.3,2409.4C1482.2,2407 1480.6,2398.7 1480.6,2392.9C1480.6,2387 1482.2,2372.7 1483.3,2365.3C1484.4,2358 1486.4,2344.7 1488.8,2337.8C1491.2,2330.8 1497.4,2317.9 1501.2,2313C1505.1,2308 1512.6,2302.8 1517.8,2300.6C1522.9,2298.4 1533.9,2297 1539.8,2296.4C1545.7,2295.9 1556,2295.7 1561.8,2296.4C1567.7,2297.2 1579.8,2299 1583.9,2301.9C1587.9,2304.9 1590.7,2313.3 1592.1,2318.5C1593.6,2323.6 1594.7,2334.3 1594.9,2340.5C1595.1,2346.8 1593.9,2359.1 1593.5,2365.3C1593.2,2371.6 1593.4,2382.2 1592.1,2387.3C1590.9,2392.5 1586.4,2400.2 1583.9,2403.9C1581.3,2407.6 1576.2,2412.7 1572.9,2414.9C1569.6,2417.1 1562.4,2419.5 1559.1,2420.4C1555.8,2421.3 1549.5,2421.6 1548.1,2421.8" fill="none" stroke="#2fad55" stroke-width="6.2" stroke-linejoin="round" stroke-linecap="round"/>
<path d="M1526,2413.5 1562.4,2408.8 1551.4,2420.4 1556.3,2435.6Z" fill="#2fad55"/>
<path d="M1572.9,2530.6C1574,2528.7 1580.6,2515 1583.9,2511.3C1587.2,2507.6 1600.7,2496.4 1605.9,2493.4C1611.2,2490.4 1629.2,2482.9 1636.2,2481C1643.2,2479.2 1671.2,2472.8 1676.2,2475C1681.1,2477.2 1684.3,2496.1 1685.8,2503.1C1687.3,2510 1691.5,2534.7 1691.3,2544.4C1691.2,2554 1686.6,2589.8 1684.4,2599.5C1682.2,2609.1 1673.8,2633.4 1669.3,2640.8C1664.7,2648.3 1645.3,2668.9 1639,2673.9C1632.6,2678.8 1613.6,2688.2 1605.9,2690.4C1598.2,2692.6 1570.1,2696.5 1561.8,2695.9C1553.6,2695.4 1529.9,2686.4 1523.3,2684.9C1516.7,2683.4 1499.7,2681.9 1495.7,2680.8C1491.7,2679.7 1485.2,2676.8 1483.3,2673.9C1481.4,2671 1477.7,2656.2 1476.4,2651.8C1475.2,2647.4 1471.6,2634.2 1470.9,2629.8C1470.2,2625.4 1469.5,2612.4 1469.5,2607.8C1469.5,2603.1 1470.2,2586.8 1470.9,2583C1471.6,2579.1 1474.8,2570.8 1476.4,2569.2C1478.1,2567.5 1485.8,2568.1 1487.4,2566.4C1489.1,2564.8 1492.4,2554.9 1493,2552.7C1493.5,2550.4 1491,2544.5 1493,2544.4C1494.9,2544.2 1508.1,2550.3 1512.2,2551.3C1516.4,2552.2 1529.9,2553.6 1534.3,2554C1538.7,2554.4 1552.7,2555 1556.3,2555.4C1559.9,2555.8 1568,2556.8 1570.1,2558.2C1572.2,2559.5 1576.3,2565.9 1577,2569.2C1577.7,2572.5 1577.4,2587.9 1577,2591.2C1576.6,2594.5 1573.3,2601.1 1572.9,2602.2" fill="none" stroke="#0072bd" stroke-width="1.8" stroke-linejoin="round"/>
<path d="M1494.3,2496.2C1492,2497.4 1474.8,2505.1 1470.9,2508.6C1467.1,2512 1458.2,2524.3 1455.8,2530.6C1453.3,2536.9 1447.6,2563.7 1446.1,2571.9C1444.6,2580.2 1440.8,2606.1 1440.6,2613.3C1440.5,2620.4 1443.4,2640.3 1444.7,2643.6C1446.1,2646.9 1452.6,2647.4 1454.4,2646.3C1456.2,2645.2 1461,2635.9 1462.7,2632.6C1464.3,2629.2 1469.7,2614.6 1470.9,2613.3C1472.2,2611.9 1473.7,2617.1 1475.1,2618.8C1476.4,2620.4 1482.4,2629.2 1484.7,2629.8C1487,2630.3 1497.1,2624.8 1498.5,2624.3" fill="none" stroke="#0072bd" stroke-width="1.8" stroke-linejoin="round"/>
<path d="M1494.3,2496.2C1496.1,2497.4 1509.5,2505.1 1512.2,2508.6C1515,2512 1520.4,2525.7 1521.9,2530.6C1523.4,2535.6 1526.4,2552.7 1527.4,2558.2C1528.4,2563.7 1531.1,2583 1531.5,2585.7" fill="none" stroke="#0072bd" stroke-width="1.8" stroke-linejoin="round"/>
<path d="M1572.9,2530.6C1571.5,2533.4 1561.6,2552.7 1559.1,2558.2C1556.6,2563.7 1550.3,2580.2 1548.1,2585.7C1545.9,2591.2 1539,2607.8 1537,2613.3C1535.1,2618.8 1531,2635.9 1528.8,2640.8C1526.6,2645.8 1518.3,2658.7 1515,2662.9C1511.7,2667 1497.6,2680.2 1495.7,2682.1" fill="none" stroke="#0072bd" stroke-width="1.8" stroke-linejoin="round"/>
<path d="M1484.7,2569.2C1484.6,2572.2 1483,2593.7 1483.3,2599.5C1483.6,2605.3 1486.5,2627 1487.4,2627C1488.4,2627 1491.9,2604.2 1493,2599.5C1494.1,2594.8 1497.4,2579.4 1498.5,2580.2C1499.6,2581 1504,2601.7 1504,2607.8C1504,2613.8 1498.6,2640.3 1498.5,2640.8C1498.3,2641.4 1501.5,2620.2 1502.6,2613.3C1503.7,2606.4 1508,2574.7 1509.5,2571.9C1511,2569.2 1516.4,2583 1517.8,2585.7C1519.1,2588.5 1522.2,2599.5 1523.3,2599.5C1524.4,2599.5 1527.8,2589.3 1528.8,2585.7C1529.7,2582.1 1532.4,2563.7 1532.9,2563.7C1533.5,2563.7 1533.7,2582.1 1534.3,2585.7C1534.8,2589.3 1537.3,2600.9 1538.4,2599.5C1539.5,2598.1 1544.9,2571.9 1545.3,2571.9C1545.7,2571.9 1542,2595.9 1542.6,2599.5C1543.1,2603.1 1550.5,2605.8 1550.8,2607.8C1551.1,2609.7 1547,2618.2 1545.3,2618.8C1543.7,2619.3 1535.4,2613.8 1534.3,2613.3" fill="none" stroke="#0072bd" stroke-width="1.8" stroke-linejoin="round"/>
<path d="M1473.7,2566.4C1475.3,2566.7 1486.6,2569.2 1490.2,2569.2C1493.8,2569.2 1505.6,2566.2 1509.5,2566.4C1513.3,2566.7 1525.2,2571.7 1528.8,2571.9C1532.4,2572.2 1543.4,2567.8 1545.3,2569.2C1547.2,2570.6 1547.2,2581.9 1548.1,2585.7C1548.9,2589.6 1551.1,2605.8 1553.6,2607.8C1556.1,2609.7 1570.9,2605.3 1572.9,2605" fill="none" stroke="#0072bd" stroke-width="1.8" stroke-linejoin="round"/>
<path d="M1561.8,2599.5C1564.4,2598.7 1579.7,2594.2 1583.9,2592.6C1588.1,2591 1595.7,2587.8 1597.7,2585.7C1599.6,2583.6 1600.4,2578.6 1600.4,2574.7C1600.4,2570.8 1598.9,2556.5 1597.7,2552.7C1596.4,2548.8 1592.3,2543.7 1589.4,2541.6C1586.5,2539.5 1577.4,2535.7 1572.9,2534.7C1568.4,2533.8 1556.6,2533.3 1550.8,2533.4C1545,2533.5 1530.3,2534.8 1523.3,2535.6C1516.2,2536.4 1495.7,2539.2 1490.2,2540.3C1484.7,2541.3 1479.3,2542.9 1476.4,2544.4C1473.5,2545.8 1467.3,2549.8 1465.4,2552.7C1463.5,2555.5 1461,2564.4 1459.9,2569.2C1458.8,2574 1456.6,2588.2 1455.8,2594C1455,2599.8 1453,2614 1453,2618.8C1453,2623.6 1455,2632.4 1455.8,2635.3C1456.6,2638.2 1458.5,2644.2 1459.9,2643.6C1461.3,2642.9 1465.6,2633.3 1468.2,2629.8C1470.7,2626.3 1478.7,2615.5 1481.9,2613.3C1485.2,2611 1493.5,2611.8 1495.7,2610.5C1498,2609.2 1499.8,2604.7 1501.2,2602.2C1502.7,2599.8 1506.5,2590.2 1508.1,2589.8C1509.7,2589.5 1512.9,2597.9 1515,2599.5C1517.1,2601.1 1523.4,2603.3 1526,2603.6C1528.6,2603.9 1535.4,2601.1 1537,2602.2C1538.6,2603.4 1538.8,2611 1539.8,2613.3C1540.8,2615.5 1543.1,2619.8 1545.3,2621.5C1547.6,2623.3 1556.2,2627.9 1559.1,2628.4C1562,2628.9 1567.7,2627.4 1570.1,2625.7C1572.5,2623.9 1578.1,2616.3 1579.7,2613.3C1581.4,2610.2 1583.4,2602.1 1583.9,2599.5C1584.4,2596.9 1583.9,2592.2 1583.9,2591.2" fill="none" stroke="#2fad55" stroke-width="6.2" stroke-linejoin="round" stroke-linecap="round"/>
<path d="M1534.3,2596.7 1536.5,2633.1 1545.3,2618.8 1562.4,2622.1Z" fill="#2fad55"/>
<circle cx="1533.7" cy="2598.7" r="5.6" fill="#231f20"/>
</g>
</svg>
</body>
</html>
